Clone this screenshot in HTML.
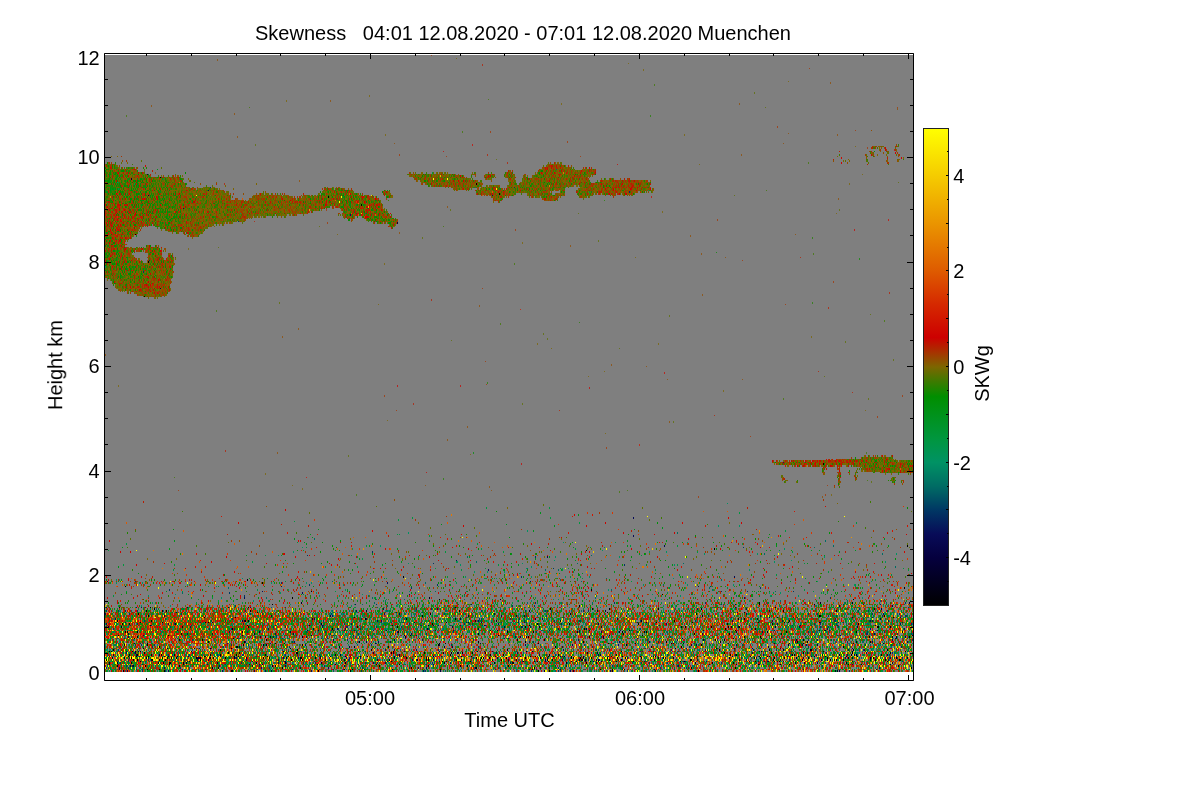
<!DOCTYPE html>
<html><head><meta charset="utf-8"><title>Skewness</title>
<style>html,body{margin:0;padding:0;background:#fff;overflow:hidden}svg{display:block}</style>
</head><body>
<svg width="1200" height="800" viewBox="0 0 1200 800">
<rect width="1200" height="800" fill="#fff"/>
<rect x="105" y="55" width="808" height="617" fill="#7f7f7f"/>
<g transform="translate(105.5,55)" fill="none" stroke-width="1" shape-rendering="crispEdges">
<path stroke="#000000" d="M1 604v2m3-10v1m2-1v1m1 5v2m1-10v2m4-31v2m0 40v2m0 1v2m1-32v1m3-10v2m1-5v2m1 45v2m1-28v2m0 11v2m1-73v1m0 44v2m2-2v2m1 23v1m1-3v2m2 1v2m0 3v2m1-13v1m2-14v1m1-405v1m0 416v1m1 4v1m1-26v2m0 3v2m0 16v2m0 3v2m1-48v2m2 7v1m0 28v1m0 9v1m4-366v1m0 355v2m1 11v2m1-57v2m0 45v2m1-16v3m0 23v1m1-409v2m0 352v2m0 39v1m2-50v1m0 17v1m1-6v2m0 32v2m1 3v2m2-53v2m5 36v2m0 11v2m0 8v1m1-493v1m1 476v2m1-34v1m0 34v2m1 3v2m1 6v2m1-13v2m1-51v2m2 23v1m0 20v1m1 5v3m1-3v2m4-10v2m2 1v2m1-3v1m2 8v2m2-34v2m2 27v3m3-3v2m8-16v1m2 8v2m4-2v4m2-22v2m2-24v1m0 38v1m1-35v1m3-1v1m0 18v2m2 5v1m0 5v2m0 1v2m2 8v2m1-12v2m5 8v2m2-20v2m0 3v2m5 1v2m3-7v2m3-6v1m0 21v2m1-44v2m0 40v2m1-34v1m1 17v1m1-40v1m1 28v2m0 6v2m1-10v2m1 8v1m1-5v2m3-23v2m1 11v2m1-5v2m1-23v2m2-43v2m0 44v1m1-19v1m0 12v2m0 4v2m2-18v2m6 50v2m1-52v1m5-31v2m0 80v1m1-21v2m0 11v2m2-23v2m0 16v2m1-17v2m0 3v2m1 10v1m2 0v2m3-55v1m0 60v2m3-24v1m0 21v2m7 0v2m1-18v1m2 10v2m1-7v2m2-3v1m2-9v1m1 10v2m1-64v2m4 53v2m1-5v2m0 1v2m3 3v2m1-2v2m1-23v2m0 6v2m0 13v2m7-36v1m2-35v1m0 43v1m4 21v2m2 5v1m1 5v2m3-49v2m7-429v2m2 458v1m2-29v2m12 29v2m0 8v1m1-14v1m0 5v2m5 6v2m2-3v1m2-53v1m0 28v2m3-22v2m2 13v2m1 13v1m1-453v2m4 412v2m2 36v1m4-8v2m8 14v2m9-21v2m1 11v2m2-9v2m1-29v1m0 43v1m1-19v1m1 5v2m3-33v2m1 3v2m1 31v1m4-89v2m0 78v1m3-39v2m0 37v2m4-24v1m1 31v2m3-47v1m1 33v1m6-1v1m1-42v2m2 35v2m2 5v2m2-36v1m0 33v2m0 4v2m2-54v2m2 8v2m1 31v1m5-13v2m1-47v1m0 43v1m1 25v1m2-9v1m2 0v2m1-21v1m5 10v2m1-4v2m4-36v2m1 39v2m3-51v2m1 53v2m1-11v1m0 2v2m1-9v2m5 11v2m3-6v1m1-6v1m1-5v2m4-471v2m0 472v2m0 8v2m1-18v1m1-19v2m0 6v2m2 16v2m1-4v2m4-7v2m4 3v2m1-5v2m2 3v2m2 1v2m4-29v1m1-443v2m1 404v1m1 59v2m2-7v2m3 1v2m1-28v2m0 16v2m1 14v2m5-5v2m4-25v2m6 20v1m2-36v2m0 13v2m0 14v2m1-8v1m2-16v2m1-13v1m1 30v1m2-6v1m1-21v2m1 34v2m1-13v1m2-34v2m0 36v1m1-19v1m0 26v2m2-15v2m4-20v2m4 15v1m0 4v1m1-8v2m0 14v2m1-64v2m2 49v2m1-5v1m2-11v2m3 6v2m6 0v1m2 5v2m3-41v2m2 31v3m2-2v2m3 2v1m3-57v2m0 52v2m1-4v2m3-18v2m1-15v2m1 29v2m1-111v1m0 111v2m3-28v2m1 23v1m1-73v2m0 66v2m5 0v2m2 0v1m2 7v1m7-58v1m0 44v2m1-16v1m1-36v2m0 25v1m0 23v2m3 8v1m4-9v1m1-5v2m4-8v1m0 7v2m1-30v2m0 23v1m2 12v1m1-13v2m1-15v2m3-16v1m4 30v1m2-19v1m3-21v2m2 31v1m1-37v2m0 35v2m1-24v1m4-5v2m7 23v1m1 2v2m1-5v1m1-35v1m2-15v2m0 47v2m4-65v1m1 62v2m3-18v2m5 0v1m2 13v2m1-39v2m6 39v1m1-36v2m0 18v2m1-10v1m2 22v1m1-36v2m5 31v2m1-2v2m0 6v2m1-47v1m2 10v2m1 27v2m1-51v2m2 55v2m3-64v2m0 34v2m1-31v2m9 9v2m1 34v2m2-116v2m1 89v2m1 7v1m3 0v2m1-10v2m4-4v2m0 11v2m1-26v2m2-7v2m1 1v2m1 5v2m0 22v2m1-5v2m3-18v1m0 23v2m2-34v1m0 36v2m1-15v2m2-38v2m1 6v2m0 31v2m5-49v1m0 5v2m0 16v2m6 18v1m4 0v2m1 2v1m3-40v1m0 41v1m1-63v3m0 51v1m1-21v2m0 19v2m1-21v1m0 12v1m6-21v2m0 23v1m2-8v2m0 5v1m2-5v2m1-31v2m1 34v2m1-4v2m0 2v1m1-55v1m2 9v1m2 43v1m1 2v1m3-55v2m0 37v2m1-29v1m0 34v2m2-28v2m2 11v2m1-3v1m0 20v1m3-11v2m2-2v2m1 6v2m1-7v2m1-18v2m1 13v1m4 2v2m1-22v2m0 2v1m0 8v2m4-13v2m1 14v2m2-10v2m4-47v1m0 51v1m5-42v2m0 5v1m1-8v2m3-154v2m2 165v1m0 25v1m2 0v2m3 0v2m6-51v2m0 47v2m7-15v2m0 11v2m3-5v1m0 5v2m2-7v2m0 5v1m3-11v2m1-54v2m0 48v2m1-55v1m0 49v2m3-20v2m0 21v2m1 0v1m1-34v2m3 39v1m8-29v2m1 3v2m0 14v2m3-2v2m2 0v2m3-35v2m3 26v2m2-13v1m1-29v2m1 42v2m2-12v2m0 10v1m3-36v2m0 24v2m0 10v1m2-29v2m1-21v1m3 18v2m0 19v2m2 6v2m1-8v2m1-2v2m2-30v2m2-46v2m1 62v1m2-107v2m2 89v2m2 29v2"/>
<path stroke="#02001f" d="M4 607v2m10-57v1m10 15v2m4 34v2m0 4v2m1-24v1m9 4v1m15 13v2m1-10v2m3-46v2m5 36v1m0 8v2m4-2v2m4-36v2m7 1v2m7 33v1m2-11v1m21-30v1m16-16v1m6 49v2m8-24v1m4 21v2m8-26v2m16 1v2m14 5v1m17-42v2m20 58v2m4-5v2m10-7v2m0 8v1m4-19v2m1 6v2m26-46v2m9 31v1m1 20v1m15-4v1m8-8v2m5-21v1m1 0v2m12 21v2m9-4v2m3-62v2m14 53v2m1-8v2m2-26v1m9-16v1m2 44v2m11-39v2m0 5v1m15 34v2m1-34v1m12-6v2m16 40v2m4-5v2m13-51v2m5 49v1m5-36v2m8 31v2m13-41v2m10-9v2m1 46v1m6-31v2m5 26v2m1-5v1m3-29v2m1 22v2m5-46v2m5 42v2m3 0v2m1-30v2m0 33v1m2-26v2m8 18v1m1 13v2m7-41v2m4 0v2m21-4v2m7 13v2m24 0v1m8-6v1m14 12v1m6-18v2m1 15v1m27-31v2m3 20v1m1-45v1m1 59v1m19-37v2m16 6v2m4-12v2m6 5v2m7-13v1m1-3v2m15 40v2m7-15v2m8-21v1m1-29v2m1 55v2m2-10v1m12 18v2m2-2v2m2-18v2m13-5v1m0 5v2m1-16v1m3-3v2m21-17v2m26 15v1m4 13v2m5-24v1"/>
<path stroke="#05003e" d="M2 526v1m1 44v2m1 36v1m4-11v2m15-23v2m0 1v2m2 27v2m1-489v2m4 472v2m1 0v2m2-5v1m9-478v1m1 20v1m3 463v2m9-373v1m4 326v2m0 39v1m12-45v1m1 17v1m2 8v2m8-34v1m1 48v1m9 0v4m1-4v2m1-2v2m6-3v1m3 2v2m1-4v2m3-26v2m5 27v2m22-18v2m3-28v2m2-2v2m5 42v1m3-4v1m0 3v2m7-36v2m1 3v2m11-23v2m0 53v2m14-11v1m0 3v2m5-36v2m3 0v2m7 32v2m7-39v1m5-13v2m1 8v2m5 0v1m2 25v3m10-44v2m3 22v2m11 24v2m5-21v2m17-7v2m7 9v2m4 5v2m9-31v1m7 21v2m1-15v2m0 15v1m3-435v2m2 389v2m0 41v1m27 10v2m1-41v2m1 27v2m5-34v1m0 33v2m6-17v2m0 5v1m1 18v2m6-11v1m6-36v2m0 18v2m6 4v2m0 2v1m2-39v2m1 15v1m14-16v2m0 45v2m3-41v2m2 13v1m1-22v1m9 7v1m4-18v2m1 41v1m2-27v1m0 26v2m4-44v2m3 9v2m4 31v2m8-46v2m0 39v1m4-21v2m0 18v1m4-42v2m2 19v2m6 31v1m3-52v2m9 50v2m1-13v2m15-5v1m12-13v2m1 24v2m8-13v2m2-4v2m6-29v1m4 30v1m3 0v2m1-54v2m1 11v2m0 29v2m0 3v2m5-23v1m2-29v2m11 42v2m1-38v2m29 2v1m8 46v1m1 0v2m18-29v1m0 20v1m18-21v2m5-2v2m1-29v1m5 15v2m1-5v1m6 33v1m19-22v1m4 12v1m3-50v1m1 23v2m2-7v2m8 31v2m3 0v1m3-14v1m5-31v2m2 44v1m9-19v2m0 13v1m1-45v1m5 25v1m3 17v1m19-23v2m4-16v1m2 18v2m9 10v1m6-13v2m0 16v2m3-42v1m2 31v2m2-26v1m3 28v2m7-2v2m5-56v2m0 63v2m1-37v1m12-19v1m0 43v1m2-8v2m3-30v2m13 31v2m4-53v2m0 23v2m1-10v1m1 43v1m1-40v1m3-13v2m1-12v2m6 44v2m5-51v2m0 55v2m13-28v2m4-36v2"/>
<path stroke="#080c58" d="M0 558v2m1-8v1m0 15v2m3 31v1m6-39v2m4 47v3m6-48v1m1 28v3m1 16v2m5-7v2m4-60v1m3 48v1m2-50v1m1 56v1m1-30v1m5 21v2m16 8v2m4-46v2m0 45v2m15-464v1m4 424v2m0 26v1m3-36v2m3 28v1m6-9v1m8 15v1m1-475v1m11 474v2m1-11v1m2 13v2m7-41v2m7 24v2m1-21v1m7-42v2m1 42v2m1 16v2m4-54v1m4 62v2m5-8v1m2 2v2m1-78v1m3 78v2m3-44v2m2 13v1m3-8v2m2-13v1m0 7v2m3 24v2m0 1v2m3-78v1m2 70v2m1 2v1m1-36v2m7 41v1m2-29v2m4 14v2m2 0v2m2-69v2m3 50v2m1-10v2m5 32v2m3-54v2m5 2v1m3 2v3m6 39v2m4-54v2m1 13v1m4-3v2m7 0v1m1-3v2m1 27v2m4-445v2m0 440v1m1-34v2m2 10v1m1-6v1m1-27v1m1 5v2m1 45v2m1-8v1m0 12v1m2-8v2m4 10v1m2-52v2m2 15v1m5-6v1m0 31v2m4-44v2m1 19v2m3-23v2m2-14v2m1 3v2m1 34v2m0 11v2m2-82v2m0 77v1m3-21v2m3-13v1m1 18v2m2-39v1m1 18v2m7 18v1m1-14v1m4-45v1m2 38v2m1 24v2m4-26v1m0 13v2m0 8v2m2 6v2m1-31v1m3 0v2m1 29v2m10-8v1m2-35v1m2-23v2m1 15v1m1 35v1m2-6v1m9 5v2m3-34v1m3-71v1m4 64v1m6-4v1m5-19v1m7 15v2m6 29v1m1-27v1m3-57v2m2 93v1m2-470v1m0 455v1m4 0v2m2-31v2m6 13v1m3-9v1m1 7v1m0 22v1m2 0v2m5-28v2m2 14v2m1-32v1m3 3v2m3-6v1m1 21v2m4 23v1m1-89v1m0 44v2m9 26v2m1 11v2m2-51v2m3 41v1m2-106v2m0 99v2m2-29v1m0 36v2m9-41v2m2 39v1m1-47v2m1 21v2m0 8v1m0 2v2m1-12v2m3 14v2m4 3v2m8-33v2m1-11v3m6 28v1m14-3v2m2-30v2m7 23v1m2 13v2m8-28v2m0 13v2m1-20v2m1-13v1m2 38v1m4-55v2m1 40v2m6-142v2m0 16v2m4 85v1m0 15v1m7 22v1m5-21v2m2 13v1m2-6v1m6-27v1m5-81v2m1 110v2m1-36v2m11 14v2m1 24v2m5-6v1m2-1v1m1-14v1m11-41v2m0 49v2m1-75v1m7 62v2m1 10v1m26-42v2m2-46v2m1 76v2m1-12v2m1-34v1m7-16v2m2 9v2m0 3v2m3 10v1m3 26v2m1-5v2m3 6v2m2 2v1m1-11v1m1-37v2m2 14v2m1 21v2m1 5v1m3-1v1m2-52v2m3 8v2m2 8v1m3-8v2m3 23v1m0 10v2m2-41v2m1 39v1m3-10v2m1 2v1m6-40v1m0 43v1m2-21v2m2-26v1m2 8v2m0 16v2m4 11v2m0 10v1m2-48v1m1 21v2m1 6v2m10-15v2m10-13v2m2 0v1m8-6v1m1-4v1m7 34v2m2-5v2m1-7v2m4-3v1m0 15v1m11-61v1m1 44v2m1-7v2m1 6v2m4-34v2m0 6v2m2-13v1m0 2v2m0 19v2m4 13v1m3 10v2m1-65v1m0 38v1m3-31v2m5 5v2m0 37v2m2-4v2m2-20v2m3-3v1m1-1v1m0 17v1m4-40v1m0 5v2m1 21v2m1-26v1m2 5v2m3 11v2"/>
<path stroke="#003764" d="M1 555v2m0 14v2m0 39v2m1-5v1m6-37v2m2-8v1m1 20v1m2-34v2m0 37v2m0 10v1m0 2v1m2-3v2m4-26v1m1-29v2m1 53v2m2-8v3m0 5v2m1-56v2m0 42v2m1-34v1m2 22v1m2 3v2m1-73v1m0 62v2m1 23v1m1-60v2m0 11v2m1 23v1m2-6v1m1 0v2m1 23v3m1-401v2m1 347v2m1-15v1m1 7v2m2 42v2m1-401v1m2 364v1m1 20v2m2-4v2m9 15v1m2-44v2m0 50v2m3-18v2m1-67v2m1 35v2m2 26v2m2-33v2m6 42v2m1-56v2m0 44v2m1 8v1m2-11v2m1-26v1m4 18v2m2-31v1m1 13v2m0 11v2m6 7v1m2-40v1m5-13v2m0 3v2m0 52v1m4-42v2m1-443v1m1 432v2m0 26v1m3 7v1m3-3v2m6-21v1m0 10v2m2-28v2m0 42v1m2-22v1m2-52v2m0 63v2m1 2v1m1-34v2m0 14v2m1-28v2m0 32v2m2-26v2m1-25v2m0 50v2m3-438v1m1 435v2m2 3v2m1-10v2m1-33v2m0 29v2m1-61v2m1 13v2m1 52v1m1-34v2m1 11v2m2-33v2m5 21v2m1 18v1m1 12v1m2-5v2m3-54v2m7 52v2m4-43v2m3 7v3m5-56v2m1 54v1m3-32v1m0 46v2m1 6v2m2-13v1m1-6v2m3-35v2m0 26v2m4-8v1m1 18v2m6 6v2m3-33v2m1-78v1m0 96v2m2-70v2m5 75v1m1 0v2m4-10v2m0 13v1m2-32v1m2-19v2m0 3v1m1 39v2m1-36v2m2 5v1m3-6v2m0 27v2m1-51v2m0 15v1m2 4v1m0 33v1m3-13v2m2-31v2m3 29v2m2 8v1m1-47v2m2 1v2m1-2v2m0 11v2m1 18v2m1-4v4m7-30v2m2 0v2m1 1v2m1-10v2m1-12v2m0 50v2m1-5v2m3-18v1m0 10v2m6-20v2m0 10v1m1-106v2m0 95v1m4-45v1m0 21v2m0 15v1m1 18v2m4-42v1m4 12v1m4 20v1m2-35v1m1 5v2m3 3v2m2 19v2m4-30v2m2-6v1m2-6v1m0 38v1m4-34v2m0 42v2m2-82v2m1 18v1m4 0v2m4 15v1m1-4v1m0 2v1m1-14v1m3 57v2m1-39v2m0 29v1m2-37v2m3-22v2m1 52v2m1-101v1m0 101v2m2-11v1m2-73v2m1 63v2m1-16v1m4 2v1m1-26v2m5 33v1m1-24v1m1 18v2m2-15v2m1-26v1m0 51v2m3-23v1m7-16v2m0 3v2m2-13v1m2 43v1m0 7v1m1-47v2m3-2v2m1 14v2m0 16v2m2-44v2m3 29v2m1-30v2m2-10v2m0 6v4m1 3v1m1 35v1m8-40v1m4 46v1m3-3v2m3-47v1m2 12v1m2 31v2m5-51v2m1-3v1m0 38v1m1-52v2m2-420v1m2 463v1m2-32v2m1-4v2m2-44v2m1 48v2m0 33v1m2-42v2m1-12v2m0 49v1m1-47v2m0 5v1m3 18v2m1-31v1m1 57v2m2-31v2m1-38v2m0 52v2m1-105v2m0 44v2m1 27v2m0 36v1m1-14v1m1-34v2m2 13v1m1-9v1m4-21v2m1 3v2m0 19v2m0 16v2m1-46v2m4-2v2m1 13v1m1-58v1m1 51v2m1 32v2m0 9v2m2-55v1m1 48v1m0 5v2m0 1v2m2-34v1m3-22v1m0 39v2m4-55v1m12 15v2m1-2v2m1 34v1m2-47v2m1 32v2m0 13v2m4-51v2m0 47v2m4-15v2m4-30v2m0 29v2m5-15v2m8 11v2m1 11v2m2 1v2m1-24v1m1-42v2m3 61v2m5-8v2m2-97v2m1 65v2m2 37v2m2-481v2m2 437v1m1 31v2m5-33v2m3-13v2m0 6v2m0 21v1m1 10v2m1-13v1m3-4v1m1 12v1m1-23v2m1-18v2m1 37v2m1-34v1m3 33v1m5-24v2m2 24v2m3-5v1m1-53v1m3 41v2m0 6v2m3-28v2m1 11v2m3 18v1m3-5v2m1-16v1m8 15v2m2-2v2m1-23v2m5-5v1m1-24v2m2 42v1m7-26v2m1-39v2m2 45v2m1-36v2m2-31v1m6 48v1m1 3v2m0 7v1m4-58v1m0 12v1m0 57v2m5-34v1m5-14v1m3 31v2m0 8v2m7-43v2m0 37v2m1-15v2m1-99v1m1 91v2m3-50v1m4 36v2m5 32v2m2-8v1m1-37v2m1-35v2m0 72v1m3 2v1m2-14v1m1-24v2m5-8v1m5 26v2m0 5v1m3 12v1m3-53v1m1-156v1m6 196v2m2-10v1m0 2v2m1-31v1m1-35v1m0 54v2m8-5v1m4-8v2m3-25v2m0 16v2m0 6v2m0 5v2m3-23v1m3-3v2m0 34v2m1-12v2m1 3v2m1-43v2m3 8v2m0 1v2m2 37v2m4-15v2m2-39v2m0 9v2m2-31v2m1 40v2m1-16v1m2-6v2m1-4v4m1-7v2m0 6v2m1 10v1m1-10v2m5-24v1m0 17v1m3 5v2m1 11v2m2 27v2m1-34v1m8-29v2m1-4v2m3 51v1m1-44v2m0 29v2m1-36v2m1 19v2m1-5v2m1-4v4m0 16v1m1-42v2m0 53v2m1-47v2m2 35v2m1-46v2m3 46v1m3-55v1m1 4v1m3 2v2m1 47v1m1-34v2m1 24v2m2-49v2m2 42v2m0 1v2m2-15v2m1 6v2m2 3v2m3-34v1m0 7v2m0 22v2m2-46v2m0 28v1m3 13v2m0 2v1m3-60v2m0 11v2m1-2v2m2-10v1m0 40v1m3-26v2m0 8v2m1 4v2"/>
<path stroke="#006c64" d="M0 591v2m2 0v1m0 5v2m4 3v2m0 8v1m2-39v2m1 11v2m1 10v1m0 12v1m1-47v2m1 13v1m0 22v1m1-24v1m1 5v2m0 16v2m1-23v2m0 8v1m1 17v1m1-18v2m2 5v2m1 9v2m1-5v2m2-44v3m1 34v2m0 1v2m2-57v2m0 49v1m1 5v2m1-52v1m0 21v2m0 23v1m3 2v2m4-13v1m1-27v1m0 7v1m0 30v1m2-29v2m0 18v1m3-1v1m2-40v1m2 36v2m1-48v2m0 26v2m1-10v2m3 32v2m1-61v2m2 44v3m0 4v1m1-50v1m0 12v1m0 26v2m1-24v1m1 0v2m1-10v2m1-15v2m4 42v2m1-26v1m1 25v1m4 2v2m4-9v2m1 2v1m1-5v2m2 2v1m1-65v2m0 14v2m2 54v1m1-42v2m0 5v1m0 25v3m1-16v1m0 10v2m2-2v2m1-20v2m0 29v3m1-5v2m1-55v1m1 5v2m0 29v2m2-26v1m3-14v1m3 57v2m2-18v2m2-17v2m0 20v1m4-37v1m3-1v1m0 35v1m1-32v1m0 21v2m3 2v1m2-1v3m1-10v2m0 3v2m1-2v2m2-48v2m0 51v1m1 3v2m1-11v3m0 8v2m1-88v1m0 82v1m2-40v1m2-39v2m2 36v1m1 30v1m0 8v2m1-42v1m4-4v1m0 12v1m2-29v1m0 30v1m2-26v2m1-3v1m0 35v1m3 16v2m0 2v1m4-40v1m4 23v2m2-4v2m1-24v1m0 26v2m2-44v2m0 35v2m1-37v1m2 13v2m2-7v2m1 2v1m0 15v3m1-26v2m0 19v2m0 16v2m1-21v1m1-47v2m1 27v2m1-21v1m1 57v2m1-29v1m0 30v1m1-63v1m1 30v1m0 18v2m1-31v2m1 32v2m2-44v2m0 27v2m1-28v2m1-2v2m2-3v1m0 15v1m0 2v2m0 1v2m1 10v1m1-37v2m0 27v2m1-18v2m0 17v2m1 0v2m0 1v2m0 5v1m1-35v1m1 28v2m1-23v1m4 12v1m1 10v2m4-46v2m2 2v1m1 21v2m1-34v1m1 38v1m2-30v1m1-5v2m1 42v2m1-8v1m1 0v2m1-34v1m0 4v1m1 25v1m0 5v2m1-39v1m0 36v2m1-42v3m1 31v1m2-119v2m1 72v1m1 33v2m1-33v2m1 14v2m2-11v3m0 24v2m1 3v2m1-20v2m0 5v1m0 21v2m2-45v1m1 7v1m2 5v2m0 23v1m2-49v2m1-3v1m0 13v2m0 23v1m1 2v2m1-75v1m0 28v2m0 8v2m0 34v1m1 2v2m0 9v2m1-44v2m2 8v1m1-16v2m4-12v2m2-2v2m1 41v1m2-9v1m1-36v2m0 46v1m2-52v2m0 26v1m1 23v3m1-35v1m1-13v2m0 10v1m1-21v2m2 44v1m1-21v2m1-26v1m0 31v2m1-16v1m0 4v1m0 5v2m0 13v1m1-37v2m0 37v2m0 8v1m1-53v1m0 7v3m1 37v2m1-63v1m0 7v1m0 2v2m1 9v2m2-415v1m2 453v2m1-74v2m2 38v1m2-39v2m0 37v2m1-21v1m1-16v2m0 24v2m0 3v2m0 27v2m0 1v2m1-49v2m1-21v1m1 7v1m1 14v1m3-10v2m0 23v1m1-6v2m1-12v2m1-3v1m0 36v2m1-61v2m0 20v1m0 5v2m1-20v2m0 44v1m1-52v2m0 3v2m0 11v2m0 16v2m1-23v2m0 8v1m1-19v1m0 18v2m0 31v1m4-9v1m2 10v2m3-39v1m1-11v2m1-7v2m0 11v2m0 19v2m0 11v2m1-42v1m0 12v1m2-8v2m1-31v1m0 18v2m0 44v1m1-52v2m1-3v1m1 4v1m0 10v2m0 1v4m1-22v2m0 10v1m1-4v1m0 5v2m1 35v2m1-54v4m0 18v1m2 18v2m1-48v2m0 5v2m1-7v2m0 1v2m0 13v2m1-20v2m0 18v1m1-3v2m0 39v1m1-44v2m1-11v1m0 5v2m1 8v2m2-31v1m0 12v1m1-1v1m0 23v2m1-15v2m0 40v2m1-90v2m0 80v1m1 4v1m2 0v2m1-37v1m1-6v1m0 31v2m1-42v1m0 3v2m0 36v1m1-57v2m0 7v1m1 12v1m2-40v1m0 28v2m1 37v2m1-46v2m2 5v1m1 42v2m1-37v1m1 31v2m1-36v2m1 8v1m1-29v2m0 58v2m1-62v2m1 18v1m0 17v1m2-37v1m0 26v2m3-24v1m1 52v2m2-55v1m0 2v2m1-4v2m1 36v1m1-37v2m0 6v2m2-8v1m0 7v1m1 36v2m1-13v1m1-44v2m1-20v2m0 2v1m0 38v1m1-32v1m1-17v1m0 28v2m1-66v2m2 73v2m3-20v2m0 10v1m2-439v1m0 479v3m2-109v2m1 57v2m0 42v1m2-45v2m3 9v2m2-16v1m1 25v1m1-19v1m1-32v1m2 35v1m3 15v2m1 4v2m5-39v2m0 44v1m2-54v2m1 41v1m1-40v1m0 13v2m0 2v1m1-21v2m0 39v1m1-44v2m0 18v2m1-5v1m3 44v2m1-46v5m1-9v1m1-1v1m2-5v2m0 13v2m1 30v2m2 2v3m2-57v2m0 42v2m1-44v1m1 44v2m2-5v2m1-9v2m1-26v2m2-12v2m0 8v2m0 35v2m1-99v1m0 33v2m0 47v1m0 10v2m1-46v2m0 49v1m7-26v2m2-31v2m1-4v2m0 42v2m3-13v2m0 13v1m1-45v1m1 12v1m1-21v2m1-43v2m0 78v2m1-56v2m0 15v1m2 18v2m2-16v1m0 20v1m1-26v2m0 16v2m2 10v1m1 8v2m1-41v2m0 47v2m0 6v2m1-503v1m0 450v2m1 39v1m1-93v2m1 52v2m1-46v2m0 86v2m0 1v2m1-70v2m2 14v2m0 15v1m2 21v4m1-25v2m1 24v2m1-36v2m0 27v2m0 2v1m0 3v2m1 0v2m0 1v2m1-54v2m1-10v2m2 24v2m0 1v2m0 8v2m2 14v2m1-32v1m0 33v1m1-107v1m0 51v2m0 5v1m0 39v2m3-21v1m1-63v1m0 12v1m0 15v2m1 13v1m1-13v2m0 7v1m0 26v2m1 18v1m1-47v2m0 3v2m0 5v4m0 12v1m1-35v1m1-11v1m0 48v1m2 10v2m1 0v3m1-117v1m0 77v2m1-33v2m0 57v1m1-24v1m1 31v2m1-75v2m1-4v2m0 57v2m3-41v2m1 27v2m5-42v1m0 20v1m1-48v1m1 56v1m2 28v1m1-47v2m0 32v2m1-65v2m1 37v2m4 6v2m1 3v2m1-12v2m2 5v1m1-3v2m0 11v2m0 16v2m1-59v2m0 11v2m0 42v2m1-47v1m1 47v2m3-28v2m0 6v2m4-2v2m0 16v2m2-54v2m0 29v2m4-33v2m0 32v2m3 0v2m2-39v1m0 5v2m0 42v2m1-47v1m1-19v1m0 10v2m0 53v2m1-13v2m3-23v1m1 10v2m5-28v2m1 14v2m1-29v1m0 17v1m0 2v2m0 19v2m1-10v2m2-28v2m1 16v1m0 2v2m0 13v1m1 8v2m1-34v2m0 8v1m0 13v2m1-75v2m2 44v1m1 0v2m0 29v2m0 5v1m1-39v4m3 22v2m2-18v2m2-2v2m1-35v2m0 46v1m1-16v2m0 16v2m1-129v2m0 83v1m0 41v2m4-41v2m0 37v2m0 1v2m2-101v1m0 44v2m1 31v2m1 13v1m3-49v2m1 39v2m0 13v1m2-11v2m1-62v1m0 17v1m0 52v2m1-32v1m0 16v2m0 11v2m2-65v2m1 26v1m0 39v2m1-23v2m1-7v2m1 3v2m1-25v2m6-20v2m1 42v2m2-67v2m3 0v2m0 16v1m0 36v2m3-21v1m0 23v2m0 1v2m1-47v1m1 53v1m0 7v1m1-71v1m0 43v1m3-65v2m0 27v2m1 26v2m1-34v1m0 31v2m1 26v1m6-47v2m2 11v2m3 2v1m1-41v2m1 26v2m1 11v2m1-34v1m5 52v2m1 5v1m3-45v2m1 45v2m1-51v2m0 39v2m1-43v2m0 31v1m0 5v2m1-60v1m0 23v2m0 13v1m2-29v2m2 36v1m0 10v2m1-31v3m1-5v2m0 29v2m6-108v2m0 94v2m3-49v2m0 55v2m2 6v2m3-39v1m0 10v2m2 19v2m1-73v1m0 16v2m0 44v2m0 11v2m1-10v2m1-30v2m2-28v2m1-7v2m0 5v1m1 30v1m1 20v2m1-25v2m2-12v2m1-2v2m1-3v1m0 2v2m1-12v2m0 41v1m0 3v2m1-31v2m2-23v2m0 9v2m4 11v2m3-23v2m1 23v1m1-21v2m0 29v2m1-34v1m0 42v2m2-34v2m1 13v1m1-19v1m2 4v1m0 15v1m0 4v1m3-34v2m0 36v1m1-45v1m0 34v4m2-25v2m1-86v1m0 83v2m1-25v2m0 15v3m1-23v2m0 24v2m1-5v2m0 1v2m0 10v1m1 13v2m0 2v1m0 7v1m1-34v2m2-12v2m1-8v2m0 24v2m0 4v2m0 5v2m3-121v2m0 94v2m0 24v2m1-46v2m0 11v2m0 5v1m3-8v2m1-3v1m1-11v2m1 34v1m1-112v2m0 68v2m1 29v2m1-7v2m0 9v2m1-15v2m2 15v1m2-19v1m1 12v1m0 4v1m2 5v2m1-62v2m0 35v2m1-28v2m0 20v1m0 28v1m1-50v2m0 6v2m1-25v2m2 41v3m3-28v2m1-5v2m1-9v2m0 10v2m1 17v2m1-19v3m1-13v1m0 12v1m0 23v2m0 1v4m1-26v1m1 26v2m2-21v1m0 18v2m1-18v2m0 11v2m1-15v2m1-4v2m2-2v2m0 21v2m1-47v1m0 5v2m1-2v2m0 24v2m2-28v2m0 19v2m1-11v1m0 13v2m1-41v2m0 27v2m1-26v2m2 16v2m0 32v2m2-59v2m1 11v2m0 5v1m0 13v2m2-46v2m2-49v2m0 83v1m2 2v2m1-31v1m1-11v2m0 26v1m2-16v2m0 22v2m2 15v1m1-34v2m0 21v2m1-36v1m0 44v2m1-44v2m1 37v2m1-90v2m0 84v2m1-34v2m0 22v2m1-33v2m2 54v1m2-58v1m0 2v2m1 13v1m0 7v1m1 22v1m1-14v1m4-16v2m0 1v2m0 13v1m2-45v1m1 48v1m0 8v2m1-44v2m0 8v2"/>
<path stroke="#009264" d="M0 211v2m0 370v1m1-6v2m0 14v2m1-2v2m0 5v1m1-35v1m1 16v2m0 8v2m0 1v2m0 11v2m1-41v2m0 21v2m0 3v2m1 8v1m0 2v2m1-59v2m0 6v2m0 36v1m1-1v1m0 5v2m2-36v2m1-51v2m0 1v2m0 72v1m0 12v1m1-488v1m0 466v2m1-33v2m0 3v2m0 37v2m1-85v2m0 29v2m0 29v2m1-33v2m2 1v2m1 23v1m0 15v2m1-34v1m1 7v1m0 5v2m0 24v2m1-10v2m0 5v1m1-36v2m0 2v1m1-1v1m0 13v2m0 6v2m1 15v1m2-55v2m1 13v1m1 39v2m1-5v2m2 1v2m1-29v1m2 17v1m0 7v1m2-65v2m0 3v2m1-30v2m0 68v2m1-34v2m1-38v2m1 47v2m0 1v2m0 10v1m1-21v2m0 29v2m0 1v2m2-69v2m0 68v2m1-54v2m0 42v2m1-11v1m2-47v2m1 6v2m0 42v2m0 13v1m3-42v2m0 34v1m1-24v2m0 1v2m2-24v1m0 38v1m0 3v2m1 0v2m1-54v2m0 16v2m1-23v1m0 17v1m0 4v1m0 3v2m0 28v1m1-57v2m1 31v2m1-41v1m0 4v1m0 31v2m0 15v1m1-80v2m0 86v2m1-59v2m0 3v2m0 41v1m0 5v3m3-65v2m0 15v1m1-1v1m1 5v2m0 39v3m1-46v4m0 24v2m1 1v4m0 4v4m1-75v1m0 54v2m2-20v2m0 24v2m0 2v1m1-36v2m0 33v1m1-39v2m0 26v1m0 12v1m1-3v2m2-28v2m0 1v2m1 8v2m1 18v1m1-60v2m0 13v1m0 36v2m1-51v2m1-31v2m0 34v2m0 35v2m1-28v2m1 18v1m0 4v1m1-13v2m2-21v1m0 9v1m0 25v1m1 8v2m1-44v2m1-13v1m2 4v1m0 31v2m0 5v1m1-14v1m1-44v2m0 63v2m2-34v1m1-32v1m0 15v2m0 26v1m1 0v2m1-32v1m0 36v2m3-38v2m0 14v2m1-5v2m1-12v2m0 20v1m1-32v1m0 38v1m1-14v1m1-36v2m0 55v2m1-13v2m1-46v2m1 27v2m0 11v2m0 15v1m1-84v1m0 70v2m1-49v2m2 10v1m0 39v2m1-38v2m1-31v2m0 13v1m1 39v2m1-29v1m0 5v2m0 37v2m1-65v1m0 20v3m2 15v2m0 11v2m0 3v1m1-6v2m1 0v1m1-21v2m1-15v2m0 35v2m1-42v1m1-11v2m0 6v2m0 37v2m1-44v2m0 27v2m1-28v2m0 13v1m2 23v2m1-5v2m0 4v2m2 2v1m1-457v1m0 432v2m1 3v1m1-74v1m1 69v1m0 3v2m2-18v2m0 21v2m1-39v1m0 23v2m1-5v1m1 2v2m0 14v2m1-44v2m0 35v2m0 3v2m1-10v2m1-15v2m1-30v2m0 15v1m0 25v1m1-57v2m1 37v2m0 2v3m1-8v1m1-9v1m1 10v2m0 6v2m1-28v2m0 3v2m1-18v1m0 5v2m2 19v2m1 13v2m1-21v1m0 15v1m0 9v1m1-54v2m0 41v1m0 18v2m3-42v1m0 38v3m1-72v2m0 23v1m0 23v2m0 14v2m1-32v1m1 31v2m1-87v2m0 51v1m0 20v1m1 7v1m2-55v2m0 13v1m0 10v2m0 19v2m2-8v1m1-17v1m0 13v2m1-96v1m0 69v1m0 30v1m1-39v2m0 10v1m0 26v2m1-67v2m0 36v1m1 10v2m1-8v1m0 25v1m1-24v1m1-8v2m1 37v2m1-11v1m0 2v1m1-8v2m1-70v2m0 63v2m2-52v1m0 18v2m0 40v2m2-41v2m1-77v2m0 109v2m1-42v1m2-1v1m0 36v2m1-39v1m0 33v1m1-73v2m0 44v1m0 28v2m1-23v1m2-22v1m0 10v2m1-83v1m0 87v1m1-5v2m1-8v1m0 4v1m0 10v2m0 3v2m0 4v2m0 5v2m0 3v1m0 4v1m1-55v2m0 1v2m0 10v1m1-49v2m0 81v2m0 3v2m1-44v2m1-93v1m0 100v1m1 2v2m0 22v2m1-55v1m0 9v1m0 28v1m1-70v2m1 44v2m2 26v1m1-19v1m1-47v2m0 71v4m1-56v2m0 18v2m2-40v2m0 49v2m1-28v2m0 6v2m1-20v2m0 13v1m1 12v1m1-1v1m0 10v2m2-26v1m1-1v1m0 44v2m1-24v1m0 5v2m0 13v1m1-42v2m0 22v2m2-41v2m0 24v2m0 3v2m1-36v2m0 44v1m1-44v2m1 0v2m0 29v2m0 6v2m0 6v2m1-46v2m0 18v1m1-24v2m0 8v1m1 38v1m0 4v1m1-58v1m2-18v2m0 46v1m0 8v2m1-37v1m0 7v1m0 7v2m0 29v1m1-17v1m0 5v2m0 14v2m1-59v4m0 9v2m0 10v1m0 15v2m0 6v2m1-80v2m1 27v2m0 16v2m0 2v1m1-47v2m1 32v2m1-20v2m0 5v1m0 20v3m0 26v2m1-47v1m0 13v2m0 11v2m1-24v1m1 3v2m1-23v2m0 19v2m0 5v2m0 1v2m1-90v2m0 120v2m1-52v3m0 36v2m1-38v3m1 0v4m1-18v1m0 15v2m0 26v1m0 8v2m1-3v1m1 0v2m1-34v2m0 3v1m0 22v1m1-52v2m0 10v1m1-3v2m0 9v2m1-39v1m1 20v2m0 29v2m0 11v2m1-10v1m0 15v2m1-54v3m0 10v2m1-2v2m2 32v2m2-49v2m0 1v2m0 2v3m0 1v2m1 2v1m0 26v2m0 11v2m1-49v2m0 3v2m1-2v2m0 11v2m1 14v4m1-39v1m1-11v3m0 5v2m0 1v2m1 6v2m0 5v1m1 0v2m1-28v2m0 33v1m0 7v3m1-114v2m0 66v2m0 37v2m0 5v2m1-44v1m0 7v1m2-4v1m0 28v1m0 5v2m1-52v1m0 17v1m0 2v2m0 40v2m1-62v2m0 21v2m1-422v1m0 414v2m1 34v1m1-55v2m0 21v2m0 27v2m0 1v2m1-52v2m0 45v2m2-44v2m0 43v2m1-76v1m0 73v2m1-44v3m0 28v2m2-30v2m0 28v1m1-44v2m0 13v2m0 9v2m0 23v1m1-60v2m0 15v1m1-19v1m0 8v2m0 3v2m0 15v1m2-11v1m1-11v2m0 1v2m0 8v2m1-12v2m0 5v1m1-6v2m1 40v2m1-42v1m0 5v2m1-10v3m0 44v2m2-137v2m0 29v1m0 67v2m1-42v1m0 15v1m1 20v2m0 14v2m0 18v1m1-13v2m0 5v2m1-62v1m0 61v1m1-42v2m0 29v1m0 5v2m1-62v2m0 40v2m1-19v1m3-11v1m0 7v3m0 12v1m2-21v2m0 18v1m1-6v1m1-24v1m1 17v1m1-6v2m1 24v2m2-28v2m0 32v2m1-51v2m0 8v2m0 1v2m0 6v2m0 5v2m1 1v2m0 23v1m1-6v1m1 10v2m1-30v2m0 23v1m1-8v2m1-31v2m0 29v2m1-38v2m1-21v1m1 62v2m1-46v2m0 5v1m1-23v2m0 49v2m1-79v2m2 34v2m0 8v2m0 3v2m0 29v1m1-39v2m0 21v2m0 8v2m0 3v1m1-53v1m0 15v2m1-23v3m0 44v2m1-31v1m1-26v2m0 8v2m0 47v2m1-35v2m1-37v1m0 31v2m1 11v2m1 23v3m1-39v1m1-6v2m0 1v2m1 40v2m1-26v2m1 3v2m1-87v2m0 50v2m2-3v1m0 7v2m1-58v2m0 41v1m1 14v1m0 2v3m0 42v2m1-47v1m2 36v2m1-88v2m0 45v2m1 27v2m1-24v1m0 33v1m1-45v2m0 3v1m1-4v1m0 16v2m1-16v1m0 30v1m1-35v1m0 12v1m1-39v2m1-15v2m0 60v2m1-77v2m0 34v1m0 18v2m0 29v2m1-47v1m1 4v1m0 7v1m2-14v1m0 4v1m0 20v1m0 9v1m0 16v2m1-34v2m1-28v1m0 7v2m0 53v2m1-57v2m0 16v2m1-9v2m1-2v2m2-8v2m1-10v1m1-42v2m0 47v2m0 14v2m0 10v1m1-29v2m0 8v1m1-3v2m1-17v2m0 10v1m1-14v1m1-5v2m0 10v2m0 4v2m1-26v2m0 11v2m0 19v2m0 26v1m1-60v2m1 16v2m1-47v1m1 39v2m1 34v2m1 9v2m1-50v1m0 5v2m1 31v1m1-76v1m0 36v2m0 18v1m1-39v2m0 24v2m1-57v2m0 37v2m0 13v1m0 33v2m0 1v2m0 1v2m1-60v1m0 15v2m0 40v2m1-50v1m1 34v2m1-47v1m0 10v2m0 47v2m1-47v1m0 33v1m1-27v1m1 23v2m2-48v2m1 23v3m0 16v2m1-31v2m1 42v2m1-69v2m0 67v1m1-57v2m0 13v2m0 1v2m1-60v1m0 39v2m0 8v2m0 39v1m3-102v1m0 59v2m0 5v1m0 5v2m1-25v2m0 5v2m0 32v2m1-48v2m1 55v2m0 3v2m1-104v1m0 2v2m0 44v1m1-88v2m0 85v3m0 6v2m0 7v1m0 8v2m1-2v2m1-24v1m1 2v1m0 33v2m1-95v2m0 8v2m0 22v2m1 6v2m0 10v2m0 43v2m1-31v2m0 32v2m2-65v1m0 5v2m0 26v2m1-5v3m1-21v2m0 11v2m2-10v1m2 36v2m1-67v2m1-20v2m0 29v2m0 19v2m1-60v1m0 78v2m0 3v2m0 6v2m1-52v2m0 3v2m0 17v2m1-15v2m0 33v1m1-36v2m1-10v2m1-2v2m1 45v2m1-11v1m0 4v1m0 5v2m2-62v1m0 62v2m1-112v1m0 74v1m0 34v2m1-116v2m1 60v2m0 13v2m0 19v2m1-51v2m1 6v2m0 15v1m1 0v2m0 6v2m1 16v2m2-91v1m0 53v3m1-83v1m0 80v2m0 36v1m0 7v1m2-94v2m1 40v2m0 5v1m2-14v1m0 26v2m0 18v2m0 1v2m1-57v1m0 12v2m0 9v2m1 32v2m1-52v2m0 19v2m0 3v2m2 5v1m0 18v2m5-47v1m1 33v1m0 8v2m1-41v2m1 0v2m0 35v4m1 1v2m1-49v2m0 39v1m1-45v2m1-28v1m0 30v1m3-6v2m1-46v2m1 47v1m2-14v3m0 47v2m1-12v2m1-44v2m0 24v2m0 5v1m1-29v3m1-1v1m0 28v3m1-23v2m0 26v2m0 1v2m1-34v1m0 5v2m0 37v2m2-70v2m0 32v2m1-13v1m0 15v2m1-93v1m0 119v2m1-7v2m1-44v2m0 19v2m0 6v2m0 5v2m1-33v2m0 31v1m1-16v2m1-7v2m1-54v2m0 35v2m1 2v1m2 21v2m2-36v2m0 8v2m0 35v2m1-42v1m0 15v2m0 24v2m2-52v1m1 13v2m0 28v1m0 8v2m2-116v2m0 54v1m0 25v1m0 25v1m2-30v1m0 16v2m1-26v2m0 27v2m4-10v2m0 10v1m1-49v2m0 15v1m3 5v2m2-25v2m0 13v2m0 1v2m0 21v2m1-10v2m1-23v1m0 41v2m1-30v2m0 16v2m1-18v2m0 22v2m1-19v1m1-5v2m1-31v2m0 29v2m1-13v1m1 7v1m1-3v2m0 26v1m1-86v2m0 26v1m1 33v2m1-40v2m0 21v2m0 8v2m0 26v1m1-63v1m0 22v1m1 15v2m0 21v1m1-480v1m0 474v2m1-116v2m0 101v2m1-15v2m2-49v1m0 38v2m0 17v2m0 8v2m2-34v1m0 23v2m1-72v2m0 11v2m0 1v2m0 33v1m0 2v1m1 22v1m1-24v1m3-21v2m0 13v2m1-36v1m0 59v2m0 8v1m1-35v1m1-31v2m0 1v2m0 2v1m0 9v1m0 31v2m0 11v2m2-36v2m1-84v2m0 103v1m2-70v2m1 23v1m0 44v2m0 6v2m1-57v2m0 3v2m1 14v2m0 28v1m1-58v1m0 7v1m0 17v1m0 5v2m0 6v2m1-68v1m0 65v2m1-82v2m0 80v2m1-43v3m0 23v2m0 19v2m1-23v2m1-23v2m0 1v2m0 49v1m1-65v2m0 11v2m0 23v1m0 5v2m1-46v2m0 6v2m0 7v1m0 18v2m0 11v2m0 11v2m1-69v2m0 51v1m0 16v2m1-36v2m0 28v1m1-52v2m0 42v2m2 6v2m1-82v2m0 3v2m0 76v2m1-18v2m0 11v2m1-122v1m0 41v2m0 75v1m2-47v2m1 34v3m1-44v2m1 55v2m1 1v2m1-33v2m1-34v1m0 15v2m0 21v2m0 6v2m0 14v2m1-52v2m0 11v2m0 3v3m0 2v1m0 7v1m1-11v2m1-21v3m0 24v2m1-8v1m2-27v1m1 30v1m1-18v2m1-80v2m0 88v1m0 23v2m1-33v2m1 21v2m1-25v2m1-21v1m1 13v2m0 5v1m1-39v2m1-16v1m0 28v2m1 11v2m0 21v1m0 7v2m4-28v2m0 29v1m1-52v2m0 36v1m1-127v2m0 85v3m1 18v2m1 14v2m1-31v2m2-2v2m0 21v1m0 7v1m2-47v2m2-104v1m0 144v1m1-5v2m0 2v1m1-47v2m0 63v2m2-70v1m0 62v2m1-62v2m0 4v2m0 7v1m1-34v2m0 75v1m1-54v2m3 36v2m0 4v2m1 3v2m1-134v2m0 112v2m1-16v1m0 36v2m0 5v1m1-9v1m1 0v2m3-25v2m0 10v1m0 2v2m1-2v2m0 1v2m1-55v1m0 8v2m0 47v2m2-95v2m0 93v1m1-40v1m0 13v2m1-24v1m0 25v1m1 0v2m1 21v2m1-47v4m1 0v2m0 10v1m2-86v2m0 101v1m0 2v2m0 6v2m1-54v2m0 29v2m1-25v2m1-15v2m0 29v2m2 1v2m0 11v2m1-2v2m2-31v2m0 14v2m1-20v2m0 28v1m1-16v2m2-51v2m1 1v2m0 46v1m0 5v2m0 3v2m1-26v1m1 28v2m1-39v1m1-62v2m0 50v2m0 11v2m0 39v2m1-44v1m1-9v1m0 5v2m1 32v2m2-24v1m0 21v2m1-67v2m0 11v2m0 21v2m0 31v1m1-34v2m1-4v2m1 26v2m1-108v2m0 78v2m0 19v2m0 19v2m1-26v3m1-36v4m0 11v2m0 6v2m0 3v2m1-26v3m0 34v2m1-21v1m0 10v2m2-33v2m0 27v2m0 15v1m1-102v1m1 82v1m0 21v2m1-42v1m0 2v2m1-8v1m1-1v1m0 2v1m0 17v1m0 2v3m1-47v2m0 24v2m0 37v2m1-62v3m0 47v2m1-64v2m0 29v2m0 7v1m0 2v1m1-26v2m0 46v1m1-32v3m2 6v2m0 11v2m1-8v2m1 8v1m1-31v2m2-15v2m0 29v2m0 3v2m1-25v4m0 37v2m2-47v1m0 8v2m1 13v3m0 15v1m1-43v1m0 20v1m0 2v2m1 8v1m1-44v2m0 26v2m1-10v2m1-5v1m1-50v1m0 54v2m1 21v2m1-33v2m0 1v2m0 37v2m2-50v1m0 44v2m1-36v2m0 13v1m0 7v1m1-44v2m0 34v2m1-95v2m0 54v1m0 9v1m2 26v2m1-34v1m0 7v1m1 30v1m0 7v1m1-39v2m0 20v3m1 1v2m1-47v1m0 38v2m2-7v2m0 26v1m1-27v1m1 2v2m0 8v1m2-47v2m0 11v2m0 13v1m0 20v2m0 6v2m1-61v2m0 26v2m0 14v2m1-47v1m0 10v2m0 6v2m2 15v1m2 7v1m0 4v3m0 2v1m1-37v1m1-19v1m1 36v2m1-28v2m1 0v2m0 21v1m1-31v2m0 42v2m1-42v1m0 10v2m0 11v2m1-41v2m1 4v2m1 21v2m1-49v2m0 66v2m1-44v2m0 5v1m0 23v2m1-35v2m0 16v2m0 24v2m0 13v2m2-26v1m0 5v2m0 1v2m0 5v2m1-54v1m0 4v1m0 39v2m1-41v2m1 31v3m1-52v2m0 21v2m0 29v1m1 5v2m1-33v2m1-21v1m0 35v1m1-6v1m0 25v1m0 5v2m1-50v1m0 3v2m1-20v2m0 51v1m1-50v1m0 13v2m0 2v1m0 20v1m1-39v2m0 3v2m0 13v2m0 19v2m0 11v2m1-88v1m0 66v1m0 21v2m1-67v2m0 42v2m1-29v1m0 15v1m0 5v2m0 3v2m1-5v2m1-36v1m0 43v1m1-49v2m0 39v2m1 16v2m2-52v1m0 28v2m0 4v2m0 15v1m2-50v2m0 30v2m1-13v2m0 1v2m0 2v1m1-44v2m0 19v2m0 18v2m0 8v1m0 10v2m1-56v2m0 5v2m1-61v2m0 57v2m0 1v2m1-10v2m0 45v2m1-59v2m0 5v1m0 35v1m1-14v1m0 16v4m1-30v2m0 8v2m1-8v1m0 4v1m0 10v2m0 3v1m1-45v1m0 22v1m1 7v1m0 20v2m1-26v1m0 2v1m1-29v2m0 8v3m0 28v1m1-26v2m1-75v2m1 89v2m1-38v2m0 10v2m0 29v1m0 17v1m1-3v2m2-34v1m0 25v1m1-36v2m1 37v2m1-32v4m0 5v2m1 13v2m0 4v2m1-8v2m1-48v2m0 10v1m0 23v2m1 18v1m1-63v1m0 33v2"/>
<path stroke="#00963e" d="M0 568v2m0 1v2m0 16v2m0 5v1m0 5v2m2-456v1m0 429v2m0 6v2m0 8v1m0 18v2m1-412v1m0 289v1m0 88v2m0 28v1m1-88v2m0 86v2m1-34v1m0 13v2m0 7v1m1-24v1m0 22v1m1-31v2m0 18v1m0 12v3m0 2v1m1-75v2m0 47v2m0 2v1m0 10v2m0 8v1m1-53v3m0 11v2m0 29v2m1-12v2m1-10v2m0 13v2m1-15v2m0 9v2m1-477v1m0 5v2m0 415v2m1 6v4m0 14v2m0 6v2m1-29v1m0 13v2m0 8v2m0 10v1m0 10v2m1-30v2m2-69v2m0 65v2m0 24v2m1-29v1m0 25v1m0 4v1m1-24v1m0 26v2m1-124v2m0 39v2m0 5v1m0 20v1m0 4v1m0 2v2m1 27v2m1-31v2m1 3v1m0 10v2m0 10v1m1-6v1m0 2v2m0 16v1m1-48v1m0 2v2m1 32v2m2-473v2m0 454v2m0 5v2m0 16v1m0 4v1m1-63v1m0 7v2m0 37v2m1-33v2m1-7v2m0 8v2m0 26v1m0 4v1m1-54v2m0 20v1m0 5v2m0 18v1m1-75v2m0 28v1m0 15v2m0 13v1m0 15v2m0 4v2m1-13v2m0 14v2m1-59v2m0 44v2m0 3v1m1-26v2m0 20v3m1-57v1m0 5v2m0 29v2m0 11v2m1-46v2m0 7v1m0 13v2m1-28v2m0 27v2m0 11v2m0 16v2m1-54v2m0 49v1m1-50v2m0 30v2m1-42v1m0 35v3m1-13v1m1-31v2m0 18v2m0 19v2m0 3v2m1-17v2m0 26v2m1-47v1m0 13v2m1-5v2m0 26v1m0 2v3m1-44v2m0 14v2m0 20v1m1-60v2m1 3v1m0 2v2m0 8v2m0 9v2m0 19v2m1 15v3m1-7v2m1-57v2m0 1v2m1 50v2m2-31v2m0 18v1m1-479v2m0 453v2m0 21v1m0 8v4m1-43v2m0 10v1m0 26v2m1-3v1m1-42v3m0 7v2m0 17v2m0 11v2m0 2v1m1-58v1m0 4v1m1-5v2m0 13v2m0 14v2m1 15v1m0 5v2m1-57v1m1 28v2m0 22v2m1-19v1m1-80v2m0 73v2m0 6v2m0 15v1m1-106v2m0 85v1m0 12v1m2-21v2m1-34v1m0 2v2m0 37v2m1-33v2m0 11v3m2 13v4m2-65v1m0 49v2m0 5v1m0 21v2m1-34v1m1-31v2m0 18v2m0 21v1m1-16v2m0 31v1m1-40v1m1-23v2m0 2v1m0 25v1m0 23v2m0 6v2m1-36v2m0 5v3m0 3v2m1-44v1m0 20v2m0 14v2m2 8v2m1-48v2m0 21v2m0 23v1m1 0v2m1-33v2m0 29v2m0 2v1m1-32v3m0 31v1m1-63v2m0 8v1m0 4v1m0 34v2m1-24v1m1-23v2m1 15v1m0 25v5m1-10v2m0 14v2m2-36v2m0 26v1m0 8v2m1-39v2m1-7v2m0 39v1m1-57v2m1 18v2m0 1v2m0 21v2m1-25v2m0 18v1m1-66v1m1 18v2m0 44v1m0 10v2m2-41v2m0 5v1m0 33v1m1-68v2m1 8v1m0 27v1m2-8v2m0 3v2m1-9v4m0 13v1m0 10v2m1-43v2m0 3v2m0 49v1m1-70v2m0 2v1m0 31v2m0 3v2m1-20v2m1-3v1m0 2v1m0 17v1m1-3v2m1-61v2m0 24v2m0 29v2m0 16v2m2-75v2m0 40v2m0 3v4m0 30v2m0 2v1m1-60v2m0 11v2m0 3v2m0 35v2m1-67v2m0 6v2m0 46v1m1 5v2m1-44v2m0 34v1m1-31v2m0 11v2m0 15v1m1-45v1m0 30v1m0 25v1m1-71v1m1 26v2m1-24v1m0 46v1m0 12v1m0 5v2m1-67v2m0 23v1m0 8v2m0 23v1m1 5v2m1-64v2m0 51v1m1-37v1m0 30v1m1 7v1m1-42v2m0 19v2m0 18v1m1-32v2m0 16v1m1 17v1m1-68v2m0 6v2m0 6v2m0 8v2m0 27v4m1-20v2m1-35v2m0 16v2m0 28v1m0 7v1m1-32v2m1-12v2m0 19v2m1 15v1m1-23v2m1-18v2m0 40v4m1-47v1m0 23v3m1-27v1m0 38v1m1-101v2m0 60v2m0 3v2m1-2v2m0 39v1m1-62v2m0 18v2m1 1v2m0 15v1m0 16v2m1-26v2m0 5v1m1-60v2m0 19v2m0 6v2m0 3v2m0 39v1m1-34v2m0 2v1m1-13v3m0 9v1m0 5v2m0 6v2m0 3v2m1-7v2m0 1v4m1-49v1m0 2v2m0 23v1m0 5v2m0 8v1m0 17v1m1-35v1m2-29v1m0 25v2m1-80v1m0 57v2m0 47v2m1-44v2m1-5v1m0 10v2m1 6v2m0 13v1m1-52v2m0 11v2m0 34v2m0 8v3m1-27v1m0 20v1m0 8v2m0 3v2m1-46v2m0 5v2m0 26v3m0 3v2m1-46v2m0 45v2m1-50v3m0 21v2m0 9v2m1-46v2m1 3v2m0 16v2m0 1v2m0 7v1m0 13v2m1-38v2m1 24v4m1-10v2m1-33v2m0 18v1m0 5v2m0 16v2m2-106v1m0 79v1m0 2v1m1-27v1m0 17v1m0 31v2m0 6v2m1-49v2m0 5v1m0 38v1m1-52v2m1-39v1m0 56v1m0 25v1m1-55v2m0 36v1m0 16v2m1-52v2m0 44v1m1-47v2m0 9v2m0 10v1m0 22v1m0 3v2m2-54v2m0 2v1m0 12v1m0 2v2m0 21v1m1-31v2m0 2v1m0 18v2m2-10v2m0 26v1m1-149v1m0 145v2m1-34v3m0 11v2m0 14v2m0 2v1m1-5v2m1-125v1m0 126v1m1-58v1m0 4v1m0 7v1m0 26v2m0 13v2m1-18v1m0 2v2m0 1v4m2-7v2m2-106v1m0 43v1m0 54v2m2-65v1m0 69v3m0 5v1m0 4v1m1-123v1m0 87v1m0 28v1m1-42v2m0 24v3m2-24v2m0 31v1m1-36v2m1 24v4m0 3v2m1 4v2m1-32v1m1-16v2m0 11v2m0 22v2m1-13v2m1-35v2m0 28v1m0 25v1m1-47v2m0 11v2m1-12v2m0 28v1m0 2v2m1-31v1m1-1v1m0 12v1m0 20v1m1-35v1m0 25v1m0 8v2m1-85v2m0 49v2m0 9v2m0 10v1m0 13v2m1-26v2m1-22v2m1-62v2m0 97v2m0 2v1m1-31v2m1-26v2m0 3v2m0 19v2m1-25v2m0 13v2m0 21v1m0 2v2m1-44v1m0 5v2m0 3v2m0 16v2m0 11v2m1-39v1m0 2v1m0 5v2m0 31v1m0 5v2m1-41v2m1-21v1m1 10v2m1-23v2m0 16v2m0 11v2m0 1v2m0 19v2m0 6v2m1-76v1m1 26v2m0 3v3m0 9v1m0 10v2m0 4v2m1-57v2m0 65v1m1-48v1m0 2v2m0 48v2m1-60v1m0 5v2m0 11v2m0 11v2m0 13v2m0 1v2m1-52v1m0 2v2m0 3v2m0 13v1m1-34v2m0 19v2m0 37v2m0 3v2m1-51v4m0 9v4m1-10v1m0 5v2m0 5v1m0 17v1m0 2v2m1-46v2m1-20v2m0 18v1m0 4v1m1-11v1m0 20v2m0 34v1m1-53v3m1 8v2m0 11v2m0 5v1m1 18v2m1-52v1m0 5v2m1-70v1m0 61v1m0 2v2m0 3v1m0 9v1m0 34v2m1-88v2m0 26v1m0 38v1m0 15v2m1-41v2m1-26v1m0 2v1m0 4v1m0 2v2m0 3v2m1-15v1m0 5v2m0 26v2m0 24v2m1-54v2m0 13v1m0 7v1m1-83v2m0 8v2m0 67v1m0 16v2m0 5v2m0 1v2m1-7v2m1-42v1m0 34v2m1-34v2m0 9v2m0 21v2m1-20v2m0 23v1m1-104v2m0 53v2m1-2v2m0 5v2m0 1v2m0 16v2m0 14v2m0 3v3m1-45v2m0 3v1m0 7v2m0 3v1m0 4v1m1-24v2m0 42v1m1-120v2m0 83v1m2-18v2m0 7v1m0 3v2m0 2v1m1-9v1m0 5v2m0 35v2m1-55v1m0 18v2m0 26v2m1-33v2m0 5v4m1-13v2m0 5v2m0 8v1m0 17v1m2-65v2m0 24v2m1-8v1m0 23v2m0 18v1m1-37v1m0 30v1m0 2v2m0 4v2m1-54v2m0 3v2m0 2v1m0 2v1m0 31v2m1-44v2m0 6v3m1-18v2m0 16v2m0 5v2m0 32v2m1-75v1m0 22v1m1 0v2m0 3v2m1-13v1m0 10v2m0 6v2m1-33v2m0 16v2m1-28v2m0 3v2m0 31v1m1-5v2m0 20v1m1-71v1m0 7v1m0 12v1m0 22v1m0 13v2m0 26v1m1-63v2m0 18v1m0 5v2m0 26v1m1-18v2m0 7v1m0 10v2m1-69v2m0 24v2m0 6v4m1-412v1m0 389v2m0 8v2m0 11v2m0 32v2m0 3v2m2-60v1m0 2v2m0 24v2m0 5v1m1-42v1m0 23v2m0 6v2m0 23v1m1-29v2m0 3v2m1-21v1m0 46v1m1-65v2m0 11v2m0 37v4m1-127v1m0 69v1m0 10v2m0 40v2m0 3v2m1-145v2m0 149v2m1-138v1m0 57v2m0 13v1m0 10v2m0 49v1m1-62v2m0 20v1m0 34v2m1-63v1m0 2v1m0 62v2m2-47v3m0 5v2m0 1v2m0 3v2m0 21v1m1-61v1m0 7v1m0 56v1m1-52v2m0 34v2m1-52v1m0 12v1m0 8v2m0 41v1m1-27v1m0 20v1m0 5v2m1-55v3m0 15v1m1-6v1m1-21v2m0 10v1m0 8v2m1-10v2m0 13v1m0 10v2m1-134v2m0 99v4m0 40v2m1-51v2m0 7v1m0 2v3m0 8v2m0 27v2m0 3v2m1-62v2m0 1v2m0 46v1m0 7v1m1-52v2m0 11v2m0 31v1m1-34v2m1 5v1m0 25v1m1-109v2m1 52v2m0 18v1m1-18v2m0 15v3m0 36v1m1-70v2m0 6v2m0 13v2m0 37v2m1-44v2m0 8v1m0 39v2m1-68v3m0 1v2m0 3v4m0 21v1m0 20v2m1-31v1m0 28v2m0 4v2m1-34v2m0 24v2m1-48v2m0 7v1m0 2v1m0 9v3m0 24v2m1-52v3m1 49v1m1-130v2m0 86v2m2-21v1m0 10v2m1-445v2m0 438v3m0 7v1m0 12v1m0 2v1m0 12v1m0 15v2m1-65v3m0 3v2m0 8v3m0 3v2m0 10v1m1-24v2m0 14v2m1-65v1m0 62v2m0 11v2m0 8v2m1-34v1m0 10v2m1-12v2m0 1v2m0 2v1m1-29v2m1-4v2m1 34v2m1-31v1m0 25v2m0 14v2m1-29v1m0 7v1m1-24v1m0 5v2m0 29v2m0 15v1m0 8v2m1-93v2m0 39v3m0 3v2m0 7v1m1-85v2m0 72v1m0 2v2m1-23v1m0 5v2m0 3v2m0 6v2m0 2v1m0 2v2m1-59v2m0 42v2m0 32v2m1-33v2m0 29v2m1 14v2m1-59v2m0 5v2m0 16v1m1-24v2m0 32v2m1-64v2m0 11v2m0 18v2m0 9v2m0 36v1m1-65v2m0 8v2m0 8v1m0 31v2m1-44v2m0 1v2m0 3v2m0 5v1m0 30v1m1-81v1m0 18v2m0 62v1m1-104v2m0 19v2m0 26v3m0 13v2m0 37v2m1-37v3m0 8v2m0 26v1m1-47v2m0 1v2m1-2v4m0 5v1m1 33v1m1-101v2m0 44v2m0 1v2m0 10v1m1-3v2m1-12v2m0 5v1m1-13v2m0 7v1m0 20v1m1-22v1m0 2v1m1 7v2m0 30v2m1-5v2m1-54v2m0 19v2m1-28v2m0 23v1m2 30v1m0 7v1m1-40v1m0 20v1m0 5v2m0 6v2m1-42v1m0 12v1m0 10v2m1-46v2m0 15v1m1-6v1m0 12v1m0 33v1m0 5v2m1-62v2m0 39v1m1-109v2m0 59v1m0 3v2m0 13v2m0 8v2m1-53v2m0 8v2m0 29v2m0 18v1m0 17v1m1-31v2m0 15v1m0 5v2m1-43v2m0 23v1m0 28v2m1-121v2m0 32v2m0 83v2m0 1v2m1-60v1m0 25v1m0 20v2m1-49v1m0 9v1m1-45v1m0 33v1m0 23v2m0 26v1m1-97v1m0 9v1m0 29v2m1-103v2m0 69v1m0 38v1m1-18v2m1 15v1m0 7v1m2 39v2m1-49v4m0 6v2m0 8v1m1-61v1m0 36v2m0 13v1m0 13v2m0 16v2m1-73v1m0 30v1m0 7v1m0 12v1m0 25v1m1-86v2m0 18v1m0 20v1m1 4v3m0 3v2m0 27v2m1-55v1m0 4v1m0 13v2m1-31v3m0 7v1m0 36v2m0 1v2m1-90v2m0 52v2m0 2v1m0 2v1m0 25v1m0 5v2m1-52v1m0 4v1m0 17v1m0 28v2m1-23v1m0 25v1m1-61v1m0 21v2m1 20v1m1-98v2m0 16v2m0 65v2m0 21v2m1-39v3m0 5v1m0 25v1m0 7v1m1-43v1m1-8v2m0 1v2m0 13v2m0 19v2m1-33v2m0 14v2m1 0v2m1-36v1m0 27v1m1-13v2m0 42v2m1-65v1m0 23v3m0 31v2m1-62v2m1 8v1m0 9v3m0 3v2m0 5v3m0 14v2m0 13v2m1-61v2m0 8v2m0 3v2m0 11v2m0 10v1m1-52v2m0 18v1m0 8v2m0 10v1m0 28v2m1-47v1m0 26v2m2-28v2m0 10v1m0 18v2m1-8v1m1-5v2m0 23v1m1-84v1m0 48v1m0 34v2m1-57v2m1-33v2m0 65v1m1-26v2m2-49v2m0 29v2m0 14v2m0 3v2m0 13v2m2-35v2m1 2v3m0 15v1m0 18v2m1 6v2m1-54v2m0 8v2m0 4v2m0 3v2m0 10v1m1-8v2m1-36v2m2-7v2m0 23v1m0 39v2m1-36v2m1-28v2m0 6v2m0 27v2m1-36v2m0 1v2m0 23v3m0 16v2m1-73v1m0 23v2m0 10v1m0 2v2m0 13v1m0 15v1m0 4v1m1-68v2m0 31v1m0 3v2m1-16v1m0 36v2m1 5v1m1-34v2m1-12v2m0 3v4m0 6v2m0 18v1m0 18v2m1-56v2m0 16v2m0 10v1m2-24v2m0 8v3m0 16v2m1-34v1m0 7v1m0 2v2m0 18v3m1-144v2m0 119v2m0 19v2m1-134v2m0 106v1m1-8v2m0 5v1m0 36v2m1-34v1m0 4v1m0 20v1m0 4v1m1-63v1m0 62v2m0 3v2m1-52v1m0 13v2m0 10v1m1-6v3m0 8v2m0 5v1m0 4v1m1-84v1m0 36v2m0 11v3m0 12v1m0 4v1m1-31v2m0 5v1m1-27v1m0 22v1m0 8v2m1-29v1m0 13v2m0 39v2m1-59v2m0 6v2m0 5v3m0 10v1m0 33v1m1-61v1m0 21v2m0 21v2m1-82v2m0 16v2m0 39v2m0 37v2m1-49v2m0 43v2m1-42v1m1 18v2m0 2v1m0 5v2m0 8v1m2-32v2m0 13v1m1-81v1m0 30v1m0 48v1m1-31v2m0 21v2m1-67v2m0 44v1m0 2v1m0 4v1m0 2v2m0 32v3m2-8v2m1-93v2m0 50v2m1-17v2m0 7v1m1-70v2m0 111v1m1-39v2m0 1v2m0 11v2m0 18v2m1-82v2m0 10v1m0 38v1m0 33v1m1-11v2m0 3v2m1-139v2m0 62v1m1-11v2m0 37v2m0 1v2m0 11v2m0 2v1m0 33v1m1-50v2m0 3v1m0 38v1m0 5v2m1-94v1m0 43v1m0 3v2m0 13v2m0 3v2m1-53v2m0 11v2m1-8v2m0 22v2m0 5v2m0 13v1m1-32v1m0 26v2m1-16v1m0 36v2m1-52v1m1 0v2m1-429v2m0 476v3m1-37v1m0 18v2m0 11v2m1-46v3m0 33v2m1-77v2m0 34v2m0 34v1m0 12v1m1-58v1m0 4v1m0 7v1m0 10v2m0 29v2m1-46v2m0 8v2m0 26v1m1-31v2m0 29v2m2-51v2m0 36v1m1-30v1m0 33v1m1-9v1m1-42v1m1-11v2m0 52v1m1-34v4m0 26v1m1 7v1m0 12v1m1-123v1m0 78v2m0 20v1m1-34v2m1-2v2m0 19v2m0 16v2m1-18v3m0 15v1m1-35v1m0 23v2m1-33v2m0 19v2m0 10v1m1-27v3m0 14v2m0 3v2m0 8v2m1-23v2m0 1v2m0 1v2m0 20v1m1-32v1m0 5v2m0 29v2m2-56v4m0 13v1m1-89v1m0 98v2m0 1v2m1 21v2m1-52v1m0 4v3m0 11v2m1-16v1m0 12v1m0 15v1m0 15v2m1-2v2m1-43v2m1-16v1m0 26v2m0 2v1m1-3v2m0 5v1m1-8v2m1-26v1m0 44v2m1-28v2m1-10v3m0 8v2m0 10v1m1-35v1m0 17v1m1-39v2m0 11v2m0 14v2m0 7v1m0 15v1m1-53v1m0 25v1m0 15v2m0 1v2m1-101v2m0 68v2m0 21v1m1-58v1m0 54v2m0 1v2m0 8v2m2-43v2m0 3v2m0 26v2m0 19v2m1-21v1m0 10v2m0 5v3m1-44v2m0 14v2m0 13v1m1-39v2m0 24v2m1-46v2m0 8v2m0 6v4m0 26v1m0 5v2m0 8v2m1-44v1m0 23v2m0 9v2m0 13v2m1-70v1m1 62v2m1-109v1m0 56v1m0 51v1m1-53v1m0 31v2m0 8v2m0 14v2m1-33v2m0 11v2m0 2v1m1-57v2m0 8v2m1 11v3m0 12v1m0 17v3m1 10v1m1-27v1m1-37v1m0 23v2m1-16v3m0 16v2m1-39v1m0 13v2m0 54v1m1-45v1m0 10v2m0 23v1m1-44v2m0 41v1m0 8v2m1-10v2m1-23v2m0 6v2m0 19v2m1-103v2m0 51v1m0 36v2m0 1v2m1-33v2m0 2v1m1-36v2m0 42v2m0 3v2m0 13v1m0 5v2m1-3v1m1-40v1m1-18v2m0 2v1m0 8v2m0 21v2m0 11v2m1-69v2m0 5v2m0 8v1m0 2v2m0 1v2m0 10v1m0 20v1m1-40v5m0 42v2m1-51v2m0 13v1m0 18v2m0 16v2m1-39v1m0 22v1m1 3v4m1 14v2m1-80v2m0 50v2m0 13v2m0 4v2m0 2v1m1-45v1m0 20v2m1-35v2m0 5v2m0 21v1m0 7v1m1-21v2m0 8v2m0 13v1m1-21v2m0 8v2m1-23v1m0 39v2m1-65v2m0 8v1m0 10v2m1-21v1m0 21v2m1-6v1m0 12v1m0 3v4m1-7v2m0 14v2m1-109v2m0 17v2m0 80v2m1-62v1m0 17v1m0 3v2m0 36v2m1-74v2m0 72v1m1-37v1m0 13v2m0 26v2m1-54v2m0 32v2m1-26v1m0 18v2m0 8v2m0 8v1m1-30v1m0 21v2m0 11v2m1-41v2m0 5v1m1 7v3m1-31v2m0 6v2m0 24v2m0 10v1m0 13v2m1-59v2m0 28v1m0 26v2m1-29v1m1-3v2m0 29v2m1-91v1m0 33v1m0 36v2m0 5v1m1-27v1m1-23v2m0 16v2m0 5v2m1 8v1m0 10v2m0 3v2m1-39v1m1 44v3m1-63v1m0 9v1m1-67v2m0 85v1m1-31v2m2 20v1m1-3v2m0 8v1m1-47v2m0 13v1m0 53v1m1-8v2m0 8v1m1-24v2m1-5v1m1-26v2m0 26v2m0 1v2m0 16v2m1-16v1m1-37v1m0 38v1m1-4v1m0 21v2m1-20v2m1-44v3m0 33v2m1-53v2m0 15v1m0 33v2m0 16v1m1-76v2m0 13v1m0 2v1m0 2v2m0 1v2m0 24v2m0 3v2m0 21v2m1-34v1m0 26v2m1-8v1m1-53v1m0 15v2m0 40v2m1-72v2m1-21v1m0 41v2m0 5v1m0 25v1m1 13v2m1-60v1m0 13v2m1 11v2m0 31v1m1-58v1m0 40v1m1-36v2m0 50v2m0 3v2m2-23v2m0 14v2m1-44v2m0 37v2m1-77v2m0 15v1m0 13v2m0 42v2m1-33v2m1-10v2m1 19v2m1-28v2m0 23v1m1-19v1m1-22v1m0 20v1m0 33v2m1-75v1m0 49v2m0 6v2m0 15v1m1-21v2m0 14v2m1-34v1m1-4v1m0 33v1m1-49v2m0 5v2m0 11v2m0 5v1m1-124v2m0 132v2m1-48v2m0 62v1m1-73v2m0 49v1m1-101v2m0 109v2m1 14v2m1-7v4m0 1v2m1-15v2m2-2v2m1-37v1m0 8v2m0 15v1m0 5v3m0 7v1m0 5v2m1-72v2m0 11v2m0 2v1m0 28v2m1-36v1m0 17v1m0 39v2m1-11v1m0 5v2m2-13v3m1-10v2m0 18v1m1-16v2m1-64v2m0 11v2m0 11v4m0 14v2m1-31v1m0 7v2m0 24v2m0 8v1m0 9v1m1-45v1m0 5v3m0 12v1m0 13v2m0 13v2m1-59v2m0 45v2m1-31v2m0 3v2m0 4v2m1-31v2m1 0v1m0 38v1m0 9v3m2-72v2m0 10v1m0 12v1m0 7v1m0 25v1m0 2v2m0 1v2m0 8v2m1-39v1m0 2v2m0 19v2m0 11v2m1-28v2m1-26v1m0 44v2m2-56v2m0 12v1m1-10v2m0 5v2m0 1v2m0 37v2m1-69v2m0 70v2m1-54v2m0 19v2m1-46v2m0 36v1m0 8v4m0 21v1m1-47v2m0 21v2m0 5v1m1-27v1m0 15v1m0 2v2m1-69v2m0 67v1m1-8v2m1-10v2m0 13v1m0 5v2m1-101v1m0 69v2m0 3v1m0 12v1m2-17v1m0 34v2m0 2v1m1-40v1m0 39v2m1-31v2m1-12v2m1-95v2m1 85v3m0 47v2m1-39v1m0 31v2m1-36v2m0 3v2m1-28v1m0 40v1m1-42v1m1 17v1m0 12v1m1-88v2m0 73v2m0 20v1m0 2v1m1-34v2m1 11v2m0 11v4m0 3v1m1-44v2m0 42v2m1-42v1m1 12v1m0 2v2m0 6v3m0 7v2m1-33v2m0 6v2m0 27v2m2-42v3m0 7v1m0 5v2m0 19v2m1-49v2m0 19v2m0 26v1m1-37v3m0 13v2m0 10v1m1-18v2m1-65v1m0 25v2m0 39v3m1-55v1m0 39v2m0 3v2m0 13v1m0 7v2m1 0v1m1-34v2m0 1v2m0 6v2m1-46v2m0 28v1m0 43v1m0 7v1m1-50v2m0 13v3m0 32v2m1-47v2m0 26v1m1-41v2m0 55v2m1-50v1m0 5v2m0 13v3m0 15v1m0 4v1m1-71v1m0 38v1m1-11v2m0 22v2m0 6v2m0 3v2m1-54v2m0 28v1m0 8v2m1-26v2m0 3v1m0 38v1m1-63v2m0 21v3m0 7v1m0 15v1m1-48v1m0 8v2m0 3v2m0 13v2m0 8v1m1-6v1m1-11v3m1-39v2m0 36v1m0 31v2m1-29v1m0 21v2m1-67v2m0 26v2m0 4v2m0 33v1m0 8v2m1-62v2m0 21v2m0 8v1m0 13v2m1-36v2m0 6v2m0 5v1m0 4v1m1-14v1m0 26v2m0 6v2m1-75v2m0 37v2m1-62v2m0 47v2m2-14v2m0 3v2m0 39v2m1-34v1m0 3v2m0 20v1m0 8v2m1-46v2m0 34v2m1-49v2m0 1v2m0 49v1m1-42v2m0 14v2m0 3v2m1-23v2m0 6v2m0 8v3m1-16v2m0 43v2m0 3v2m1-73v1m0 39v2m0 28v1m1-11v2m1-46v2m0 11v2m0 18v3m1-28v2m0 5v1m0 10v2m0 1v2m1-13v2m0 24v2m1-51v2m0 10v1m1-6v1m1-14v1m0 7v3m0 3v2m0 39v2m1-39v1m0 8v4m0 9v2m1-47v1m0 18v5m0 3v2m0 31v2m0 6v2m1-62v1m0 4v1m0 20v2m0 11v2m0 14v2m1-34v1m0 7v1m0 15v2m0 6v2m1-36v2m0 1v2m0 21v2m1-61v2m0 21v2m0 10v1m0 28v2m1-53v2m0 41v1m1-24v2m0 26v1m1 0v2m0 2v1m1-37v1m0 7v2m1-51v3m0 36v2m0 8v2m0 9v2m1-124v2m0 111v1m0 13v2m0 13v1m2 2v2m1-52v1m0 12v1m0 8v2m0 23v1m1-45v2m0 1v3m2-34v2m0 36v1m0 4v1m1-5v4m0 26v1m1-49v2m0 3v2m1 0v2m0 1v2m0 32v2m0 11v2m1-49v2m0 6v2m0 15v3m1-47v1m0 5v2m1 1v2m0 16v2m0 21v2m1-46v2m0 11v2m0 34v2m1-51v2m0 3v2m0 31v1m1-31v2m0 5v1m1 22v1m0 15v1m1-39v2m1-23v2m0 8v2m0 22v2m1-62v2m1 36v1m0 12v1m0 17v1m1-45v1m0 41v2m0 17v2m1-36v2m0 16v2m0 1v2m1-36v2m0 6v4m0 14v2m0 3v2m1-26v1m0 2v2m0 14v2m0 3v3m0 2v2m1-43v2m0 2v1m0 4v1m0 47v2m1-15v2m0 11v2m2-104v1m0 43v1m0 10v2m0 5v1m0 15v2m0 13v1m1 8v2m1-20v2m0 2v1m0 7v1m1-47v2m1-16v1m0 38v3m0 16v2m1-49v2m0 3v2m0 37v2m1-49v1m0 2v2m0 6v2m1-51v2m0 37v2m0 5v2m1-4v2m0 5v1m1-13v2m0 5v2m1 24v2m1-44v1m0 46v1m1 0v2m1-37v1m0 5v2m0 11v2m0 1v2m1-26v2m0 35v4m0 3v2m1-43v4m0 8v1m1-9v1m0 2v1m0 10v2m0 18v1m1-32v1m0 18v2m1-10v2m0 16v2m0 14v2m1-104v1m0 41v2m0 1v2m1-7v2m0 7v1m0 7v1m0 36v2m0 5v1m1-58v1m0 39v2m1-31v2m0 21v2m0 6v2m1-39v1m1-49v2m0 15v1m0 5v2m0 23v1m0 28v2m1-33v2m0 1v2m1-20v2m0 18v3m2 3v2m0 15v1"/>
<path stroke="#00911b" d="M0 132v1m0 2v1m0 416v1m0 2v2m0 5v1m0 34v2m1-463v2m0 438v2m0 24v2m0 11v2m1-481v2m0 7v1m0 44v2m0 405v2m1-39v2m0 14v2m0 8v2m0 8v1m0 10v2m1-479v2m0 60v1m0 369v1m1-433v2m0 395v2m0 33v1m0 15v2m1-447v3m0 390v1m0 31v2m1-397v1m0 417v2m0 11v2m0 19v2m1-489v2m0 5v1m0 424v2m0 24v2m0 22v2m0 3v2m1-484v2m0 418v2m0 13v2m0 23v1m1-5v2m0 21v2m0 1v2m1-433v1m0 12v1m0 386v4m1-466v1m0 53v1m0 25v1m0 350v2m0 13v2m0 5v1m0 20v1m1-86v2m0 13v1m0 30v1m1-425v2m0 435v1m0 4v1m1-456v2m0 477v2m1-77v2m0 13v1m0 40v1m0 18v3m0 8v2m1-453v2m0 331v1m0 113v1m1-409v2m0 368v3m0 9v1m0 7v1m0 17v1m1-392v1m0 342v2m0 50v2m1-485v1m0 12v1m0 417v2m0 8v2m0 3v2m0 5v1m0 13v2m0 1v2m0 10v1m1-495v2m0 443v2m0 52v1m1-477v2m0 16v2m0 45v2m0 8v3m0 331v2m0 58v2m1-486v2m0 59v1m0 399v2m1-456v2m0 446v2m1-452v2m0 85v1m0 336v1m0 44v2m0 13v2m1-484v2m0 431v2m0 26v2m0 21v1m1-52v2m0 50v2m1-28v2m1-380v2m0 394v2m0 1v2m1-471v2m0 464v2m1-429v2m1-59v2m0 10v1m0 421v1m0 2v2m1-434v2m0 427v1m0 39v2m1-32v1m1-440v2m0 427v1m0 2v2m0 6v2m0 3v3m1-441v1m0 5v2m0 6v4m1-8v1m0 450v1m1-382v1m0 337v2m0 8v2m0 19v2m0 13v2m1-469v1m0 447v1m0 13v2m1-464v1m0 78v2m0 358v2m0 28v1m0 5v2m1-442v2m0 44v2m0 330v2m0 42v2m0 5v1m1-29v2m1-450v2m0 433v2m0 5v1m0 52v2m1-86v1m0 23v2m0 3v2m0 14v2m0 13v2m0 6v2m0 9v2m0 3v2m1-33v2m0 28v1m2-449v1m0 391v2m0 20v1m0 7v3m0 24v2m1-60v1m0 35v1m1-29v2m1 1v2m0 6v2m1-20v2m1-446v1m0 7v1m0 23v2m0 430v2m1-27v2m0 18v2m1-7v2m0 10v1m0 3v2m0 29v2m1-481v2m0 419v1m0 46v2m0 9v2m1-55v1m0 23v2m0 18v1m1-31v2m0 8v2m0 6v2m1-433v1m0 401v2m0 6v2m0 1v2m0 11v2m2-424v2m0 419v1m0 23v3m1-474v2m0 393v1m0 23v2m0 9v2m0 26v2m1-5v1m2-104v2m0 75v1m0 39v2m0 3v2m1-24v3m0 1v2m1-28v2m0 34v2m1-47v1m0 2v2m0 8v1m0 20v1m1 4v1m1-462v1m0 344v2m0 91v2m1-18v1m0 20v1m2-11v2m0 13v1m1 25v1m1-55v2m0 18v1m1-23v2m1-7v2m0 10v2m0 35v2m1-31v2m1-5v1m0 26v2m1-31v2m0 32v2m0 2v1m1-45v1m0 36v2m1-23v2m0 4v2m0 24v2m0 3v2m1-36v2m0 11v2m1-57v1m0 12v1m0 7v2m0 16v2m1-10v1m0 36v2m1-52v1m0 46v2m0 3v1m1-68v2m0 23v1m0 34v2m1-458v2m0 10v1m0 406v2m0 32v2m0 3v2m0 8v3m1-7v2m1-52v2m0 3v2m0 13v1m0 2v1m1-11v2m0 26v1m0 2v3m1-1v1m1-45v1m0 13v2m0 2v1m0 28v1m1-66v1m0 15v2m0 8v1m1-16v2m0 3v2m0 9v2m1 3v2m0 6v2m0 2v1m0 17v1m0 3v2m1-60v1m0 4v1m0 2v2m0 8v1m0 4v1m1 39v2m1-68v1m0 7v1m0 10v2m0 1v2m0 5v2m1-25v2m0 1v2m0 34v2m0 3v2m1-30v2m1 33v1m1-50v1m0 41v2m1-28v2m0 16v2m0 16v1m1-27v1m1-32v1m0 5v2m0 16v2m0 5v1m1-8v2m0 29v2m1-29v1m1-26v2m0 18v1m0 15v2m0 14v2m1-25v2m1-29v1m0 7v2m0 3v1m0 15v2m0 1v2m1-10v2m0 14v2m0 13v2m1-46v2m0 3v2m0 22v2m1-68v1m1 77v1m2-16v2m0 13v1m0 2v2m1-5v1m0 2v2m1 0v1m1-57v2m0 10v1m2 36v2m1-51v2m0 7v1m0 15v1m0 22v1m1-34v3m0 8v2m0 21v2m1-57v1m0 14v1m0 12v1m0 8v2m0 2v1m1 8v2m0 3v2m1-51v2m0 8v2m1 6v2m0 28v1m3-26v2m0 8v2m0 19v2m1-88v1m0 17v1m0 25v1m1-16v2m0 50v2m1-41v2m0 34v2m1 0v1m1-34v2m0 6v2m0 10v1m0 8v2m0 5v3m1-60v3m0 13v2m0 31v1m0 8v2m0 3v2m1-36v2m0 13v1m0 13v2m1-8v2m0 1v2m0 1v2m1-62v2m1 8v2m0 1v2m0 3v2m0 5v1m0 30v1m1-107v1m0 74v1m0 12v1m1 4v1m0 7v1m2-79v1m0 34v2m0 2v1m0 23v2m0 11v2m1-30v2m0 8v2m1-10v2m1-20v2m0 57v1m1-35v1m0 28v1m2-57v2m0 15v1m0 36v2m1-41v2m0 21v2m0 11v2m1-57v1m0 46v1m2-42v2m0 14v2m0 2v1m0 26v2m1-29v1m1-9v1m0 33v1m1-34v2m0 3v2m0 32v2m1-12v2m1-44v2m0 10v1m0 12v1m1-24v1m0 31v2m0 15v1m0 3v2m0 2v1m1-19v1m1-74v1m1 51v1m1-6v1m0 18v2m0 5v1m0 12v1m0 5v2m2-15v4m1-72v2m0 26v1m0 8v2m0 41v1m1-89v1m0 85v2m1-87v2m0 49v2m0 9v2m1 11v2m1-47v1m0 15v2m0 8v1m1-8v2m0 34v2m1-468v2m0 388v1m0 21v2m0 55v2m1-90v2m0 28v1m0 20v2m0 26v1m0 5v2m1-36v2m0 13v1m1-27v1m0 41v1m1-94v2m0 45v2m0 45v2m1-101v2m0 91v2m0 4v2m1-21v2m1-88v1m0 57v2m0 2v1m0 2v1m0 15v2m0 1v2m0 2v1m0 7v1m1-45v1m0 57v2m1-36v2m0 18v1m1-27v3m0 16v2m0 18v1m1-48v1m0 15v1m0 22v1m0 5v2m1-34v1m0 33v1m1-48v1m0 5v2m0 11v2m0 14v2m0 10v1m1-53v1m0 4v3m0 8v2m0 29v1m1-57v2m1-72v2m0 95v1m0 23v2m0 3v1m1-19v2m0 8v1m1-44v2m0 34v2m1 10v1m0 2v3m0 3v2m1-52v2m0 1v2m1 36v1m1-44v2m0 31v1m1 4v1m1-79v1m0 7v1m0 13v2m0 15v1m0 10v2m0 24v2m0 8v1m2-123v1m0 79v1m0 8v2m0 28v1m1-45v1m0 8v2m1-85v2m0 117v2m1-60v1m0 7v1m0 5v2m0 11v2m3-99v1m1 85v2m0 3v1m1-89v1m0 70v2m0 3v4m0 8v1m1 23v2m0 11v2m0 1v2m1-70v2m0 47v2m1-35v2m0 16v2m1-13v2m0 1v2m0 39v1m1-48v3m0 41v1m1-133v1m0 82v1m0 23v2m0 1v2m1-28v2m0 5v2m1-18v1m0 12v1m0 26v2m0 6v2m1-41v2m0 5v2m0 29v1m1-74v1m0 52v2m0 6v2m0 7v1m0 3v2m1-32v3m0 1v2m1 2v1m0 25v1m1-81v2m0 35v2m0 2v1m0 44v2m1-51v2m0 11v2m0 21v2m0 3v2m0 9v2m1-3v1m1-39v2m0 34v2m1-31v3m0 16v2m0 8v2m0 1v2m1-49v2m0 41v1m1-42v2m0 4v4m1-442v2m1 422v1m0 12v1m0 5v2m1-10v2m0 16v2m0 9v2m1-464v1m1 445v2m0 18v1m1-26v2m0 8v2m0 8v1m1-3v2m1-69v2m0 46v1m0 17v1m1-27v1m0 3v2m0 3v2m0 23v1m1-16v2m1-13v1m0 15v2m1-455v2m0 1v2m0 406v1m0 5v2m0 6v2m0 32v2m1-34v2m0 14v2m1-448v1m0 442v2m0 16v1m1-32v2m0 8v1m0 4v1m0 28v1m1-76v2m0 39v1m0 23v2m1-456v1m0 8v2m0 358v2m0 49v2m0 30v2m0 7v1m1-459v1m0 10v2m0 375v1m0 25v1m0 44v2m1-460v2m0 430v2m0 3v2m0 22v2m1-52v2m1-403v2m0 399v2m0 47v1m1-35v1m0 26v2m0 10v1m1-459v2m0 350v1m0 93v2m1-49v2m0 37v2m1-447v2m0 437v1m0 8v2m0 5v2m1-61v2m0 15v3m0 10v1m0 18v2m0 16v2m2-111v2m1 55v2m0 1v2m1-34v1m0 21v2m1-26v2m0 63v2m1-43v2m0 7v1m1-1v1m1 4v3m0 10v1m0 16v2m0 11v2m1-65v2m0 32v2m0 1v2m1-33v2m0 3v2m0 13v2m0 39v1m1-55v2m0 29v2m1-103v2m0 53v2m0 16v2m0 39v3m1-89v1m0 34v2m0 18v2m0 13v1m1-430v2m0 397v2m0 11v2m0 41v1m2-65v2m0 50v2m1-75v2m0 36v1m1-42v1m0 15v2m0 21v2m0 14v2m0 21v2m1-28v2m1-9v2m0 5v2m0 4v2m0 7v1m1-23v2m1-31v2m0 23v1m0 5v2m0 32v2m1-42v1m0 10v2m1 1v2m0 5v1m1-80v2m0 47v2m0 11v2m0 31v2m0 8v1m1-16v2m0 11v2m1-91v1m0 33v1m0 5v2m1-16v1m0 25v1m1-27v1m0 13v2m0 3v2m0 27v2m0 16v2m1-482v1m0 455v2m0 21v1m1-42v2m0 1v2m1-23v2m0 23v1m0 5v2m1-33v2m0 8v2m0 3v1m0 38v1m1-60v2m0 5v1m0 18v2m1-23v2m0 21v2m0 26v1m1-54v2m1 20v1m0 30v1m0 7v1m1-73v2m0 18v1m0 7v1m0 4v1m1 18v2m0 1v2m1-106v2m0 44v1m1-22v1m0 26v2m0 18v2m0 1v2m0 3v2m0 11v2m1-38v2m0 15v1m0 5v2m1-30v4m0 18v3m0 16v2m1-82v2m0 50v2m0 5v2m0 43v2m1-36v2m1-16v1m0 36v2m0 11v2m1-38v2m1 18v1m2-32v2m1-14v2m0 10v2m0 24v2m1-38v2m0 29v2m1-41v2m1 58v2m1-59v2m0 5v1m0 22v1m1-13v2m0 10v1m0 31v2m1-103v2m0 37v2m0 11v2m0 6v2m0 3v2m1-41v2m0 23v1m0 7v1m0 7v2m0 27v2m1-39v1m0 2v2m1-33v2m0 6v2m0 23v1m1-21v2m0 3v2m1-5v1m1 41v2m1-44v1m1-3v2m0 21v2m0 27v2m1-41v2m0 1v2m0 39v2m1-72v2m0 27v2m0 8v2m0 19v2m1-44v2m0 14v2m1-7v4m0 8v1m0 17v1m0 4v1m1 8v2m1-72v2m0 65v2m1-129v2m0 60v2m0 18v1m1-5v2m0 6v2m0 10v1m1-14v1m0 9v1m0 12v1m0 10v2m1-43v2m0 21v2m1 27v2m1-72v2m0 6v2m0 25v1m0 25v1m1-47v2m1-2v2m0 35v2m1-29v1m0 17v1m1-58v1m0 26v2m1 3v2m0 34v2m0 6v2m1-46v2m1-96v1m0 97v1m0 16v2m0 11v2m1-47v1m1 57v2m1-49v2m0 45v2m1-81v1m0 12v1m0 13v4m1 47v1m1-47v2m0 49v1m1-9v1m0 2v1m1-47v4m1-41v1m0 2v2m0 45v2m2 11v2m0 8v5m1-52v1m0 10v2m1 29v2m1-39v1m0 13v2m0 39v2m1-62v1m0 41v2m0 11v2m1-62v2m0 21v1m0 41v2m1-12v2m1 11v2m1-72v2m2-7v2m0 11v2m0 7v1m1-42v2m0 44v1m0 39v2m1-80v2m1 40v2m1 21v2m0 11v2m1-47v1m0 4v1m0 8v2m1-5v2m0 19v2m0 11v2m0 3v2m1-113v2m1 62v2m1-10v1m0 49v2m1-10v2m1-33v2m1-15v2m0 6v2m0 11v4m1-33v2m0 3v1m0 15v2m0 1v2m0 26v2m1 3v2m0 4v2m3-37v1m1-6v1m0 31v2m1-34v1m0 22v1m0 15v1m1-55v2m0 6v2m0 19v2m1 3v2m1-36v2m0 18v3m0 2v1m0 10v2m1-38v2m0 1v4m1 3v2m0 43v2m0 2v1m2-55v2m0 5v1m0 3v2m0 10v1m1-24v2m0 14v2m0 21v2m1-44v1m1-6v1m1-9v1m0 12v1m0 25v1m1-26v2m0 2v1m0 49v2m1-59v2m0 3v2m0 3v2m0 1v2m0 3v2m0 22v2m1-52v2m0 4v2m0 16v2m0 7v1m0 16v2m0 8v2m1-56v4m0 11v2m0 10v1m1-14v1m0 36v3m1-3v2m2-473v2m0 459v2m0 6v2m1-80v2m0 42v2m0 5v1m0 33v1m1-52v2m1-51v2m0 51v1m0 5v3m0 12v1m0 9v1m1-42v1m1-8v4m0 22v2m0 41v1m1-146v1m0 95v2m0 1v2m0 13v1m1-1v1m0 31v2m1-57v2m0 22v2m0 7v1m0 13v2m1-23v2m0 5v1m1-14v1m0 29v2m0 2v1m1-117v2m0 50v2m1-15v2m0 16v2m0 8v2m0 32v2m0 1v2m1-33v2m0 13v2m1 8v1m1-37v2m0 5v1m0 29v2m1-49v2m0 21v2m0 6v2m1-450v2m0 418v2m0 33v1m0 10v2m1-92v2m0 23v2m0 19v2m0 13v1m0 15v2m1-15v2m0 11v2m0 24v2m1-82v2m0 26v2m0 9v4m0 11v2m0 24v2m1-61v2m0 10v2m0 8v3m0 31v1m1 5v2m1-54v2m0 10v3m0 5v1m0 28v2m0 1v2m1-65v1m1 4v1m0 9v1m0 39v2m1-72v2m0 26v2m0 3v1m0 36v2m1-31v2m2-7v2m0 29v2m1-74v2m0 46v1m1-21v2m0 6v2m1-21v1m0 28v2m0 6v2m1-113v2m0 88v2m0 8v1m0 4v1m0 15v1m1-37v2m0 29v2m1-90v2m0 27v2m0 39v2m0 1v2m0 28v1m1-39v2m0 45v2m2-108v2m0 54v2m1 17v2m0 20v1m1-150v2m0 103v3m0 3v2m0 3v2m0 6v2m1 26v1m1-58v1m0 53v1m1-78v2m0 29v2m0 37v2m1-25v2m2-16v3m0 36v1m2-44v2m0 5v2m0 1v2m0 14v2m0 16v2m0 8v2m1-54v2m0 9v2m0 28v1m0 8v2m0 2v1m2-63v1m0 9v1m0 2v2m0 8v1m0 28v2m0 4v2m0 3v2m1-7v2m1-49v2m0 18v3m1-116v2m0 95v1m0 39v2m1-60v1m1-32v1m0 36v2m0 32v4m1-41v1m0 14v1m0 21v4m0 8v1m1-45v1m2-45v1m0 59v2m0 5v1m1-67v2m0 39v2m0 55v2m1-39v1m0 5v2m1 16v3m1-50v1m0 20v2m0 11v3m0 8v2m0 3v4m2-33v2m1-12v2m0 8v2m0 6v2m1-43v2m0 34v2m0 3v2m0 14v2m1-50v1m0 21v2m1-5v2m0 16v2m1-20v2m0 26v1m0 17v1m1-128v1m0 51v1m0 22v1m0 7v1m0 5v2m0 18v1m0 2v2m0 11v2m1-122v1m0 87v1m1-58v1m0 25v1m0 62v2m1-109v1m0 54v2m0 5v1m2-36v2m0 28v1m1-104v2m0 104v2m0 1v2m0 42v2m1-95v2m0 39v2m0 31v1m0 13v2m1-13v1m1-60v2m0 49v1m0 17v1m1-89v1m0 30v3m0 28v1m1-21v2m1-13v1m0 17v1m1 41v1m1-66v1m1 36v2m0 8v2m0 16v1m1-107v2m0 70v1m0 26v2m2-112v1m0 60v2m1-419v2m0 394v2m0 24v4m1-2v3m0 17v1m0 2v1m1 12v1m0 12v1m1-26v2m1-41v2m0 28v1m1-18v2m0 13v2m0 22v2m0 2v1m0 4v1m0 3v2m0 3v2m1-65v1m0 57v2m1 2v1m1-71v1m0 28v2m0 24v2m0 11v2m1-34v1m0 5v2m0 5v1m1-32v1m0 41v2m0 8v1m1-40v1m0 36v2m1-52v1m1-6v1m0 9v1m1 16v2m0 15v1m0 2v2m1 4v2m1-50v1m0 30v1m1-19v1m1 31v2m0 1v2m2-32v1m0 8v2m1-7v2m0 11v4m1-51v2m0 5v1m0 4v1m0 49v2m1-98v2m0 55v2m0 16v2m1 13v1m1-39v2m0 3v2m0 8v1m1-37v2m0 22v2m0 5v3m2-16v2m0 6v2m1-8v1m0 13v2m0 14v2m0 8v2m0 5v1m1-57v2m2 46v1m0 2v1m1-55v2m0 8v2m0 22v2m2-5v2m1-103v2m0 3v2m0 65v1m0 15v2m0 34v1m1-16v2m1-36v2m0 5v1m1-63v1m0 43v1m0 26v4m1-35v2m0 44v2m1-41v1m0 22v1m0 10v2m0 14v2m0 2v1m1-32v1m1-102v1m0 134v1m2-34v2m1-82v2m0 51v1m0 12v1m0 10v2m0 26v1m0 7v1m1-22v1m1-91v2m0 96v1m1-3v2m1-15v2m0 27v2m1-62v2m0 26v2m0 30v2m1-49v2m0 24v2m1-34v1m0 15v2m1-77v2m0 60v2m1-53v2m0 47v2m0 13v2m0 3v2m0 22v2m1-24v1m0 23v2m1-35v2m0 5v2m0 4v2m1-59v2m0 23v1m0 56v1m2-55v2m0 40v2m0 13v2m1-33v2m1-7v2m0 5v1m0 22v1m1-37v1m1 2v2m1-20v2m0 8v2m0 17v2m0 2v1m0 8v2m1-112v1m0 92v1m0 20v1m0 8v2m1-42v1m0 22v1m0 3v2m3-44v2m1-85v2m0 78v1m0 44v2m1-36v2m0 3v2m0 1v2m0 15v1m1 17v1m0 8v2m1-55v3m1-80v2m0 75v1m1 38v1m1-21v2m0 27v2m0 2v1m1-96v2m0 11v2m0 28v1m0 21v4m0 26v1m1-47v2m0 21v2m0 3v1m0 9v1m1-55v1m0 10v2m1-56v2m0 96v2m1-34v1m1-13v2m0 41v1m2-1v1m1-11v1m0 2v2m0 14v2m1-37v1m0 7v1m0 20v1m3-55v2m0 3v2m0 6v2m0 3v2m0 13v1m0 12v1m2-68v2m0 14v2m0 34v2m0 6v2m0 3v2m2-46v2m0 39v1m1-48v1m1 17v1m0 29v2m1-23v2m1-10v2m0 32v2m1-24v1m0 10v2m1-54v1m0 7v2m0 4v2m0 3v4m0 3v2m1-17v2m0 44v1m1-55v2m0 5v1m0 8v2m1 33v1m1-10v2m0 3v2m1-41v2m0 47v2m1-46v2m0 40v2m0 3v2m1-21v1m1-57v2m1-5v2m0 67v1m1-44v3m0 5v2m0 8v2m1 1v2m0 11v2m0 2v1m1 7v1m1-42v2m0 13v1m0 10v2m0 23v1m1-80v2m0 78v2m0 5v1m1-60v2m0 14v2m0 15v1m1-50v1m0 51v2m0 6v2m2-23v2m0 14v2m1-41v2m0 10v1m0 8v2m0 5v1m0 5v2m0 5v1m1-3v2m1-28v3m0 26v2m1-23v2m0 31v1m1-50v2m0 5v1m0 26v2m1-64v2m1 55v2m0 3v2m1-51v2m0 33v1m0 18v2m0 14v2m1-81v1m0 49v2m1 11v2m0 3v2m1-54v1m0 23v2m1-47v1m0 41v2m0 6v3m1-89v1m0 77v2m0 14v4m1-36v1m0 39v2m2-119v2m0 49v1m0 4v1m0 16v2m0 20v1m1 36v2m1-5v1m1-42v2m1 6v2m0 5v1m0 5v2m1-38v2m1-8v2m0 60v1m0 4v1m1-60v2m0 14v2m0 33v1m0 3v2m1-57v2m0 6v2m0 10v1m0 10v2m1-28v2m0 14v2m1-41v2m0 24v2m0 3v3m0 12v1m0 4v1m1-40v1m0 2v1m1 17v3m0 16v2m1-41v2m0 15v1m0 42v2m1-83v2m0 16v2m0 13v1m0 44v2m1-72v2m1 54v1m0 2v1m0 15v2m1-38v2m0 16v2m0 6v2m0 6v2m1-13v2m0 9v2m1-67v2m0 11v2m0 54v1m1-44v2m0 8v2m0 11v2m2-10v2m0 13v1m1-76v1m1 59v2m0 5v1m1-23v2m1-34v3m1-6v1m0 3v2m0 68v2m2-5v3m1-53v1m0 22v1m0 26v2m1-60v1m0 23v2m0 39v1m1-42v2m1-39v1m0 15v1m0 28v2m0 10v1m0 2v1m0 18v2m1-77v2m0 31v2m0 22v2m0 13v2m1-51v2m1-5v2m0 16v2m0 9v2m0 10v1m0 8v2m1-44v2m0 5v1m2-19v1m0 2v2m0 22v2m1-10v2m0 32v2m1-117v1m0 59v2m0 11v2m0 14v2m1-2v2m1-18v2m0 37v2m1-49v2m0 19v2m1-13v1m0 22v1m0 10v2m1-28v3m0 15v1m1 0v2m1-31v2m1-70v1m0 56v1m0 10v2m0 13v1m1-26v2m1-70v2m0 73v2m1-14v2m1 29v2m0 18v2m1-57v1m0 17v1m0 18v2m1-10v2m1-17v2m0 10v1m1-13v2m0 10v1m1-63v1m1 38v1m0 9v1m0 49v2m1-49v2m0 11v2m0 26v1m1-24v1m0 23v2m0 6v2m1-50v3m0 32v2m0 5v1m1-11v2m0 6v2m1-54v2m0 3v2m0 8v1m1-45v1m0 36v2m0 6v2m1-10v2m0 13v2m0 1v2m1-36v2m0 40v2m1-41v2m0 36v1m0 5v2m1-33v2m0 3v2m1-18v1m0 4v1m0 20v2m1-20v2m0 45v2m1-51v2m1 16v2m0 8v3m1-3v2m1-8v1m1-21v2m1-4v2m1-15v2m0 5v1m0 10v2m0 29v2m1-39v1m0 26v2m1-37v1m0 10v2m1 11v2m0 6v2m0 11v2m1-88v1m0 44v2m0 18v2m0 29v2m1-39v1m0 25v1m0 3v2m0 8v2m2-28v2m0 3v2m1-93v1m0 69v2m0 40v2m1-38v2m0 20v1m0 3v4m1-7v2m1-21v1m1-8v2m0 11v2m1-5v2m0 4v4m0 5v1m1 21v2m1-57v2m0 13v1m0 36v2m1-119v1m0 46v2m0 26v1m1 28v2m0 8v1m1-61v1m0 31v2m1-15v3m0 25v1m2-97v1m0 57v2m0 5v2m0 37v2m1-4v2m0 10v1m1-86v2m0 60v2m0 8v1m1-31v2m0 11v2m0 5v2m0 6v2m1-7v2m1-43v2m0 10v2m0 6v2m0 16v2m1-41v1m1-14v1m0 23v2m0 15v1m0 7v1m1-21v2m0 5v1m0 28v2m1-72v2m0 31v1m0 5v2m0 9v2m0 2v1m0 26v2m1-49v2m0 45v2m1-41v2m1-8v1m0 4v1m0 20v1m0 2v2m1-49v1m0 7v2m0 5v1m0 3v2m2-77v2m0 104v2m1-37v1m0 46v1m1-112v2m0 31v1m1 36v2m0 13v1m1-60v2m0 24v2m1 3v2m0 14v2m0 18v1m0 2v2m0 11v2m0 1v2m1-46v2m0 20v1m1-41v2m0 15v1m0 13v2m1-39v2m0 24v2m0 5v1m0 23v2m1-48v2m0 8v2m0 40v2m1-34v2m0 13v1m0 2v1m1-48v1m0 5v3m0 33v2m1-41v1m0 15v2m0 13v1m0 4v1m0 13v2m1-54v2m0 32v2m0 28v1m1-60v2m0 8v2m2-72v1m0 54v3m0 10v2m0 8v2m0 16v2m0 1v3m1-65v2m0 67v1m1-70v2m0 21v2m0 26v1m0 2v2m1-36v1m0 40v1m1-36v2m0 18v2m0 13v1m1-62v2m0 47v2m0 1v2m0 23v1m1-63v2m0 26v1m1-44v2m0 33v1m1-11v1m0 4v1m0 4v3m0 11v2m0 1v2m1-10v2m0 2v1m0 18v2m0 14v2m1-42v1m1-13v2m0 6v2m0 13v2m1-13v1m0 38v1m1-96v2m0 31v1m0 9v1m0 8v2m0 16v2m0 21v2m1-61v2m0 23v2m0 6v3m0 21v2m1-42v1m2-19v3m0 46v1m1-40v1m0 15v2m0 13v1m0 21v2m1-521v1m0 391v2m0 68v2m0 37v2m1-2v2m1-42v1m0 46v2m1-23v1m0 12v1m1-30v1m1-36v2m0 13v2m0 19v2m1 5v3m0 24v2m1-33v2m0 2v1m1-14v1m0 13v2m1 3v2m0 1v2m0 8v2m0 10v1m1-124v2m0 59v1m0 22v1m0 3v2m0 20v3m0 3v2m1-56v2m0 11v2m1-2v2m0 18v3m0 10v2m0 11v2m1-83v1m0 38v1m1-73v2m0 63v2m0 11v2m0 23v1m1-42v1m0 48v1m1-24v2m0 1v2m1-16v1m2-11v1m1 13v2m0 5v2m1 4v2m1-37v1m0 12v1m1 8v2m0 18v2m1-7v2m1-18v1m0 18v2m0 19v2m1-26v2m2 16v2m1-44v1m0 21v2m1-37v1m0 51v1m1-40v1m0 5v2m1 44v1m1-26v2m0 8v2m1-38v2m0 3v3m0 5v2m0 2v1m1-62v2m0 46v3m0 5v1m0 2v2m0 34v1m1-37v3m0 13v2m0 6v2m0 5v1m1-47v2m0 5v1m0 23v2m1 3v2m0 6v2m0 6v2"/>
<path stroke="#008f09" d="M0 115v2m0 8v2m0 63v2m0 10v1m0 12v1m0 344v2m0 32v2m1-476v2m0 55v2m0 3v2m0 1v2m0 2v1m0 8v2m0 324v2m1-360v1m0 10v2m0 21v3m0 367v1m0 39v2m1-498v1m0 12v1m0 48v1m0 370v2m1-430v3m0 5v1m0 70v2m0 352v1m0 53v1m1-488v1m0 7v1m0 4v3m0 1v2m0 44v2m0 27v4m0 338v2m0 26v2m1-458v2m0 18v1m1-36v2m0 18v2m1 1v2m0 73v2m0 16v2m0 356v2m0 2v1m1-479v4m0 11v3m0 10v2m0 50v2m0 3v2m0 412v1m1-487v2m0 3v2m0 15v1m0 28v2m0 1v2m0 401v1m1-451v2m0 27v2m0 42v2m0 350v3m0 9v1m0 2v1m0 9v1m0 15v1m1-472v2m0 1v2m0 3v2m0 23v1m0 36v2m0 26v1m0 339v2m1-389v1m0 370v2m0 52v1m1-474v2m1 0v2m0 17v2m1-36v2m0 10v1m0 4v1m0 5v2m0 45v2m1 15v1m0 8v2m0 3v2m0 355v2m1-357v2m0 377v2m1-458v2m0 428v2m0 34v2m1-484v2m0 3v2m0 6v2m0 8v1m0 59v2m0 352v3m1-336v2m0 306v2m0 29v2m0 24v2m1-455v2m0 36v1m0 22v1m0 3v2m0 388v1m0 13v2m1-500v2m0 18v1m0 73v2m0 10v2m0 387v2m1-433v1m0 388v2m0 34v1m1-467v1m0 4v1m0 4v3m0 58v2m0 8v2m0 347v2m0 47v1m1-472v2m1-10v1m0 43v1m0 17v1m0 359v1m0 48v3m1-484v2m0 24v2m0 435v1m0 8v2m0 13v2m1-489v2m0 3v2m0 4v2m0 3v2m0 417v2m1-429v2m0 76v2m0 396v3m1-480v1m0 10v2m0 6v2m0 423v2m1-463v2m0 11v2m0 8v3m0 468v1m1-485v2m0 3v2m0 13v1m0 5v2m0 1v2m0 362v1m1-381v2m0 14v2m0 406v1m1 49v2m1-491v2m0 81v2m1-59v2m0 7v1m0 411v1m0 15v2m0 24v2m1-469v1m0 7v3m0 57v2m0 329v1m1 17v1m1-441v1m0 15v2m0 430v1m0 5v2m0 28v1m1-482v2m0 5v1m0 31v2m1-36v2m0 3v1m0 13v2m0 18v2m0 405v2m0 37v2m1-458v2m0 2v1m0 51v1m1-80v2m0 13v2m0 448v1m0 12v1m1-474v2m0 6v2m0 46v1m0 359v1m0 20v2m1-442v2m0 8v1m0 9v1m0 10v2m0 353v2m0 62v1m0 18v2m1-469v1m0 15v2m0 40v2m0 401v1m0 12v1m1-466v2m0 376v2m0 39v2m1-349v2m0 374v2m0 16v2m1-453v2m0 47v2m0 395v2m1-480v3m0 75v1m0 364v1m0 20v1m1-448v2m0 2v1m0 38v1m0 365v2m1-425v1m0 62v2m0 388v1m0 7v1m1-464v2m0 8v2m0 1v2m0 13v2m0 446v1m1-475v1m0 12v1m0 18v2m0 394v2m0 13v2m1-458v1m0 17v1m0 12v1m0 411v2m0 37v2m0 3v1m1-467v2m0 16v2m0 434v2m0 7v1m1-27v1m1-409v2m0 350v2m0 58v2m1-463v2m0 3v2m0 19v2m0 5v2m0 52v1m0 365v2m0 3v2m0 24v2m2-455v4m0 1v2m0 2v1m0 8v2m0 41v1m1-53v1m0 5v2m0 384v2m1-422v1m0 9v1m0 10v2m0 3v2m1 1v2m0 6v2m0 39v2m0 343v2m0 44v2m1-447v2m0 39v2m0 366v2m1-407v1m0 393v1m0 30v1m1-441v1m0 325v1m0 78v2m1-409v2m0 414v1m0 34v2m1-463v4m0 466v1m1-446v2m0 3v1m0 401v2m0 6v2m1-8v1m1-417v2m0 407v2m0 11v2m0 13v2m0 14v2m1-64v2m0 47v2m0 16v2m1-442v2m0 399v2m0 9v2m0 8v2m2-16v1m0 16v2m1-450v2m0 20v1m0 395v1m1-11v1m1-27v1m0 26v2m0 18v2m1 17v2m1-28v2m0 37v2m1-59v2m0 10v2m0 13v1m0 29v2m1-28v2m1-21v2m0 11v2m0 13v1m0 8v2m1-31v2m0 18v1m0 21v2m1-65v1m1 7v2m0 22v2m0 21v2m2-10v2m1-34v1m0 36v2m0 3v1m0 4v1m1-37v2m0 4v2m1-419v2m0 402v2m0 36v1m1-58v1m0 5v2m0 7v1m0 38v1m1-13v2m1-25v2m0 15v1m0 10v2m1-67v2m0 61v2m0 15v1m1-57v2m0 7v1m0 36v2m1 4v2m2-86v1m1 80v2m2-23v2m0 24v2m1-49v3m0 38v1m1-10v2m1-59v2m1-381v2m0 397v2m1-414v1m0 463v2m2-23v2m0 16v3m2-37v1m0 33v3m2-29v1m0 20v2m0 9v2m1-47v1m0 4v1m1-26v2m0 24v2m0 23v1m1-44v2m0 5v2m1-48v2m0 73v2m1-38v2m1 52v2m1-49v2m0 1v2m0 1v2m0 5v2m0 1v2m0 14v2m1-31v2m0 1v2m1-13v2m0 16v2m1-15v2m0 42v1m1-55v3m0 5v2m1 13v2m1-35v2m1 63v2m2-57v2m0 31v1m2-11v2m0 26v1m1-80v2m0 44v2m0 8v1m0 26v2m1-47v2m0 8v1m0 25v1m3-49v2m0 5v2m0 1v2m0 6v2m1 10v1m1-52v2m0 28v1m0 47v2m1-39v2m0 1v2m1-25v2m0 12v1m0 39v2m1 5v1m1-44v2m0 2v1m1 31v2m0 1v2m1-32v1m0 33v1m1-24v2m1-33v2m0 3v2m0 1v2m0 42v2m1-44v1m0 15v2m1-62v1m0 30v1m0 20v2m0 21v1m2-26v2m1-36v2m0 16v2m0 42v2m2-59v2m0 57v1m1-18v2m1-21v1m0 13v2m0 8v2m1-44v1m0 17v1m0 43v1m1-53v1m0 36v2m1 1v2m1-5v2m0 6v2m2-2v2m1-18v2m1 11v2m1-15v2m0 16v1m4-101v2m0 69v1m0 20v1m1-11v2m0 19v2m1-49v2m2 30v2m1-34v2m1 35v2m1-5v2m1-17v2m0 3v2m1 10v1m1 10v2m1-34v1m1 10v2m0 19v2m1-46v2m1 6v2m0 10v1m3-32v1m0 5v2m0 31v1m1-1v1m0 9v1m0 2v1m2-86v2m0 27v2m0 47v2m2-34v1m1-13v2m0 3v2m2 2v1m0 42v2m1-73v1m0 74v1m2-55v2m0 29v2m1-38v2m0 37v2m0 6v2m1-16v1m0 26v2m1-39v2m0 8v1m1 10v2m2-43v2m0 2v1m0 12v1m0 38v1m1-31v2m2-2v2m1-55v1m0 25v1m0 17v1m1 34v4m2-52v1m0 4v1m0 38v1m4-80v2m0 70v2m1-93v1m0 44v2m0 54v1m1-464v2m0 461v1m1-86v2m0 47v2m1-7v2m2-3v1m0 10v2m0 26v1m1 3v2m1-45v1m1 31v2m0 14v2m2-65v1m0 53v1m0 8v2m1-46v2m0 29v2m0 5v1m2-61v1m0 62v2m1-119v1m0 90v2m1 19v2m1-59v2m0 63v2m1-50v1m0 21v2m2-106v2m1-336v2m0 427v1m1-441v1m0 465v1m0 8v2m1-468v2m1-10v2m0 441v2m0 20v1m1 3v2m2-76v1m1 59v1m1-91v2m0 44v1m0 53v1m0 3v2m1-464v1m0 2v2m0 5v1m0 417v4m1-36v1m0 38v1m0 4v1m1-444v1m0 15v2m0 351v2m0 46v1m0 15v2m1-53v2m0 33v1m0 18v3m0 13v2m1-41v2m0 7v1m2-410v1m0 440v2m1-41v2m0 16v2m0 26v1m2-464v2m0 9v2m0 399v2m0 44v1m1-19v1m0 12v1m0 15v2m1-36v2m0 8v1m1-16v2m0 8v1m0 26v2m1-463v2m0 427v2m0 32v2m1-56v2m0 8v2m0 6v2m0 21v2m2-455v2m0 10v1m0 417v2m0 29v2m0 5v1m1-452v1m0 406v1m2-3v2m0 13v1m0 31v2m2-463v2m0 409v2m1-69v2m0 52v1m1 14v1m0 10v2m1-419v2m0 407v3m1-29v1m0 10v2m0 45v2m0 3v2m1-443v1m1-4v1m0 2v1m0 388v2m1-2v2m0 5v1m0 2v2m0 21v1m1-443v2m0 407v2m1 14v2m0 42v2m1-456v2m0 446v1m1-474v2m0 424v1m0 12v1m0 25v1m0 10v2m3-67v2m1 3v1m0 33v2m1 16v2m1-439v2m0 399v2m0 16v2m1-424v2m1 1v2m0 398v1m0 10v2m1-28v1m0 17v1m0 2v2m1 9v2m1-52v2m0 66v2m0 10v1m1-83v2m0 19v2m0 7v1m1 41v2m1 8v1m2-37v2m1-79v2m0 103v1m1-58v1m0 65v2m1-16v1m0 10v2m1-52v1m0 52v2m1-62v2m1 1v2m1 49v1m1-34v2m1-38v2m1 73v2m1-52v2m0 3v1m0 7v2m0 27v3m1-8v2m1-73v1m0 5v2m1 47v2m1 13v1m0 5v2m1-57v1m1 27v1m0 31v2m1-47v1m0 21v2m2-28v2m0 11v2m0 23v1m1-42v2m0 37v2m1-33v2m0 34v2m0 4v2m1-41v2m2 0v2m1-22v2m0 2v1m0 49v2m1-47v1m0 8v2m1-16v1m1 25v1m1 22v1m1-75v2m0 39v2m1-39v1m0 33v1m0 9v1m1-57v2m1 34v2m0 37v2m1-80v2m0 29v1m1 18v2m1-20v2m0 16v4m0 3v2m1-12v2m0 42v2m1-62v1m1-26v2m0 36v2m1 47v1m2-68v2m0 61v2m1-11v1m1-70v2m1 16v2m1-7v2m0 18v2m0 1v2m1 3v2m1-25v2m0 26v2m0 17v2m1-52v2m0 4v2m0 12v1m0 18v2m1-30v4m1-5v1m0 5v2m2 47v2m2-70v1m1-22v1m1 52v2m1-21v1m0 7v2m1-18v1m1 31v2m0 23v1m1-68v1m0 57v2m2-28v2m0 5v2m1 24v2m1-15v2m0 9v2m0 2v1m1-44v2m1-12v4m1-21v1m0 77v1m1-66v1m0 8v2m1 0v2m0 1v2m0 36v1m1-93v2m0 38v1m1 12v1m1-63v1m0 82v1m1 26v2m2-34v2m0 1v2m1-49v2m0 13v3m4 13v2m0 1v2m1-20v2m0 54v1m0 7v1m1-27v1m1-31v2m1-55v1m0 13v2m1-399v1m0 429v1m0 53v1m1-1v1m1-65v2m2-411v2m1 443v2m1-56v2m0 27v2m1 26v2m2-7v2m1-8v1m1 22v1m2-32v1m1 43v1m2-60v2m1-26v1m0 18v2m0 57v1m1-53v1m0 8v2m0 3v2m0 41v1m1-93v2m0 3v2m0 44v2m1-10v1m1 49v2m1-77v2m0 44v2m0 30v2m2-130v1m0 114v2m0 13v2m1-54v2m1-54v1m0 51v2m0 44v1m3-24v1m1-26v2m1 3v2m1 18v1m0 17v1m1-39v2m0 47v2m2-20v2m0 10v1m0 2v1m2-63v2m1-28v2m0 34v1m0 2v2m0 8v1m1-31v2m0 21v2m1-64v2m1 55v2m0 46v1m0 2v1m1-107v2m0 104v1m1-91v2m1 47v2m1 29v2m0 11v2m1-74v2m0 21v2m2-8v1m0 12v1m1-27v1m0 25v1m2-73v2m0 109v1m1-65v2m0 10v1m1-436v1m1 487v2m1 2v1m1-11v2m1-36v1m0 4v1m0 28v2m1-36v1m0 38v1m1-48v1m0 7v1m0 20v2m0 6v3m2-35v1m0 10v2m1-88v1m1 28v2m0 58v2m1-82v2m0 21v2m0 41v1m2-11v1m1-425v2m0 418v2m0 21v2m0 8v2m1-30v2m1 41v1m0 10v3m1-3v2m4-96v1m0 12v1m0 67v2m0 6v2m0 1v2m1-44v2m1 23v1m0 3v2m1-37v1m0 13v2m2-11v1m1 42v2m1-72v2m0 54v1m1-94v2m0 53v2m0 8v2m0 5v1m0 4v1m1 8v2m1-21v1m1 9v1m1-453v2m2 414v1m0 54v2m1 8v1m1-52v2m0 18v2m1-79v2m0 94v2m1 13v2m1-62v1m0 18v2m2 5v2m0 26v1m1-58v1m1-5v2m0 60v2m1-46v2m1 36v1m1-68v2m1 22v2m0 44v2m1-79v2m0 28v1m0 57v2m1-41v2m0 13v3m2-42v1m0 20v2m1-13v1m0 52v2m1-68v1m0 62v2m1-47v1m1 8v2m0 2v1m1-462v1m0 458v2m1-30v2m0 57v1m2-16v2m1-18v2m0 17v2m1-41v2m0 18v2m0 3v1m2 2v2m0 3v2m1 16v1m1-52v2m1-47v1m1 31v2m0 37v2m0 29v2m2-11v1m1-83v2m0 32v2m1-428v1m1 416v1m1 20v1m2-6v2m0 16v1m1-6v2m1-25v3m0 26v2m0 24v2m1-39v2m0 34v1m2-30v1m1 28v1m0 2v2m1-31v1m0 15v2m3-8v1m1-26v2m0 26v1m1-34v2m0 44v1m1-86v2m0 75v1m1-123v1m0 67v2m0 16v2m1 6v2m1 5v1m0 20v1m1-101v2m0 90v1m0 16v2m1-62v2m2-13v1m1 74v1m2-45v1m1-21v2m0 24v2m2-28v2m1 47v2m0 14v2m1-59v2m0 24v2m1-18v2m0 39v1m2-52v2m0 2v1m0 21v2m1 29v2m1-47v1m0 15v2m1-21v1m0 2v1m2 0v2m0 3v2m3-5v2m0 18v1m0 8v2m0 10v1m1-55v3m0 43v1m1-89v1m1 62v2m1-116v2m0 119v1m1-52v2m1-16v1m0 39v2m0 18v3m0 10v1m0 12v1m3-89v2m1 37v2m0 13v1m1-1v1m3-32v1m1-34v2m0 76v2m1-49v2m0 31v3m2-28v2m0 32v2m0 11v2m0 10v1m1-9v1m1-29v2m1-20v2m0 26v1m0 12v1m0 15v2m1-10v2m1-31v1m0 2v2m1-20v2m2 1v2m0 47v2m1-26v1m0 26v2m1-54v2m0 19v2m0 11v2m1-112v1m0 33v2m0 48v2m0 29v2m0 2v1m2-60v2m0 47v1m2-29v2m0 36v1m1-58v1m0 10v2m0 45v2m3-49v2m1-70v1m2 57v2m0 60v2m1-4v2m1-55v1m1 5v2m0 15v1m0 10v2m1-70v1m1 73v2m1-34v2m0 39v1m1-52v2m4 1v2m0 5v2m1 0v1m0 23v2m0 16v1m1-45v2m0 6v2m1-17v2m1 13v2m0 5v1m0 18v2m0 9v2m1-76v1m0 7v1m0 28v2m0 16v2m1-40v2m0 59v1m1-66v1m0 33v1m1-3v2m0 32v2m1-46v2m0 8v2m1 14v2m0 2v1m1-53v1m1-57v2m0 60v2m0 34v2m0 4v2m1 10v1m1-63v2m0 3v1m1-32v2m0 52v1m1 5v2m1-93v2m0 55v2m0 18v1m1 2v1m0 13v2m1-16v1m0 5v2m0 2v1m0 5v2m0 5v1m1-47v2m1 8v1m0 33v2m0 13v1m0 8v2m2-41v2m1 5v1m1 7v2m0 1v2m1 14v2m1-70v2m2-62v1m0 67v2m0 26v2m1-41v1m0 17v1m1-5v2m0 49v2m1-2v2m0 6v2m1-2v2m1-67v2m0 48v4m1 9v2m1-52v2m2 50v2m1-25v2m1-5v2m1-36v1m0 30v1m0 31v2m1-57v2m0 35v2m1-34v2m0 16v1m1-26v2m1 36v1m0 2v2m0 13v1m1-8v2m1-116v2m1 83v2m1 3v1m2-21v2m0 21v2m3-23v2m1-36v1m0 44v2m0 15v1m1-88v2m0 28v1m0 46v1m0 4v1m1-22v1m0 36v2m1-83v1m1 21v2m0 63v2m1-41v2m1-3v1m0 26v2m2-3v1m1-115v1m0 64v2m0 18v1m0 42v2m1-133v1m0 113v1m0 15v1m2-39v2m1 33v1m1-5v2m0 3v2m1-64v2m1 41v1m1-101v2m0 101v2m0 4v2m2-42v1m1-150v2m0 205v2m1-137v2m1 88v1m0 30v1m1-42v2m0 26v1m1-24v2m1 11v2m0 4v2m1-28v2m0 2v1m2 13v2m0 6v2m1-50v1m0 34v2m2-20v2m0 23v2m0 19v2m1-7v2m0 11v2m0 6v2m1-68v1m0 28v2m0 4v4m1-181v1m0 160v2m0 1v2m0 8v2m1 21v2m1-59v2m1 57v1m1-36v2m0 15v1m0 8v2m1 0v2m1-194v1m0 193v5m1-20v2m1-25v2m0 36v1m2-44v2m1 8v2m0 10v1m0 29v2m1-34v2m0 17v2m1-36v2m1-10v2m0 52v1m1-120v2m0 73v2m2 3v1m1 13v4m2-25v2m0 34v2m3-75v1m0 18v2m2 3v2m2-3v1m0 30v1m0 12v1m1-44v2m0 8v2m0 14v2m1-20v2m0 2v1m1 34v2m1-37v1m1 2v2m2-31v1m0 21v2m0 18v2m1 4v2m1-109v2m0 133v2m1-54v2m1 35v2m1-47v1m0 7v2m0 5v1m0 3v2m0 20v1m0 21v2m1-65v1m0 10v2m0 44v1m1-32v2m1-43v2m1 23v1m0 13v2m1-41v2m1 13v1m1 23v2m0 2v1m0 28v1m1-58v3m1 31v2m2-38v2m1-16v1m0 54v3m1-47v2m3-41v1m1-94v2m0 146v2m0 29v2m1-28v3m2-4v1m1 39v2m1-49v2m0 52v1m1-18v2m2-182v1m1 144v1m1 28v2m1-7v2m1-181v1m0 160v2m2 29v2m1-191v2m0 135v2m0 6v2m0 8v2m0 24v2m2-186v1m0 111v2m0 34v2m0 24v2m1 11v2m2-186v2m0 106v1m0 80v2m0 6v2m2-52v3m0 11v2m0 39v2m2-61v2m0 15v1m1 25v1m1 10v2m1-205v3m0 1v2m0 140v2m0 13v2m0 35v2m0 3v2m1-42v1m0 20v1m1-185v1m0 165v1m0 2v2m0 34v1m1-50v2m1-7v2m1 39v1m2 7v2m0 1v2m1-197v1m1 150v2m0 32v2m1-3v1m1-180v1m0 142v2m0 13v1m1 5v2m1 13v1m1-39v2m1-7v2m0 7v1m0 13v2m1-3v1m0 13v2m1 24v2m1-191v2m0 169v2m1-174v1m0 77v2m3-88v1m0 124v2m3 11v2m0 40v2m1-63v1m1 15v1m1 46v2m0 8v1m1-32v2m0 9v2m1-46v2m2 47v2m1-26v1m0 12v1m1-14v1m0 15v2m0 13v1m0 5v2m1-34v1m0 28v2m1-48v2m0 3v2"/>
<path stroke="#048d00" d="M0 112v2m0 70v1m0 25v1m1-97v1m0 34v2m0 54v5m0 387v2m1-492v2m0 16v2m0 27v2m0 13v2m0 35v2m0 376v2m1-476v2m0 13v2m0 11v2m0 83v1m0 380v2m1-483v4m0 36v1m0 12v1m0 8v2m0 23v1m0 362v2m1-460v4m0 3v1m0 12v1m0 476v2m1-486v2m0 49v1m0 9v1m0 15v3m0 370v2m1-447v2m0 3v2m0 6v2m0 41v1m0 12v1m0 5v2m0 396v1m1-466v2m0 28v3m0 13v2m0 6v2m0 8v1m1-87v1m0 33v1m0 33v2m0 19v2m0 18v1m1-112v3m0 13v2m0 1v2m0 10v1m0 2v2m0 37v2m0 36v1m0 342v2m0 36v1m1-488v3m0 73v2m0 2v1m0 8v2m1-94v3m0 18v1m0 52v2m0 2v1m0 10v2m0 350v2m0 37v2m1-466v1m0 23v2m0 37v2m0 10v1m0 10v2m0 352v1m0 12v1m1-467v1m0 15v2m0 6v2m0 52v2m0 4v2m0 5v2m1-80v3m0 36v3m0 7v1m0 28v2m0 3v6m0 336v2m0 29v2m1-373v1m0 373v2m0 16v2m1-499v2m0 19v2m0 5v2m0 412v1m1-443v2m0 16v2m0 34v2m0 39v1m0 341v1m0 43v1m1-467v2m0 60v1m0 23v2m1-67v2m0 60v2m0 19v2m1-95v2m0 59v1m0 8v4m1-90v2m0 47v2m0 410v2m1-430v1m0 64v1m1-78v2m0 63v2m0 5v2m1-95v2m0 16v2m0 14v2m0 8v2m0 42v2m0 3v2m0 6v2m0 366v2m1-463v3m0 40v1m0 18v2m0 378v1m1-449v1m0 21v2m0 60v2m0 3v2m0 342v2m1-429v2m0 10v3m1-5v2m0 4v2m0 18v2m0 1v2m0 52v2m1-103v2m0 42v2m0 45v2m1-91v1m0 2v2m0 6v2m0 9v2m0 5v2m0 1v2m0 45v2m0 7v1m1-91v3m0 15v2m1-26v1m0 12v1m0 5v2m0 9v2m0 59v1m0 10v2m0 347v1m0 9v1m1 34v2m1-494v2m0 11v2m0 7v1m0 67v2m0 347v3m0 6v2m0 3v2m1-461v2m0 8v1m0 10v2m0 5v3m0 44v1m0 23v4m1-95v2m0 21v1m0 71v1m0 378v2m1-474v1m0 33v2m0 428v2m0 16v1m1-462v1m0 9v1m0 398v1m0 5v2m1-432v2m0 1v2m0 2v1m0 69v1m0 315v1m1-404v2m0 11v2m0 5v3m0 44v2m0 26v2m0 381v1m1-475v1m0 13v2m0 437v1m0 18v2m1 11v2m1-484v2m0 16v1m0 9v1m0 52v2m0 3v2m0 378v1m0 9v1m1-485v1m0 17v1m0 15v2m0 32v2m0 355v2m0 53v2m1-44v2m0 48v2m1-487v2m0 3v2m0 9v2m0 8v3m0 4v1m0 4v1m0 31v2m1 1v2m0 8v2m1-75v1m0 12v1m0 66v1m0 17v1m0 290v2m0 26v1m1-402v2m0 10v1m0 3v2m0 21v2m0 8v2m0 18v1m0 339v2m0 44v1m1-37v1m1-363v2m0 387v2m1-458v2m0 10v1m0 393v2m0 21v1m1-418v1m0 39v2m1-36v2m0 368v2m0 62v1m0 13v2m0 5v1m1-470v1m0 2v1m0 57v2m1-59v2m0 5v2m0 9v2m0 389v2m1-428v1m0 8v2m0 2v1m0 12v1m0 47v2m0 385v1m1-451v2m0 428v2m0 31v1m1-459v1m0 4v3m0 55v2m0 365v2m1-448v1m0 28v3m0 52v2m1-85v2m0 13v1m0 426v1m1-449v1m0 25v1m0 13v2m1-18v2m0 14v2m0 422v2m0 3v1m1-1v1m0 18v2m1-472v1m0 17v1m0 10v2m0 45v2m0 386v1m1-459v3m0 56v3m0 316v2m1-393v2m0 21v2m0 11v2m0 436v2m1-453v2m0 363v1m0 40v1m0 3v2m1-433v1m0 8v2m0 406v1m0 51v1m1-469v2m0 16v2m0 10v1m0 422v2m1-13v1m0 28v2m1-486v2m0 33v1m1-19v1m0 15v2m1-40v2m0 15v1m0 15v2m0 3v2m0 392v2m0 19v2m0 24v2m1-432v2m0 2v1m0 349v1m0 80v2m1-446v1m0 399v2m1-12v2m0 33v1m2-472v2m0 9v2m0 427v1m0 15v2m4-422v1m1-11v2m1 408v2m1-381v2m0 381v1m1 51v1m1-81v2m0 78v1m1-47v2m0 2v1m0 29v2m1-445v2m0 420v2m0 3v2m0 11v2m1-23v2m1-424v2m0 412v2m0 47v1m3-47v2m1-403v2m0 391v2m0 27v2m1-10v2m1-12v2m1-3v1m0 35v1m1-462v1m0 469v2m2-91v1m3 35v1m0 18v2m1-422v2m0 400v2m2 5v1m0 28v2m1-461v1m0 474v2m2-13v2m1 1v2m1-12v2m1-36v2m1-10v2m1 11v2m1-43v2m0 59v1m1-27v1m2-37v1m0 51v2m0 30v2m1-10v2m0 5v1m1-8v2m1-31v2m1-33v2m0 11v2m0 3v2m1 22v2m2 15v1m0 8v2m1-458v2m0 396v1m3-9v1m0 28v2m0 34v1m1-81v2m0 26v1m0 33v2m1-35v2m0 33v1m1-11v1m1-11v2m0 31v1m1-19v1m1-60v2m0 42v2m2-28v2m2 50v2m1-25v2m0 3v2m0 14v2m1-16v1m1 4v1m1-27v1m0 41v2m2-82v2m0 50v2m0 24v2m0 3v2m1-7v2m2-41v2m0 29v2m1-31v2m0 14v2m3-23v2m0 6v2m1-13v1m0 49v2m3-78v1m0 80v2m2-51v2m1-406v2m0 402v2m1 3v2m0 10v1m0 7v1m2-31v2m0 2v1m1-1v1m0 7v1m1 10v2m0 6v2m1-26v2m2 27v3m1 7v2m0 8v1m1-53v1m1-8v2m0 45v2m1-59v2m0 29v2m1-15v2m0 16v2m1-10v2m0 9v2m1-26v2m2-417v1m0 424v1m0 9v1m0 3v2m0 10v1m2-1v1m1-22v1m2-18v2m0 2v1m1 43v1m1-42v2m0 1v2m2-62v1m0 49v2m0 13v2m4-80v1m1-351v1m0 463v1m1-461v2m0 402v2m3 10v2m1-421v2m0 415v2m0 3v2m1 8v2m0 21v1m1-29v2m0 1v4m0 17v2m1-37v1m0 28v2m1-7v2m0 21v1m1-30v1m0 29v2m2-469v2m0 3v1m1 422v2m0 13v2m1 16v2m1-57v1m1 12v1m0 25v1m0 8v4m1-450v2m0 435v1m0 12v1m0 10v2m1-51v2m0 6v2m1 26v2m0 13v1m1-474v2m0 430v2m0 14v2m1-437v2m1-20v2m0 358v2m1-358v1m0 432v2m1-88v1m0 67v2m1-408v2m1 2v1m0 452v1m1-27v1m1-5v2m1-72v2m1-372v2m0 2v1m0 468v1m1-465v1m2 370v2m0 71v2m0 18v1m1-469v2m0 347v2m0 107v2m1-15v2m0 8v1m1 2v2m1-25v2m0 2v1m0 2v1m0 7v2m0 11v2m1-114v1m1 106v2m1 1v2m0 6v2m1-50v1m1-423v1m0 474v2m1-15v2m1-458v2m0 3v2m0 404v1m0 44v2m1-464v1m0 12v1m1 443v2m1-454v1m0 458v2m1-461v3m0 407v2m0 1v2m1-425v1m0 23v2m0 404v2m0 1v2m1-406v2m1-17v2m0 12v3m0 404v1m1-425v2m0 404v1m1-410v2m0 8v1m0 440v2m0 16v2m2-473v2m0 410v2m0 54v1m1-16v2m1-21v1m1-438v2m0 425v2m1-418v2m0 419v1m1 43v1m2-9v1m1-52v2m1 14v2m1-47v1m0 67v2m1-440v2m1 456v3m1-476v2m1 10v1m1-9v1m0 7v1m0 9v1m0 420v2m1-36v2m1-389v1m0 398v1m1-3v2m1-409v3m0 8v2m0 414v1m1-24v1m0 33v2m0 22v2m1-451v1m1-22v1m0 15v2m0 1v2m0 357v1m0 67v2m1-439v2m0 5v2m0 436v2m1-26v1m1-431v1m0 5v2m0 6v2m0 396v1m1 31v2m1-424v2m1 381v2m0 24v2m1-420v1m0 4v1m0 389v2m1-391v2m0 414v1m1-446v1m0 20v2m0 410v2m1-62v1m0 59v3m1 36v2m0 3v2m1-473v2m0 16v2m0 436v2m1-435v2m0 394v2m1-395v2m0 367v1m0 21v2m0 8v2m1-8v1m0 10v2m0 6v2m1-3v1m0 2v1m0 18v2m4-47v1m2 12v1m0 38v1m2-53v1m0 2v2m1 14v2m0 6v2m2-49v2m0 28v1m4 21v2m1-20v2m0 41v1m1-65v2m3 54v1m1-45v1m0 33v1m0 4v1m1-40v1m1-60v2m0 105v2m3-11v1m1-480v1m4-3v2m0 396v1m0 31v2m0 62v1m1-496v1m0 471v2m0 6v2m1-476v2m0 440v1m0 28v1m1-478v1m0 5v2m0 470v2m2 15v1m1-50v2m1-5v1m0 7v1m0 38v1m1-34v2m0 16v2m3-106v2m0 120v2m1-7v2m1-28v2m1-458v2m0 438v2m0 19v2m1 19v2m0 1v2m1-39v2m2-22v2m1 25v1m0 28v1m2-3v2m1-484v2m0 457v2m1-6v1m1-36v2m1 11v2m0 52v2m1-38v2m2-16v1m0 47v2m1-111v2m1-384v1m0 433v2m0 3v2m0 36v1m1 0v2m1-476v2m0 428v2m1 3v2m0 44v2m1-10v1m1-45v1m1 38v2m0 21v1m1-125v2m0 42v2m1 26v1m0 13v2m0 29v2m2-489v2m1 370v1m0 59v1m0 4v1m0 7v2m1-28v1m1 18v2m1 36v1m2-45v1m0 28v2m0 26v1m1-3v2m2-44v2m1-36v1m0 30v1m0 23v2m1-12v2m4-33v2m0 5v1m0 20v2m1-82v2m0 54v1m0 21v2m2 2v1m2-8v2m0 31v1m1-39v2m0 8v3m3-443v2m0 459v2m1-44v1m1-47v2m0 93v1m1-34v2m0 1v2m0 13v2m0 8v1m2-47v2m0 34v2m0 13v1m1-469v2m2 464v2m2-145v1m0 92v1m1-24v1m0 49v2m0 21v2m1-13v1m1-31v2m0 7v1m0 2v1m1 7v2m0 34v1m1-9v1m2-472v1m0 479v2m1-23v2m0 10v1m1-467v1m0 383v2m1 1v2m0 83v2m2-47v1m0 8v2m1-459v1m0 2v1m0 13v2m0 394v2m0 24v2m0 16v2m1-451v1m0 370v2m1-368v1m0 378v2m1-373v1m0 416v1m0 5v2m2 34v2m2-30v2m1-438v1m0 419v2m0 10v1m0 39v2m1-64v2m1 36v1m0 10v2m3-464v1m0 429v1m0 36v2m3-2v2m1-33v2m1-447v2m1 484v1m0 2v2m1-481v2m1-5v2m4 482v1m1-44v2m1-2v2m3-456v3m0 443v2m0 8v2m1-440v1m0 453v2m0 18v1m1-495v2m0 5v1m1-8v2m0 443v2m0 19v2m1-463v2m0 431v2m0 10v2m1-444v2m0 2v1m1 390v1m0 64v1m0 28v2m1-484v2m0 9v2m0 437v1m1-453v2m2 438v2m1-43v2m0 44v2m0 32v2m1-49v2m1 53v2m1-477v1m0 455v1m0 13v2m1-472v1m0 4v1m1 458v2m1-4v2m0 8v2m1-83v1m0 56v1m1-26v2m0 19v2m3-450v2m0 415v2m1 31v2m1-28v2m1-452v2m0 463v1m0 7v1m0 28v2m1-18v1m1 12v1m2-43v1m1-443v2m1 462v2m0 11v2m1-60v1m1-32v1m0 39v2m1 28v1m1-70v2m0 65v2m1-464v1m2 403v1m0 49v2m1-57v3m0 36v1m0 2v2m1-427v1m0 396v2m0 21v3m0 30v1m1 10v2m1-69v2m0 55v2m1-15v2m1 5v1m1-467v2m1 21v1m0 388v2m1 55v2m1 11v2m0 9v2m1-2v2m1-41v2m1-23v2m0 55v2m1-3v1m0 2v1m2-52v2m0 11v2m2 21v2m0 1v2m1-472v1m0 447v1m0 5v2m1-16v1m2 39v2m1-12v2m1-21v2m1 24v2m1-476v3m1 469v2m1-41v2m1-435v2m0 430v1m0 8v2m0 36v1m1-45v2m0 37v2m2-476v2m0 456v1m1 23v2m2-23v2m1-18v1m0 26v2m3-57v2m1 26v1m1-37v1m0 61v1m1 8v2m1-52v2m0 48v2m1-59v2m0 23v2m1-71v2m0 99v2m1-50v1m0 12v1m1-80v2m0 78v2m1-59v2m0 2v1m1 77v1m2-44v2m0 13v2m0 31v1m1-1v1m2-52v2m0 49v1m1-62v2m0 46v1m0 21v2m1-479v2m0 409v1m0 10v2m2 45v2m2-57v1m0 49v2m0 8v2m0 1v2m1-489v2m0 437v1m0 46v1m1-40v1m2-13v2m0 29v2m1-460v2m0 432v1m0 35v1m2-109v2m0 102v2m0 5v1m1-4v1m1-6v1m1-474v2m0 443v2m0 6v2m0 6v2m3-57v2m0 26v1m1-3v2m3 14v2m2-7v2m1 29v4m1-31v1m1 34v2m1-107v1m0 108v1m1-16v2m2-20v2m0 27v2m1-36v2m0 19v2m1-94v1m0 34v2m0 52v2m3-41v2m0 42v2m1-21v1m1-52v2m0 31v1m0 49v2m2-64v2m0 13v3m0 10v2m2-67v1m0 64v2m2-30v2m0 21v2m0 13v1m2-26v2m0 34v2m1-46v2m0 45v2m1-83v2m2 66v2m0 10v1m0 8v2m1-54v4m0 29v2m1 19v2m1-49v2m1 19v2m1 1v2m0 18v1m0 4v1m1-55v2m0 8v1m0 31v2m0 11v2m1-62v2m0 14v2m1 5v2m1-23v1m0 9v1m1 26v2m1-41v2m0 44v1m1-8v2m1-116v2m1 75v1m2-3v2m2-5v1m0 17v1m0 30v1m2-63v1m2 40v1m1 16v2m1-42v1m1 25v1m1-63v2m1 73v1m1 15v2m1-17v2m2-112v1m0 122v2m1-70v2m0 8v1m0 57v2m1-60v1m0 9v1m1-13v2m1 18v1m0 4v1m4 21v2m1-2v2m2 11v2m1-13v2m2-26v1m0 25v1m0 10v2m1-34v1m1 28v1m1-65v2m0 57v2m1-53v2m0 36v2m2-41v1m3 33v2m1-10v2m0 8v1m0 10v2m2-61v2m1 23v2m1 6v3m0 25v1m0 5v2m3-41v2m0 31v1m2 8v2m1-57v2m0 11v2m0 42v2m1-52v1m1 20v1m1-17v1m1-49v2m0 60v2m1-10v2m0 9v2m2 13v2m1-118v2m1 112v2m1-32v1m1-21v2m0 22v2m0 37v2m2-19v1m0 5v2m0 3v2m0 1v2m1-111v2m2 84v2m1-18v2m0 40v2m1-68v1m0 12v1m2 51v1m1-1v1m1-74v1m1 65v2m0 6v2m1-57v2m0 3v2m0 32v2m2 3v2m1-21v1m1-174v1m0 131v1m0 44v2m1 13v2m1-31v1m0 28v2m2 8v1m1-9v1m1 8v2m2-59v2m1 20v1m2-27v1m2 15v2m0 17v2m0 28v1m2-45v1m0 30v1m1-107v1m1 106v2m1-51v2m1 10v2m1-12v2m0 18v1m0 7v1m0 22v1m1-45v1m0 25v1m2-16v2m0 16v2m0 11v2m1-196v2m0 161v2m0 16v2m1-15v2m0 4v2m1-55v1m0 57v2m2-15v2m1-90v2m0 119v1m1-203v1m1 175v1m1-1v1m0 9v1m0 16v2m4-39v2m1 1v2m0 3v2m0 26v1m1-89v2m0 50v2m3-12v2m1 37v2m1-47v1m0 4v1m2-13v2m1-34v1m1 41v2m0 13v1m0 5v2m0 6v2m0 16v2m0 3v2m1-7v2m1-201v2m0 189v2m1-62v1m0 64v2m0 6v2m2-69v2m1 39v2m1-30v2m1 11v2m1 0v2m1-2v2m1 0v1m0 20v3m1-46v2m0 7v1m0 7v1m0 26v4m1 11v2m2-49v2m0 40v2m1-181v2m1-22v2m0 197v2m1-189v2m1 138v2m1 35v2m0 15v1m1-27v1m1-18v2m1-20v2m0 8v4m2 42v1m1 2v2m3-64v2m2 19v2m1-16v1m0 35v1m0 21v2m1-215v3m0 142v2m0 27v2m1-3v1m0 17v1m5-55v1m0 25v2m0 39v1m1-205v2m0 143v2m0 8v1m2 31v2m0 13v2m1-13v1m0 2v1m1-32v2m1 39v1m1 7v1m1-66v1m0 8v2m0 7v1m1-16v1m0 44v2m1-37v1m0 41v3m1-19v1m1-181v2m0 155v2m1-163v1m0 140v2m0 52v2m1-196v2m0 160v1m1-156v1m0 77v2m0 37v2m2-119v1m0 186v2m1-25v2m0 3v3m1-16v2m0 42v2m1-10v2m2-196v2m0 168v1m1-166v2m0 171v1m2-40v1m0 60v2m1-204v2m1-3v1m1 185v1m1-184v2m0 135v2m0 40v2m2-181v2m1 11v2m0 143v2m0 18v1m1-16v3m0 17v1m2-187v1m0 186v2m1-47v1m0 10v2m0 5v1m1 5v2m2-25v2m1 11v2m2 8v2m3-20v2m0 8v3m1-160v2m0 42v2m0 106v2m0 21v1m0 12v1m1-187v2m0 161v2m1-167v2m0 3v2m0 165v1m1-31v2m0 32v2m0 20v1m1-31v2m0 11v2"/>
<path stroke="#218300" d="M0 136v2m0 33v3m0 24v2m0 20v1m1-112v1m0 7v3m0 5v2m0 3v3m0 8v2m0 2v1m0 56v1m0 7v1m0 5v2m0 389v2m1-495v1m0 12v1m0 2v2m0 9v2m0 20v1m0 18v2m0 13v1m0 22v1m0 339v2m1-439v2m0 5v2m0 1v2m0 10v1m0 36v2m0 6v2m0 5v1m0 2v2m0 14v2m0 384v2m0 8v2m1-497v2m0 3v1m0 22v1m0 20v1m0 4v1m0 393v2m1-442v2m0 11v2m0 3v5m0 55v2m0 10v1m0 398v1m1-485v3m0 3v2m0 8v2m0 19v2m0 16v2m0 10v1m0 20v2m0 4v2m1-114v2m0 1v2m0 15v1m0 33v1m0 7v2m0 9v2m0 33v1m0 337v2m1-443v2m0 6v3m0 4v1m0 5v2m0 24v2m0 47v2m0 9v2m0 3v2m0 350v2m1-451v1m0 3v2m0 31v2m0 35v2m1-101v2m0 23v1m0 7v1m0 25v1m0 4v1m0 10v3m0 20v1m1-92v1m0 2v2m0 1v2m0 5v1m0 13v2m0 46v3m0 13v1m0 7v2m0 395v2m1-476v2m0 28v1m0 2v2m0 29v2m0 8v1m1-96v2m0 6v2m0 5v2m0 9v2m0 20v1m0 31v2m0 11v2m0 6v2m0 340v2m0 44v2m1-479v1m0 2v2m0 24v2m0 52v1m0 339v2m0 11v2m1-442v2m0 7v1m0 28v2m0 363v1m0 43v1m0 5v2m1-459v1m0 5v2m0 9v2m0 42v2m0 2v1m0 2v2m0 1v2m0 23v1m0 5v2m0 347v1m1-451v2m0 18v1m0 7v1m0 2v2m0 5v1m0 10v2m0 6v2m0 10v1m0 13v2m0 10v1m0 5v2m0 8v2m0 374v2m1-477v1m0 3v4m0 8v1m0 429v2m0 6v2m0 3v2m1-468v2m0 1v2m0 5v1m0 44v2m0 24v2m0 3v2m0 7v1m0 3v2m0 331v1m1-438v2m0 6v2m0 26v2m0 13v1m0 57v2m0 316v2m1-427v1m0 7v2m0 16v1m0 2v2m0 55v2m0 14v2m0 5v3m0 368v2m1-484v2m0 1v2m0 5v3m0 33v1m0 10v2m0 298v2m0 84v4m0 35v2m1-489v4m0 34v1m0 12v1m0 9v3m0 366v2m0 52v2m0 8v1m1-495v2m0 6v2m0 16v2m0 11v2m0 49v1m0 369v1m0 13v2m0 6v2m0 13v2m1-495v1m0 34v2m0 15v1m0 38v1m0 10v2m0 1v2m0 8v2m0 339v1m0 10v2m1-471v2m0 13v1m0 16v2m0 10v2m0 50v2m1-103v2m0 3v2m0 74v2m0 29v2m0 288v2m1-386v2m0 26v1m0 17v1m0 18v2m0 14v4m0 5v1m0 375v1m1-478v1m0 12v1m0 75v2m0 396v1m1-479v2m0 16v3m0 14v1m0 29v2m0 20v1m0 18v2m0 311v2m1-414v1m0 4v1m0 51v1m0 20v2m0 8v1m0 349v2m0 27v2m0 3v2m1-479v5m0 6v2m0 5v1m0 59v2m0 19v2m0 371v2m1-461v2m0 19v2m0 1v2m0 42v2m0 2v1m0 346v1m1-438v2m0 423v2m0 41v1m1-469v2m0 3v2m0 21v3m0 3v2m0 34v2m0 14v2m0 7v4m1-70v2m0 39v2m0 13v1m0 10v2m0 1v2m0 342v2m0 1v2m1-446v1m0 4v1m0 31v2m0 425v2m1-481v2m0 6v2m0 1v2m0 5v3m0 23v2m0 5v1m0 44v2m0 13v1m0 364v1m1-466v2m0 5v2m0 92v2m1-106v2m0 6v4m0 14v2m0 65v2m0 21v1m0 2v2m0 324v2m0 47v1m1-503v2m0 26v1m0 5v2m0 80v1m0 329v2m0 8v2m1-448v1m0 23v3m0 7v2m0 52v3m0 10v1m0 303v2m0 24v2m0 3v2m0 3v2m0 21v2m1-469v1m0 15v1m0 7v2m0 3v1m0 15v2m0 54v1m0 310v1m0 48v1m1-459v1m0 10v2m0 3v2m0 13v1m0 2v2m0 40v2m0 15v1m0 351v1m0 16v2m1-459v1m0 5v3m0 57v2m0 13v2m0 365v1m1-448v2m0 2v1m0 10v2m0 61v2m0 2v1m0 365v2m0 37v2m1-471v2m0 1v2m1-28v2m0 3v2m0 8v3m0 13v2m0 2v1m0 2v2m0 30v2m0 8v2m0 370v1m0 25v1m1-477v2m0 14v2m0 2v1m0 23v2m0 35v2m1-83v2m0 1v2m0 13v2m0 8v1m0 17v1m0 21v2m0 21v2m0 339v1m0 13v2m0 8v2m0 11v2m1-450v2m0 5v1m0 2v3m0 12v1m0 409v2m0 19v2m1-459v1m0 2v1m0 5v4m0 13v1m0 383v2m0 3v2m1-440v1m0 5v2m0 6v2m0 21v2m0 10v1m0 34v2m0 3v2m0 13v2m1-103v2m0 9v4m0 1v2m0 15v1m0 36v2m0 6v2m0 34v2m0 337v2m1-435v1m0 8v4m0 8v1m0 5v2m0 28v1m0 21v2m0 341v1m1-440v5m0 23v2m0 6v2m0 3v2m0 1v2m0 31v1m0 409v2m1-494v2m0 8v2m0 19v2m0 406v1m0 41v2m1-468v3m0 13v2m0 15v1m0 33v1m0 5v2m0 18v2m0 361v2m1-464v1m0 3v2m0 2v1m0 8v2m0 5v2m1-33v2m0 3v2m0 3v1m0 2v3m0 5v2m0 13v2m0 6v2m0 37v2m0 13v1m0 349v2m0 5v1m1-456v3m0 21v2m0 2v1m0 15v2m0 42v2m0 381v1m0 7v2m1-478v2m0 28v1m0 2v2m0 1v2m0 5v1m0 65v2m0 362v1m1-464v3m0 8v4m0 3v2m0 6v2m0 40v2m0 12v1m0 319v2m0 20v1m0 30v1m0 2v1m1-379v2m0 11v2m0 340v2m0 5v1m0 12v1m0 8v2m0 10v1m1-483v1m0 8v2m0 31v2m0 26v1m0 3v2m0 352v2m1-429v2m0 3v2m0 26v1m0 339v2m0 49v1m1-436v1m0 92v1m0 388v2m1-466v1m0 10v2m0 10v1m0 12v1m0 378v2m0 58v2m1-487v2m0 19v2m0 1v2m0 2v3m0 2v1m0 389v2m0 25v1m1-448v2m0 23v1m0 2v2m0 1v3m0 2v2m0 353v2m0 47v2m0 1v2m1-445v2m0 8v2m0 11v2m0 14v4m0 1v2m1-38v2m0 2v4m0 4v1m0 2v3m0 432v2m1-453v1m0 23v3m0 429v1m0 15v2m1-492v1m0 23v2m0 3v2m0 14v2m0 419v1m0 2v2m0 22v2m1-497v2m0 6v2m0 11v2m0 2v1m0 8v2m0 3v2m0 337v2m0 68v2m1-447v2m0 5v2m0 4v2m1-13v2m0 34v2m0 399v1m0 33v1m0 13v2m1-467v1m0 17v1m0 432v1m1-438v4m0 415v2m1-429v2m1-25v2m0 41v1m0 5v2m0 414v1m1-430v2m0 404v1m2-436v1m0 7v2m0 3v1m0 30v1m0 383v2m1-399v1m0 10v2m0 388v1m0 33v1m1-451v2m0 6v2m0 397v2m0 49v1m1-470v3m0 2v1m0 422v2m0 5v1m1-435v2m0 419v1m1-409v2m0 459v2m1-474v2m0 13v1m1-18v2m0 34v2m0 370v1m0 28v2m1-445v1m0 15v2m0 415v2m1-414v2m0 22v2m0 380v1m1 21v2m1-448v2m0 34v2m1 439v2m1-466v2m0 430v1m1-428v2m0 452v2m1-472v1m0 10v2m0 21v2m0 400v2m0 2v1m0 21v2m1-456v1m0 12v2m1-22v2m0 3v2m0 16v2m1-31v1m0 17v1m0 432v2m1-448v1m0 17v1m0 12v1m1-39v2m0 475v2m1-464v1m0 10v2m1-12v2m0 2v1m1 2v2m0 400v2m0 29v2m0 15v1m1-459v1m0 419v2m0 3v2m0 39v1m1-482v2m0 16v2m0 11v2m0 417v1m0 7v2m1-450v2m0 6v2m0 10v1m0 427v2m1-457v2m0 11v2m0 16v2m1-33v2m0 11v2m0 3v2m0 401v1m1-412v3m0 398v2m0 35v2m1-432v2m0 2v1m1 417v4m1-437v2m0 6v2m0 412v2m1-9v2m0 3v4m0 4v2m0 18v2m1-437v2m0 8v1m0 432v2m0 9v2m1-464v1m0 9v3m0 402v2m0 2v1m1-5v2m0 16v2m2-443v1m0 10v2m0 1v2m0 5v2m0 417v1m3-441v1m0 15v2m0 6v2m2-10v2m0 6v2m0 409v1m1-36v2m0 13v2m0 5v1m0 26v2m0 21v2m1-43v2m1-37v1m1-379v1m0 377v1m0 21v2m0 11v2m0 24v2m1-435v2m0 412v2m1 19v2m0 14v2m1-62v2m0 58v2m2-466v2m0 435v1m1 5v2m1-39v1m2 18v2m0 18v1m0 10v2m1-73v1m0 20v1m1 7v2m1 21v1m2-26v2m1 0v2m0 26v1m1-18v2m1-422v2m0 394v1m0 44v2m1-18v2m0 29v2m1-458v2m0 439v2m1-453v2m0 391v1m0 59v2m0 1v2m1-29v1m0 2v2m1-5v1m1 20v1m1-443v2m0 407v2m0 45v2m2-8v2m1-48v2m0 50v2m1-52v2m0 3v2m1-418v2m0 411v1m1-420v2m0 9v2m0 459v2m1-464v1m0 452v1m1-50v3m1 41v1m2-449v1m0 404v2m0 21v2m1-422v2m1-4v2m0 454v2m1-34v1m0 7v2m0 1v2m0 19v2m1-468v2m1 8v2m0 409v1m1-422v2m0 445v1m1-446v2m0 431v2m0 20v1m1-459v1m1 424v2m1-18v1m0 46v2m1-17v2m1-33v2m0 3v2m0 26v2m1-435v1m0 385v1m1 35v1m2 16v2m1-13v2m1-442v2m0 1v2m0 7v1m1 443v2m1-78v1m1 38v2m1-7v2m0 6v2m0 11v2m1-21v1m0 2v2m0 43v2m1-50v1m0 8v2m0 5v2m0 19v2m0 5v1m1-454v1m1 406v2m1-419v2m0 402v2m0 47v1m0 10v2m1-36v2m0 18v1m2-27v1m1-412v2m0 456v1m1-466v2m0 419v1m0 7v2m1-9v2m1-427v2m0 3v3m0 386v2m1 3v2m0 46v1m0 3v2m2-458v2m0 415v2m0 3v2m0 2v1m0 10v2m1-439v2m0 466v1m1-464v2m0 392v2m0 36v3m0 5v2m1-12v2m1-438v1m2 453v2m0 18v1m1-18v2m1 3v2m1-8v1m1-454v2m0 374v2m1-381v1m0 5v2m0 3v2m0 456v1m1-39v2m0 3v2m1-440v2m0 3v2m1-7v2m0 440v1m1-443v2m0 472v2m1-476v3m0 2v3m0 453v2m1-46v2m0 6v2m0 13v2m1-437v2m0 430v1m1-443v2m0 16v2m0 422v1m0 20v1m1-40v1m0 25v1m1-433v2m0 407v2m0 1v2m1-429v2m0 8v2m0 1v2m1-11v1m0 439v1m1-18v2m0 15v1m1-88v2m0 68v2m1 2v1m0 7v1m2-440v4m0 3v2m1-7v2m0 431v2m1-440v2m0 10v1m0 399v2m0 65v2m1-479v1m0 359v1m0 64v2m0 22v2m1-23v2m0 3v2m1-437v3m0 2v2m0 422v1m0 7v1m1-436v1m1 9v1m0 5v2m1-18v1m0 7v2m0 9v4m1 405v2m0 19v2m1-438v1m0 12v2m1-27v2m0 2v1m0 406v2m0 39v1m1-454v1m0 7v2m0 8v1m0 409v2m0 5v1m1-425v2m0 6v2m0 419v1m0 38v1m1-475v3m0 375v1m1 54v2m1-7v2m0 6v2m1-438v1m0 12v1m2-13v2m0 414v1m0 9v1m1-427v2m0 10v1m1 0v2m0 5v2m1-10v1m0 417v2m1-424v4m0 5v3m0 402v2m1-427v2m0 8v1m0 10v2m1 423v2m1-446v1m0 7v1m0 442v2m1-432v2m0 418v2m1-434v4m0 6v2m1-18v2m2 452v2m1-440v2m1-15v3m0 15v2m0 410v2m1 0v2m1-434v2m0 3v2m0 11v2m0 391v1m0 4v1m1-75v2m1 73v2m1-417v1m0 413v1m1-412v3m1-13v2m0 2v1m0 10v2m1 9v2m0 393v1m1-405v1m0 4v1m0 412v2m0 31v1m1-459v2m1 10v1m0 411v1m0 12v1m0 2v2m0 21v1m1-55v2m1-396v1m1 404v2m0 20v1m1-430v3m1-4v1m0 401v2m1-426v2m0 21v2m1 410v2m0 32v2m1-471v2m0 15v1m0 412v2m1-438v1m0 434v1m0 25v1m1-457v1m0 28v2m0 376v2m1-383v1m0 4v1m1-9v1m0 8v2m0 388v1m0 12v1m1-413v1m0 2v1m0 398v2m0 16v1m1-17v1m1-404v2m0 420v2m1-46v2m0 16v2m0 5v1m0 44v2m1-98v2m1 37v2m0 14v2m3 11v2m1 11v2m1 15v1m2-63v1m2-8v2m0 6v2m0 8v2m0 37v2m2-33v2m0 37v2m1-83v2m0 32v2m2 44v3m2-63v1m0 25v1m0 4v1m1-461v2m0 365v1m1 64v1m2-434v1m0 461v2m1-36v2m1-426v2m0 428v2m0 42v2m0 8v2m1-487v1m0 429v1m0 7v2m2-5v1m1 2v2m0 37v2m0 13v1m1-60v2m0 1v2m0 5v2m0 27v2m1-31v2m1-442v2m0 1v2m0 467v2m1-480v3m0 8v2m1 451v1m0 20v2m1-478v2m0 467v2m1-479v2m0 428v3m1-428v2m0 423v2m0 50v2m1-104v1m0 80v2m0 14v2m2-104v1m1 56v1m0 20v2m0 6v2m0 6v2m0 24v2m1-492v2m0 369v2m0 51v1m0 49v2m1-478v2m1 3v2m0 451v2m1 29v2m1-87v2m0 36v2m0 47v1m2-496v1m0 5v2m0 448v1m1-454v1m0 447v1m1-83v2m1 106v1m1 18v2m1-490v1m1 442v1m1-4v1m1-448v2m0 361v2m0 85v1m2-451v2m0 479v1m1-483v3m0 443v2m0 29v1m2-475v1m0 417v2m1-419v2m1 5v2m0 404v1m1-404v2m0 423v2m0 10v1m0 7v2m1-458v1m1 458v2m0 13v1m3 7v2m1-481v2m0 469v1m1-118v1m0 90v1m0 2v2m2-49v1m0 41v2m0 31v1m0 13v2m2-49v2m0 34v2m1-486v2m0 402v2m0 47v2m0 22v2m0 10v1m1-50v2m1-437v2m0 426v2m0 5v2m0 42v2m0 1v2m1-41v2m1-12v2m0 23v1m1-449v1m0 417v2m0 3v2m0 8v2m0 36v1m0 2v1m1-480v2m0 439v2m1-443v2m0 3v1m0 431v1m1-440v2m0 396v1m0 40v1m0 3v2m1-438v1m0 421v1m1 13v4m1-10v2m0 11v2m1-448v1m2 443v2m1-34v1m1-8v2m1-420v1m0 429v1m1-431v1m0 422v2m0 36v1m2-32v1m0 5v2m1 53v2m1-482v2m0 3v1m0 465v1m3-462v1m1-9v1m0 437v1m1-430v2m1-11v3m1 3v2m0 5v1m0 409v2m0 6v2m1-422v2m0 412v3m3-440v2m0 469v2m0 4v2m1-482v2m0 434v2m0 3v2m1-3v1m1 4v1m0 2v3m0 3v2m1-2v2m1 36v1m1-490v2m0 436v2m0 16v2m0 28v1m1-485v1m0 408v1m0 48v1m0 21v2m1-487v2m0 399v1m0 72v2m1-457v2m0 422v2m1-5v1m0 54v2m1-486v2m0 3v3m0 419v2m0 18v1m2 10v2m1 1v2m1-41v2m1-420v1m0 417v2m1-8v1m0 12v1m1-423v1m1 352v2m0 83v2m1-442v2m1 430v2m0 9v2m0 23v1m1-480v1m0 9v3m1-13v1m0 391v2m0 7v1m0 67v2m1-458v1m1-13v2m0 2v3m0 397v2m0 46v1m1-451v2m0 456v1m1-456v4m1-4v2m0 3v2m0 477v2m1-479v1m0 432v2m1-17v2m0 55v2m1-476v2m0 445v1m1-464v2m0 448v1m1-436v1m0 474v2m0 3v2m1-500v2m0 9v2m0 3v2m0 427v1m1 5v2m1-440v2m1 387v2m0 59v1m1-443v2m1-21v1m0 21v2m0 404v2m0 53v2m1-464v3m1-26v2m0 16v1m0 457v1m0 15v1m1-495v2m0 438v2m0 11v2m1-432v2m1-13v1m0 481v1m1-482v2m0 423v2m1-428v1m1 0v2m0 8v2m0 440v1m1-446v1m0 427v2m1-437v2m0 2v1m0 476v1m1-487v2m0 2v1m0 429v1m0 46v2m1-44v1m1 5v2m0 16v2m0 18v1m1-34v2m0 9v2m1-464v1m0 9v1m1-5v2m0 437v1m0 7v1m0 13v2m1-481v2m1 28v1m0 429v1m0 31v2m1-484v2m1 10v1m0 391v2m0 47v2m1-456v1m0 12v1m0 3v2m0 420v2m1 7v1m0 7v1m0 18v2m1-38v2m0 15v1m2-16v2m1-5v1m0 17v1m0 5v2m0 16v2m0 6v2m1-495v1m0 373v2m0 36v1m1 2v2m0 6v2m1 18v3m2-34v1m0 10v2m0 37v2m0 8v2m1-463v2m2-8v1m1 18v2m1-17v2m0 11v2m0 424v1m0 49v2m1-495v1m0 18v2m0 369v2m0 56v1m0 7v1m0 15v2m1-466v1m0 10v2m0 356v2m0 95v1m2-475v1m0 494v1m1-495v2m0 428v3m1-434v1m0 10v2m0 6v2m0 457v2m0 3v2m1-477v1m0 4v1m0 437v1m0 5v2m3-450v2m0 479v1m1-483v1m0 10v2m0 415v2m2 47v2m1-492v1m0 438v2m2 46v1m1-470v1m0 432v2m0 1v2m1-443v1m0 8v2m1 443v2m0 1v2m2-459v1m0 365v2m1 62v1m1 2v2m1-7v2m0 29v2m0 1v2m1-468v2m0 13v2m1 449v2m1-453v2m0 467v2m1-39v1m0 41v2m1-10v2m0 1v2m3-47v1m1-440v2m0 463v1m1 7v1m2 2v2m2-18v1m3-26v2m0 10v1m0 15v2m1-92v2m0 65v2m1-430v1m0 442v2m0 19v2m1-466v1m0 427v2m0 5v1m1-433v2m3 415v2m1-4v2m1 28v1m1-9v1m1-19v1m2 4v1m0 15v2m2 0v1m0 20v1m1-474v2m1 450v1m2-8v2m0 5v1m0 20v1m0 10v2m1-479v1m0 445v2m1 10v1m0 3v2m0 5v2m1-25v2m0 11v2m0 13v1m1-29v2m1-458v2m0 9v2m0 443v2m0 10v1m4-462v1m0 424v1m0 22v1m1-453v2m1-3v1m0 425v2m0 47v2m2-75v2m1 37v2m0 29v2m1-74v2m0 16v2m2-54v2m0 88v1m2-32v1m0 51v2m2-77v2m1 21v1m3-26v2m0 34v2m0 39v2m0 6v2m1-126v2m0 94v2m3-18v2m2 1v2m3-6v1m3 41v1m1-61v1m1 20v1m2-11v2m0 3v2m1-33v2m0 42v3m1-13v2m1-23v2m3-48v2m0 57v2m1 24v2m1-43v2m1 15v1m0 38v1m3-65v2m0 45v2m1-60v1m0 20v2m0 27v2m1-28v2m0 16v2m0 19v2m0 24v2m1-75v2m0 42v2m1-33v2m1 18v1m2-19v1m0 4v1m2-54v2m1 78v2m3-7v2m2-41v2m2 42v2m0 23v1m1-63v1m1 9v1m1-1v1m2 33v1m1 17v1m1-101v2m1 34v2m1 11v2m0 32v2m1-8v2m1-40v2m0 16v2m1-13v2m0 34v1m1-34v2m2-26v1m0 35v1m0 18v2m2-34v1m0 15v2m0 21v1m1-110v1m0 95v1m1-5v2m0 21v2m0 5v1m1-53v1m2-6v1m2-13v2m1-10v2m0 57v1m0 2v2m0 6v2m1-16v1m2-34v2m0 40v2m1-64v2m1 38v1m2-16v2m1-85v1m0 59v2m0 40v2m0 11v2m1-5v2m2-29v1m0 25v1m1-24v1m0 25v1m0 9v3m1-42v1m0 13v2m4-54v2m0 66v2m0 8v2m1-70v1m0 72v2m1-51v2m0 6v2m0 7v1m1-45v1m0 44v2m0 1v2m2-11v1m0 30v1m1-26v2m0 14v2m3-37v1m1-10v2m1-26v2m1 57v1m1-75v2m1 64v1m0 2v1m0 2v2m1-38v2m1 1v4m1 18v1m1 7v1m0 23v2m1-114v1m0 61v1m2-1v1m0 41v2m0 8v1m1-30v1m0 33v1m3-22v1m2-32v1m0 33v1m1-34v2m0 8v2m1-20v2m0 10v1m1-44v2m1-118v2m0 158v2m0 3v2m0 6v2m0 32v2m1-2v2m1-37v1m1 18v2m2-80v2m0 32v2m0 23v1m2 16v2m0 7v1m0 3v2m1-16v1m1-189v2m0 109v2m0 34v2m0 40v2m1-36v2m1-7v2m1-152v2m1 161v2m0 39v2m1-207v1m1 17v1m0 178v2m0 6v2m2-51v2m0 29v2m0 14v2m1-5v2m0 3v2m2-18v1m1-29v2m0 5v1m1-21v2m2 42v2m1-39v1m1 18v3m1-17v1m0 3v2m0 29v2m0 5v1m1-202v2m0 168v2m2-27v2m2 26v2m1-28v2m0 34v2m2-33v2m1-10v1m0 27v1m1-26v2m0 5v1m1-42v2m0 78v1m1-37v2m0 17v2m0 24v2m1-199v4m0 177v2m1-28v2m1-160v2m0 189v1m2-44v2m0 21v2m3-31v1m0 15v2m0 18v1m1-26v2m0 19v2m0 7v1m0 16v2m1-63v3m1-144v2m0 189v2m2-61v2m0 25v1m2-39v2m0 8v1m0 53v1m1-172v1m0 139v1m0 13v2m0 19v2m1-133v1m3 132v2m1-41v2m0 47v1m1-39v2m0 26v2m0 13v1m1-62v2m1 28v1m1-35v1m0 56v1m1-14v3m1-188v2m0 194v2m2-48v2m0 5v2m1-157v2m0 151v5m0 39v2m1-39v1m1-167v1m0 153v2m0 2v1m0 18v2m0 18v1m1-197v2m0 1v2m0 139v1m0 41v2m0 13v1m1-47v2m0 13v1m0 4v1m1-171v2m0 10v1m0 150v2m0 3v2m1-28v1m0 35v1m1-60v2m0 18v1m0 7v1m1 25v1m1-180v1m0 3v2m0 135v2m0 13v2m1-149v2m0 145v2m0 27v2m1-7v2m1-181v2m0 202v1m1-203v1m0 4v1m1 144v1m0 4v1m2 21v2m0 26v2m1-214v2m0 163v3m1-23v2m1-145v2m0 202v1m1-202v2m0 3v2m0 148v2m0 3v2m1-163v1m0 8v2m0 81v2m0 77v1m0 31v2m0 1v2m1-511v1m0 300v2m0 13v1m0 137v2m0 34v2m1-186v1m0 7v2m0 132v1m0 17v1m1-158v3m0 136v1m2-150v2m0 5v1m0 87v1m0 84v1m3-168v2m0 2v1m0 142v2m0 45v2m0 6v2m1-215v2m0 159v2m1-161v1m0 101v2m0 73v2m1-34v1m0 25v1m0 23v2m0 9v2m2-210v2m1 3v1m0 168v2m1-173v2m0 3v2m0 122v2m0 40v2m0 2v1m1-156v1m0 145v2m0 13v2m0 6v2m1-194v2m0 122v1m1-122v2m0 8v2m0 195v2m2-188v2m0 125v2m0 33v1m2-184v2m0 3v3m1-8v2m0 3v2m1 155v1m0 8v2m3-11v1m0 47v2m1-23v2m1 0v1m0 2v2m0 3v2m1-196v2m0 156v2m0 21v2m1-30v2m1 13v2m1 32v2m2-49v2m0 24v2m0 14v2m1-204v3m1-3v2m0 186v1m1-13v2m1-175v2m0 2v1m0 180v1m1-179v2m0 180v2"/>
<path stroke="#3e7a00" d="M0 117v2m0 14v2m0 8v2m0 1v2m0 26v5m0 18v1m0 2v2m0 391v1m1-471v2m0 3v2m0 13v2m0 48v2m0 2v1m0 2v2m0 9v2m0 2v1m0 4v1m0 306v2m0 44v2m1-466v3m0 5v2m0 4v2m0 8v2m0 3v3m0 18v2m0 3v2m0 14v2m0 10v1m0 2v2m0 8v1m0 5v5m0 7v1m1-112v2m0 5v1m0 8v2m0 26v2m0 1v2m0 2v1m0 23v2m0 9v2m0 6v2m0 7v1m0 4v3m0 327v2m0 21v2m1-440v1m0 17v1m0 13v2m0 13v2m0 21v1m0 2v2m0 6v2m1-78v1m0 8v4m0 1v4m0 3v2m0 17v2m0 36v6m0 360v2m1-467v1m0 3v2m0 2v1m0 44v2m0 8v2m0 31v3m0 353v2m0 3v2m1-469v1m0 13v2m0 2v1m0 7v3m0 2v1m0 8v2m0 55v2m0 20v1m0 359v1m1-470v3m0 14v2m0 5v2m0 9v2m0 20v1m0 26v2m0 5v1m0 7v2m0 1v2m0 334v1m0 33v2m0 16v1m1-493v2m0 11v2m0 3v1m0 5v2m0 57v2m0 1v3m0 5v4m0 352v1m0 18v2m0 8v1m0 13v2m0 2v1m1-506v1m0 2v2m0 6v3m0 15v2m0 9v2m0 41v1m0 2v2m0 6v2m0 3v2m0 10v1m0 349v1m0 5v2m1-466v2m0 5v1m0 28v1m0 2v2m0 42v2m0 13v1m0 4v1m0 2v2m1-108v2m0 16v2m0 3v1m0 7v2m0 45v3m0 10v5m0 10v2m0 1v2m0 8v2m0 322v2m1-437v2m0 6v2m0 13v3m0 20v1m0 17v1m0 4v1m0 13v2m0 13v3m1-104v2m0 13v1m0 30v1m0 26v2m0 3v2m0 8v1m0 2v2m0 1v2m0 2v1m1-101v2m0 29v2m0 39v2m0 16v1m0 23v2m0 378v1m1-498v3m0 5v2m0 11v2m0 37v2m0 23v1m0 10v2m0 14v2m0 327v2m0 12v1m1-454v1m0 4v1m0 8v2m0 5v1m0 2v2m0 21v2m0 11v2m0 21v1m0 2v2m0 4v2m0 15v1m0 9v3m0 350v2m0 1v2m1-477v1m0 13v2m0 10v3m0 21v3m0 17v1m0 4v1m0 3v2m0 13v2m0 3v2m0 6v2m0 3v2m0 5v1m0 326v2m0 5v1m0 3v2m1-461v2m0 1v2m0 2v1m0 23v2m0 24v2m0 3v3m0 7v1m0 20v1m0 15v2m0 365v1m1-443v2m0 11v2m0 15v1m0 15v1m0 25v2m0 4v2m0 345v2m0 39v2m1-502v2m0 6v2m0 3v3m0 4v1m0 28v2m0 4v2m0 2v1m0 23v2m0 23v1m0 7v1m0 342v2m0 11v2m0 5v2m1-479v1m0 4v1m0 15v3m0 5v2m0 1v2m0 21v2m0 24v3m0 7v1m0 14v1m0 2v1m0 9v1m0 258v1m0 113v1m1-480v1m0 7v1m0 4v1m0 2v2m0 1v2m0 3v2m0 26v3m0 39v2m0 5v1m0 8v2m0 329v2m0 10v1m1-469v2m0 8v1m0 9v1m0 16v2m0 28v1m0 22v1m0 17v1m0 13v2m0 321v1m0 5v2m0 26v2m1-466v1m0 10v2m0 26v3m0 10v1m0 31v2m0 7v1m0 8v2m1-119v2m0 13v1m0 28v2m0 5v1m0 13v2m0 32v2m0 8v2m0 3v2m0 311v1m0 41v2m0 1v2m0 3v2m0 3v2m0 3v2m1-492v1m0 10v2m0 14v2m0 7v1m0 5v2m0 42v2m0 9v4m0 11v2m0 5v1m0 2v2m0 329v1m0 51v1m1-496v1m0 8v2m0 6v2m0 10v1m0 18v2m0 389v2m0 7v1m1-446v1m0 4v1m0 10v3m0 4v1m0 8v4m0 5v1m0 33v1m0 15v2m0 3v2m0 4v2m0 344v1m0 5v2m1-442v2m0 13v2m0 1v2m0 8v2m0 309v2m0 81v2m0 5v2m0 9v2m0 13v2m0 9v2m1-459v3m0 15v1m0 3v2m0 8v2m0 29v3m0 18v2m0 355v3m0 7v1m1-451v2m0 11v2m0 5v1m0 10v2m0 44v1m0 10v2m0 322v2m0 34v2m1-460v2m0 10v1m0 64v2m0 1v2m0 5v3m1-85v2m0 5v1m0 22v1m0 39v2m0 10v1m0 2v2m0 8v1m1-97v1m0 8v2m0 7v1m0 12v1m0 46v2m0 6v2m0 1v4m0 325v2m1-417v2m0 78v1m1-105v1m0 3v2m0 28v1m0 2v2m0 1v2m0 52v2m0 3v2m0 13v3m0 329v2m0 1v2m1-448v1m0 13v2m0 3v2m0 23v1m0 61v1m0 333v1m0 8v2m0 41v1m1-469v2m0 45v2m0 18v2m0 3v2m0 13v1m0 5v2m0 327v2m0 3v5m0 36v1m1-496v1m0 28v3m0 7v1m0 5v3m0 26v2m0 23v2m0 6v2m0 5v1m1-107v1m0 7v1m0 27v1m0 46v1m0 4v3m0 5v3m0 345v2m1-415v1m0 7v1m0 57v2m0 15v1m0 292v2m0 13v1m0 5v2m0 53v2m1-467v1m0 8v2m0 10v1m0 28v2m0 32v2m0 6v2m0 360v2m1-481v2m0 6v2m0 2v1m0 69v3m0 23v1m0 5v2m0 344v1m1-458v2m0 5v2m0 16v1m0 2v2m0 14v2m0 42v2m0 2v1m0 4v1m0 12v1m1-112v1m0 12v3m0 2v1m0 13v2m0 5v2m0 34v1m0 7v1m0 7v2m0 5v1m0 7v1m0 368v2m1-467v1m0 10v2m0 55v3m0 5v2m0 11v2m0 14v2m0 313v1m0 4v1m0 10v2m1-445v2m0 3v2m0 1v2m0 57v1m0 9v1m0 10v2m0 343v2m0 29v2m0 5v1m0 10v2m1-477v1m0 16v2m0 10v2m0 3v1m0 26v2m0 10v1m0 4v1m0 2v2m0 3v2m0 347v1m0 2v1m1-449v1m0 4v1m0 10v2m0 6v2m0 1v2m0 8v2m0 47v2m0 24v2m0 5v1m0 351v1m1-472v1m0 4v1m0 2v2m0 27v2m0 8v2m0 22v2m0 7v1m0 8v2m0 7v4m0 356v1m0 2v1m1-459v2m0 8v1m0 2v2m0 18v1m0 2v2m0 39v1m0 2v1m0 385v2m1-473v2m0 8v2m0 8v1m0 2v2m0 16v2m0 34v1m0 364v1m0 34v2m1-467v1m0 12v1m0 3v4m0 3v2m0 11v2m0 37v2m0 6v2m0 394v2m1-487v1m0 15v2m0 1v2m0 3v3m0 4v1m0 2v2m0 6v3m0 33v1m0 2v2m0 1v2m0 2v1m0 4v1m0 20v1m0 316v2m0 21v2m0 8v2m0 13v1m1-482v2m0 40v2m0 2v1m0 49v2m0 3v2m0 335v2m0 24v2m1-438v1m0 18v2m0 36v1m0 12v1m0 13v2m0 373v2m1-471v2m0 1v2m0 8v2m0 9v2m0 46v1m0 5v2m0 3v3m0 342v2m0 8v2m0 32v2m1-495v1m0 4v1m0 31v4m0 1v2m0 52v2m0 1v2m0 335v2m1-427v2m0 29v2m0 62v1m0 2v2m1-90v2m0 3v1m0 2v2m0 6v2m0 13v2m0 42v2m0 13v1m0 329v2m0 24v2m1-469v1m0 4v1m0 4v1m0 2v1m0 2v2m0 1v2m0 3v2m0 1v2m0 15v1m0 2v2m0 35v2m0 8v2m0 16v2m1-116v2m0 14v2m0 3v4m0 1v3m0 453v2m1-477v1m0 4v1m0 15v1m0 15v2m0 54v3m0 10v1m1-101v2m0 8v3m0 3v4m0 3v2m0 63v2m0 340v2m0 8v5m1-437v4m0 6v2m0 3v2m0 6v2m0 3v2m0 31v3m0 8v2m0 347v1m1-436v1m0 15v2m0 1v2m0 16v2m0 36v3m0 1v2m0 13v2m0 348v2m0 33v1m1-484v2m0 8v2m0 10v1m0 3v2m0 7v1m0 443v2m1-479v2m0 16v2m0 8v1m0 15v2m0 1v2m0 345v2m0 80v1m1-474v4m0 11v2m0 6v3m0 22v1m0 25v1m1-58v1m0 17v1m0 399v2m0 26v2m0 13v1m1-458v4m0 6v5m0 8v4m0 382v2m0 44v2m1-476v2m0 4v2m0 29v2m0 2v1m1-49v2m0 34v2m0 5v1m0 400v1m1-422v2m0 15v1m0 2v3m1-34v1m0 9v1m0 12v1m0 398v1m0 10v2m1-447v2m0 2v1m0 4v1m0 2v1m0 2v2m0 9v2m0 23v2m0 280v1m0 118v1m1-422v2m0 20v1m0 381v2m0 50v2m1-480v1m0 20v1m0 12v1m0 422v2m1-461v2m0 435v1m0 23v2m1-424v2m0 400v2m0 31v2m1-461v1m0 2v1m0 4v1m0 4v1m0 2v2m1-15v1m0 4v3m0 8v2m1-34v1m0 5v2m0 6v2m0 6v2m0 21v2m0 399v2m1-447v2m0 3v2m0 18v3m1-23v2m0 5v1m0 10v2m0 3v5m0 5v1m0 399v2m1-435v2m0 21v2m0 399v1m0 18v2m0 26v1m1-478v1m0 2v1m0 15v3m0 5v2m1-26v1m0 15v3m0 5v4m0 6v2m0 433v2m1-453v1m0 5v2m0 2v1m0 432v1m1-461v2m0 10v1m0 18v4m0 319v2m0 118v2m1-464v1m0 4v1m0 4v1m0 5v2m0 11v2m1-39v1m0 2v2m0 24v2m0 405v2m0 5v1m0 31v2m1-477v1m0 23v2m1-33v2m0 5v1m0 4v1m0 424v1m0 26v2m1-454v1m0 2v1m0 9v1m0 15v2m0 1v2m0 384v2m0 16v2m1-450v2m0 5v1m0 2v2m0 3v1m0 401v2m0 19v2m0 3v2m1-435v3m0 3v4m0 1v2m0 2v1m0 7v1m0 388v2m0 27v2m1-438v3m0 402v2m0 8v2m0 32v2m1-453v2m0 350v2m0 36v1m0 39v2m1-448v3m0 2v1m0 4v1m0 7v1m0 9v1m0 455v1m1-474v2m0 427v1m0 18v2m1-446v1m0 23v2m1-18v1m0 2v2m0 369v2m0 52v2m0 18v1m1-469v3m0 7v2m0 433v2m1-426v2m0 8v2m0 412v2m0 6v2m0 16v2m1-463v2m0 6v2m0 13v1m0 360v2m1 33v1m0 30v1m0 15v1m1-470v1m0 12v1m0 4v1m0 2v2m0 395v2m0 46v1m1-461v2m0 1v2m0 10v2m0 1v2m0 1v2m0 414v1m0 9v1m1-459v1m0 10v2m0 3v2m0 16v2m0 384v2m0 11v2m0 36v1m1-459v1m0 2v3m0 413v1m0 44v2m1-469v1m0 7v1m0 398v3m1-414v2m0 13v2m1-12v2m0 10v1m0 416v1m0 20v3m0 15v1m1-474v2m0 3v2m1 0v1m0 14v1m0 3v4m0 423v2m1-23v2m1-426v2m1 8v2m0 391v1m1-395v1m0 443v2m0 2v1m0 8v2m1-461v2m0 6v3m1-22v1m0 5v2m0 8v2m0 1v2m0 396v1m0 41v2m1-461v1m0 5v2m0 11v2m0 425v2m1-452v2m1 8v2m0 6v2m0 5v1m1 442v1m1-459v2m0 5v3m0 2v1m0 2v1m1-8v2m0 3v3m0 411v2m0 19v2m0 5v1m1-49v4m0 11v2m0 11v2m0 11v2m1-28v3m0 2v2m0 30v2m1-464v1m0 448v2m0 3v2m3-443v2m0 405v2m1-411v2m0 430v2m1-444v2m0 419v1m0 12v1m0 2v2m0 21v1m1-461v2m0 15v1m0 413v1m1-435v2m0 404v1m1-405v1m0 448v2m1-94v1m0 74v1m0 26v2m0 3v2m1-455v2m0 449v2m1-464v1m0 4v1m0 2v2m0 409v1m1-414v2m0 420v2m1-432v2m0 461v1m1-462v1m0 419v2m0 24v2m0 3v2m1-456v1m0 3v2m0 2v1m0 406v2m0 16v2m1-431v2m0 416v1m0 16v2m1-445v2m0 5v1m0 10v2m1-13v1m1 429v2m1-421v2m0 422v1m1-439v1m0 419v2m0 43v2m1-463v2m0 430v2m1-425v1m0 421v1m0 5v2m1-439v4m1-4v4m0 1v2m0 367v1m0 43v1m0 28v1m1-451v2m0 5v1m0 2v2m0 441v2m1-452v2m0 10v2m0 348v2m0 11v2m0 88v1m1-470v1m0 12v1m1-6v1m0 4v1m0 438v2m0 2v1m1-462v1m0 17v1m1-11v3m0 3v2m0 422v2m0 4v2m1-445v2m0 5v1m0 9v1m0 412v2m1-419v2m0 3v2m0 438v2m1-463v2m1 8v1m0 411v2m0 8v1m0 13v2m0 11v2m0 2v1m1-459v2m0 425v1m1-413v1m0 429v1m2-29v2m0 31v1m1-456v3m0 17v1m0 396v2m0 18v1m1 18v2m0 14v2m1-459v1m0 4v1m0 448v2m1-471v2m0 5v3m0 5v1m0 2v2m1-7v2m1-8v1m0 3v4m0 345v2m1 109v1m1-449v2m0 404v1m1-415v1m0 411v2m1-426v2m1 15v1m0 388v2m0 29v2m2 35v2m1-469v1m1 432v2m1 18v1m1-454v1m0 452v1m0 10v2m1-455v2m0 409v1m0 28v2m1-46v2m0 18v1m1-99v2m0 86v2m1-419v1m0 414v2m0 24v2m1-440v2m0 389v2m0 32v2m0 37v2m1-26v2m1-22v2m1-420v1m0 404v2m0 52v2m1-461v1m0 409v2m0 28v1m1-32v1m0 43v1m1-453v2m0 412v2m1-421v2m0 3v4m0 412v1m1-428v2m0 371v2m1-378v1m1-1v1m0 7v1m0 4v1m0 411v2m1-419v1m0 422v2m0 7v1m1-39v2m1-395v2m0 411v1m0 26v2m0 11v2m1-463v4m0 9v4m0 410v2m0 26v1m0 12v1m1-469v4m0 4v2m0 3v2m0 406v1m0 23v2m1-30v2m1 33v1m1-451v2m0 1v2m0 3v2m0 407v2m1-416v2m0 5v1m0 440v2m1-456v1m1 12v1m0 409v2m2-424v2m0 448v2m0 21v1m2-475v1m0 416v1m0 5v2m1-430v1m0 12v3m0 451v2m1-472v1m0 10v2m0 422v1m1-428v1m0 10v2m0 415v2m1-435v3m1 7v3m0 3v2m0 438v2m1-458v1m0 5v2m0 428v2m1-8v2m1-429v2m1 8v3m0 417v2m0 37v2m1-471v2m0 8v1m0 457v1m1-80v2m1-389v3m0 415v2m0 37v2m1-466v2m1 10v1m0 3v2m0 409v2m0 1v2m1-430v1m0 5v2m0 3v2m0 373v3m0 51v1m0 31v2m1-476v2m0 3v2m0 475v2m1-482v1m0 2v2m0 5v1m0 2v1m0 2v2m0 402v2m1-409v1m1-8v4m0 3v1m0 424v2m1-419v2m0 407v3m1-1v1m1-432v2m0 11v2m0 5v3m0 416v1m1-438v5m0 11v4m0 1v2m1-13v1m0 2v3m0 427v2m0 10v1m1-453v2m0 3v2m2 8v2m0 402v2m1-417v1m0 417v2m1-427v2m0 11v2m0 417v1m1-408v1m0 437v1m0 10v2m1-476v2m0 3v2m0 9v2m0 417v2m1-437v2m0 428v2m1-427v2m1-2v2m1-4v2m0 11v2m0 411v1m1-423v1m0 10v2m1 389v2m0 26v1m0 39v2m1-474v2m0 11v2m0 415v2m0 34v1m1-464v2m0 1v2m0 10v2m0 407v1m0 9v1m1-436v1m0 8v4m0 425v1m0 26v2m1-472v1m0 2v2m0 13v1m0 445v2m1-465v2m0 2v1m0 3v2m0 430v2m1-427v2m0 399v1m0 10v2m0 8v2m1-421v2m0 3v2m0 394v2m0 45v2m1-463v2m0 16v3m0 422v2m0 13v2m1-41v2m0 29v1m0 17v1m1-454v2m0 407v1m1-426v1m0 12v1m0 7v1m0 445v2m1-474v1m0 5v2m0 15v1m0 403v1m0 36v2m0 4v2m1-471v2m0 3v2m0 3v2m0 1v2m0 360v2m1-369v2m0 5v2m0 5v3m1-20v3m0 7v2m0 394v1m0 4v1m0 10v2m1-424v2m0 378v1m1-379v1m0 12v2m1-2v2m0 3v1m1-11v2m0 407v2m2-404v3m0 430v1m0 15v3m1-466v2m0 13v2m0 373v1m1-402v2m0 376v2m2-380v2m0 462v2m1-450v4m0 412v1m0 12v1m1-426v1m0 404v2m1-420v1m0 17v1m0 406v1m2-405v1m0 391v2m1-401v2m0 397v2m0 55v2m1-448v2m0 400v2m0 18v2m0 22v2m1-55v1m1-394v2m1-8v1m1 407v2m0 26v2m1-20v2m0 11v2m1 11v2m1-38v2m0 39v2m2-7v2m1-59v2m0 19v2m0 33v1m2-32v1m1-73v2m0 70v1m1 21v2m2-480v1m0 476v1m1-40v1m0 5v2m0 16v2m1-33v2m0 19v2m0 31v2m1-49v1m0 23v2m0 32v2m1-109v1m0 44v2m2 52v2m2-490v1m0 451v2m1-24v1m1-427v2m0 443v2m0 27v2m1-480v1m0 458v2m0 8v1m0 7v1m1 4v1m2-26v2m1-31v2m0 6v2m0 49v1m0 2v1m1-490v2m0 446v2m0 31v1m1-49v2m0 29v2m1-469v5m0 430v1m1-433v2m1 6v2m1-7v2m0 5v2m0 465v2m2-480v1m0 448v2m2-2v2m1-445v2m1 0v1m0 372v1m0 105v1m1-484v2m0 5v2m1-10v1m0 5v2m1-10v3m0 7v2m0 420v1m2-423v2m0 404v1m0 18v2m0 37v2m1-474v1m0 7v2m0 470v2m1-479v2m1-4v2m1 411v1m0 39v2m1-456v1m0 398v2m0 83v1m2-485v1m0 453v2m1-456v1m0 9v1m0 430v4m1-448v3m0 3v2m0 1v2m0 396v1m0 25v1m0 48v1m1-480v1m0 414v2m0 41v1m0 12v1m0 2v1m1-469v2m0 474v2m0 4v2m0 3v2m1-494v2m1-2v2m1 0v2m0 461v1m1-466v2m0 3v2m0 445v1m0 21v2m1 7v1m1-480v1m0 425v2m0 16v2m0 18v2m1 17v2m1-492v2m0 466v1m0 20v1m1-21v2m1-466v2m0 5v1m1-8v2m1-4v2m0 3v4m0 428v2m0 39v1m0 10v2m2-484v2m0 1v2m0 412v2m0 16v2m1-444v2m0 2v1m1-3v2m0 5v1m0 416v1m0 3v2m0 15v1m1-436v1m0 426v1m0 12v1m1-443v2m0 399v2m1-409v1m0 2v2m0 379v2m1-391v1m0 460v1m1-461v2m0 455v1m1-449v1m0 407v2m0 15v1m1-441v2m0 456v1m1-444v1m1-1v1m0 3v2m0 342v2m1-355v1m0 8v2m0 432v1m1-444v1m0 10v2m2-15v2m0 3v2m0 4v4m0 387v2m1-404v2m0 6v2m0 475v2m3-47v2m0 6v2m0 31v1m0 8v2m1-485v1m0 448v2m1-464v1m0 10v2m0 3v1m1 413v1m0 64v1m1-482v2m0 423v2m1-438v1m1 481v2m1-489v2m0 1v3m0 15v2m0 418v2m0 54v1m1-495v2m0 10v1m0 430v2m1-443v1m0 460v1m1-464v2m0 13v1m0 387v1m0 88v2m1-478v2m0 407v2m0 11v2m1-417v2m0 451v1m0 13v2m1-62v2m0 32v2m0 21v2m1-476v2m1 11v2m0 415v2m0 47v2m1-471v2m0 420v3m1-432v2m0 2v1m0 424v2m0 40v2m1-466v2m0 405v2m1 5v1m0 7v3m0 18v2m1-469v1m0 401v2m0 57v1m1 18v2m2-466v1m1-16v2m0 11v2m1-8v1m1 0v2m0 6v2m0 432v1m1-452v1m0 20v1m1-21v2m0 370v1m0 77v1m1-444v1m0 471v2m1-476v2m0 1v2m0 8v2m0 418v2m0 44v2m1-479v1m0 8v4m0 456v1m1-469v2m0 423v2m0 10v2m1-435v1m1 445v2m1-452v2m0 6v2m0 415v2m1-427v2m0 445v1m1-446v2m0 3v1m0 2v2m0 392v2m1-411v2m1 5v2m1-12v2m0 3v2m0 5v1m0 429v1m0 41v2m1-471v1m0 424v2m1-427v1m0 442v2m0 32v2m1-489v3m0 4v1m0 3v2m1-11v1m0 4v1m0 419v1m0 48v1m1-470v1m0 3v5m0 411v1m0 59v2m1-61v2m0 12v1m1-432v2m1 435v3m1-449v1m0 2v2m0 6v3m0 401v2m0 57v1m1-482v2m1-2v2m0 10v1m0 2v1m0 5v2m0 355v2m0 81v2m0 27v2m1-482v2m0 8v1m1-21v2m0 471v1m0 2v1m1-472v2m1 431v2m0 18v2m1-465v2m0 2v1m0 2v1m0 2v5m0 464v2m1-476v2m0 10v3m0 1v2m0 2v1m1-6v1m0 5v2m1-16v3m0 419v1m1-415v1m0 2v2m0 409v1m1-431v1m0 2v1m0 7v2m0 6v2m1-2v2m1 366v2m1-386v1m0 7v2m0 387v2m0 34v2m1-437v2m0 19v2m1-28v2m0 6v2m0 5v2m0 1v3m0 400v1m1-418v1m0 7v1m0 443v4m1-466v1m0 7v2m0 4v2m0 448v2m0 22v2m1-484v2m0 2v1m0 10v2m0 1v2m0 430v2m0 11v2m0 26v1m0 7v1m1-490v2m0 5v1m0 360v2m0 76v2m0 13v2m0 1v2m1-476v2m0 3v2m0 445v1m1-436v1m0 476v1m1-485v5m0 10v1m0 4v1m0 377v1m0 5v2m0 45v2m1-451v1m0 408v1m0 23v2m0 3v2m0 27v2m1-471v2m0 5v1m0 406v1m0 74v1m1-500v2m0 6v2m0 3v2m0 2v1m0 363v2m0 95v1m1-480v1m0 7v1m1 4v1m0 7v1m0 401v2m1-416v2m0 3v2m0 6v4m1-20v3m0 10v2m0 433v2m1-43v2m0 86v2m1-497v2m0 6v4m0 350v1m0 54v2m1-419v2m0 475v2m1-467v1m0 438v2m0 36v1m1-487v2m0 471v1m1-478v1m0 2v1m0 7v2m0 464v1m1-485v2m0 395v2m0 51v1m0 31v2m1-482v1m0 8v2m0 376v2m0 111v1m1-503v2m0 5v1m0 7v1m0 432v2m0 35v2m1-485v1m0 8v2m0 482v2m2-490v1m0 3v2m0 3v2m0 5v1m1-21v2m0 21v2m1 0v1m0 460v1m1-24v2m1-460v2m0 8v2m0 3v1m0 457v1m1-464v2m0 428v2m0 37v2m1-465v2m0 446v2m1-21v2m1-448v1m0 12v1m0 3v2m0 420v2m0 16v2m0 2v1m0 29v2m1-495v2m0 9v2m0 2v1m1-21v2m0 5v1m0 2v1m1 5v2m0 2v1m0 3v2m1-23v2m0 18v1m0 5v2m0 419v1m1-449v1m0 10v3m0 12v1m0 416v1m0 22v1m0 26v2m1-481v2m0 471v1m1-485v2m0 14v2m0 459v2m1-479v2m1 441v2m0 22v2m1-28v2m0 10v1m0 30v1m1-472v2m1 404v1m1-412v2m0 435v1m0 20v1m1-457v3m0 432v1m1 13v2m1-448v2m0 430v1m0 5v2m1-443v1m0 465v1m0 18v2m2-46v2m0 18v1m1-457v1m0 414v2m0 27v2m1 13v2m1-458v1m0 364v1m0 49v2m0 34v2m1-460v2m0 8v2m2-4v2m0 419v1m1-433v2m0 13v1m1-8v2m1-7v2m0 435v2m3-434v2m0 420v2m0 52v1m1-58v1m2 12v2m0 30v4m1-471v2m0 438v1m1-443v2m0 443v2m1-448v1m0 486v1m1-101v2m1-386v2m0 404v1m1-404v2m0 5v1m0 434v1m2-9v1m1-73v1m0 69v2m0 14v2m0 11v2m2 13v1m1-485v2m0 9v2m0 451v2m1-33v2m1-49v2m0 49v1m1-24v1m0 59v2m2-468v2m0 397v2m0 33v1m0 31v2m2 6v2m1-67v2m0 16v2m1 52v1m1-485v2m0 444v2m1-54v2m1-394v1m0 412v2m1-414v2m0 472v2m1-476v2m0 453v1m0 18v2m1-34v1m0 4v1m0 8v2m1-463v2m0 438v2m1-438v1m0 373v2m1 80v1m0 15v2m1-471v1m0 422v2m1-425v1m0 424v2m1-426v2m1 432v1m0 18v2m1-21v1m0 15v2m1-65v1m0 34v2m1 46v1m1-16v2m0 17v2m1-52v2m1-22v2m0 20v1m0 44v3m1-6v2m1-57v1m1-88v2m0 70v2m0 45v2m1-13v1m4-13v2m0 21v2m1-34v3m2-5v2m0 63v2m0 1v2m1-86v1m0 78v2m1 3v2m2-130v1m2 41v2m1 26v1m1-18v2m0 28v3m1 2v1m0 36v3m2-48v1m1 31v2m1-69v2m2-2v2m1 26v2m0 21v1m0 23v2m1-10v2m1-36v2m0 14v2m2-38v2m1 59v1m1-10v2m1 0v2m2-48v2m0 16v2m1-3v1m0 9v1m0 7v1m1 21v2m1-83v2m0 27v4m0 22v2m1-37v1m1 39v2m3-109v1m0 64v2m0 8v1m0 10v2m0 11v2m1-33v2m0 29v2m3-70v1m0 48v1m0 17v1m0 16v2m1-130v1m0 100v1m1 10v2m1-25v2m0 42v2m2-51v2m1-36v2m0 10v1m0 82v1m1-32v1m0 4v1m1-27v1m1 17v1m0 10v2m1-7v2m0 18v1m1-44v2m3-60v1m0 103v1m2-50v2m0 52v1m2-127v2m0 77v1m0 23v2m0 9v2m1-44v2m0 27v2m1-34v1m0 2v2m0 1v2m1-10v2m2-64v2m0 63v2m0 39v2m1-52v1m0 15v2m0 1v2m0 18v1m0 7v1m0 17v1m1-65v2m1 55v2m1-83v1m0 31v2m1 8v2m0 1v2m1-16v1m1 2v2m0 22v2m0 28v1m2-119v2m1 52v2m0 3v2m0 1v2m1-5v2m1 40v2m1-24v1m0 15v2m1-31v1m1-13v2m1 1v2m1-3v1m0 48v1m2-18v2m1-77v2m0 57v2m2-21v1m0 65v2m1-47v1m0 44v2m1-68v1m0 2v3m2 7v1m0 13v2m2-31v2m1 14v2m1 21v2m2-12v2m0 19v2m1-26v2m0 13v1m1 12v1m1-27v1m1 31v2m1-10v2m2-44v1m1 22v1m1-31v2m1 10v1m1 17v1m0 29v2m1-49v2m4-34v1m0 72v2m3-199v1m0 176v2m1 10v1m1-45v1m1 31v2m1-178v2m0 16v2m0 148v2m1-2v2m1-170v2m0 122v2m0 33v1m0 2v1m0 22v1m1 18v2m1-38v2m2-5v2m1 35v2m2-80v2m0 63v2m1-29v1m1 28v2m2-175v2m0 148v2m1-171v1m1 157v2m0 47v1m1-207v2m0 178v1m0 15v2m2-28v2m2-28v1m1 33v2m1-13v1m0 20v1m1 10v2m1-201v2m2 0v2m1 138v2m0 15v3m0 5v1m0 30v1m1-199v2m1 170v1m0 33v1m1-31v2m1-26v2m0 21v1m0 2v2m0 21v1m1-55v2m0 37v2m2-186v2m2 76v2m0 101v2m0 1v2m1-18v2m2-165v2m0 132v1m0 12v1m1-150v2m1-8v1m1 157v2m2-157v2m0 146v2m0 8v2m1-20v2m0 28v1m1-24v1m0 9v1m2-6v1m1 5v2m1 26v1m2-17v1m0 20v1m1-27v1m1-169v1m0 12v2m0 1v2m0 130v2m0 16v2m1-476v2m0 330v2m0 142v1m0 13v2m0 23v1m1-31v2m0 11v2m1-44v2m0 1v2m1-7v2m1-3v1m1 27v1m1 10v2m0 22v2m2-213v1m0 144v1m1-146v1m0 148v2m0 7v1m0 21v2m2 11v2m1-195v1m0 205v2m1-207v2m0 148v2m1 13v1m1-161v2m0 164v2m1-160v2m0 150v1m1 13v2m1 21v2m1-205v3m0 102v2m1-98v2m0 158v2m0 1v2m1-166v1m0 140v2m0 25v1m0 33v1m2-211v1m0 5v2m0 150v1m1 2v2m0 24v2m0 21v1m1-210v2m0 163v1m1-159v3m0 57v2m1-370v1m0 440v2m0 59v1m1-506v1m0 2v3m0 297v1m0 3v2m1-8v3m0 3v2m0 147v1m1-146v1m1-317v3m0 309v5m0 33v2m0 119v1m0 3v2m1-169v1m0 8v2m0 117v2m1-132v2m0 11v2m0 107v2m0 45v2m1-481v2m0 310v1m0 5v2m0 76v2m0 62v1m1-461v2m0 311v2m0 10v1m0 152v1m0 15v2m1-180v2m0 3v2m0 187v2m1-37v1m1-476v2m1 316v2m0 145v1m0 4v1m0 30v1m1-192v2m0 1v2m0 6v2m1-11v1m0 2v1m0 154v1m1-158v2m1-2v2m0 163v1m0 7v2m1-167v2m1 2v1m1-13v3m0 2v2m0 99v2m0 37v2m0 28v1m0 8v4m1-497v1m0 439v1m1-10v2m0 49v2m1-471v1m0 298v2m0 5v2m0 145v1m1-159v1m0 2v1m0 4v1m1-11v2m0 13v1m0 7v1m0 111v2m0 14v2m0 29v2m1-176v2m0 1v2m0 2v1m0 7v1m1-24v2m0 9v2m0 121v1m0 77v1m1-205v2m0 10v1m0 122v2m0 24v2m0 2v1m0 33v1m1-197v4m2 153v1m1-159v1m0 184v2m0 15v1m1-526v2m0 322v2m0 3v2m1-3v1m2-13v2m0 5v1m0 13v2m0 139v1m0 42v2m1-200v1m0 176v2m1-487v1m0 300v2m0 1v2m0 3v4m1 135v1m1-32v2m0 68v2m1-188v2m0 135v2m0 26v1m0 22v1m0 8v2m2-196v2m0 2v1m0 5v2m0 93v1m0 13v4m0 55v2m0 18v1m0 2v1m1-55v2m1-150v1m0 165v2m0 35v2m1-199v2m0 116v1m0 49v2"/>
<path stroke="#5d7000" d="M0 120v5m0 3v4m0 9v2m0 8v3m0 10v2m0 3v2m0 11v2m0 3v2m0 14v2m0 8v2m0 6v2m0 361v2m0 2v1m0 25v1m1-500v2m0 16v3m0 2v2m0 23v1m0 31v2m0 16v2m1-95v3m0 20v2m0 4v2m0 23v2m0 9v2m0 2v1m0 13v2m0 345v2m0 54v1m1-492v2m0 5v1m0 9v1m0 7v3m0 46v1m0 21v2m1-104v6m0 18v2m0 1v5m0 28v2m0 6v2m0 1v2m0 13v3m0 2v3m0 8v2m0 5v2m1-106v1m0 5v2m0 62v1m0 5v2m0 3v2m0 5v1m0 370v2m0 21v1m0 13v2m1-497v4m0 1v2m0 16v2m0 1v4m0 19v2m0 21v2m0 3v1m0 9v3m0 3v2m0 13v1m1-76v1m0 5v2m0 2v1m0 2v2m0 21v1m0 10v2m0 3v2m0 21v5m0 325v2m1-425v2m0 37v2m0 6v2m0 1v2m0 10v1m0 5v2m0 6v2m1-99v1m0 12v3m0 18v2m0 6v2m0 5v1m0 8v2m0 55v2m1-116v2m0 13v3m0 2v2m0 14v2m0 73v5m0 5v2m0 360v1m0 5v2m1-473v2m0 2v3m0 5v1m0 2v5m0 15v1m0 5v2m0 16v2m0 31v1m0 3v2m0 2v1m0 331v3m0 28v2m1-478v2m0 6v2m0 7v1m0 20v1m0 25v1m0 9v1m0 8v2m0 28v3m1-59v2m0 3v2m0 13v1m0 4v1m0 2v2m0 9v2m0 2v1m0 8v2m0 3v4m0 1v2m0 353v2m1-472v1m0 3v4m0 13v1m0 4v1m0 2v1m0 10v2m0 37v2m0 3v2m0 11v4m0 3v1m0 2v2m0 3v2m0 334v1m1-449v1m0 2v1m0 4v1m0 12v1m0 13v2m0 2v1m0 13v2m0 5v1m0 15v2m0 14v2m0 3v2m0 13v2m0 317v2m0 11v2m0 2v1m0 12v1m1-474v2m0 14v2m0 3v2m0 33v1m0 3v2m0 26v2m0 6v2m0 1v2m0 21v2m0 321v1m0 54v2m1-487v6m0 17v1m0 3v2m0 2v1m0 10v2m0 6v2m0 11v2m0 18v1m0 7v2m0 9v2m0 3v2m0 5v1m1-107v2m0 14v2m0 31v1m0 15v2m0 14v2m0 2v1m0 7v1m0 4v3m0 327v2m1-438v1m0 13v2m0 7v1m0 43v1m0 18v2m0 342v3m0 38v1m1-430v3m0 12v1m0 22v1m0 7v3m0 7v3m0 3v2m0 337v2m1-432v3m0 2v1m0 5v2m0 11v2m0 3v2m0 8v3m0 3v2m0 15v3m0 16v2m0 8v2m0 324v1m0 30v1m1-472v2m0 1v2m0 36v1m0 10v2m0 19v2m0 5v3m0 5v2m0 6v2m0 6v2m0 6v2m0 2v1m0 355v2m1-461v2m0 14v2m0 5v3m0 8v2m0 8v2m0 22v2m0 7v1m0 2v1m0 7v2m0 11v2m0 8v1m1-110v1m0 5v2m0 26v2m0 1v5m0 5v2m0 6v2m0 22v2m0 7v3m0 5v3m0 357v1m1-472v5m0 15v3m0 1v2m0 60v4m0 1v2m0 31v1m0 246v2m0 77v1m0 10v2m0 3v2m0 3v1m1-456v2m0 8v2m0 1v2m0 10v1m0 5v2m0 3v3m0 2v3m0 8v4m0 8v1m0 9v1m0 13v4m0 8v1m0 7v1m0 331v2m0 3v2m0 11v2m0 5v1m0 16v2m1-493v1m0 2v1m0 9v3m0 8v2m0 8v1m0 4v3m0 10v1m0 5v2m0 1v2m0 18v3m0 2v1m0 4v1m0 2v2m0 5v1m0 2v1m0 5v2m0 321v1m1-441v2m0 21v1m0 2v2m0 13v1m0 67v2m0 3v2m0 6v3m0 370v2m0 5v1m1-495v2m0 11v2m0 18v1m0 13v2m0 8v2m0 24v2m0 10v1m0 15v2m0 1v2m0 363v2m1-482v1m0 7v1m0 4v1m0 5v2m0 5v1m0 15v2m0 3v1m0 9v3m0 29v2m0 10v1m0 2v1m0 5v2m0 296v2m1-417v2m0 5v1m0 13v2m0 18v1m0 15v2m0 1v2m0 46v3m0 1v5m0 8v2m0 328v1m0 15v1m1-467v3m0 31v2m0 16v3m0 2v2m0 16v3m0 11v2m0 5v3m0 5v2m0 1v4m0 368v3m1-443v2m0 1v4m0 40v2m0 23v3m1-111v2m0 1v2m0 8v3m0 4v1m0 12v1m0 4v1m0 2v2m0 3v1m0 9v1m0 33v1m0 4v1m0 2v3m0 18v2m1-124v2m0 14v2m0 3v2m0 8v1m0 2v2m0 3v2m0 6v2m0 1v2m0 39v3m0 26v2m0 347v2m1-483v2m0 12v1m0 2v1m0 7v2m0 37v2m0 37v2m0 16v2m0 3v2m0 4v2m1-119v2m0 13v3m0 29v2m0 37v2m0 2v1m0 4v1m0 5v2m0 3v2m0 11v2m0 321v1m0 20v1m0 18v2m1-455v2m0 7v1m0 12v1m0 20v3m0 15v3m0 8v2m0 13v1m0 4v1m0 305v2m0 27v2m0 29v2m1-495v1m0 2v2m0 8v1m0 8v2m0 13v2m0 11v2m0 44v1m0 5v2m0 8v2m0 8v1m1-112v2m0 14v2m0 2v1m0 7v1m0 5v2m0 2v1m0 3v2m0 39v2m0 10v1m0 2v1m0 4v1m1-110v1m0 31v3m0 79v1m0 5v2m0 343v2m0 26v2m1-469v1m0 8v2m0 37v2m0 20v1m0 341v1m0 12v1m0 30v1m1-449v1m0 13v2m0 28v3m0 13v2m0 1v2m0 6v2m0 10v1m0 5v2m1-117v1m0 13v2m0 2v3m0 13v3m0 42v2m0 12v4m0 5v2m0 8v2m0 368v1m1-485v2m0 5v1m0 3v2m0 7v3m0 6v2m0 13v2m0 21v1m0 12v3m0 8v2m0 3v3m0 17v1m0 323v2m0 42v1m1-480v2m0 1v2m0 6v2m0 8v2m0 13v3m0 31v2m0 13v3m0 8v2m1-106v1m0 4v3m0 8v2m0 8v1m0 5v2m0 3v2m0 3v2m0 44v1m0 7v2m0 14v2m0 373v1m1-483v1m0 25v1m0 13v2m0 42v2m0 7v1m0 352v2m1-452v2m0 3v4m0 11v2m0 8v1m0 49v2m0 19v2m0 3v2m0 381v2m1-484v2m0 3v3m0 2v1m0 7v1m0 20v2m0 24v2m0 8v1m0 12v2m0 9v2m0 6v2m0 328v1m1-445v2m0 3v2m0 8v2m0 11v2m0 10v1m0 2v3m0 26v3m0 17v1m0 8v2m0 7v3m0 3v2m0 322v2m0 28v1m1-471v2m0 2v3m0 2v1m0 26v2m0 2v1m0 8v2m0 23v1m0 12v1m0 2v2m0 8v1m0 10v2m0 3v2m0 1v2m0 306v2m0 29v2m0 24v2m1-484v2m0 5v1m0 12v6m0 7v1m0 5v2m0 29v2m0 24v2m0 6v2m0 2v1m0 7v1m0 323v2m0 11v2m0 22v2m1-477v1m0 20v1m0 17v3m0 2v1m0 26v4m0 32v2m0 347v1m1-456v4m0 8v1m0 22v1m0 36v2m0 19v3m0 360v2m1-474v2m0 9v2m0 11v2m0 5v2m0 9v2m0 7v1m0 33v1m0 4v1m0 26v2m0 363v2m1-471v2m0 5v1m0 3v2m0 2v1m0 4v1m0 5v2m0 6v2m0 2v3m0 3v3m0 31v2m0 15v3m0 1v2m1-101v2m0 3v2m0 1v2m0 14v2m0 8v2m0 3v2m0 3v2m0 24v2m0 16v2m0 8v1m0 9v1m0 362v1m1-467v2m0 6v2m0 11v2m0 13v1m0 59v2m0 9v2m0 2v1m0 287v2m0 47v2m1-458v1m0 18v5m0 13v2m0 5v1m0 7v2m0 30v2m0 12v3m0 16v2m0 286v2m0 39v2m1-447v2m0 5v2m0 4v2m0 2v1m0 30v1m0 43v1m0 4v1m0 7v1m0 329v2m0 34v2m0 11v2m1-486v4m0 9v2m0 2v1m0 2v2m0 8v1m0 64v2m0 6v2m0 8v1m0 370v2m1-484v2m0 1v2m0 2v1m0 25v5m0 9v2m0 2v1m0 21v2m0 3v2m0 6v4m1-85v2m0 8v1m0 13v2m0 7v1m0 5v2m0 1v2m0 2v1m0 28v1m0 20v2m1-101v1m0 10v2m0 8v1m0 12v2m0 3v3m0 2v1m0 28v2m0 14v2m0 2v1m1-99v1m0 2v2m0 1v2m0 6v2m0 8v3m0 9v1m0 51v3m0 3v4m1-100v2m0 11v2m0 5v1m0 7v1m0 7v2m0 11v2m0 1v2m0 24v2m1-73v1m0 2v3m0 3v2m0 3v2m0 3v2m0 8v2m0 14v2m0 31v1m0 339v2m0 23v1m1-444v1m0 5v2m0 1v2m0 7v1m0 2v3m0 16v2m0 7v1m1-58v1m0 12v1m0 21v2m0 3v2m0 11v2m0 422v1m1-448v2m0 2v1m0 10v2m0 10v1m1-54v2m0 3v4m0 32v5m0 8v2m1-54v2m0 8v1m0 7v2m0 1v3m0 10v2m0 412v2m0 9v2m0 16v2m1-479v2m0 1v2m0 3v3m0 40v1m0 409v2m0 13v1m1-480v1m0 4v1m0 10v2m0 3v2m0 13v1m0 5v2m0 399v2m0 29v1m0 13v2m1-480v3m0 3v2m0 8v1m0 10v2m0 3v5m1-41v2m0 3v2m0 5v1m0 2v2m0 3v1m0 15v2m0 1v2m1-46v2m0 3v2m0 5v1m0 4v1m0 7v1m0 17v1m0 10v2m0 392v2m0 31v2m1-471v1m0 7v3m0 17v3m0 6v4m0 382v2m1-428v1m0 2v5m0 3v2m0 1v2m0 5v3m0 5v2m0 3v3m0 10v1m0 370v2m0 58v2m1-476v2m0 8v2m0 6v4m1-9v4m0 10v1m0 10v2m0 4v2m0 398v1m1-448v2m0 3v2m0 1v2m0 3v2m0 8v2m0 1v4m0 6v3m0 4v1m0 429v3m0 5v1m1-479v2m0 18v2m0 5v3m0 5v1m0 4v1m0 352v2m0 36v1m1-443v2m0 27v2m0 13v2m0 412v1m1-448v2m0 5v2m0 1v2m0 10v1m0 15v2m0 1v2m0 1v2m0 373v2m0 31v1m0 21v2m1-480v1m0 20v1m0 15v2m0 5v1m1-32v1m0 2v1m0 7v3m0 4v1m0 10v2m0 1v2m1-52v1m0 13v2m0 15v1m0 8v2m0 419v1m1-422v2m0 5v5m0 386v2m0 17v2m1-451v1m0 17v1m0 12v1m0 388v2m0 18v1m1-443v2m0 3v3m0 2v3m0 8v2m0 5v2m0 4v2m0 3v5m1-39v2m0 5v1m0 8v2m0 5v2m0 415v2m1-447v2m0 1v2m0 11v2m0 2v1m0 4v1m0 7v1m0 9v1m0 2v1m0 398v2m1-431v4m0 6v2m0 404v2m0 22v2m0 5v1m0 2v2m1-466v1m0 4v3m0 3v2m0 1v2m0 2v1m0 5v2m0 6v2m0 2v1m0 4v1m0 437v1m1-477v2m0 5v3m0 1v2m0 2v1m0 2v8m0 10v2m1-41v1m0 4v1m0 5v2m0 24v2m0 396v1m0 20v2m0 3v1m1-464v5m0 5v3m0 7v1m0 15v2m1-39v1m0 3v2m0 13v2m0 11v3m0 5v2m0 394v2m1-437v2m0 8v2m0 14v4m0 3v1m0 4v3m1-42v1m0 5v3m0 2v2m0 4v2m0 10v5m0 6v2m0 388v1m0 12v1m0 2v2m1-448v3m0 3v2m0 3v2m0 1v5m0 3v2m0 5v2m0 4v2m0 383v1m0 9v1m0 2v2m0 11v2m0 9v2m0 21v2m1-473v4m0 19v2m0 397v2m0 3v2m1-434v4m0 1v2m0 8v2m0 5v1m0 10v2m0 404v1m0 13v2m0 21v2m1-478v2m0 2v3m0 8v2m0 3v2m0 1v2m0 5v1m0 448v2m1-487v2m0 3v1m0 9v1m0 21v2m0 404v2m0 21v1m0 12v1m1-477v2m0 6v2m0 3v2m0 5v1m0 9v1m0 5v2m1-30v4m0 21v1m0 396v2m0 15v1m1-445v2m0 10v1m0 422v2m1-440v2m0 19v2m0 7v1m0 451v2m1-484v2m0 28v1m1-26v2m0 19v2m0 2v3m0 440v1m1-472v3m0 2v1m0 8v2m0 2v1m0 10v2m0 448v1m1-470v1m0 2v1m0 10v2m0 5v1m1-31v2m0 2v1m0 4v1m0 2v3m0 10v2m0 3v1m0 404v2m1-438v5m0 1v2m0 10v1m0 2v2m0 3v2m0 3v1m1-31v4m0 3v2m0 6v5m0 8v2m0 409v1m0 8v2m1-448v2m0 3v2m0 1v2m0 3v2m0 13v1m0 429v1m0 5v4m1-468v2m0 8v3m0 3v2m0 8v2m1-18v1m0 5v4m0 1v2m0 5v1m0 357v2m0 45v2m1-437v2m0 10v1m0 396v2m0 28v1m1-440v2m0 2v1m0 2v2m0 3v1m0 7v2m0 329v1m0 108v1m1-449v1m0 5v4m0 1v2m0 5v1m0 416v1m0 13v2m1-451v1m0 4v1m0 9v1m0 419v1m1-436v1m0 14v1m0 3v2m0 396v2m1-413v2m0 5v3m0 416v1m1-433v1m0 4v1m0 434v1m0 8v2m1-451v1m0 2v2m0 3v2m0 438v1m1-451v2m0 3v2m0 5v1m0 2v3m0 420v2m0 20v1m1-451v2m0 3v2m0 1v3m1-13v2m0 3v2m1-8v3m0 2v1m0 2v2m0 1v2m0 383v1m0 64v1m1-461v2m0 3v5m0 2v1m0 429v1m1-451v2m0 16v2m0 387v2m0 16v2m0 24v2m1-435v2m1-18v1m0 2v2m0 14v2m0 438v2m1-451v1m0 432v2m0 9v2m1-456v1m0 4v3m0 10v1m0 403v1m0 2v2m0 31v1m1-456v2m1-7v3m0 448v2m1-450v2m0 10v2m0 410v2m0 21v1m0 12v1m1-451v2m0 422v1m1-439v1m0 3v2m1 2v1m0 2v2m0 1v2m0 386v2m0 48v2m0 3v2m0 8v2m1-460v2m0 7v1m0 394v2m0 11v2m0 37v2m1-471v2m0 5v1m0 7v2m0 431v2m0 11v2m1-458v2m0 438v2m0 8v1m1-443v5m0 2v2m0 417v1m1-428v3m0 5v2m0 368v1m0 54v2m0 21v1m0 2v2m1-474v1m0 2v2m0 4v2m0 3v2m0 3v2m0 399v2m0 11v2m0 39v1m1-469v2m0 1v2m0 3v4m1-5v1m0 439v1m0 8v2m1-459v3m0 8v2m0 368v1m1-384v3m0 10v2m0 407v2m0 24v2m1-453v1m0 5v3m0 4v1m0 5v2m1-23v2m0 1v2m0 2v1m0 2v1m0 9v3m1-25v4m0 8v1m0 10v4m0 400v2m1-425v1m0 4v1m0 8v2m1-16v1m0 2v2m0 9v2m0 3v2m0 451v2m1-476v2m0 11v2m0 423v2m0 26v2m1-460v3m0 2v2m1-15v2m0 6v2m0 3v2m0 6v2m0 451v2m1-469v1m0 5v3m0 5v2m0 420v2m0 1v2m0 2v1m1-448v2m0 8v2m0 5v1m0 438v2m0 10v1m1-467v3m0 5v2m0 6v2m0 406v1m1-428v1m0 4v3m0 3v2m0 414v1m1-419v2m0 5v3m0 419v2m1-435v1m0 3v2m0 5v2m0 1v2m0 440v1m1-446v2m1-13v1m0 10v2m0 369v2m0 26v2m0 31v1m1-446v3m0 15v2m0 438v1m1-444v3m0 363v2m1-383v2m0 9v2m0 3v2m1-18v2m0 4v2m0 429v1m0 3v2m0 28v1m1-475v1m0 15v5m0 381v2m0 21v2m0 39v1m0 5v2m1-456v1m0 394v2m0 42v2m1-459v3m0 5v1m0 439v1m1-449v1m0 10v2m0 441v2m1-455v2m0 16v4m0 390v2m1-409v2m0 1v7m0 409v3m1-425v2m0 6v2m0 381v2m1-388v1m0 9v1m1-18v2m0 10v1m0 396v2m0 16v2m0 14v4m1-439v2m0 5v2m0 1v2m0 427v1m1-448v2m0 6v2m0 386v2m0 70v1m1-462v1m0 9v1m0 411v1m0 10v2m0 23v1m1-32v1m1-431v1m0 5v2m1-10v2m0 3v3m0 3v2m0 459v2m1-472v1m0 5v2m0 3v2m0 404v1m1-412v2m0 1v2m0 428v2m1-433v3m0 394v2m0 32v2m0 24v2m1-467v1m0 2v1m0 4v1m0 4v1m0 370v2m0 32v2m1-420v1m0 3v2m0 5v2m0 431v2m1-446v1m0 8v4m0 407v2m0 13v1m1-440v2m0 2v1m0 12v1m1-19v1m0 18v2m0 389v2m1-411v2m0 8v2m0 446v2m1-456v1m0 450v1m1-457v1m0 7v1m0 2v2m0 3v2m1-17v2m0 2v3m0 1v7m1-10v2m0 1v4m0 433v2m1-435v1m0 303v2m0 96v2m1-416v2m0 419v1m0 2v2m0 9v2m1-435v2m0 9v2m0 331v1m0 75v2m0 8v2m0 8v1m0 26v2m1-467v1m0 3v4m0 438v2m0 14v2m1-8v1m1-29v2m0 34v1m1-470v1m0 5v2m1 0v1m0 5v2m0 430v2m0 6v2m1-54v2m0 6v2m0 19v2m1-435v2m0 428v2m1 6v2m0 23v1m1-449v1m0 426v1m1-436v1m0 3v2m2-16v3m0 7v1m0 5v3m0 430v2m1-454v1m0 13v2m0 414v3m0 16v2m0 10v1m1-458v2m0 13v2m0 420v2m1-442v2m0 6v2m1-3v3m0 6v2m0 419v1m1-436v1m0 2v2m0 8v1m0 416v2m1-427v1m0 2v2m0 4v2m1-16v1m0 4v1m0 2v2m0 449v2m1-455v2m0 420v2m1-433v1m0 5v2m0 6v2m0 422v1m0 5v2m0 19v2m1-466v3m0 437v2m1-432v2m0 1v2m0 376v2m0 24v2m0 5v1m0 30v1m1-456v2m0 13v3m0 420v2m0 28v3m1-469v1m0 4v1m0 4v1m0 2v1m0 416v2m0 22v2m1-445v3m1-9v1m0 2v2m0 3v1m0 10v2m0 440v1m1-451v2m1-12v2m0 3v2m0 1v2m0 2v1m0 5v2m0 451v2m1-471v3m0 417v2m0 45v2m1-474v2m0 5v1m0 13v2m0 384v2m0 23v1m1-438v2m0 8v2m0 1v3m0 5v2m0 5v2m1-25v2m0 6v3m0 9v1m0 4v1m0 350v2m0 67v1m1-444v3m0 412v2m0 23v1m0 31v2m1-465v2m1-8v2m1 4v2m0 8v4m0 379v2m0 70v1m1-464v2m0 347v1m0 108v1m1-474v2m0 16v2m0 432v1m1-453v2m0 2v1m0 15v2m0 3v2m1-28v3m0 2v1m0 2v2m0 1v2m0 1v2m0 2v1m0 404v2m0 39v2m1-456v4m0 9v1m0 386v2m0 68v2m1-469v1m0 434v1m1-439v1m0 3v4m0 6v2m0 404v2m0 37v3m1-467v1m0 15v2m1-20v5m0 384v2m0 39v2m0 6v2m2-438v1m0 5v2m0 446v2m1-456v3m0 6v2m0 407v2m1-415v1m0 2v1m0 5v2m0 370v1m0 80v2m1-88v2m0 45v2m0 45v2m1-474v2m0 6v2m0 414v1m0 38v1m0 8v2m1-463v2m0 7v1m0 409v2m1-435v1m0 471v2m1-469v1m0 447v1m0 5v3m1-462v1m0 421v3m0 13v2m1-432v1m0 7v3m0 417v2m1-38v2m0 36v2m0 22v2m1-461v2m0 3v1m0 9v1m1-18v4m0 8v1m0 7v2m0 441v2m1-461v1m0 3v2m0 425v2m0 13v2m1-448v1m0 18v2m0 1v2m1-24v1m0 13v2m1 2v1m0 416v1m0 29v2m1-454v1m0 292v1m0 144v1m1-451v2m0 6v2m0 8v2m0 371v2m0 75v1m1-461v2m0 11v2m0 406v1m2-431v3m0 1v2m0 5v2m0 1v4m0 1v2m1-10v3m0 8v2m1 394v2m0 5v1m0 28v2m1-445v2m0 391v1m1-396v2m0 3v2m0 2v1m0 412v2m0 3v2m0 14v2m1-463v2m0 29v2m0 445v1m1-477v3m0 463v2m1-466v1m0 23v2m0 446v2m1-474v1m0 403v1m0 13v2m1-424v4m0 21v2m0 447v2m1-471v2m0 440v1m1-423v5m0 3v2m0 415v2m0 8v1m1-431v1m0 4v1m1 432v2m1-440v1m0 401v2m0 3v2m0 5v1m1-415v3m1-5v2m0 368v2m1 32v2m1-13v1m0 38v1m2 9v1m1-52v2m0 32v2m1-86v1m0 72v2m1-20v2m0 40v2m1-31v2m1 11v2m2-469v1m0 476v1m1-101v2m1-379v1m0 424v1m0 35v1m1-464v2m1 1v2m0 487v1m1-491v1m0 399v2m0 50v2m0 5v2m2-457v2m1-8v2m0 465v2m1-464v1m0 445v2m1-450v3m0 404v2m0 23v1m0 14v1m0 39v2m1-106v2m0 86v2m1-470v2m0 438v2m0 36v1m1-31v4m1-450v2m1-5v3m0 2v1m0 417v2m0 33v1m0 2v1m1-464v2m0 1v2m0 459v2m1-464v1m2-1v6m0 372v1m1-382v1m0 2v1m0 4v1m1-1v1m0 427v2m0 40v2m1-471v2m1-5v2m0 345v2m0 132v1m1-485v1m0 7v2m0 348v2m0 83v2m0 34v1m1-479v2m0 5v2m0 439v2m0 20v1m1-477v3m1 2v1m0 4v1m0 440v2m0 42v2m1-495v1m0 2v1m0 7v2m0 482v1m1-496v3m0 449v2m0 7v1m1-464v2m0 428v2m0 1v2m0 63v2m2-494v2m0 433v2m0 49v1m1-491v1m0 8v2m1-10v2m0 3v2m0 405v2m1-417v2m0 3v1m0 434v1m0 33v2m1-471v1m0 5v2m1-11v1m0 3v2m0 2v1m0 486v1m1-498v2m0 1v2m0 3v2m0 352v1m0 91v2m0 3v2m1-459v1m0 433v2m1-430v2m0 446v2m0 35v2m1-489v2m0 427v1m0 40v1m1-467v1m1-1v1m1 439v1m0 7v1m1-444v1m0 424v1m2-425v3m0 375v2m1-386v1m0 2v3m0 417v2m0 21v2m0 9v2m0 7v1m1-467v1m0 453v2m0 19v2m0 11v2m1-487v2m0 1v2m0 428v2m0 50v2m1-484v2m0 417v1m1-421v1m0 460v1m0 5v2m1-478v2m0 2v1m0 2v2m1 425v1m0 26v2m2-13v2m0 3v2m1-453v1m0 2v3m0 432v2m1-69v2m1-367v2m0 397v2m0 29v2m0 37v2m1-481v2m0 427v1m1-430v2m1 7v1m1-10v2m0 3v2m0 401v1m1-407v2m0 6v2m0 441v2m0 10v1m0 7v1m1-478v1m0 7v1m0 2v3m1 386v2m0 65v2m0 11v2m1-476v2m0 345v2m0 88v1m1-446v2m0 8v1m0 2v2m0 456v1m2-31v2m0 21v2m0 24v2m1-481v2m0 412v2m0 26v1m0 23v2m1-460v2m0 419v1m0 22v1m1 8v2m0 18v1m1-483v1m1 7v1m1-3v3m0 364v1m0 106v2m1-473v2m0 422v2m1-426v2m0 409v2m1-429v2m0 16v2m0 469v1m1-491v1m0 18v2m0 451v2m0 6v2m1-478v2m0 7v1m0 2v1m0 427v2m0 3v2m0 29v2m0 8v3m1-482v2m0 4v2m0 420v2m1-425v1m1-13v2m0 5v2m0 1v2m0 381v2m0 66v2m0 5v2m1-471v1m0 18v2m0 443v2m1 3v2m1-457v4m0 5v1m0 421v1m1-28v2m1-412v2m0 9v2m1-13v2m0 6v2m0 415v2m0 52v1m1-472v3m0 416v1m0 7v2m1-422v1m0 377v1m0 36v2m1 50v2m1-44v1m1-436v1m0 5v2m1-2v2m0 401v1m0 8v2m0 55v2m2-493v1m0 15v1m0 387v1m1-402v1m1-1v1m0 10v2m0 469v2m1-489v3m0 3v2m0 5v2m0 6v2m1-23v2m0 1v2m0 6v4m1 0v3m0 422v1m0 26v2m1-451v1m0 435v2m0 3v2m1-456v1m0 7v2m0 1v7m0 402v2m0 52v1m0 13v2m1-489v2m0 8v2m1-16v4m0 10v2m0 1v2m0 451v2m1-466v2m0 436v2m0 23v1m0 12v1m0 7v1m1-480v2m0 426v2m0 31v2m1-463v2m0 439v2m0 23v1m1-47v2m0 19v2m0 33v1m1-8v2m1-471v2m0 438v1m0 7v2m1-448v1m0 3v2m1-13v3m0 5v2m0 430v2m0 13v1m0 31v2m1-492v1m0 9v1m0 2v3m0 417v2m1-434v2m0 2v5m0 3v1m0 411v2m1-421v4m0 4v2m1-13v2m0 9v2m0 419v1m0 44v2m1-476v2m0 10v1m0 365v2m1-372v2m0 438v2m0 37v2m1-476v2m0 407v2m1-25v2m1-396v2m0 427v1m1-441v1m0 13v2m0 417v2m0 32v4m1-473v3m0 5v2m0 6v2m1-15v4m0 3v3m0 7v1m1-14v1m0 2v2m0 8v1m0 380v2m0 55v2m1-458v1m0 2v2m0 9v2m0 3v2m0 448v2m1-474v1m0 8v2m0 3v2m1 1v2m0 2v1m0 429v1m0 13v2m1-471v2m0 5v1m0 4v1m0 4v3m0 1v7m0 376v2m0 86v2m1-495v1m0 5v2m0 1v2m0 13v2m0 365v1m1-379v1m0 7v1m0 5v2m0 353v2m1-378v3m0 4v1m0 5v2m0 436v2m0 26v2m1-491v2m0 2v1m0 7v1m0 2v2m0 8v1m0 313v2m1-334v2m0 6v2m0 1v4m1-12v2m0 3v5m0 2v3m0 6v2m0 456v2m1-491v2m0 15v3m0 3v2m0 8v2m0 400v2m0 11v2m0 15v1m2-469v3m0 9v1m0 8v2m1-16v1m0 2v3m0 2v1m0 4v1m0 12v1m0 2v2m1-20v2m0 11v3m0 435v2m1-458v2m0 3v2m0 451v2m1-458v1m0 9v1m0 7v1m0 414v2m1-447v2m0 5v2m0 3v3m0 432v1m1-443v2m0 2v1m0 404v2m0 84v2m1-503v1m0 2v3m0 23v2m0 383v1m1-409v2m0 5v3m0 446v2m1-441v1m0 5v2m0 3v2m1-36v1m0 4v1m0 20v1m0 5v2m1-29v1m0 2v2m0 3v1m0 4v1m0 2v2m1-25v2m0 5v1m0 2v2m0 3v1m0 13v2m1-31v2m0 8v2m0 6v3m0 2v2m0 1v3m0 450v2m0 21v1m1-482v2m0 2v3m0 1v2m1-24v3m0 5v1m0 10v2m1-18v2m0 11v2m1-20v2m0 1v2m0 3v2m0 8v2m0 420v1m1-441v2m0 1v2m0 5v1m0 2v2m0 449v2m1-456v1m0 2v2m0 382v2m0 36v2m1-432v3m0 3v2m0 433v2m1-440v2m0 5v1m0 2v2m0 358v2m1-377v4m0 8v1m0 453v2m0 5v1m1-469v2m0 445v1m1-451v3m0 5v2m0 1v2m0 425v2m0 8v2m1-452v2m0 8v2m1-10v2m0 3v1m0 461v2m1-471v2m0 10v3m0 451v2m1-463v2m0 418v2m0 5v2m1-426v2m0 469v2m1-479v2m0 1v2m0 3v2m0 1v2m0 6v2m0 376v2m0 67v1m0 13v2m1-484v2m0 13v2m0 9v2m1-15v2m0 3v2m0 454v2m1-468v2m0 3v2m0 3v2m0 1v2m1-21v3m0 8v2m1-2v2m0 2v1m0 3v2m0 2v5m0 382v2m0 44v2m1-461v1m0 416v1m0 43v1m0 30v1m1-492v2m0 3v2m0 1v4m0 9v2m0 419v1m0 18v2m1-463v2m0 11v2m0 8v5m0 425v2m0 32v2m1-484v2m0 5v1m0 2v2m0 8v1m0 352v2m0 93v1m1-464v2m0 3v2m0 1v2m0 423v2m0 11v2m1-456v2m0 19v2m1-21v3m0 10v1m0 2v3m0 2v1m1-1v1m1-27v1m0 17v4m0 4v1m0 458v2m1-484v2m0 13v1m0 3v4m0 425v2m0 11v2m1-466v1m0 17v1m1-6v1m0 10v2m0 415v2m1-427v2m0 439v2m1-440v2m0 445v1m1-449v3m0 420v2m2 34v2m2-465v2m0 5v1m1 0v4m1-7v2m0 428v2m0 31v1m1-474v2m0 3v2m0 432v1m0 12v1m0 2v2m0 14v2m1-49v2m1-419v2m0 408v2m0 31v2m1-448v1m0 2v2m0 465v2m1-476v2m0 2v1m0 439v1m1-438v2m0 3v1m0 421v1m0 30v1m0 15v2m0 4v2m1-489v4m0 1v2m0 428v2m0 23v1m1-457v1m0 8v2m1 433v2m0 3v2m1-451v1m0 10v2m0 402v2m0 32v2m1-448v2m0 436v2m0 42v2m1-49v2m1-437v2m0 3v1m0 448v2m0 10v1m1-464v2m0 407v2m0 37v2m0 24v2m1-481v2m1 8v2m0 412v1m0 15v2m0 24v2m1-471v2m0 8v1m0 391v2m1-402v1m0 2v2m0 369v2m0 59v1m0 20v1m1-459v2m0 6v2m0 1v2m1-10v2m1 450v1m0 10v2m1-465v2m0 451v2m1-458v2m0 1v2m0 5v1m0 4v1m0 426v3m1-46v2m0 88v1m1-485v2m0 456v1m2-454v1m0 4v1m0 445v2m1-448v1m0 442v1m0 4v1m1-8v2m1-450v2m0 3v2m0 438v2m0 1v2m1-455v2m0 445v1m0 28v2m0 3v1m1-480v2m0 467v2m2-469v1m0 450v1m0 22v1m1-472v1m0 347v2m1-352v2m0 355v2m0 75v1m1-440v2m1 3v2m0 317v2m1-329v2m0 3v2m0 3v1m0 429v2m0 19v2m1-461v5m0 435v1m0 10v2m1-452v2m0 3v3m0 437v2m1-448v1m0 8v2m0 443v2m0 29v2m1-56v2m0 15v1m1-446v2m0 482v1m1-485v2m0 332v2m0 87v2m1 10v2m0 43v2m2-479v2m1 415v2m0 42v2m1-39v1m0 13v2m0 8v2m1-25v4m4 53v2m1-65v1m0 17v1m0 10v2m1 1v4m2-12v2m0 37v2m1-21v1m1-39v2m1-21v1m1 75v2m1-55v3m0 28v1m1-31v2m0 42v2m2-47v1m0 5v2m0 32v2m1-36v2m1-8v1m0 2v2m0 9v2m1 37v2m1-55v1m0 26v2m1-33v2m2 0v2m0 14v2m2-31v2m2 24v2m3-13v1m0 10v2m1 22v2m1-47v1m2 20v2m0 32v2m2-64v2m0 16v2m0 36v1m1-39v2m2-26v1m0 61v1m1 7v1m1-109v2m1 90v1m0 2v1m1-22v1m0 28v2m0 8v1m1-60v2m0 21v2m0 21v1m1-40v1m0 44v2m1-69v2m0 34v2m0 28v1m1-34v3m0 18v2m1-39v1m1 13v2m1-13v2m0 27v2m1-31v2m0 50v2m1-47v1m1-18v2m3-47v1m0 69v1m3-31v2m0 42v2m1 15v1m1-39v2m1-10v2m0 27v2m1-13v2m1-93v1m0 122v2m1-37v1m3-37v1m0 38v2m0 11v2m0 13v1m1-67v2m1-31v2m0 70v1m0 2v2m1-46v2m0 42v2m0 26v1m1-58v1m2 15v2m0 35v2m4-55v1m0 18v2m2-2v2m1-47v1m0 75v2m3-23v2m1-46v2m0 5v1m1 21v2m0 26v2m1-43v4m1 1v2m1 10v1m0 21v2m2-106v2m1 57v1m1 54v2m4-29v1m0 28v1m1-45v2m1-14v2m0 41v3m0 7v1m1-26v2m4-13v1m1 44v2m3-60v1m0 25v1m1-1v1m1-45v1m0 5v2m0 59v1m1-55v1m0 43v1m0 17v1m1-55v2m3 35v2m1-13v2m1-43v2m0 23v1m1-164v1m0 207v2m1-210v1m0 202v2m0 3v2m1-36v2m1-23v2m1 31v1m1-31v2m0 13v2m1-175v2m0 155v1m0 31v2m2-176v3m0 127v2m0 24v2m0 10v1m1-169v2m0 174v3m2-42v1m0 12v1m0 38v1m1-185v3m0 132v2m0 47v1m1-185v1m2-19v1m0 167v1m0 18v2m1-18v2m1-173v1m1 206v1m1-210v3m0 2v2m0 146v2m1-152v2m0 145v2m0 8v2m0 42v1m2-205v2m1-2v2m2 99v2m0 45v2m2-37v1m1-114v2m0 179v2m1-181v1m0 145v2m0 59v1m1-48v1m0 31v2m0 11v2m1-207v1m1 82v2m1 76v2m0 27v2m1-192v3m0 140v2m0 15v1m2-163v2m0 138v2m1 11v2m0 20v1m2-34v2m0 55v2m0 8v3m1-210v3m0 148v2m0 23v1m1-17v1m2-158v2m1-4v2m0 187v2m0 11v2m1-204v2m0 155v2m1 13v1m0 26v2m1-13v1m1-192v2m0 156v2m0 15v1m0 28v1m1-107v2m1-95v2m0 124v1m1-132v2m0 184v2m0 3v1m1-192v2m0 146v2m0 25v1m2-173v2m1 124v2m0 66v2m1 11v2m2-209v2m0 104v2m0 91v2m1-3v1m1-50v1m0 23v2m1-175v2m1-2v2m0 114v2m0 55v2m2-178v2m1 1v2m0 192v2m1-186v2m0 6v2m2 121v1m0 39v2m1-183v2m0 148v2m0 36v1m1-19v2m1-5v1m1-471v2m0 497v2m2-196v2m0 185v2m1-28v2m0 24v2m1-181v2m0 181v1m0 2v2m0 6v2m1-210v1m0 2v1m0 204v2m1-108v2m0 50v2m0 55v2m1-36v2m2-8v1m1-168v2m0 7v1m0 2v2m0 3v1m0 141v1m0 25v1m1-179v2m0 198v2m1-213v1m0 3v2m0 3v2m0 152v1m0 7v1m1-169v1m0 207v2m1-70v2m0 22v2m0 41v1m1-210v2m0 182v2m2-183v2m1-3v1m0 4v3m1-13v2m0 4v2m0 147v1m0 30v1m0 17v1m1-205v2m0 3v1m0 7v2m0 122v1m0 10v2m0 3v2m1-458v2m0 4v2m0 303v2m0 150v1m1-156v1m0 162v1m0 10v2m0 8v2m1-486v2m0 296v2m0 194v1m1-18v2m0 20v1m1-58v1m0 46v1m1-115v1m0 66v1m0 17v1m1-469v2m0 306v5m1-315v2m0 313v1m1 0v2m1-324v1m0 312v1m1 8v4m0 179v1m1-185v5m0 151v2m0 37v2m1-202v3m0 3v2m0 145v2m0 19v2m0 5v1m0 15v2m1-202v1m1-3v2m0 4v2m0 2v1m1-322v1m0 316v2m1-3v3m1-319v1m0 315v1m0 9v1m0 119v2m1-126v2m1-11v1m0 165v1m1-161v2m0 5v1m0 168v2m1-491v2m0 308v1m0 84v1m0 74v1m1-472v3m0 305v1m0 7v1m0 4v1m0 105v1m0 29v2m2-142v2m0 195v2m0 3v2m1-217v7m0 8v2m0 6v2m0 155v3m1-178v2m0 10v1m0 4v1m0 139v1m1-151v3m0 10v3m1-5v2m0 127v1m0 15v2m0 45v2m1-525v2m0 314v2m0 5v2m0 5v1m0 147v1m0 15v2m1-489v2m0 307v2m0 3v2m0 2v1m0 108v1m1-436v1m0 12v1m0 300v2m0 156v2m0 18v1m0 4v1m1-498v1m0 318v3m1 0v2m0 125v2m1-135v1m1 17v1m1-21v3m0 149v1m0 7v2m0 13v1m1-14v1m0 13v2m0 26v1m1-203v1m0 4v3m0 143v2m1-153v3m0 3v4m0 135v1m0 17v1m1-159v1m0 4v1m1-13v2m0 10v1m0 70v2m0 88v3m1-166v2m1-5v1m0 79v1m1-85v2m0 3v2m0 143v2m0 3v2m1-109v1m0 105v1m1-158v3m0 145v4m0 10v1"/>
<path stroke="#7c6600" d="M0 110v2m0 2v1m0 25v1m0 7v1m0 12v2m0 16v1m0 13v2m0 362v1m0 7v2m0 9v2m0 37v2m1-505v2m0 8v1m0 33v2m0 1v2m0 5v1m0 12v1m0 12v1m0 25v2m0 333v2m0 12v1m0 16v2m0 5v2m1-481v2m0 1v2m0 18v1m0 22v1m0 8v2m0 29v2m0 10v1m0 10v2m0 1v2m0 354v1m1-472v1m0 7v2m0 32v2m0 19v4m0 4v2m0 3v2m0 5v1m0 15v2m0 3v2m1-87v2m0 11v2m0 6v2m0 23v2m0 8v1m0 21v2m0 5v2m0 5v1m0 372v1m1-485v1m0 38v1m0 9v1m0 34v2m0 11v2m0 2v1m0 5v2m0 6v2m0 378v2m1-505v1m0 20v1m0 26v4m0 1v2m0 2v1m0 62v2m0 301v2m0 63v2m1-477v1m0 10v2m0 32v2m0 3v2m0 10v1m1-67v5m0 7v1m0 26v2m0 5v2m0 27v2m0 2v1m0 10v2m0 404v1m1-462v3m0 8v2m0 16v3m0 15v1m0 9v1m0 375v2m0 32v2m1-500v3m0 26v2m0 8v1m0 13v4m0 1v2m0 19v2m0 2v1m0 8v2m0 8v2m0 11v2m0 352v1m0 26v2m1-502v2m0 23v3m0 11v2m0 26v2m0 21v2m0 14v2m0 8v2m0 1v2m0 2v1m0 360v2m1-495v1m0 8v2m0 33v1m0 36v2m0 1v2m0 24v2m0 3v2m0 6v4m0 5v1m0 346v1m1-469v2m0 8v1m0 15v2m0 27v2m0 11v4m0 21v1m0 17v1m0 9v1m1-122v3m0 49v2m0 3v2m0 22v2m0 7v1m0 17v1m0 12v1m0 337v2m1-456v2m0 6v2m0 6v2m0 6v2m0 13v2m0 1v2m0 2v1m0 13v2m0 10v1m0 2v1m0 22v1m0 10v2m0 5v1m0 339v2m1-458v2m0 16v1m0 9v1m0 8v2m0 20v1m0 25v1m0 7v1m0 7v2m0 6v2m0 3v2m1-101v1m0 13v2m0 6v2m0 24v2m0 11v4m0 1v2m0 20v1m0 393v1m1-496v1m0 3v5m0 7v1m0 13v4m0 3v2m0 3v2m0 8v5m0 4v4m0 1v4m0 1v2m0 5v1m0 2v2m0 18v1m0 13v2m1-122v1m0 2v2m0 1v2m0 5v1m0 12v1m0 7v1m0 2v2m0 3v2m0 6v2m0 1v2m0 28v1m0 4v1m0 7v1m0 7v2m0 3v1m0 2v3m0 2v6m0 292v2m0 81v2m1-497v2m0 3v1m0 10v2m0 6v2m0 2v1m0 26v2m0 11v2m0 2v1m0 8v2m0 15v1m1-93v2m0 3v2m0 8v2m0 3v2m0 9v2m0 16v2m0 3v2m0 21v2m0 1v2m0 16v3m0 356v1m1-474v2m0 13v1m0 22v1m0 2v1m0 9v1m0 2v2m0 55v2m0 1v2m0 329v1m0 25v2m0 32v2m1-500v1m0 4v1m0 25v1m0 25v1m0 20v1m0 10v2m0 6v2m0 16v4m0 358v2m1-479v1m0 4v3m0 18v1m0 4v1m0 13v2m0 10v1m0 8v2m0 13v2m0 6v2m0 16v2m0 10v1m0 319v2m1-435v2m0 8v2m0 17v2m0 2v1m0 4v1m0 2v2m0 30v2m0 13v2m0 18v1m1-114v2m0 2v3m0 18v1m0 31v2m0 23v5m0 1v2m0 3v3m0 12v1m0 7v2m0 1v2m0 334v3m0 42v2m1-502v2m0 6v2m0 3v2m0 8v2m0 1v2m0 21v2m0 1v4m0 1v2m0 41v1m0 10v2m0 6v2m0 355v2m0 4v2m1-484v2m0 3v2m0 1v2m0 7v1m0 8v2m0 16v2m0 16v2m0 1v2m0 18v3m0 5v2m0 6v2m0 6v2m0 3v2m0 2v1m0 372v1m1-397v1m0 5v2m0 15v1m0 2v1m0 338v1m1-459v2m0 4v2m0 28v1m0 18v2m0 44v2m0 17v2m0 349v1m1-475v1m0 2v2m0 4v2m0 36v2m0 13v1m0 16v2m0 10v1m0 25v2m0 1v2m0 361v2m1-443v3m0 2v2m0 48v2m0 3v2m0 15v1m0 2v3m0 287v1m0 51v2m0 34v1m1-488v1m0 7v1m0 4v1m0 17v1m0 12v5m0 30v4m0 8v2m0 17v2m0 375v1m1-498v3m0 7v1m0 4v1m0 3v2m0 11v2m0 5v2m0 34v1m0 10v3m0 2v2m0 23v1m0 3v2m0 370v1m1-490v2m0 13v1m0 10v2m0 15v1m0 51v3m0 6v2m0 355v2m1-443v1m0 12v1m0 5v2m0 10v3m0 37v2m0 7v1m0 7v1m0 341v1m1-449v1m0 10v2m0 31v1m0 57v2m0 334v2m1-443v1m0 26v2m0 70v2m0 11v2m0 1v2m0 1v2m1-119v2m0 3v2m0 8v1m0 5v2m0 2v1m0 3v2m0 5v2m0 3v2m0 3v1m0 2v2m0 37v2m0 10v1m0 7v1m0 5v2m0 319v2m0 27v2m0 29v2m1-482v1m0 18v4m0 3v2m0 8v1m0 23v2m0 19v2m0 23v1m0 303v2m0 41v1m0 13v2m1-482v1m0 10v2m0 13v1m0 12v2m0 34v1m0 10v2m0 16v2m0 291v2m0 5v1m0 35v1m0 4v1m1-445v4m0 5v1m0 3v2m0 2v1m0 10v3m0 7v2m0 29v1m0 9v1m0 3v4m0 3v2m0 5v1m0 16v2m0 264v2m0 107v2m1-492v10m0 4v2m0 11v2m0 18v2m0 19v2m0 16v3m0 17v1m0 10v2m0 337v2m1-385v2m0 13v1m0 7v2m0 4v4m0 13v1m1-104v2m0 13v1m0 4v1m0 5v3m0 33v3m0 21v2m0 11v4m0 356v2m1-450v2m0 13v2m0 27v2m0 3v2m0 2v3m0 3v2m0 8v2m0 1v3m0 5v2m0 2v1m0 3v2m0 370v1m1-487v2m0 8v2m0 1v2m0 7v1m0 15v2m0 30v2m0 10v1m0 10v2m0 6v4m0 11v2m0 312v2m1-419v2m0 3v2m0 3v2m0 11v2m0 3v2m0 34v2m0 8v1m0 4v1m0 10v2m0 3v3m0 2v1m0 2v2m1-114v1m0 8v2m0 2v1m0 10v2m0 6v2m0 2v1m0 3v2m0 23v1m0 5v2m0 2v1m0 8v2m0 7v1m0 7v1m0 10v2m0 1v2m0 347v2m1-452v2m0 2v1m0 12v1m0 7v1m0 54v2m0 3v3m0 13v2m0 311v2m1-432v2m0 8v3m0 2v1m0 4v1m0 52v2m0 6v2m0 5v2m0 3v2m0 6v3m0 381v2m1-482v2m0 1v2m0 16v2m0 11v2m0 29v2m0 1v2m0 16v2m0 10v1m0 7v1m0 4v1m1-119v2m0 2v1m0 5v2m0 32v2m0 24v2m0 5v2m0 11v2m0 1v5m0 2v1m0 10v2m0 331v1m1-440v2m0 10v1m0 22v3m0 47v2m0 3v2m0 6v2m0 13v1m0 333v1m0 10v2m1-463v2m0 14v2m0 54v1m0 5v2m0 11v2m0 8v3m0 2v2m0 1v2m0 337v2m1-455v2m0 5v1m0 5v3m0 2v2m0 6v2m0 1v2m0 8v4m0 3v1m0 7v2m0 17v2m0 5v2m0 16v3m0 2v1m0 9v1m0 2v1m0 310v2m0 8v1m0 56v1m1-485v2m0 3v1m0 2v2m0 6v3m0 67v2m0 10v1m0 4v1m0 337v2m0 42v2m1-481v2m0 13v3m0 7v2m0 3v1m0 5v2m0 29v2m0 13v2m0 4v2m0 10v1m0 313v2m0 47v2m0 13v1m1-490v2m0 8v1m0 5v2m0 5v1m0 4v3m0 7v1m0 7v1m0 38v1m0 2v2m0 9v2m0 10v1m1-105v1m0 18v2m0 10v1m0 31v2m0 8v1m0 23v2m0 334v2m1-445v1m0 5v2m0 3v2m0 19v2m0 8v3m0 5v2m0 47v2m0 3v2m0 8v1m0 2v2m1-39v3m0 23v5m0 343v2m0 13v2m1-471v3m0 5v2m0 13v1m0 8v2m0 10v1m0 35v1m0 7v1m0 4v3m0 11v2m0 363v2m0 14v2m1-489v2m0 16v2m0 6v2m0 7v1m0 54v2m0 9v2m0 2v1m0 7v1m0 334v2m1-451v1m0 5v2m0 5v1m0 18v2m0 3v2m0 8v2m0 27v2m0 5v1m0 12v2m0 3v1m0 9v3m1-109v1m0 7v1m0 17v3m0 15v1m0 4v1m0 31v2m0 5v1m0 4v1m0 2v1m0 2v2m0 332v2m0 3v2m0 13v1m1-456v2m0 8v5m0 1v2m0 2v1m0 3v2m0 3v2m0 3v4m0 4v2m0 8v2m0 29v2m0 8v3m1-96v2m0 8v1m0 7v2m0 8v3m0 10v3m0 34v2m0 1v2m0 2v1m0 352v2m1-433v1m0 2v1m0 5v2m0 21v2m0 410v2m0 10v1m1-467v1m0 12v1m0 5v2m0 2v3m0 19v2m0 34v2m0 410v2m1-495v5m0 1v2m0 6v2m0 8v2m0 19v4m0 332v2m0 62v1m0 12v1m1-456v2m0 5v6m0 16v2m0 13v2m0 363v2m1-416v2m0 11v2m0 10v1m0 3v4m0 5v1m0 15v2m0 433v1m1-470v1m0 7v1m0 4v3m0 2v1m1-27v6m0 10v1m0 27v1m0 411v3m1-463v2m0 21v2m0 420v2m0 5v1m0 3v2m0 7v1m0 3v2m1-479v2m0 8v2m0 14v2m0 3v7m0 407v2m0 42v1m1-480v3m0 5v2m0 6v2m0 8v2m0 1v2m0 8v2m0 407v2m0 26v1m1-477v2m0 6v2m0 16v3m0 8v2m0 7v1m1-44v2m0 13v1m0 7v3m0 5v2m0 6v2m1-34v1m0 7v1m0 15v2m0 397v2m0 47v2m1-482v3m0 3v2m0 1v2m0 13v2m0 1v2m0 8v3m0 4v1m0 390v1m1-445v2m0 18v3m0 12v1m0 7v1m0 12v1m0 382v1m0 10v2m0 34v1m1-485v2m0 13v1m0 10v2m0 5v1m0 2v2m0 3v5m0 400v2m1-437v2m0 3v2m0 5v3m0 2v1m0 2v2m0 5v3m0 6v2m0 5v1m0 411v2m1-458v1m0 4v1m0 8v2m0 3v2m0 11v2m1-20v2m0 5v2m0 1v2m0 5v1m0 5v2m0 8v2m0 394v2m1-447v2m0 1v5m0 13v2m0 11v5m0 7v1m0 385v3m0 20v1m1-453v4m0 16v2m0 13v1m0 4v3m0 1v2m0 385v1m1-430v2m0 1v2m0 18v2m0 1v3m0 4v1m0 8v2m0 425v2m1-464v3m0 3v2m0 3v2m0 1v2m0 2v1m0 8v2m0 2v1m0 3v2m1-46v2m0 3v2m0 6v2m0 5v2m0 1v2m0 2v1m0 7v1m0 409v2m1-450v2m0 11v2m0 1v2m0 2v1m0 4v1m0 5v2m0 11v2m1-41v2m0 3v2m0 1v2m0 6v2m0 3v4m0 11v2m0 1v2m0 374v2m0 25v1m0 2v1m1-448v2m0 5v2m0 9v4m0 6v2m0 1v4m0 6v2m1-46v2m0 3v2m0 3v2m0 6v2m0 1v2m0 8v2m0 3v2m0 379v2m1-417v3m0 26v3m0 4v1m0 4v3m0 368v2m0 9v2m0 47v2m1-477v3m0 1v2m0 10v1m0 4v1m0 5v2m0 2v1m0 3v4m0 382v2m0 33v3m1-459v1m0 8v2m0 3v2m0 6v2m0 2v1m0 2v5m0 1v2m0 3v2m0 399v2m0 13v1m1-456v2m0 10v1m0 7v1m0 2v5m0 2v1m0 3v2m0 2v1m0 357v2m0 68v2m0 1v2m0 6v2m1-459v5m0 5v1m0 3v2m0 411v1m1-448v2m0 1v2m0 13v2m0 5v1m0 7v5m0 353v2m0 32v2m1-424v2m0 3v2m0 8v3m0 9v1m0 412v2m1-446v1m0 2v5m0 5v1m0 2v1m0 2v2m0 1v2m0 2v1m0 7v1m0 2v2m0 405v2m0 31v1m0 5v2m1-471v2m0 1v2m0 3v2m0 5v2m0 3v1m0 360v2m0 16v2m0 26v2m1-442v2m0 3v2m0 3v5m0 13v3m0 5v3m0 388v2m0 18v1m0 18v2m1-469v3m0 1v2m0 3v2m0 10v3m0 2v1m0 10v2m0 381v1m0 18v2m0 18v2m0 9v2m1-472v1m0 7v1m0 2v2m0 4v4m0 1v4m0 1v2m0 3v2m0 422v1m0 5v2m0 8v2m1-474v1m0 3v4m0 5v1m0 10v2m0 1v2m0 2v1m0 7v1m0 355v2m0 33v1m0 34v2m1-464v1m0 5v2m0 11v2m0 2v3m0 5v1m1-40v1m0 12v1m0 2v2m0 3v1m0 15v2m1-28v2m0 1v7m0 8v2m0 1v2m0 5v3m0 437v1m1-466v2m0 8v2m0 1v4m0 8v1m0 401v2m1-437v2m0 13v1m0 10v4m0 3v5m0 389v2m0 32v2m1-460v2m0 2v3m0 6v2m0 2v5m0 3v3m0 391v2m1-422v1m0 2v2m0 14v2m0 2v1m0 8v2m0 398v1m0 8v2m1-438v1m0 2v2m0 6v2m0 1v2m0 2v3m1-15v2m0 1v2m0 7v5m0 4v2m0 388v1m0 5v2m1-425v1m0 13v4m0 3v2m0 1v2m0 1v2m0 391v2m1-432v2m0 8v8m0 8v2m0 5v1m0 2v1m1-31v4m0 1v2m0 2v1m0 7v1m0 7v5m1-23v2m0 13v1m0 8v2m0 388v1m0 52v2m1-459v1m0 4v1m0 4v1m0 2v1m1-14v1m0 7v3m0 398v1m0 5v2m1-427v3m0 3v4m0 436v2m1-445v2m0 5v1m0 4v1m0 5v2m0 383v1m0 46v1m0 5v2m1-456v1m0 2v2m0 5v1m0 7v3m0 384v2m1-422v2m0 10v3m0 1v2m0 5v2m0 413v2m0 5v2m1-419v3m0 389v2m0 10v2m0 3v1m0 23v2m0 11v2m1-464v1m0 2v1m0 5v2m0 8v2m0 431v2m1-448v2m0 6v2m0 2v1m0 420v2m1-440v2m0 5v1m0 4v1m0 398v1m0 7v2m0 13v1m1-433v3m0 5v2m0 1v2m1-15v2m0 3v3m0 409v2m0 47v2m1-469v1m0 2v1m0 4v1m0 5v2m0 370v1m0 25v1m0 48v1m1-462v1m0 12v1m0 7v1m0 414v2m1-430v1m0 9v4m0 411v2m1-432v1m0 4v1m0 2v2m0 6v2m0 384v2m0 10v1m0 25v1m1-433v2m0 1v2m0 420v2m1-430v6m1-8v3m0 2v2m0 5v1m0 388v1m0 31v2m1-435v2m0 378v1m1-387v1m0 3v2m0 3v2m0 2v1m0 2v2m0 438v1m0 2v2m1-460v2m0 8v2m0 3v3m0 375v1m0 75v2m1-472v1m0 3v2m0 435v2m0 8v1m1-454v3m0 3v2m0 10v2m0 452v2m1-471v2m0 6v2m0 3v2m0 365v1m1-387v1m0 2v3m0 7v3m0 2v3m0 402v2m0 28v1m1-454v1m0 2v5m0 1v2m0 2v1m0 373v2m0 65v2m0 10v1m1-466v2m0 3v2m0 1v4m0 409v1m1-435v2m0 18v1m0 2v3m0 7v2m1-15v1m0 2v3m0 413v1m0 12v1m0 21v2m1-453v2m0 6v4m0 420v3m1-448v3m0 10v2m0 5v5m0 390v2m1-414v2m0 5v1m0 2v3m0 5v2m0 389v2m0 10v1m0 15v2m0 24v2m1-468v2m0 1v2m0 11v2m0 5v2m0 410v3m0 23v2m0 3v2m1-460v2m0 8v2m0 397v2m0 5v1m0 20v1m1-444v3m0 11v2m0 371v2m0 57v2m1-447v2m0 5v1m0 2v2m0 5v3m0 365v3m0 21v2m0 24v2m0 8v2m0 3v2m1-455v2m0 1v2m0 8v3m0 442v3m0 10v1m1-470v1m0 4v1m0 2v1m0 7v2m0 1v2m0 441v2m0 8v2m1-476v2m0 3v3m0 448v2m1-456v3m0 2v1m0 10v3m0 404v2m1-422v2m0 9v2m0 399v2m1-404v1m0 2v2m0 399v1m0 15v2m1-426v2m0 3v2m0 417v2m1-421v4m0 1v2m0 394v2m0 1v2m0 13v3m1-431v4m0 4v1m0 426v1m0 8v2m0 8v2m1-460v4m0 430v1m0 21v2m0 13v2m1-474v1m0 7v1m0 2v2m0 423v2m1-435v2m0 3v3m0 7v1m0 416v1m1-435v2m0 5v1m0 2v2m0 1v4m0 428v2m0 19v2m1-466v2m0 3v3m0 445v1m1-457v3m0 2v1m0 3v2m0 5v2m0 360v1m0 18v2m0 32v2m0 20v1m1-453v2m0 5v1m0 2v2m0 6v2m0 409v1m0 35v1m1-462v1m0 8v2m0 414v1m0 22v1m1-453v2m0 3v2m0 6v4m0 1v2m1-18v2m0 8v1m0 2v5m0 399v2m1-421v2m0 5v3m0 2v1m0 5v2m0 407v2m0 1v2m1-433v1m0 2v2m0 9v4m1-15v3m0 2v1m0 7v5m0 350v2m0 88v1m1-454v1m0 5v2m1-16v1m0 4v1m0 7v1m0 2v2m0 420v3m1-438v2m0 6v2m0 6v2m0 412v2m1-429v2m0 6v2m0 2v1m0 398v1m1-412v2m0 3v3m0 2v3m0 424v1m1-443v2m0 6v2m0 2v1m0 5v2m0 428v2m1-448v2m0 1v2m0 1v2m0 3v2m1-7v2m0 3v2m0 440v1m1-444v1m0 5v2m0 451v2m1-456v1m0 430v2m1-448v3m0 12v1m0 417v2m0 24v2m1-458v2m0 1v2m0 7v1m1-8v2m0 3v2m0 439v2m0 11v2m1-461v3m0 421v1m1-433v2m0 4v4m0 5v1m1-16v2m0 3v1m0 426v1m0 31v2m1-468v2m0 10v3m0 415v2m1-428v1m0 3v2m0 5v3m0 406v2m1-409v1m1-18v2m0 10v3m0 2v1m0 406v2m1-424v2m0 3v1m0 431v1m2-436v3m0 1v2m0 5v2m0 379v2m1-385v2m0 453v1m0 2v2m1-473v2m0 2v3m0 433v2m1-8v1m1-431v3m0 419v1m0 34v4m1-466v3m0 5v1m0 2v2m0 1v2m0 391v2m1 18v1m1-427v2m1-3v1m0 2v2m0 3v5m0 1v2m0 401v1m0 18v2m1-430v1m0 431v1m1-443v2m1 9v4m0 433v2m1-434v2m0 411v1m0 13v2m0 3v2m0 27v2m1-481v2m0 7v1m0 3v2m1-10v2m0 5v1m0 458v2m1-473v2m0 442v1m1-443v3m0 4v1m0 394v2m0 18v2m0 21v1m1-448v2m1 5v2m0 1v3m2-13v2m1 0v2m0 1v2m1-7v2m0 11v2m0 411v1m0 21v2m1-446v1m0 4v1m0 7v1m1-22v1m0 3v2m0 3v2m0 2v1m0 3v2m0 420v2m1-435v2m0 1v2m0 2v1m0 450v1m1-459v2m0 422v1m0 51v1m1-469v2m0 1v2m0 420v2m1-438v1m0 442v2m1-444v2m0 459v2m1-463v2m0 2v1m0 370v2m1-380v2m0 368v2m0 27v2m0 62v1m0 5v2m1-455v2m0 3v2m1-20v2m0 11v2m1 8v2m1-2v2m1-18v2m0 1v2m0 5v1m0 414v2m0 39v1m1-467v2m0 13v1m1-21v2m0 1v2m0 13v3m1-3v3m0 393v1m0 25v2m1-439v2m0 10v1m0 2v2m0 402v2m0 6v2m1-435v1m0 9v1m0 7v1m0 7v3m0 319v2m1-337v5m0 402v2m1-416v2m0 11v2m0 8v2m0 444v2m1-476v2m0 11v4m0 6v2m0 417v2m0 6v2m1-448v3m0 2v1m0 5v3m0 4v1m0 2v2m0 379v2m1-401v2m0 384v2m0 31v1m1-409v2m0 422v2m1-435v1m0 5v3m0 411v2m1-424v2m0 11v2m0 415v2m2-432v2m0 1v2m0 6v5m0 425v2m1-446v1m0 5v2m0 427v1m0 7v1m0 30v1m1-461v2m0 420v2m0 18v1m1-449v1m0 10v2m0 436v2m1-446v1m1-3v3m0 5v2m1-18v2m0 4v2m0 2v1m0 10v2m0 399v2m1-424v2m0 438v1m1-435v2m0 463v1m1-470v1m0 10v2m0 1v2m0 2v1m0 398v1m0 44v2m1-463v2m0 5v1m0 357v2m0 45v2m0 42v2m1-448v2m0 418v2m0 13v2m1-450v2m0 11v2m0 412v1m0 12v1m1-428v2m0 5v1m0 401v2m0 32v2m0 9v2m1-28v2m1-28v2m1-401v2m0 373v2m0 45v2m0 32v2m1-474v2m0 11v3m0 409v2m0 11v2m1-437v2m0 16v2m0 392v2m1 2v1m1-409v2m0 407v2m0 29v2m0 14v2m1-464v1m1 2v3m1 0v2m0 7v1m0 393v1m1-405v1m0 4v1m0 406v2m1-432v1m0 23v2m0 402v2m1-399v1m1-11v2m0 3v3m0 3v2m0 363v2m0 62v1m1-461v4m0 26v1m0 395v1m0 25v1m1-430v2m0 8v2m0 396v1m0 13v2m1-445v2m0 24v2m1-25v2m0 355v2m0 107v2m1-469v3m0 21v2m0 1v2m0 383v1m1-382v1m0 399v2m1-402v1m0 385v1m1-389v2m0 342v1m2 43v1m1-62v2m1 49v2m0 32v2m2-8v1m0 20v1m1-94v2m2 65v1m0 22v1m1-39v2m1 39v1m1-22v1m0 8v2m2-466v2m0 431v2m0 7v1m0 13v2m0 11v2m1-23v2m0 11v2m0 24v2m1-54v2m0 8v2m1-447v2m1-3v1m1 0v2m0 475v2m2-479v2m0 493v2m1-498v1m0 3v4m0 396v1m0 44v2m1-103v2m1-347v1m0 442v2m1-448v3m0 391v1m0 10v2m1-409v3m0 7v1m1-11v2m0 6v2m1-5v1m0 2v3m1 430v2m0 49v1m1-482v2m0 419v1m0 33v1m1 0v2m1-463v2m0 407v2m0 42v2m1-456v1m0 411v2m0 16v1m0 23v2m1-458v3m0 2v2m0 444v2m0 5v2m1-458v3m0 2v1m1 448v2m1-458v2m0 6v2m1-10v2m0 6v2m0 358v2m2-370v2m0 6v2m0 482v2m1-497v2m1 4v2m0 2v1m0 404v2m0 11v2m0 62v1m1-491v1m0 7v3m0 433v2m1-448v2m0 1v2m0 374v2m1-381v2m0 8v1m1-1v1m1 0v4m0 470v2m1-47v1m1-441v2m0 1v2m0 8v2m0 412v1m0 17v1m0 12v1m1-457v1m0 3v2m0 3v2m0 2v1m1-10v2m0 3v2m1-13v5m1-3v3m0 3v2m0 1v4m0 426v2m0 13v2m0 32v2m0 5v1m1-493v3m0 477v2m1-484v2m0 1v2m0 5v2m0 420v1m0 41v2m1-477v1m0 3v4m0 446v2m1-455v3m0 5v2m0 474v2m1-479v1m0 2v3m0 425v2m1-10v2m1-433v1m0 5v2m1-4v2m0 443v2m0 42v2m1-489v2m0 1v2m0 2v1m0 2v1m0 406v2m1-422v3m0 2v1m0 4v1m1-11v3m0 442v1m1-443v2m0 5v3m0 420v2m0 16v2m1-455v2m0 1v2m0 3v2m0 3v2m1-12v2m0 2v1m0 432v2m2-439v2m0 8v2m1 453v1m0 26v2m1-487v2m1-4v4m1-5v1m1-5v2m0 3v4m0 417v1m1-425v2m0 469v1m1-478v1m0 7v1m0 4v1m0 435v2m0 1v2m1-456v2m0 428v2m0 24v2m0 40v2m1-487v2m1-4v4m1-4v2m1-5v3m1 7v1m0 424v2m0 48v2m0 2v1m1-65v2m0 28v1m0 21v2m0 8v2m1-484v2m0 6v2m0 384v2m0 32v2m1-433v1m1 4v1m0 2v1m0 385v2m1-391v3m0 3v2m2-8v4m0 406v2m1-425v3m0 1v2m0 469v3m1-465v1m0 3v2m0 370v1m1-379v5m0 1v2m0 433v2m1-435v2m0 384v2m1-403v2m0 10v1m0 4v1m0 443v2m1-464v3m0 7v3m0 1v2m0 2v1m1-22v1m0 16v2m0 388v1m1-397v2m0 3v1m0 431v1m1-428v3m0 3v2m1-18v2m0 8v1m0 2v2m1-15v2m0 9v2m1-11v1m0 3v4m0 5v1m0 386v2m0 26v2m0 52v1m1-472v2m1-10v1m0 7v2m0 400v2m1-404v2m1 371v2m0 68v2m1-8v1m1-443v3m0 424v2m1 30v2m1-458v2m0 357v1m1-381v3m0 15v2m1-23v2m0 16v3m0 3v2m0 463v1m1-477v3m0 7v1m0 311v2m0 116v1m0 35v1m1-482v2m0 9v2m0 476v1m1-500v2m0 8v2m0 8v1m1-19v2m0 16v1m0 2v3m1-18v4m0 9v4m0 472v2m1-495v1m0 3v2m0 3v2m0 479v1m1-490v3m0 2v2m0 3v3m0 2v1m0 2v2m0 392v2m0 28v1m0 21v2m0 15v1m1-472v2m1 0v1m1-1v1m0 2v3m0 419v1m0 20v2m1-20v2m0 53v2m1-485v3m0 1v2m0 463v1m1-27v1m1-14v1m1-436v3m1-2v2m1-7v4m0 487v1m1-479v2m0 476v1m1-495v3m0 2v3m0 4v1m0 451v2m0 18v2m1-476v2m0 371v2m1-385v2m0 8v2m0 6v2m0 350v2m0 68v2m0 6v2m0 36v1m1-482v2m0 1v4m0 8v1m1-16v2m0 488v2m1-494v2m0 3v2m0 2v4m0 2v2m0 407v2m0 27v2m0 8v2m1-461v1m0 10v3m1-18v2m0 2v1m0 4v1m0 2v1m0 432v2m1-447v2m0 8v2m0 6v2m0 471v1m1-487v2m0 6v4m0 428v2m0 18v1m0 7v1m1-480v2m0 3v1m0 10v2m0 3v2m0 415v2m1-438v1m0 7v3m0 2v1m0 5v2m0 435v1m1-459v2m0 19v2m0 1v2m0 378v2m1-404v3m0 13v1m0 5v2m0 430v2m0 35v2m1-492v2m0 1v2m0 5v2m0 3v1m0 360v2m0 59v1m1-422v2m1-24v1m0 15v2m0 426v2m0 11v2m1-459v1m0 8v4m0 1v2m0 10v1m1-26v4m0 13v1m0 5v2m0 3v2m0 459v2m0 4v2m1-493v1m0 381v2m1-363v1m0 434v1m1-456v3m1-14v3m0 3v2m0 2v6m0 2v1m0 4v3m0 1v2m0 2v1m0 2v3m0 365v2m0 45v2m0 39v2m1-489v3m0 2v2m0 4v2m0 7v1m0 2v3m0 3v2m0 437v1m0 34v2m1-502v2m0 28v1m0 430v2m0 3v2m1-474v1m0 2v3m0 5v3m0 417v2m0 73v2m1-508v1m0 4v1m0 15v2m0 1v3m0 4v1m0 372v1m1-389v3m0 13v4m0 464v1m1-501v1m0 17v1m0 15v3m0 429v1m0 10v2m1-460v2m0 3v2m1-28v2m0 14v4m0 6v3m0 5v2m0 397v2m1-433v1m0 7v5m0 414v1m0 47v2m1-479v2m0 1v2m0 7v3m0 8v2m0 428v2m0 13v1m0 31v2m1-502v2m0 6v4m0 1v2m0 6v2m0 3v2m0 443v2m0 17v2m1-490v1m0 13v2m0 13v2m0 418v2m0 36v1m1-488v1m0 10v2m0 13v1m0 5v2m0 414v1m0 36v2m0 3v2m1-489v2m0 24v2m0 343v2m0 129v1m1-505v2m0 7v1m0 20v1m0 406v2m0 65v1m1-503v2m0 5v3m0 3v3m0 12v1m0 401v2m0 13v1m0 18v2m0 13v2m1-481v2m0 11v3m0 456v2m1-472v1m0 2v3m0 2v3m0 2v1m0 4v1m0 354v1m0 88v2m0 28v1m1-480v1m1-16v2m0 5v1m0 7v3m0 474v2m0 8v1m1-500v2m0 8v2m0 1v4m1-18v1m0 7v1m2-9v1m0 8v2m0 2v1m0 2v2m1-5v1m0 391v2m0 85v1m1-493v1m0 2v2m0 1v2m0 8v2m0 482v1m1-500v2m0 8v2m0 428v2m1-435v3m1-8v2m0 6v2m0 3v2m0 366v2m1-375v7m0 421v2m1-440v2m0 2v1m0 7v1m0 5v3m0 440v2m1-459v1m0 5v2m0 13v1m0 443v2m1-463v2m0 7v1m0 3v2m0 2v1m1-19v1m0 2v2m0 5v1m1-19v1m0 10v2m0 3v3m0 8v2m0 459v2m1-490v1m0 2v2m0 1v5m0 2v1m0 5v2m0 3v2m0 440v1m1-441v3m1-29v1m0 18v2m0 6v2m0 456v2m1-487v1m0 5v2m0 3v2m0 8v1m0 354v2m0 88v1m1-467v1m0 4v1m0 3v2m0 375v1m0 111v2m1-497v2m0 1v2m0 5v1m0 8v2m0 2v1m0 456v2m0 2v1m1-483v1m0 2v1m0 447v1m1-454v2m0 389v1m0 75v2m0 3v2m1-472v1m0 12v1m0 5v2m0 353v2m0 112v2m1-494v2m0 3v2m0 445v1m0 34v2m1-474v2m0 413v2m1-417v2m0 3v3m1-5v2m0 1v2m0 450v1m1-456v3m0 448v2m1-458v4m0 3v1m0 450v2m2-461v1m0 2v2m1 1v3m0 2v2m0 404v1m0 18v2m0 6v2m1-450v2m0 7v1m0 435v2m1-443v1m0 2v2m0 4v4m0 422v1m1-438v3m0 5v3m0 408v1m0 20v2m1-440v3m0 6v2m0 442v1m1-456v2m0 5v1m1 445v2m1-455v3m0 443v2m1-448v2m0 6v2m1-3v3m1 3v2m0 451v2m1-466v1m0 2v3m0 3v2m1-8v2m0 8v1m0 427v2m1-443v1m1-3v2m0 6v3m0 458v2m0 5v1m1-474v2m0 480v2m1-54v2m0 44v2m1-478v2m0 3v2m0 469v2m1-470v2m0 402v2m0 8v2m0 8v2m1-435v1m0 7v1m0 383v2m0 41v1m1-430v2m0 458v1m1-458v2m0 427v2m0 39v1m1-471v4m0 430v1m0 10v2m1-455v2m0 427v1m0 31v2m1-464v1m0 7v1m0 470v1m1-479v4m0 452v2m1-453v2m1-8v1m0 4v3m0 1v4m1 430v1m0 5v2m1-440v2m0 407v2m0 29v2m0 19v2m1-38v2m0 29v2m0 8v2m1-41v3m1-441v1m0 432v2m1-426v2m0 463v1m1-474v4m0 4v2m0 414v1m1-423v2m0 4v2m1-6v1m0 456v2m1-464v1m1 5v2m0 446v2m1-458v3m0 380v1m0 90v2m1-476v2m0 5v1m1-3v2m0 3v3m0 415v2m1-430v3m0 7v1m0 437v2m0 22v2m1-472v3m0 417v2m0 6v2m2-432v2m0 3v2m0 425v1m1-428v2m0 1v2m0 445v1m1-448v2m0 422v1m0 10v2m0 13v1m1-457v1m0 411v1m0 25v2m0 24v2m1-466v1m0 370v2m0 50v2m0 18v1m0 39v2m1-487v2m1 8v1m0 422v2m1-424v2m0 407v2m0 20v1m0 28v1m1-462v1m1 447v1m0 9v1m1-63v1m0 61v1m2-41v2m1-6v1m1 18v2m0 1v2m1-16v1m0 7v2m0 37v3m1-13v2m0 1v2m2-26v2m0 16v2m1-26v1m1 36v2m2-4v2m1-26v2m0 4v2m1 13v2m2-18v1m0 17v1m1-26v2m0 13v2m1 14v2m2-49v2m0 6v2m0 24v2m1 11v2m1-46v2m0 11v2m2 5v1m0 2v2m3-39v1m0 28v2m0 34v1m2-37v2m3-92v2m0 106v1m1-9v1m1 7v1m1-34v2m0 34v2m1-33v2m1-12v4m0 52v1m1-112v2m0 52v1m2 5v2m1-77v2m0 107v2m1-104v1m1 90v2m0 13v1m3-35v1m1 23v2m1-28v2m0 6v2m1 32v2m0 5v1m1-16v2m1-18v1m1-63v2m0 6v2m0 19v2m0 11v2m0 41v1m2-81v1m0 33v2m0 44v1m1-44v2m0 8v2m2 1v2m1 36v1m1-81v2m0 34v1m1 7v2m0 16v1m1-44v2m0 33v1m1-13v2m2-21v1m1-27v1m0 52v2m3-13v2m0 29v2m1-54v1m0 54v2m0 6v2m2-62v2m1 42v2m2-134v2m1 112v2m1-18v2m0 19v2m0 14v2m2-68v1m0 75v2m1-2v2m1-52v1m2 0v2m3-2v2m2 28v1m2 0v2m2-23v2m1-52v1m2-32v1m1 52v2m1 11v2m0 11v2m0 10v1m0 10v2m2-117v1m0 98v2m0 1v2m4-13v3m0 18v2m1-7v2m1-35v2m2 26v2m2-13v1m2-9v1m0 5v2m1-33v2m0 31v1m0 38v1m3-102v1m2 84v1m1-36v2m0 7v1m1 23v2m1-185v2m1 204v1m1-208v1m1-1v3m0 205v2m1-108v2m0 47v2m0 8v2m1-163v1m0 160v2m0 1v2m1 10v1m0 23v2m1-201v2m0 88v2m0 65v2m0 13v1m1-159v1m0 147v1m0 5v2m1-173v2m0 81v2m0 81v2m0 20v1m0 3v2m1-194v2m0 156v2m0 36v1m1-195v3m0 176v3m1-182v1m0 77v2m0 70v1m1-153v2m0 3v2m0 159v2m0 24v2m1-191v4m0 176v1m2-89v1m0 57v2m1-153v1m0 154v1m1-155v2m0 194v2m2-199v1m0 93v2m1 78v2m1-175v2m0 16v2m0 181v1m1-61v1m1-145v2m0 1v2m0 103v1m0 44v2m0 55v2m1-212v2m1 0v1m2-3v2m0 1v2m0 163v2m0 11v2m1 22v2m2-202v2m1 194v1m2-202v2m1 156v2m3-158v1m1 160v2m0 26v1m1-190v1m2 0v2m0 179v2m0 21v2m1-62v1m0 12v2m1-162v2m0 192v2m1-49v1m0 31v2m1-179v1m0 110v1m0 34v2m0 3v2m0 24v2m1-176v2m1-7v3m0 2v2m1 5v1m0 142v2m0 5v1m1-150v2m0 127v2m0 22v2m0 13v2m1-180v2m0 152v1m1 5v2m1-165v2m1 1v2m0 153v2m1-157v2m0 186v1m0 2v2m0 1v2m1-197v1m2 155v2m0 49v1m1-205v2m0 168v1m1-171v2m0 163v1m3-475v1m0 306v2m0 10v2m0 26v1m1-39v2m0 137v1m0 8v2m0 3v2m1-143v1m0 5v2m1-20v2m0 133v2m0 8v2m0 42v2m1-197v1m1 0v2m1-302v2m0 301v2m1-5v2m0 1v2m0 168v2m1-173v3m0 184v2m1-188v4m0 150v1m0 30v1m0 15v1m2-506v1m1 0v2m0 310v1m1-10v2m2 194v2m1-26v1m0 5v2m1-184v1m0 2v1m0 159v1m1-161v1m0 2v2m1 190v2m1-197v1m0 12v2m1-14v4m0 198v2m1-16v1m1-190v1m0 119v2m0 23v1m0 59v2m1-204v2m0 3v2m1-2v2m0 146v2m1-163v2m0 6v2m0 102v2m0 39v2m0 23v1m1-181v2m0 13v2m0 156v2m1-22v2m0 15v1m1-163v2m0 2v1m0 98v2m0 36v1m0 8v2m1-148v1m0 145v2m1-150v5m0 176v2m1-191v5m0 163v1m0 5v2m0 24v2m0 10v1m1-202v2m1-318v2m0 308v3m1-5v2m1-2v3m0 7v2m0 189v1m0 5v2m1-523v1m0 426v1m0 33v1m2-143v2m0 151v2m1-466v2m0 303v3m1-5v2m0 11v2m0 174v2m1-502v5m0 311v5m0 203v2m1-521v1m0 308v2m0 3v2m0 3v2m0 109v1m0 30v1m0 23v2m0 31v1m1-523v2m0 313v1m0 2v3m0 2v2m1-15v2m0 6v2m0 155v1m0 31v2m0 9v2m0 2v1m1-213v2m0 1v2m0 1v2m0 150v2m1-162v2m0 2v1m0 5v2m1-12v2m0 6v2m0 8v2m0 163v1m0 26v2m1-513v2m0 451v1m0 17v1m0 2v2m1-474v1m0 3v2m0 305v1m0 145v2m0 8v2m0 44v1m1-213v2m0 1v2m0 176v1m0 22v1m1-202v2m0 3v2m1-4v2m0 2v1m0 163v2m1-170v2m0 2v1m0 5v2m0 137v1m0 48v1m1-203v1m0 10v2m0 6v2m0 96v2m1-119v4m0 7v2m0 138v2m1 0v1m0 49v2m1-205v1m0 2v1m0 4v1m0 4v1m1-324v2m0 319v2m1-10v1m0 5v2m0 2v1m1-313v2m0 300v1m0 7v2m1-313v1m0 300v3m0 2v2m0 3v2m0 136v2m1 20v1m1-161v2m0 190v2m0 5v1m1-200v2m0 88v1m0 54v2m1-460v2m0 303v1m0 4v1m0 157v1m1-166v2m0 160v1m1-163v2m0 3v2m0 164v2m0 29v2m1-199v2m0 172v2m0 8v2m1-189v1m0 4v5m0 184v1m1-185v1m0 116v2m1-129v1m0 9v1m0 131v1m0 21v2m1-168v2m0 5v1m0 5v2m1-13v1m0 7v2m1-9v2m0 132v2m0 8v1m0 30v1"/>
<path stroke="#914d00" d="M0 109v1m0 17v1m0 10v2m0 5v1m0 8v2m0 7v1m0 2v3m0 23v1m0 15v2m0 6v4m0 307v2m0 38v1m1-441v1m0 12v1m0 12v3m0 16v2m0 10v1m0 5v2m0 370v1m0 2v2m1-448v1m0 8v2m0 16v2m0 8v2m0 3v2m0 9v2m0 2v1m0 10v2m0 4v2m0 23v2m1-113v2m0 34v2m0 3v1m0 12v2m0 21v1m0 18v2m0 5v1m0 7v2m0 377v2m1-484v2m0 15v1m0 10v2m0 3v1m0 7v7m0 16v1m0 9v1m0 25v1m0 5v3m0 378v2m1-476v2m0 23v1m0 10v2m0 5v1m0 7v1m0 7v3m0 7v3m0 5v1m0 2v2m1-70v1m0 22v1m0 10v2m0 22v2m0 10v3m0 368v2m1-464v1m0 25v1m0 26v2m0 6v2m0 11v2m0 18v2m0 1v2m0 3v2m0 337v2m1-447v2m0 6v2m0 15v1m0 5v2m0 3v3m0 7v2m0 3v3m0 33v1m0 12v1m0 12v1m1-115v1m0 5v2m0 26v1m0 12v2m0 8v3m0 6v4m0 26v1m0 4v3m0 2v4m0 382v1m1-444v3m0 19v2m0 2v1m0 10v3m0 7v1m0 2v2m0 3v2m0 6v2m0 309v2m1-424v2m0 36v1m0 12v1m0 56v1m0 7v2m0 325v2m0 13v2m0 40v2m1-476v2m0 3v2m0 8v2m0 9v2m0 2v1m0 5v2m0 8v2m0 26v1m0 346v1m0 15v2m1-455v2m0 9v2m0 15v6m0 31v2m0 1v2m0 18v2m0 13v1m0 333v1m0 51v1m1-500v2m0 44v2m0 3v1m0 13v4m0 3v3m0 2v1m0 31v2m0 336v1m0 25v1m1-475v1m0 33v1m0 2v3m0 13v2m0 11v2m0 15v5m0 4v5m0 23v3m0 328v2m0 16v3m0 15v1m0 8v4m0 1v2m1-477v5m0 4v5m0 4v1m0 18v2m0 14v2m0 10v1m0 10v2m0 5v1m0 9v3m0 339v1m0 2v2m1-475v2m0 10v2m0 14v2m0 6v2m0 23v1m0 4v1m0 4v1m0 7v1m0 33v2m0 8v1m0 349v2m0 1v2m1-378v1m0 10v2m0 344v1m0 21v2m0 26v3m1-492v2m0 7v3m0 11v2m0 5v1m0 4v1m0 4v1m0 8v2m0 3v2m0 3v2m0 14v2m0 3v2m0 24v2m0 342v2m0 39v1m1-483v1m0 20v1m0 4v1m0 8v2m0 5v2m0 1v2m0 1v2m0 2v1m0 10v2m0 3v2m0 14v2m0 5v1m1-105v1m0 13v2m0 10v1m0 7v1m0 4v1m0 20v1m0 25v1m0 4v1m0 23v2m0 373v1m1-477v2m0 16v2m0 1v2m0 3v2m0 11v2m0 2v1m0 3v5m0 25v3m0 13v2m0 6v3m1-115v1m0 5v2m0 37v2m0 3v2m0 26v2m0 6v3m0 9v1m0 3v2m0 8v2m0 321v1m0 44v2m1-468v2m0 25v1m0 29v2m0 2v1m0 28v3m0 2v2m1-116v2m0 3v3m0 23v1m0 25v3m0 20v1m0 7v1m0 352v2m1-446v1m0 7v1m0 2v2m0 19v2m0 3v2m0 1v2m0 37v2m0 11v2m0 16v2m0 3v2m0 373v2m1-481v2m0 3v2m0 8v1m0 15v2m0 18v1m0 41v2m0 13v1m0 355v2m1-451v1m0 8v2m0 13v2m0 8v2m0 17v2m0 8v5m0 10v2m0 3v1m0 4v1m0 349v2m1-468v2m0 1v4m0 4v2m0 21v2m0 10v1m0 17v1m0 2v1m0 26v2m0 21v2m0 6v2m0 285v2m0 45v2m0 20v1m0 10v2m1-491v2m0 13v2m0 3v1m0 4v1m0 62v2m0 1v2m0 2v1m0 2v2m0 6v2m0 1v4m0 3v2m0 337v1m1-456v2m0 3v3m0 25v1m0 5v2m0 8v3m0 7v2m0 40v2m0 309v2m0 42v2m0 37v2m1-490v1m0 13v2m0 7v1m0 3v2m0 44v2m0 8v1m0 14v1m1-68v1m0 41v2m0 23v1m0 12v3m0 3v2m1-113v2m0 13v2m0 1v2m0 3v2m0 11v2m0 1v2m0 24v2m0 18v2m0 1v2m0 11v2m0 345v2m0 24v2m1-485v1m0 2v1m0 4v1m0 4v1m0 60v2m0 11v2m0 20v1m0 10v2m0 350v2m0 16v1m1-485v2m0 1v2m0 3v2m0 1v2m0 18v2m0 6v2m0 39v1m0 7v2m0 14v2m0 2v1m0 5v2m0 288v2m0 55v2m1-460v4m0 8v3m0 8v2m0 1v2m0 55v2m0 3v2m0 5v1m0 347v2m1-456v2m0 6v2m0 1v2m0 5v1m0 2v2m0 8v1m0 15v2m0 29v2m0 32v2m1-103v2m0 3v2m0 18v3m0 3v2m0 2v1m0 3v2m0 52v3m0 13v2m1-112v1m0 96v2m0 5v2m0 294v2m0 33v1m0 10v2m1-455v2m0 19v2m0 23v1m0 25v3m0 16v2m0 7v3m0 13v3m0 2v1m0 333v1m0 33v1m1-490v2m0 6v2m0 3v2m0 3v2m0 3v2m0 18v3m0 24v2m0 3v3m0 7v1m0 10v2m0 8v3m0 4v3m0 3v2m0 290v1m1-400v3m0 6v2m0 15v1m0 33v1m0 7v2m0 1v2m0 6v2m0 5v2m0 348v2m0 3v2m0 16v2m0 4v2m0 7v1m1-472v1m0 7v2m0 9v2m0 3v2m0 5v3m0 28v1m0 15v2m0 16v3m0 3v2m0 285v2m0 44v1m1-451v2m0 6v2m0 13v2m0 65v1m0 17v1m0 329v2m0 2v1m0 33v1m1-470v1m0 17v3m0 5v1m0 5v2m0 73v3m0 2v3m0 315v1m0 20v2m0 14v2m1-399v1m0 5v2m0 1v2m0 5v3m0 4v1m0 10v2m0 3v1m0 4v1m0 323v2m0 45v2m1-479v1m0 12v1m0 46v2m0 19v2m0 5v1m0 346v1m0 9v1m0 16v2m1-461v2m0 6v2m0 8v2m0 39v1m0 2v2m0 29v2m0 3v1m0 4v1m1-119v2m0 7v3m0 67v1m0 3v2m0 3v2m0 20v1m0 339v2m0 40v2m1-469v3m0 13v2m0 37v2m0 3v2m0 19v2m0 5v3m0 2v1m1-42v2m0 13v1m0 2v2m0 1v2m0 1v2m0 384v2m1-461v2m0 10v1m0 5v2m0 19v3m0 15v2m0 5v1m0 23v2m0 343v2m1-456v2m0 3v1m0 23v2m0 44v1m0 4v1m0 10v2m0 5v3m0 6v2m0 326v2m1-444v2m0 7v1m0 31v2m0 40v2m0 2v1m0 7v2m0 16v5m1-100v2m0 8v2m0 5v1m0 52v4m0 19v2m0 1v4m1-114v3m0 11v2m0 15v1m0 46v1m0 7v3m0 10v2m0 3v2m0 1v2m0 3v2m0 355v1m1-477v2m0 5v1m0 7v1m0 12v1m0 59v2m0 24v2m0 290v1m0 56v1m1-461v2m0 3v2m0 3v2m0 11v2m0 10v1m0 10v2m0 22v2m0 11v4m0 1v2m0 2v3m0 2v1m0 13v2m0 3v2m0 329v1m1-444v1m0 8v2m0 20v1m0 34v2m0 18v2m0 1v2m0 8v2m0 5v3m0 1v2m0 316v2m1-412v3m0 10v1m0 8v2m0 36v8m0 10v1m0 5v4m0 1v2m0 331v1m1-423v1m0 28v2m0 32v7m0 5v1m0 3v2m0 7v1m0 363v2m1-466v3m0 72v2m0 11v3m0 2v3m0 5v2m0 321v1m0 28v2m1-463v2m0 1v2m0 6v2m0 33v1m0 26v2m0 2v3m0 3v2m0 5v1m0 13v2m0 296v2m0 29v2m0 18v2m1-455v2m0 3v2m0 4v2m0 2v1m0 5v2m0 10v1m0 17v1m0 31v3m0 13v2m0 344v1m1-448v2m0 24v2m0 10v2m0 392v2m0 6v2m0 5v1m0 25v1m1-474v2m0 3v2m0 83v2m0 1v2m0 342v2m0 21v1m1-456v2m0 29v2m0 3v2m0 42v2m0 357v1m1-446v1m0 43v1m0 41v2m0 371v2m1-463v2m0 1v2m0 2v1m0 486v1m1-488v1m0 2v2m0 3v1m0 2v3m0 7v1m0 2v2m0 405v4m0 39v1m1-482v2m0 16v3m0 35v1m0 341v1m0 31v2m0 3v2m0 5v1m1-436v1m0 4v1m0 8v2m0 29v2m0 2v3m0 352v1m0 54v2m1-458v3m0 3v2m0 5v2m0 19v2m0 3v2m0 1v4m0 348v2m0 44v1m1-422v2m0 20v1m0 406v2m1-453v1m0 13v4m0 1v2m0 6v4m0 13v1m0 414v2m0 1v2m1-455v2m0 3v2m0 15v1m0 10v3m1-45v1m0 5v2m0 1v2m0 3v4m0 16v2m0 4v2m0 5v2m1-48v2m0 3v2m0 5v1m0 7v1m0 5v2m0 13v3m0 7v1m0 403v1m1-444v1m0 4v1m0 3v2m0 18v3m0 399v2m0 20v1m1-461v2m0 10v1m0 3v2m0 2v1m0 9v1m0 10v3m0 399v2m1-442v2m0 2v1m0 2v2m0 9v2m0 10v3m0 3v2m0 399v2m1-443v1m0 2v3m0 2v1m0 10v2m0 430v1m1-443v2m0 2v1m0 3v2m0 8v2m0 11v2m1-29v1m0 5v2m0 18v1m0 2v3m0 373v2m1-411v2m0 29v2m0 2v1m0 350v2m1-394v3m0 5v2m0 19v2m0 14v2m0 389v2m1-424v2m0 10v2m0 1v2m0 6v2m0 383v1m0 22v3m1-440v3m0 2v3m0 12v4m0 7v2m0 3v1m1-47v5m0 2v1m0 5v3m0 2v2m0 26v1m0 391v2m0 7v1m0 21v2m1-466v2m0 9v2m0 7v1m0 2v2m0 16v1m0 390v1m1-405v1m0 12v3m1-47v3m0 3v2m0 16v2m0 5v1m0 4v3m0 2v1m0 2v1m0 369v1m0 23v2m0 5v1m0 31v2m1-479v1m0 5v2m0 2v1m0 2v1m0 2v2m0 10v1m0 3v5m1-44v2m0 16v2m0 5v1m0 4v1m0 403v1m0 10v2m0 8v1m1-448v2m0 23v2m0 3v1m1 2v2m0 1v2m0 396v1m0 38v1m0 2v2m1-440v3m1-18v2m0 10v1m0 385v1m1-420v7m0 4v2m0 3v2m0 456v2m1-465v4m0 399v1m0 10v2m0 44v1m1-465v4m0 5v2m0 15v1m1-13v2m0 3v3m0 386v2m0 8v2m0 18v1m0 26v2m1-472v1m0 5v2m0 1v2m0 8v2m0 10v1m0 403v1m1-431v1m0 7v1m0 2v2m0 5v3m0 1v2m0 2v1m0 398v1m1-423v1m0 9v1m0 8v2m0 443v2m1-476v3m0 7v3m0 8v2m0 3v2m0 449v2m1-472v1m0 12v1m0 7v3m1-34v1m0 10v2m0 19v2m0 367v1m1-404v2m0 3v2m0 5v1m0 10v2m0 368v1m0 48v1m1-438v2m0 5v1m0 7v1m0 4v1m0 7v1m1-32v1m0 22v1m0 5v2m0 396v1m1-423v1m0 8v2m0 7v1m0 2v2m0 4v2m0 386v2m0 19v2m0 2v1m1-443v2m0 3v5m0 3v2m1-18v1m0 2v2m0 3v2m0 19v2m0 1v2m0 399v2m1-417v1m0 2v2m0 1v2m0 2v3m0 360v1m0 57v2m0 16v4m1-46v2m1-422v3m0 26v2m1 418v2m1-34v1m0 9v1m0 10v2m1-440v1m0 10v2m0 14v2m0 417v2m0 26v1m1-477v2m0 1v2m0 2v1m0 7v1m0 9v1m1-26v2m0 1v2m0 3v2m0 1v2m1-11v1m0 5v2m0 1v2m0 7v1m0 8v2m0 412v2m1-445v2m0 14v2m0 5v2m0 4v2m0 399v2m0 21v2m1-448v1m0 3v2m0 5v2m0 3v2m0 390v2m0 59v1m1-474v2m0 3v2m0 1v2m0 2v1m0 5v2m0 423v2m0 13v2m0 1v2m1-450v2m0 5v2m0 412v1m1-423v1m0 4v1m0 370v2m0 73v2m1-457v2m0 15v1m0 409v2m1-435v3m0 455v1m0 7v1m1-467v3m0 3v4m0 8v3m0 404v2m0 1v2m1-428v3m0 370v1m0 51v1m0 9v1m0 3v2m0 11v2m1-454v1m0 2v1m0 7v3m0 5v2m0 319v2m0 84v2m0 7v1m0 13v2m0 5v1m1-453v2m0 3v4m0 436v2m0 16v2m1-460v2m0 5v2m0 364v2m0 33v1m1-409v4m1-20v2m0 5v1m0 17v1m0 406v1m0 38v1m1-459v2m0 10v1m0 393v1m0 5v2m0 11v2m1-433v3m0 11v2m0 3v2m1-8v5m0 443v1m1-461v2m0 5v3m0 2v1m1-8v2m0 394v2m0 47v1m0 12v1m1-467v2m0 3v1m0 2v2m0 6v2m0 412v2m1-432v2m0 3v1m0 5v2m0 2v1m0 2v2m0 438v1m1-451v3m0 4v3m0 417v2m1-437v2m0 6v2m0 8v2m0 394v1m1-407v2m0 446v2m1 0v1m0 5v2m1-466v3m0 13v2m0 407v2m0 3v2m1-437v2m0 5v1m0 12v1m0 412v2m0 10v1m0 31v2m1-477v3m0 2v1m0 427v2m0 24v2m1-460v2m0 11v2m0 401v1m0 48v3m0 3v2m1-473v4m0 3v1m0 5v2m0 334v2m0 114v1m1-461v2m0 1v2m1-6v1m0 10v3m0 368v2m0 34v2m0 32v2m0 7v1m1-467v1m0 2v2m0 8v1m1 4v1m0 318v2m1-333v2m0 8v2m0 426v2m0 18v2m1-470v2m0 18v2m0 3v2m0 438v1m1-461v2m0 3v2m0 1v2m0 300v1m1-296v2m0 399v1m0 2v2m0 48v2m1-469v2m0 8v1m1-8v2m0 8v2m0 405v2m0 8v3m0 38v1m1-470v1m0 3v2m1-11v3m0 3v3m0 7v3m0 417v2m1-440v2m0 3v2m0 8v1m0 4v1m0 404v2m1-414v2m0 1v2m0 401v1m1-418v1m0 5v2m0 5v1m1-13v2m0 3v2m0 5v3m0 411v1m0 44v2m1-474v1m0 5v2m0 3v5m0 393v1m0 36v2m0 19v2m1-463v2m0 5v1m0 5v2m0 399v2m1-417v1m0 8v2m2-16v1m0 13v2m0 2v1m0 370v2m0 81v2m0 1v2m1-456v2m0 413v2m1-430v1m0 4v1m1-9v3m0 1v4m0 1v2m1-13v2m0 1v2m0 410v2m1-415v1m0 2v3m1-11v1m0 448v2m0 6v2m1-459v3m0 2v1m0 10v2m0 409v1m0 47v2m1-474v2m0 1v2m0 1v4m1-5v1m1-8v4m0 381v1m0 80v2m1-466v2m0 443v1m0 23v2m1-469v1m0 5v2m0 1v2m0 419v1m0 12v1m0 4v3m1-445v2m0 3v3m1-6v1m0 2v3m0 398v1m0 17v1m1-431v1m0 442v1m1-440v2m0 464v2m1-468v2m0 2v1m0 2v2m0 404v1m0 33v1m1-449v1m0 7v2m0 435v1m1-440v2m0 420v2m1-435v2m0 9v2m0 422v2m0 21v1m0 4v1m1-467v1m0 5v3m0 457v1m1-461v2m0 3v2m0 423v2m0 13v2m1-450v3m0 5v2m0 3v2m0 368v1m1-384v2m0 3v1m1-9v1m0 2v2m1 0v3m0 422v1m0 2v2m0 39v1m1-133v1m0 98v2m0 32v2m1-474v3m0 455v1m1-37v2m0 14v2m0 6v2m0 5v1m1-448v2m0 2v1m0 461v2m1-466v2m1-7v3m0 4v1m0 413v1m0 26v2m1-448v1m0 2v3m0 406v2m0 14v4m1-434v2m0 1v2m0 2v1m0 416v1m0 4v1m0 4v1m0 3v2m1-445v5m1-1v1m0 3v2m0 2v1m0 380v2m2-391v1m0 3v4m0 1v2m0 411v1m0 10v2m1-439v4m0 4v2m1-10v4m0 1v3m1 455v2m1-466v3m0 5v1m0 463v2m1-471v2m0 1v2m0 414v1m1-422v2m1-8v1m0 10v2m2-16v1m0 5v2m0 5v1m1-3v2m0 4v2m0 407v2m0 46v1m0 3v2m0 3v2m1-484v2m0 3v2m0 8v1m0 437v2m1-455v2m0 13v1m1-16v3m0 9v3m0 464v2m1-478v2m0 5v2m0 405v2m0 23v1m1-430v2m0 3v2m2-17v2m0 13v2m1-21v1m0 429v1m0 33v1m0 2v2m1-460v2m0 427v1m0 13v2m1-454v1m0 16v4m0 435v1m1-457v1m0 12v1m0 2v1m0 9v1m1-23v2m0 5v2m0 376v2m0 65v1m1-50v1m1-387v1m1-18v2m0 383v2m0 86v1m1-477v2m0 1v2m0 2v1m0 4v1m0 7v1m0 7v2m1-12v2m1 396v1m1-401v2m0 376v2m1-396v2m0 3v3m0 7v1m1-9v1m1 2v2m1-7v2m0 26v1m0 391v2m1 21v2m0 1v2m1-448v2m1 19v2m0 2v1m0 375v1m0 69v1m1-462v1m0 4v1m0 409v2m1-417v1m0 431v1m1-433v1m0 7v2m0 457v2m1-479v2m0 9v2m1-10v2m0 5v1m0 4v1m1-9v1m1 5v2m0 448v1m1-449v1m1-8v2m0 10v1m0 417v2m1-7v2m0 37v2m1-458v2m2-11v6m1 419v1m1-430v2m0 18v2m1-22v2m0 11v2m0 367v1m0 75v2m0 5v1m0 7v1m1-467v1m0 14v1m0 370v2m0 31v1m1-409v4m1-20v2m0 16v2m1-20v2m0 8v1m0 443v2m2-446v1m0 9v1m1-13v2m0 386v1m1-384v2m0 386v1m0 44v2m0 19v2m1-459v1m0 7v2m0 1v2m0 1v2m0 388v1m0 10v2m0 6v2m0 31v1m1-462v1m0 2v2m0 399v1m0 54v2m1-456v1m0 5v2m0 386v2m0 22v2m1-417v2m0 1v4m0 4v2m1-11v1m0 2v2m0 3v1m0 385v1m0 12v2m1-431v2m1 18v3m0 447v1m1-448v2m0 2v1m0 430v2m1-458v2m0 26v1m0 413v1m1-420v2m0 426v2m1-451v1m0 22v1m0 2v1m0 4v1m0 362v2m1-365v1m1-5v2m0 357v1m0 36v2m0 10v1m1-67v2m1 56v1m0 5v2m1-411v2m0 1v2m0 275v2m0 117v2m1 18v1m0 13v2m2-433v1m0 395v1m0 33v1m1-35v1m0 20v1m1-14v1m0 36v2m1-13v1m0 2v2m2-74v2m4-33v2m0 95v1m1 3v2m1-32v1m2-449v3m1 430v1m1 23v2m1-461v2m0 1v3m2-4v1m0 2v1m1 2v2m0 482v1m1-55v2m1-437v2m0 487v1m1-490v2m0 427v1m0 59v1m1-485v2m0 415v2m1-424v2m0 1v2m0 3v2m1-11v1m0 433v2m0 13v3m1-8v2m1-28v2m1-416v2m0 445v1m0 30v1m1-474v2m0 423v2m2-8v2m1-430v1m0 7v1m0 429v1m0 31v2m0 8v2m1-482v1m0 403v1m1-399v3m0 478v1m1-485v1m0 4v1m1-6v1m0 2v2m0 3v2m1-13v3m0 1v2m0 3v2m0 448v2m1-455v2m0 457v2m0 24v2m1-485v1m1-8v2m1 3v2m1-8v1m0 2v1m0 2v3m0 455v1m1-462v1m0 447v1m1-454v2m0 4v2m0 435v2m0 42v2m1-487v3m0 488v2m1-492v2m0 5v1m0 362v2m0 19v2m0 50v2m1-13v1m1-426v1m1-8v2m0 3v3m0 432v2m0 42v2m1-476v2m2 435v1m0 5v2m1-456v1m0 435v2m1-427v2m1-7v3m0 2v2m0 449v2m1-461v1m0 10v2m0 436v2m1-451v1m0 5v2m0 2v1m0 476v1m1-488v1m0 10v2m0 456v2m1-473v2m0 3v2m0 5v1m0 432v2m1-447v2m0 438v2m1-443v3m0 376v2m1-375v2m0 3v2m1 350v1m1-361v1m0 4v1m0 2v2m0 475v2m1-64v2m0 5v1m1-433v3m0 9v1m0 473v1m1-479v2m0 417v3m0 7v1m1-435v2m0 2v3m0 450v1m1-449v1m0 2v1m0 468v2m1-479v1m1-3v2m0 1v2m0 2v1m0 373v2m0 83v2m1-466v1m0 434v1m0 31v2m0 19v2m1-73v1m0 8v2m1-427v2m1-2v2m1-11v1m0 8v2m1-11v1m1 0v2m0 445v1m1-438v2m0 6v2m0 425v2m0 32v2m1-476v2m0 5v3m1-2v2m0 1v2m0 463v1m2-474v2m0 3v2m1-7v4m0 4v2m0 2v1m1-13v2m0 428v2m0 33v1m1-458v2m1-16v1m0 15v3m0 463v2m1-473v2m0 3v2m0 459v2m1-461v1m0 434v1m1-456v2m0 445v1m1-76v1m0 85v2m0 4v2m1-29v1m1-439v1m0 10v2m0 469v1m1-477v2m0 8v1m0 4v3m1 409v1m0 56v1m1-490v2m0 14v2m0 362v1m0 49v2m0 26v2m1-461v1m0 13v2m1-13v1m0 9v1m0 7v1m0 2v2m1 418v2m1-432v5m0 3v2m0 438v2m1-453v3m1-3v2m0 4v2m0 2v3m0 428v2m1-437v2m0 414v1m1-420v3m0 2v2m0 410v2m0 26v2m1-447v2m0 1v2m0 432v1m0 13v2m1-446v1m0 437v2m0 22v2m1-471v2m0 5v1m0 419v2m1-426v2m1-18v2m0 18v1m1-22v1m0 16v4m0 420v2m0 1v2m1-430v1m0 4v1m0 375v2m0 50v2m0 26v1m1-464v2m0 412v2m0 8v1m0 4v1m0 5v2m1-455v2m0 5v1m0 2v2m0 3v2m1-5v1m0 2v2m0 1v2m0 443v2m0 17v2m1-472v1m0 424v1m0 15v2m0 24v2m1-468v2m1-7v2m0 2v1m0 7v1m0 465v1m1-472v2m1 1v2m1 441v2m1-443v1m0 426v1m0 12v1m1-446v2m0 1v3m1-9v1m0 5v2m0 1v2m0 420v2m1-427v2m0 425v2m0 11v2m0 16v2m1-463v2m0 4v2m0 429v1m0 2v1m1-451v2m0 5v1m0 421v1m1-431v1m0 460v1m0 26v2m1-36v2m1-452v2m1 10v1m1-3v2m0 3v2m0 417v1m0 25v1m1-454v2m0 452v2m1-91v1m0 27v1m1-399v2m0 14v2m1-23v2m0 3v2m0 13v1m0 409v2m0 8v2m1-437v2m0 461v1m0 13v2m1-482v1m0 439v1m1-444v1m0 5v2m0 399v1m1-392v1m1-14v6m0 2v3m0 7v1m0 385v1m1-397v3m0 461v2m0 11v2m1-56v2m0 57v2m1-497v2m0 13v1m0 7v1m0 383v2m0 31v1m0 2v2m1-443v1m0 8v2m0 438v2m0 42v2m1-502v2m0 16v3m0 3v2m1-26v2m0 9v2m0 432v1m1-446v5m0 5v1m0 9v3m0 10v1m0 378v2m0 70v1m1-474v2m0 11v2m0 7v1m1-29v2m0 6v2m0 5v1m0 7v1m0 4v1m1-16v2m0 404v1m0 15v1m0 25v2m1-455v2m0 6v2m0 3v2m0 399v1m0 74v1m1-506v1m0 2v2m0 18v1m0 2v3m0 424v1m1-456v2m0 8v2m0 9v2m0 11v4m0 402v2m1-413v2m0 5v3m0 407v2m0 12v1m1-456v5m0 2v1m0 25v1m1-11v1m0 5v2m0 438v2m1-474v1m0 2v2m0 6v2m0 8v2m0 9v4m0 438v3m0 7v1m1-484v2m0 7v1m0 2v1m0 4v1m0 2v2m0 8v1m0 406v2m1-424v2m0 3v2m0 1v2m0 5v3m0 461v2m1-492v5m0 14v2m0 443v2m0 1v2m1-473v4m0 11v2m0 3v2m0 6v3m0 427v2m1-458v2m0 368v1m0 72v2m1-432v2m0 6v2m0 3v2m1-31v1m0 9v3m0 1v2m0 7v1m0 429v1m0 13v2m0 13v2m1-478v4m0 3v5m0 3v2m0 6v2m0 462v2m1-474v2m1-18v1m0 8v2m0 10v1m0 2v2m0 409v1m1-440v2m0 13v2m0 1v2m1-16v1m0 4v1m0 447v1m0 18v2m1-474v1m0 8v2m1-13v3m0 5v3m0 440v2m1-453v2m0 1v4m0 459v2m0 4v2m1-474v2m0 6v2m1-12v2m0 7v1m0 2v1m0 424v2m0 9v2m0 13v2m1-460v2m0 3v2m0 8v2m0 436v2m1-442v2m0 425v2m1-429v2m1-10v2m0 405v2m0 46v1m1-461v2m0 448v2m1-445v1m0 12v1m0 427v2m1-443v1m0 424v2m1-432v2m0 8v1m0 5v2m0 3v2m0 433v2m1-460v2m0 8v2m0 488v2m1-500v3m0 15v1m0 4v1m0 461v2m1-489v2m0 3v3m0 4v1m0 5v3m0 2v3m1-26v2m0 8v2m0 3v2m0 3v1m0 442v2m1-465v2m0 6v4m0 3v2m0 1v3m0 2v2m0 386v1m0 59v2m1-466v1m1-6v2m2 0v1m0 18v2m0 454v2m1-476v2m0 10v3m0 6v2m0 406v1m1-435v2m1 13v2m0 480v2m1-486v2m0 6v2m1-19v1m0 15v1m0 427v2m1-450v2m0 11v2m0 3v2m1-7v2m0 2v1m0 2v1m0 422v2m0 33v1m0 12v1m1-469v2m0 449v2m1-459v1m1 430v2m0 6v2m1-445v2m0 3v3m0 479v2m1-485v1m0 437v1m0 2v2m0 32v2m1-104v1m0 101v2m1 1v2m1-42v1m0 36v2m1-484v2m0 446v2m0 8v1m1-457v1m0 8v2m0 2v1m1-16v3m0 4v3m0 458v1m0 2v1m1-464v3m1-8v2m0 428v2m0 13v2m1-447v2m0 5v1m0 476v2m1-487v3m0 3v2m0 1v2m0 463v1m1-467v1m0 416v3m0 5v2m0 53v2m1-62v2m0 5v1m1-440v2m0 3v2m0 2v1m0 3v4m0 418v2m0 47v3m1-480v2m0 4v2m0 2v1m0 465v1m0 7v1m1-488v1m0 12v1m1-14v1m0 5v3m1-4v1m0 396v2m1-406v3m0 429v1m0 48v1m0 3v2m1-487v2m0 9v2m0 430v2m0 24v2m1-473v5m0 2v3m0 3v2m1-6v1m0 438v2m0 42v2m1-484v2m0 391v1m0 36v4m0 4v2m1-435v3m0 412v2m1-430v2m0 5v1m0 440v2m1-448v1m0 4v1m0 416v1m1-425v2m0 3v2m0 4v2m0 459v2m0 11v2m1-482v2m1-9v2m0 2v1m0 4v3m0 3v2m0 428v2m1-442v2m0 3v3m1-9v1m0 2v3m0 5v2m1-13v1m0 435v2m0 13v2m1-455v2m0 6v7m0 430v1m0 7v2m0 30v2m1-485v1m0 4v4m0 476v2m1-487v1m0 7v1m0 427v2m0 31v1m0 5v2m1-479v3m0 7v1m0 421v1m1-433v2m0 6v2m0 425v2m0 44v1m1-477v2m0 3v3m1-13v2m0 3v2m0 3v1m0 339v2m1-345v3m1 449v2m1-11v1m1-448v4m0 444v2m1-442v2m0 414v1m0 23v2m1 34v2m1-85v2m0 66v2m0 13v2m1-479v1m0 357v2m0 52v2m1-422v1m0 2v2m0 3v1m0 414v2m0 24v2m0 28v1m1-474v2m0 1v2m1-5v2m0 443v2m1 1v2m2-448v1m0 437v3m0 15v2m1-460v2m0 418v2m1 8v4m1-2v2m0 8v1m1-24v1m1 22v1m1 2v2m0 4v2m1-91v1m0 7v2m0 89v2m1-103v2m0 23v1m0 41v2m0 13v1m0 17v1m1-67v2m1 39v2m0 21v2m1-9v4m0 13v1m1-68v2m1 29v2m1 43v2m2-54v2m0 15v1m1-16v2m1-5v1m1 13v2m0 16v2m1-11v1m0 21v2m1-20v2m0 24v2m1-65v2m0 48v2m1-29v1m1-8v2m0 45v2m2-47v2m0 37v2m2-36v1m0 25v1m1 12v1m2-32v2m0 29v1m1-34v2m2-25v2m0 18v2m1 9v2m0 26v2m1-30v2m0 13v2m0 13v1m1-58v1m0 7v3m1 13v2m1-69v2m0 55v2m1-8v2m1 0v1m1-19v1m3-3v2m0 63v2m1-38v2m0 6v2m0 20v1m1-84v1m0 25v1m0 13v2m0 42v2m2-90v2m0 93v1m1-8v2m1-18v2m2-25v2m2-74v2m0 64v1m0 5v2m0 44v1m1-50v2m1-2v2m0 34v1m0 5v2m2-113v2m0 44v2m1 3v2m0 61v2m1-10v2m1-106v2m0 99v2m0 8v1m1-47v2m0 2v1m0 31v2m1 14v2m1-49v2m1 5v1m1-24v1m0 35v1m1-16v2m1 3v2m0 30v2m1-50v1m0 44v2m1-91v1m1 77v1m1-1v1m1 0v2m1-29v1m0 44v2m1-47v1m0 10v2m1 3v2m1-83v1m0 28v2m0 70v1m2-34v2m0 40v2m1-55v1m0 46v3m1-67v2m0 62v1m1-9v1m1-115v1m2 96v2m0 5v2m1-10v1m0 22v1m1-49v2m0 44v2m1-72v2m0 48v2m0 18v2m1 9v2m1-42v1m1-16v2m0 21v1m0 7v2m1-59v2m0 24v2m0 1v2m1 28v1m1-14v1m1-24v1m0 28v3m2-62v2m1 70v2m0 3v2m1-127v1m0 122v2m2-88v2m0 60v2m1 24v2m1-77v2m0 57v1m2-106v2m1 121v1m1-37v1m1-1v3m0 15v1m1-104v2m2 99v2m2-43v2m0 6v2m1-11v1m0 22v1m2-16v1m0 44v2m2-34v2m0 47v1m2-44v4m0 21v1m2-19v2m1-31v1m0 25v1m1-171v2m0 173v1m1-174v3m0 137v2m0 53v2m1-26v2m0 17v2m2 16v2m1-194v3m1-4v1m0 179v2m1-59v2m0 2v1m1 13v2m1-10v2m0 18v1m0 23v2m0 3v2m0 3v3m1-204v2m0 15v1m0 167v1m3 15v1m1-52v2m1 5v2m0 30v2m1 8v2m1-204v2m0 177v2m1-179v1m0 2v2m2-4v2m0 170v1m1 25v1m2-63v1m1-138v1m0 150v2m0 16v2m0 16v2m1-31v2m0 4v2m0 18v2m1-186v3m0 173v1m1 4v1m1-19v1m1-18v2m0 12v1m0 8v2m0 31v1m1-205v2m0 142v1m2-140v2m0 168v1m0 2v1m1-21v2m0 24v2m0 8v2m2-191v2m1 194v1m1-197v2m0 143v2m2-152v2m0 145v1m0 14v1m0 38v1m2-200v1m0 145v2m0 60v2m1-207v2m1-4v2m1-3v3m0 143v2m0 41v1m1-180v1m1 0v2m0 156v2m0 11v2m1-179v1m2-6v1m0 2v2m0 137v1m0 17v1m0 3v4m1-168v1m0 155v2m1-13v1m0 54v2m0 6v2m1-207v2m1-4v2m1-6v3m0 169v2m0 3v2m2-478v2m0 298v3m0 157v2m0 11v2m0 13v1m1-187v1m0 23v2m0 122v2m0 36v1m1-32v1m0 30v1m0 13v2m1-56v2m1-151v1m0 2v1m0 4v1m1-9v1m0 8v2m0 2v1m0 8v2m0 119v2m1-142v1m0 17v1m0 155v2m0 3v2m0 3v2m1-176v1m0 8v2m2 143v2m1-169v1m0 160v2m1 35v2m1-200v3m0 205v2m1-210v1m0 186v2m1-486v2m0 299v2m0 191v1m1-197v2m0 199v1m2-60v2m0 22v2m0 7v3m1-178v2m0 173v1m1-177v1m0 3v2m0 178v1m0 18v2m1-199v2m1 146v2m2-156v1m0 3v2m0 13v2m0 163v1m0 15v2m1-43v2m1-44v2m0 42v2m1-162v2m0 197v2m1-196v2m1-4v2m0 145v2m0 50v2m1-202v1m0 4v3m1-11v1m1-1v1m0 145v2m1-152v2m0 2v3m0 187v2m0 14v2m1-511v3m0 300v1m0 10v2m0 195v2m1-209v2m0 3v2m0 153v2m0 6v2m1-160v2m0 143v2m0 18v1m0 26v2m1-513v1m0 303v2m0 5v3m0 5v2m0 163v1m1-176v3m0 7v2m1-342v1m0 339v2m1-320v2m1-8v1m0 488v1m0 18v2m0 13v1m1-514v1m0 300v2m0 4v2m1-10v2m1 0v2m0 179v1m1-182v2m0 174v2m1-489v1m0 313v2m1 8v2m0 150v1m1-477v1m1 308v2m0 2v1m0 83v2m0 88v2m0 11v2m1-502v1m0 321v2m0 150v2m1-470v2m0 305v1m0 126v1m0 13v2m1-455v2m0 432v1m0 74v1m1-189v2m0 2v1m1-313v2m0 305v1m1-309v1m0 297v2m0 11v2m1 185v2m0 8v2m1-199v3m0 158v2m1-174v1m0 162v1m0 31v2m1-194v1m0 155v2m0 5v1m1-146v1m0 56v1m1-66v1m0 131v1m0 13v2m1-157v2m0 12v1m0 2v1m0 136v1m1 17v1m1-492v2m0 5v1m0 308v2m0 5v1m0 61v1m0 98v2m0 3v2m1-475v2m0 301v4m0 3v2m0 112v2m1-432v3m0 2v1m0 303v2m0 153v2m1-157v2m1-5v2m1 0v1m0 2v2m0 1v2m0 2v1m0 197v2m1-204v2m0 2v1m0 7v1m0 2v2m0 156v2m1 3v3m0 20v1m1-205v2m0 133v2m1-130v1m0 145v2m1-157v2m0 3v2m0 165v1m1-171v2m1 203v2m1-90v2m0 62v2m1-178v2m1 0v1m1-6v3m0 2v1m0 183v1"/>
<path stroke="#a63400" d="M0 119v1m0 38v1m0 26v2m0 420v2m1-463v2m0 16v2m0 21v2m0 14v2m0 16v2m0 378v1m1-470v1m0 38v1m0 12v1m0 377v1m0 13v2m0 11v2m1-471v2m0 13v1m0 13v2m0 3v2m0 8v2m0 5v1m0 21v4m0 5v1m0 352v2m1-450v2m0 42v2m0 19v2m0 16v2m0 1v2m0 375v1m0 20v2m0 6v2m1-491v2m0 11v2m0 34v2m0 2v1m0 2v1m0 5v2m0 3v2m0 13v1m0 367v2m0 3v2m1-460v5m0 2v1m0 44v2m0 5v1m0 9v1m0 3v2m0 31v2m0 5v1m0 352v2m0 24v3m1-485v2m0 9v2m0 13v2m0 6v2m0 16v2m0 19v2m0 5v1m0 5v3m0 9v1m0 355v2m0 20v1m1-436v1m0 38v1m0 13v2m0 3v2m0 2v1m0 342v2m0 47v2m1-499v2m0 11v2m0 10v1m0 36v3m0 4v3m0 2v1m0 7v1m0 20v2m0 353v2m0 26v1m1-467v1m0 20v2m0 1v2m0 37v2m0 11v2m0 344v1m1-394v2m0 5v1m0 4v1m0 3v4m0 8v1m0 13v2m0 13v2m0 303v1m1-413v1m0 33v1m0 5v2m0 28v1m0 28v2m1-96v1m0 12v1m0 13v3m0 15v2m0 19v2m0 15v1m0 23v2m0 363v2m0 22v2m1-507v2m0 23v1m0 7v2m0 13v1m0 8v2m0 2v1m0 2v2m0 45v2m0 11v2m0 317v2m0 25v1m0 10v2m1-465v2m0 13v3m0 47v2m0 8v2m0 353v2m0 37v2m1-498v1m0 44v2m0 11v2m0 8v2m0 3v2m0 6v2m0 8v1m0 356v1m0 15v2m0 6v2m1-463v2m0 16v2m0 31v1m0 3v2m0 18v2m0 1v3m0 17v1m0 15v2m0 368v1m1-454v3m0 12v1m0 17v3m0 24v2m0 19v2m0 368v2m1-417v1m0 385v2m0 9v2m0 3v2m0 8v2m1-470v2m0 11v2m0 25v1m0 5v2m0 26v1m0 5v2m0 1v2m0 20v1m0 4v1m0 336v1m0 20v2m1-488v2m0 7v1m0 2v2m0 44v1m0 2v1m0 2v2m0 13v1m0 8v2m0 23v2m0 353v2m1-447v2m0 33v1m0 34v2m0 29v4m0 4v2m1-103v4m0 14v2m0 39v5m0 33v1m0 380v1m1-490v2m0 1v2m0 21v2m0 16v2m0 1v2m0 3v2m0 19v4m0 6v2m0 19v2m0 384v2m1-476v2m0 8v2m0 10v1m0 8v2m0 18v1m0 9v1m0 20v1m0 9v1m0 3v2m0 287v1m0 72v2m1-427v2m0 44v1m0 12v1m0 297v1m0 25v1m0 22v1m0 20v1m1-488v1m0 39v2m0 47v2m0 376v3m0 4v1m1-475v1m0 2v2m0 3v1m0 20v2m0 11v2m0 3v2m0 16v1m0 30v1m0 320v1m0 44v2m1-430v1m0 15v2m0 27v2m0 10v1m0 22v1m1-109v3m0 51v2m0 29v1m0 22v1m0 7v1m0 237v1m0 92v1m1-427v2m0 15v1m0 36v2m0 6v2m0 13v2m0 13v1m0 336v1m0 13v2m1-474v2m0 58v2m0 2v1m0 41v2m0 19v2m0 326v1m1-448v5m0 8v2m0 11v2m0 15v1m0 2v1m0 2v2m0 22v2m0 10v1m0 20v2m0 8v1m0 362v2m1-479v1m0 22v1m0 23v2m0 1v2m0 21v2m0 31v1m0 2v2m0 356v2m0 3v2m1-455v4m0 24v2m0 3v2m0 57v1m0 2v1m1-117v2m0 93v1m0 20v1m0 369v1m1-461v2m0 23v1m0 36v2m0 18v3m0 5v3m1-99v1m0 10v2m0 16v2m0 55v2m0 11v2m0 290v1m1-410v1m0 430v2m1-404v2m0 68v2m0 11v2m0 1v2m0 284v1m1-394v2m0 6v2m0 9v2m0 5v2m0 11v2m0 60v2m0 1v2m1-18v2m0 11v2m0 3v1m0 338v1m1-438v2m0 11v2m0 49v1m0 2v1m0 27v1m0 7v1m0 300v2m0 39v1m1-435v2m0 42v2m0 5v2m0 6v2m0 26v1m0 352v2m1-430v3m0 31v2m0 6v2m0 8v2m0 11v2m0 3v2m0 1v2m0 293v2m0 84v2m1-461v2m0 5v1m0 31v2m0 14v2m0 11v2m0 5v2m0 360v1m1-402v1m0 18v2m1-91v1m0 28v2m0 13v1m0 30v1m0 8v2m0 10v2m0 9v2m0 6v2m0 2v1m0 264v2m1-375v2m0 19v2m0 2v1m0 57v2m0 8v2m0 6v2m1-80v2m0 3v2m0 29v1m0 4v1m0 5v2m0 5v1m0 4v1m0 8v2m0 5v2m0 3v1m0 326v2m0 23v1m1-446v2m0 9v2m0 34v3m0 7v2m0 14v2m0 13v2m1-97v2m0 2v1m0 25v3m0 37v2m0 12v1m0 5v2m0 324v1m0 4v1m0 25v1m0 18v2m1-450v2m0 54v1m0 17v1m0 2v2m0 3v3m0 332v2m0 3v2m0 34v2m1-491v2m0 72v1m0 8v2m0 7v1m0 4v1m0 3v2m1-88v2m0 58v2m0 13v2m0 14v2m0 358v2m1-383v2m0 5v3m0 6v2m0 15v1m0 300v2m0 39v1m0 7v2m1-427v1m0 39v2m0 10v2m0 9v2m1-103v2m0 80v1m0 5v2m0 2v1m0 8v2m0 6v4m0 326v3m1-403v2m0 59v6m0 342v2m0 29v2m1-438v1m0 43v1m0 2v2m0 4v2m1-91v1m0 20v2m0 79v2m1-88v2m0 14v2m0 54v1m1-53v1m0 2v2m0 24v2m0 3v1m0 18v2m0 7v1m0 2v1m0 326v2m0 32v2m1-466v2m0 3v2m0 6v2m0 5v1m0 20v2m0 30v2m0 2v1m0 5v2m0 347v2m0 30v2m1-446v1m0 9v1m0 39v2m0 21v3m0 354v1m1-454v3m0 7v1m0 31v2m0 31v1m0 352v2m0 46v1m1-477v3m0 25v1m0 7v1m0 7v3m0 424v1m1-433v3m0 30v1m0 13v2m1-47v1m0 2v2m0 337v1m0 28v2m0 49v1m1-446v1m0 22v1m0 2v2m0 415v3m1-462v1m0 25v1m1-32v1m0 15v2m0 26v1m1-34v2m0 13v1m0 2v2m0 402v2m1-413v2m0 5v2m0 5v1m0 7v1m0 403v1m1-451v2m0 3v2m0 37v2m1-31v1m0 8v2m0 10v3m0 10v2m0 407v1m0 4v1m0 25v1m1-470v1m0 13v2m0 394v2m0 10v4m0 20v2m0 6v2m1-450v2m0 11v2m0 6v2m0 401v1m1-440v2m0 3v2m0 6v2m0 456v2m1-468v2m0 16v2m0 13v3m0 349v1m0 26v2m0 8v4m1-429v2m0 1v4m0 13v1m0 2v2m0 9v2m0 388v1m0 7v1m0 9v1m1-446v1m0 424v2m1-395v2m0 11v2m0 373v2m0 45v2m1-471v2m0 39v2m0 389v2m1-432v1m0 10v2m0 13v2m0 17v2m0 376v2m0 2v1m0 43v1m1-459v1m0 4v1m0 12v1m0 12v1m0 372v1m0 10v2m0 16v2m1-450v2m0 16v2m0 1v2m0 7v1m0 3v2m0 2v1m0 7v1m1-37v2m0 21v1m0 9v1m0 391v2m1-437v2m0 5v1m0 31v2m0 388v3m1-416v2m0 3v4m0 14v2m1-31v2m0 19v2m0 5v1m0 2v2m1-44v1m0 460v1m1-446v1m0 14v1m0 424v1m1-417v2m0 427v1m1-467v1m0 5v2m0 18v3m0 2v1m0 5v2m0 2v1m0 432v1m1-454v2m0 5v1m0 8v2m0 391v3m1-427v2m0 11v2m0 438v2m1-432v2m0 449v2m1-479v2m0 26v1m1-32v1m0 33v2m0 392v4m0 21v1m0 15v2m1-470v2m0 31v2m0 386v1m0 7v2m0 4v2m0 15v1m1-430v2m0 391v1m0 2v2m0 44v1m1-34v2m1-409v2m0 4v2m0 383v1m0 14v1m0 2v1m0 7v2m1 17v2m1-464v1m1 10v2m0 15v1m0 391v2m0 42v2m1-466v5m0 423v5m1-419v2m0 402v2m0 31v2m0 22v2m1-459v1m0 450v2m0 1v2m1-481v2m0 11v2m0 16v2m0 404v2m0 22v2m1-451v1m0 20v2m0 407v1m0 38v1m1-475v3m0 420v5m1-400v1m0 398v1m1-412v2m0 405v2m0 24v2m1-28v2m0 21v2m0 14v4m1-456v3m0 1v2m0 416v1m1-423v1m0 17v1m0 396v2m0 6v2m1-434v2m0 3v2m0 2v1m0 7v1m0 9v1m0 420v2m1-435v3m0 4v1m0 2v2m1-17v2m0 1v2m0 407v2m0 3v2m0 10v1m0 13v2m1-445v2m0 425v2m1-416v2m0 396v1m0 18v2m1-437v4m0 462v2m1-451v3m0 5v1m0 432v2m1-116v2m1-342v1m0 412v2m0 23v1m1-446v2m0 24v2m0 394v2m0 24v2m0 18v1m1-461v2m0 1v2m0 463v1m1-472v2m0 8v1m0 2v2m0 1v2m1-15v3m0 4v3m0 409v2m1 0v1m0 8v2m0 16v2m1-445v2m0 10v1m0 407v2m0 13v2m1-439v2m0 406v1m1-407v2m0 13v1m1-18v2m0 5v2m0 5v1m0 386v2m0 11v2m0 37v2m0 8v2m1-469v3m0 11v4m0 399v1m0 21v2m1-440v2m0 6v2m0 3v4m0 402v2m0 45v2m1-465v2m0 7v1m0 5v2m1-17v2m0 10v3m0 406v1m1-417v2m0 407v2m0 5v3m0 37v2m1-464v1m0 14v1m2 393v1m0 33v2m0 11v2m1-36v1m1-425v2m0 348v2m0 90v1m1-431v1m0 412v2m0 13v2m1-447v2m0 427v1m0 4v1m0 39v2m1-466v2m0 387v2m1-402v1m0 465v1m1-466v2m0 13v2m0 340v2m0 89v2m1-448v2m0 384v2m0 31v1m1-420v2m0 1v5m0 5v3m1-6v1m0 453v2m1-469v1m0 447v1m1-446v2m0 457v2m0 6v2m1-36v2m1-435v3m0 3v4m0 400v2m0 49v2m1-463v2m0 391v1m0 20v1m0 12v1m1-423v1m0 431v1m1-14v1m1 12v1m0 10v2m0 19v2m1 1v2m1-477v1m0 8v2m0 456v2m1-469v1m0 2v2m0 3v1m0 427v2m0 6v2m1-49v2m0 50v2m0 8v2m1-460v2m0 6v2m0 393v1m0 43v1m1-449v3m0 464v2m1-461v1m0 5v2m1-18v2m0 3v2m0 413v2m1 18v2m0 35v2m1-3v1m1-475v1m0 15v2m0 431v2m0 23v1m1-469v2m0 3v2m2-10v2m0 1v5m0 2v1m1-16v2m0 444v2m0 28v1m1-45v1m1-433v2m0 14v4m1-12v2m0 3v2m1 410v2m0 3v2m1-424v2m0 1v2m0 2v1m0 411v2m0 42v3m1-471v2m0 11v2m0 411v1m1-423v1m0 8v4m0 402v2m1-411v3m0 458v2m1-469v1m0 8v2m1 0v2m0 394v1m1-408v1m0 7v1m0 426v1m0 3v2m0 24v2m1-471v2m0 3v3m0 448v2m1-448v2m0 3v3m0 437v1m1-451v3m0 5v2m0 3v2m0 396v1m0 2v2m0 37v2m1-460v2m0 389v2m0 34v2m1 13v1m1-443v4m1-4v2m1 412v2m0 34v2m1-444v2m0 419v1m0 13v2m0 26v2m1-456v1m0 443v2m1-458v2m0 5v1m0 362v2m1-377v2m0 5v1m0 347v2m0 96v2m0 14v4m1-465v2m0 391v2m0 13v1m1-402v2m1 378v1m1-397v1m0 2v2m1 469v1m1-475v1m0 7v1m0 4v1m0 380v2m0 73v1m1-34v2m0 24v2m0 8v2m1-95v2m0 47v2m1-427v3m1 3v2m0 3v2m0 399v2m0 5v1m0 41v3m1-37v1m1-430v2m0 432v1m1-430v2m0 5v1m1 419v2m1-435v1m0 4v1m0 411v1m0 46v2m1-460v3m0 2v2m0 407v2m0 27v2m1-458v2m0 16v3m1 442v1m0 2v2m0 5v1m1-474v2m0 454v2m1-458v2m0 6v2m0 463v1m1-469v2m0 8v1m0 408v1m1 10v2m0 10v1m2-6v1m0 5v2m2-440v2m0 436v2m1-448v1m0 445v2m1-430v1m0 448v2m1-469v1m0 4v1m0 450v2m1-450v2m0 1v2m0 445v1m1-453v2m0 409v1m1-417v2m1 20v1m0 411v1m1-430v2m0 425v2m0 11v2m0 13v1m3-439v1m1-24v1m0 22v1m1-8v2m1-5v1m1 2v2m0 410v2m0 42v2m1-464v1m0 8v2m0 5v2m0 431v2m1-460v2m0 13v2m0 10v1m1-29v3m0 7v1m0 15v2m1 395v2m1-427v2m0 28v3m0 425v2m0 13v1m1-459v1m0 7v2m2-12v2m0 1v2m0 425v2m0 19v2m0 2v1m0 13v2m1-471v2m0 6v2m0 441v2m2-32v1m1-422v2m0 3v2m0 409v1m2-412v2m0 392v2m0 21v2m0 8v2m0 29v1m2-472v2m0 5v1m0 12v1m0 404v2m0 16v2m0 6v2m1-16v1m1-435v2m0 2v1m0 411v1m0 9v1m0 39v2m1-461v1m0 409v2m1-420v1m0 419v2m0 5v1m1-414v2m0 2v1m0 421v1m1-440v4m2 0v1m0 3v4m0 11v2m0 443v1m2-462v1m0 2v2m0 405v2m0 24v2m1-427v2m0 5v1m0 334v2m1-357v2m0 3v2m0 1v2m0 350v2m0 72v1m0 15v1m1-448v2m0 458v1m1-462v1m0 403v1m0 14v1m0 7v1m1-417v2m0 428v2m0 19v2m1-464v3m0 372v1m0 54v2m1-435v1m0 8v2m0 7v1m0 2v1m1-14v1m0 4v1m1-8v2m0 13v1m0 406v2m0 22v2m1-445v2m0 370v1m0 75v2m1-468v2m0 445v1m1-423v2m0 4v2m0 414v1m0 5v2m1-430v2m0 1v2m0 394v2m0 35v2m1-456v2m1-9v2m0 446v2m4-446v1m0 427v2m1-65v1m1-342v2m0 1v2m0 389v2m2 33v1m1-428v3m1-5v2m2 409v1m1-18v2m1 37v2m1-11v1m1 7v1m1-29v2m0 1v2m3-6v1m1 5v2m1-458v2m0 465v2m0 16v2m1-81v1m1 78v2m1 11v2m1-64v2m0 2v1m1-439v1m0 2v1m1 0v2m0 339v2m0 125v2m0 4v2m0 11v2m1-489v2m0 404v2m0 26v1m1-11v2m0 63v2m1-88v1m0 12v1m1-21v2m0 5v1m1-405v1m0 486v1m2-482v2m0 469v2m1-4v2m0 3v2m1-477v1m1-8v2m0 5v1m0 435v2m1 28v1m1-19v1m0 31v2m1-486v2m0 433v2m3-437v2m1 440v2m0 9v2m1-46v2m1 41v1m1-453v2m0 438v2m0 5v1m2-452v1m0 10v2m1 459v2m0 14v2m2-486v4m0 446v2m1-447v2m1-3v1m0 469v2m1-469v2m0 421v2m0 59v1m1-487v2m0 476v1m1-477v2m0 382v2m1-394v1m0 338v1m0 114v2m1-451v3m1 425v2m1-7v2m1-427v2m0 1v2m0 423v2m0 49v2m1-484v1m0 9v1m0 445v2m2-35v2m0 59v3m1-482v1m1-8v2m0 438v2m1-434v4m0 1v3m1-14v1m1 5v2m0 428v2m0 18v2m1-452v2m1-2v2m2-2v7m1-8v1m0 403v1m0 18v2m0 16v2m0 13v1m0 26v2m1-490v1m0 2v2m1 5v1m1-11v1m0 5v2m0 352v1m0 57v2m1-2v2m0 13v2m0 55v2m1-484v2m0 1v2m0 404v1m1-415v2m0 425v5m0 53v2m1-480v1m0 451v2m1-456v2m0 428v2m1-437v2m0 412v1m1-413v1m0 437v2m1-14v2m0 15v1m1-452v1m0 490v2m1-86v1m0 25v1m1-425v2m0 432v1m0 26v2m0 24v2m1-485v1m0 474v2m1-482v1m0 7v1m0 474v2m1-15v2m1-5v2m1-460v2m0 401v1m0 12v1m0 9v1m0 10v3m1-438v2m0 438v2m1-460v2m0 479v1m2-479v2m1-3v1m0 17v1m0 465v1m1-490v2m0 17v2m0 438v2m0 19v2m1-479v2m0 10v1m0 5v2m0 423v2m1-64v2m0 50v2m0 26v2m0 11v2m1-464v1m2-14v1m0 18v2m0 5v1m0 450v1m1-456v2m0 355v2m1-365v1m0 2v2m0 379v2m1 19v2m1-402v1m0 4v1m1-1v3m0 379v2m0 23v1m0 18v4m0 14v2m1-456v1m0 426v1m0 33v1m1-462v1m0 4v1m0 440v2m0 24v2m1-464v1m0 430v2m0 6v2m1-8v2m1-7v2m1-440v5m0 423v2m2-446v1m0 18v2m1-20v2m0 425v2m1-417v1m0 8v2m0 427v1m0 17v1m1-466v2m0 13v3m0 378v2m0 68v2m1-472v1m2-5v2m0 8v2m0 5v1m1-14v1m0 20v1m0 452v1m1 21v2m1-60v1m0 33v2m0 17v2m2-476v2m0 380v1m0 87v1m1-477v2m0 465v2m1-467v1m0 448v2m0 21v2m1-54v1m1-79v1m0 131v1m1-31v2m1-450v2m0 3v2m1 422v1m1-439v1m0 3v2m0 8v2m0 423v2m1-433v3m1 446v2m0 10v1m1-18v2m1-438v1m1-9v1m0 8v2m0 427v2m0 39v1m1-484v2m0 7v1m0 447v1m1-451v2m0 6v2m0 440v1m0 26v2m1-477v1m0 367v1m0 61v1m1-436v1m0 5v3m0 370v3m0 92v1m1-479v2m0 3v2m1-7v2m1 11v2m0 386v2m0 26v1m1-438v2m0 6v2m0 2v1m1-14v1m0 10v2m0 1v2m0 463v1m1-461v2m0 415v2m0 49v1m1-479v4m0 384v2m0 11v2m0 6v2m1-417v3m0 23v2m0 410v2m1-427v2m0 1v2m0 1v2m0 2v1m1-21v2m0 14v2m1-23v2m1-5v3m0 8v2m0 10v3m0 380v1m0 72v3m1-477v2m0 6v2m0 8v1m0 5v2m0 420v2m1-455v2m0 3v2m0 3v2m0 21v3m0 464v2m1-502v2m0 11v2m0 8v2m0 3v2m0 343v2m1-366v1m0 12v1m1-18v4m0 4v2m0 7v1m1-13v2m0 8v2m0 425v1m0 4v1m1-451v2m0 6v2m0 3v2m0 466v1m1-484v2m0 2v1m0 453v2m0 39v1m1-493v2m0 9v2m0 2v1m0 10v3m1-11v1m0 2v2m0 418v2m0 2v1m0 4v1m1-459v1m0 2v2m0 8v3m0 10v1m0 5v2m0 450v1m1-471v2m1-15v2m0 21v2m0 5v1m0 416v1m0 25v1m1-457v1m0 12v1m1-13v2m1-18v2m1-4v2m0 432v1m0 8v2m0 3v2m1-432v2m0 10v1m1 422v2m0 47v2m1-67v2m0 22v2m1-458v4m0 11v2m0 430v1m2-444v1m0 8v2m0 450v1m1-456v2m0 1v2m0 417v2m0 48v4m0 6v2m1-494v4m0 6v2m0 483v2m2-490v1m0 408v1m0 33v2m0 8v1m0 20v1m1-478v1m0 437v1m2-436v1m0 4v1m0 417v2m0 3v2m0 8v2m0 14v2m0 13v2m0 16v1m0 5v2m1-500v2m0 17v2m2-18v2m0 487v1m1-488v1m0 18v2m0 415v2m0 34v2m1-476v2m0 19v2m0 420v2m0 42v2m1-72v2m0 24v2m0 10v1m1-464v2m1 8v1m0 5v2m0 425v2m2-427v2m0 1v2m0 1v2m0 412v2m0 54v1m1-492v4m0 3v1m0 2v2m0 6v2m0 404v1m0 23v2m1-451v1m0 8v2m0 3v2m0 362v1m1-363v2m0 413v2m0 15v1m1-449v1m0 15v2m0 1v2m0 423v2m0 23v1m1-472v5m1 21v2m0 430v1m0 13v2m1-471v2m0 474v2m0 17v2m1-495v3m1 419v1m1-412v2m0 6v2m1 430v2m0 6v2m1-448v2m0 3v5m0 469v1m1-478v1m0 324v2m0 98v1m0 30v1m0 20v1m0 4v1m1-490v2m0 1v2m1 0v2m0 1v2m0 432v1m0 15v1m0 7v2m1-468v2m0 5v3m0 432v1m0 2v1m1-443v2m0 445v3m1-443v1m1-6v2m0 3v1m0 2v2m0 446v2m1-452v2m0 386v2m0 71v2m1-463v2m0 437v1m0 39v2m1-482v3m0 425v2m0 3v2m0 23v1m1-469v2m0 474v1m1-112v2m0 61v2m0 15v1m1-21v2m0 60v2m1-489v2m0 6v3m0 2v2m0 456v1m1-467v2m0 8v3m0 463v1m1-479v2m0 2v1m1 3v4m0 412v1m0 10v2m1-440v2m0 1v2m0 446v2m0 16v2m1-471v2m0 9v4m0 417v1m1-423v1m0 2v2m0 423v2m1-432v2m2-2v2m1-3v1m1 414v2m0 16v2m0 48v2m1-481v2m0 383v2m0 1v2m0 62v1m0 7v1m0 2v2m1-476v2m0 6v5m0 412v2m0 23v1m1-449v1m0 7v1m0 463v2m1-478v2m0 411v1m0 51v1m1-461v2m0 5v3m0 472v2m1-472v1m0 453v2m1-468v2m0 477v2m0 5v1m1-490v2m0 3v2m0 4v4m0 422v1m0 10v2m1-447v2m0 423v2m1-430v2m0 1v2m1 441v2m1-441v1m1-6v1m0 8v2m0 429v1m0 7v1m0 2v2m0 34v1m1-490v2m0 1v2m0 3v2m2 399v2m0 31v1m0 38v1m1-480v1m0 8v2m0 407v2m0 10v3m0 44v3m1-482v3m0 4v1m0 399v2m0 33v1m2-436v1m0 425v2m0 50v2m1-480v1m0 2v1m1-9v1m0 4v1m0 482v2m1-492v2m0 5v1m0 451v2m1-461v2m0 466v1m0 15v1m1-482v2m1 2v1m0 438v2m0 7v1m0 12v1m1-462v1m0 430v2m0 8v2m1 8v1m1-31v2m1 20v1m0 21v2m1-88v2m0 83v1m2-11v2m1 19v2m1-51v2m1 37v2m2-26v2m0 13v1m3-45v1m1 15v2m2 21v1m1-13v2m0 10v1m1-34v2m0 18v1m0 7v2m1 17v2m1-26v2m1 31v1m1-29v2m1 8v3m1-13v2m2 0v1m1-52v2m1 68v2m0 13v1m1-8v2m1-83v1m2 25v1m0 54v2m2-46v2m1 6v2m1-18v3m1 4v1m0 34v2m2-46v2m0 16v2m2-24v1m1 28v2m1-23v1m1-27v1m1 44v2m3-5v2m1 13v3m1-68v1m0 46v1m0 25v1m1-39v2m1-68v1m0 77v1m0 12v1m0 31v2m1-2v2m1-121v2m0 65v2m0 23v1m1-45v1m3 30v1m1-11v2m0 35v2m0 5v1m1-81v2m0 65v1m1-115v1m0 44v2m0 31v2m2-7v2m0 16v2m0 3v2m0 22v2m0 8v2m1-41v2m2-54v2m0 71v2m1-26v1m1 30v1m1-65v2m0 62v1m3-40v3m1 39v3m1-55v1m0 2v2m0 44v1m2-42v2m1 1v2m1 32v2m0 5v2m0 8v1m1-58v1m1-52v2m0 68v2m1 11v2m1-2v2m0 5v1m0 17v1m1-45v1m1 0v2m0 23v1m3-71v1m0 62v2m0 10v1m1-63v1m0 62v2m1-68v1m0 54v2m1-69v2m0 36v1m2-75v2m3 86v2m1 21v2m1 1v4m2-106v1m0 57v2m0 54v1m3-29v2m0 9v2m2-91v1m1 71v1m1-1v1m2 10v2m1-36v1m1 41v2m1 13v1m1-22v1m0 2v1m1-24v2m1-44v1m0 26v2m1 2v1m2 17v1m0 20v1m2-1v1m1-19v1m1-177v1m1-3v2m1 96v2m1 86v2m1-185v2m1 148v2m1 11v2m0 39v2m1-54v2m1-154v2m1-3v1m0 144v1m0 38v2m0 6v2m0 8v1m0 2v2m2-191v2m0 84v2m0 90v1m2-45v1m0 36v2m1-191v2m1 0v1m1 173v2m0 32v2m1-212v2m0 125v2m0 24v2m1-152v2m0 158v2m1 39v1m3-200v2m0 145v1m1-35v1m2-119v2m0 91v2m0 63v2m0 13v2m1-170v2m1-4v2m0 166v2m2-16v1m0 18v2m1-173v2m0 200v2m1-109v1m0 67v2m3-170v5m0 139v1m0 36v2m2-178v2m1-4v2m0 137v2m0 24v2m0 22v2m0 2v1m1-197v2m0 140v2m0 11v2m0 13v1m0 12v1m0 7v1m1-19v2m2 4v2m0 2v1m0 8v2m1-194v2m0 207v1m1-210v2m0 169v2m1-171v1m0 145v2m0 16v2m1-166v1m0 2v2m0 86v2m0 112v2m2-207v1m0 178v2m0 6v2m1 6v2m2-196v2m1-3v1m0 5v2m0 29v2m0 68v2m0 62v2m0 32v2m1-197v1m0 135v2m1-143v1m1-8v2m1 142v1m0 31v2m0 26v1m0 4v1m1-211v1m0 2v1m1-1v1m0 162v1m1 41v2m1-57v3m1-155v3m2-3v2m0 137v1m0 13v2m0 47v2m1-202v1m0 162v1m0 2v2m1-168v1m1 5v2m0 2v1m0 145v2m1-147v2m0 5v1m0 4v1m1-27v1m0 7v1m0 10v2m0 158v3m1-182v1m0 2v1m0 183v2m0 13v1m1-200v1m1 196v2m1-199v1m0 160v2m0 6v2m1-174v1m0 145v2m1 58v2m2-42v1m1-84v1m0 88v2m1-171v3m2-8v2m0 3v3m0 176v2m0 6v2m1-36v2m0 21v1m1-177v1m1 12v2m0 149v2m1-150v2m0 156v2m1-176v1m0 9v1m0 192v2m1-202v2m1 120v2m0 55v2m1-187v1m0 5v2m0 96v1m0 54v2m1-72v2m0 44v1m1-138v3m0 131v1m0 77v1m1-70v2m0 60v2m1-201v2m1 3v2m1-316v2m0 466v1m1-166v2m0 105v2m0 90v1m1-200v2m0 11v2m0 198v2m1-81v1m0 44v2m1-56v2m0 68v2m0 2v1m2-510v2m0 308v2m0 148v1m0 33v2m1-497v1m0 320v1m0 77v2m1-393v2m0 299v2m0 11v2m0 60v2m1-65v1m0 202v2m1-525v2m0 308v2m0 11v2m0 119v1m0 16v4m0 8v2m0 22v2m1-500v1m1 316v4m0 182v2m2-44v1m0 22v1m0 10v2m0 19v2m1-515v2m0 505v1m1-189v2m0 2v1m0 163v2m1-171v1m0 4v1m0 155v2m0 32v2m1-197v1m0 2v2m1-15v2m0 4v2m0 204v1m1-203v1m0 193v1m1-513v2m0 306v2m0 4v2m0 3v4m0 150v3m1-463v2m1-2v2m1 299v2m2 140v2m0 19v2m0 5v2m0 24v2m0 4v2m1-205v1m0 4v1m0 155v2m0 24v2m0 14v2m1-204v2m1-3v1m0 9v1m0 10v2m0 53v2m1-394v1m0 2v2m0 317v2m0 129v1m0 59v2m0 1v2m1-199v2m0 194v1m0 3v2m1-515v2m1 471v1m0 30v1m1-503v2m0 451v1m0 27v1m1-169v1m0 79v1m0 56v1m0 2v3m0 34v2m1-183v2m0 129v1m1-132v2m0 153v2m1-148v1m0 7v3m0 150v3m1-164v1m2-3v2m3-7v2m0 138v2m0 10v1m0 21v2m0 24v2m1-63v1m0 41v2m0 6v2m1-196v2m0 3v2m0 174v2m0 14v2m1-60v1m0 5v2m0 13v2"/>
<path stroke="#b81c00" d="M0 156v2m0 22v2m0 7v1m0 5v2m0 8v1m0 320v1m0 53v1m1-471v2m0 39v2m0 5v1m0 12v1m0 2v2m0 4v2m0 378v2m1-346v2m0 373v2m1-457v2m0 8v2m0 10v1m0 8v4m0 6v2m0 348v2m1-383v2m0 16v2m0 397v2m0 6v2m0 7v1m1-412v2m0 5v1m0 409v2m0 19v2m1-497v2m0 63v2m0 5v1m0 15v2m0 348v2m0 11v2m1-445v2m0 31v1m0 2v2m0 13v1m0 15v2m0 3v1m0 18v2m0 5v2m0 345v2m0 40v2m1-500v1m0 49v2m0 2v1m0 10v2m0 3v1m0 4v1m0 5v2m0 1v2m0 28v1m1-70v2m0 3v2m0 433v2m1-455v2m0 11v2m0 5v2m0 16v1m0 382v1m1-409v2m0 11v2m0 3v2m0 397v2m1-456v2m0 30v4m0 6v2m0 13v2m0 44v1m0 324v2m0 10v3m0 37v2m0 15v1m1-501v1m0 46v2m0 16v1m0 26v2m0 359v1m1-448v2m0 14v2m0 11v2m0 21v2m0 2v1m0 20v1m0 30v3m0 365v1m1-431v1m0 4v1m0 10v2m0 40v2m0 2v1m1-99v2m0 24v2m0 3v2m0 8v1m0 17v1m0 8v2m0 28v1m0 375v2m1-450v2m0 24v2m0 368v1m0 31v2m0 13v2m1-484v2m0 3v1m0 30v1m0 5v2m0 31v1m0 9v1m0 28v2m1-95v2m0 19v4m0 3v1m0 23v2m0 8v2m0 11v2m0 340v2m1-443v3m0 2v1m0 15v1m0 13v2m0 3v2m0 49v1m1-57v2m0 31v2m0 8v1m0 13v2m0 355v2m1-448v2m0 52v1m0 388v2m0 19v2m1-450v2m0 21v2m0 5v3m0 394v2m1-445v2m0 16v1m0 7v2m0 11v2m0 52v1m0 2v2m0 345v2m0 22v2m1-406v2m0 13v2m0 370v1m0 28v1m1-461v2m0 7v1m0 2v1m0 9v1m0 8v2m1-23v3m0 14v1m0 2v1m0 7v2m0 428v2m1-479v1m0 26v2m0 13v2m0 400v2m1-438v1m0 23v4m0 8v1m0 2v2m0 45v3m0 344v2m0 8v2m1-466v1m0 28v2m0 4v2m0 16v2m0 64v1m0 346v1m1-445v2m0 33v1m0 39v2m0 23v1m0 289v1m0 64v2m0 16v1m1-490v2m0 32v2m0 8v2m0 1v2m0 41v1m0 20v2m0 307v2m1-311v2m0 353v2m0 18v1m1-477v2m0 27v2m0 60v2m0 345v3m0 12v1m1-423v2m0 71v2m0 361v2m0 8v2m1-448v3m0 2v1m0 26v2m0 39v2m0 326v1m0 10v2m0 26v1m1-464v2m0 21v3m0 5v2m0 60v2m0 340v2m0 6v2m1-450v2m0 8v2m0 14v2m0 63v2m0 7v1m0 212v2m0 122v1m0 39v2m1-401v2m0 2v1m0 13v4m0 345v2m1-383v1m0 31v2m0 327v2m1-406v2m0 2v3m0 404v2m1-408v2m0 6v2m0 60v2m1-38v2m0 26v2m0 11v2m0 309v2m1-422v2m0 42v2m0 21v1m1-34v2m0 37v2m0 355v2m0 55v2m1-491v4m0 65v1m0 396v2m0 5v1m1-482v2m0 106v1m0 9v1m0 287v2m0 40v2m0 8v3m0 34v2m1-480v1m0 10v3m0 10v2m0 5v1m0 5v2m0 53v2m0 2v1m0 383v2m0 1v2m1-495v1m0 41v2m1-12v2m0 42v2m0 23v1m0 15v2m0 311v1m0 38v2m0 14v2m1-23v2m0 24v2m1-473v2m0 26v2m0 22v2m0 8v2m0 6v2m0 18v2m0 361v2m1-458v2m0 16v2m0 44v3m1-3v1m0 20v1m0 9v1m0 2v1m0 351v1m1-456v2m1 63v2m0 3v2m0 5v1m0 17v1m0 2v2m0 325v2m0 36v1m1-475v1m0 79v1m0 5v2m0 1v2m0 23v1m0 323v2m1-440v1m1 22v1m0 59v1m0 383v2m1-355v1m0 338v1m0 18v2m1-458v2m0 84v2m0 350v2m1-448v2m0 89v2m0 348v2m1-355v2m1-98v1m0 20v2m0 14v2m0 50v2m0 10v1m0 365v2m1-468v2m0 90v1m0 375v2m0 21v1m1-448v2m0 37v2m0 376v2m0 18v2m1-435v1m0 28v2m1-82v3m0 445v2m0 10v1m0 5v2m1-465v2m0 3v2m0 430v2m0 53v2m1-454v1m1-10v2m0 430v2m2-466v1m0 38v2m0 6v2m0 407v2m1-439v2m0 433v2m1-425v1m0 20v2m0 351v2m0 24v2m0 15v3m0 8v2m0 21v2m1-481v2m0 26v1m0 15v2m1-5v1m0 5v2m0 2v1m1-19v1m1-13v2m0 29v2m0 388v1m0 2v1m0 5v2m0 2v1m0 7v1m0 8v4m1-438v1m0 419v1m0 4v1m0 15v3m1-475v1m0 18v2m0 6v2m0 5v1m0 386v2m1-409v2m0 438v2m1-439v2m0 21v4m0 1v2m0 388v3m0 42v2m1-90v2m0 31v1m1-418v1m0 26v2m0 438v2m1-476v2m0 34v2m0 433v2m1-458v1m0 28v2m1 1v2m0 388v1m0 20v2m1 4v2m0 2v1m1-44v2m1 23v1m0 17v1m1-456v2m0 21v2m0 417v1m0 18v2m1-435v2m0 408v2m1-430v2m1 13v1m0 409v2m1-67v2m0 35v2m0 23v2m0 16v1m0 5v2m1-37v1m0 20v1m1-451v2m0 1v2m0 466v1m1-45v2m0 14v2m2-445v2m1 16v2m0 433v2m1-437v2m1 5v1m1 416v1m0 26v2m1 1v2m2-2v2m1-23v2m2-435v2m0 3v2m0 394v1m1 17v1m0 5v2m1-440v2m0 438v1m1-27v1m1-5v2m0 18v2m0 5v1m1-21v2m0 34v1m1-71v1m0 10v2m1-404v1m0 12v1m0 404v4m0 14v2m0 34v2m2-34v1m0 31v2m1-466v2m0 438v1m1-435v2m0 8v2m0 318v1m0 135v2m1-463v2m0 371v2m0 52v2m0 5v1m1 7v1m1-451v2m0 414v1m0 52v2m1-463v2m0 420v2m0 31v1m1-81v2m1 50v2m0 19v2m1-459v1m0 411v1m2-409v2m0 453v2m1-450v2m0 404v1m2 44v2m1-446v1m0 378v2m0 63v2m1-463v3m0 431v1m1-423v1m0 412v2m0 20v1m0 18v2m1-463v2m0 414v1m0 26v2m1-435v2m0 425v1m0 7v1m1-26v2m0 36v1m1-461v2m0 427v2m0 3v1m1-428v2m1-12v2m0 422v1m0 7v2m0 30v2m1-19v1m1 20v1m1-459v2m0 412v1m0 12v1m0 18v2m1-21v1m1-436v1m0 413v1m1-11v1m1-395v1m2-1v1m1 422v2m0 5v1m0 8v2m1-62v2m0 62v1m1-32v1m0 22v1m1-24v1m0 10v2m1-38v2m0 31v2m1-18v1m0 49v2m1-461v1m0 419v2m1-429v2m0 445v1m1-21v2m0 5v1m1-440v2m0 6v2m0 433v2m2-37v1m1-404v2m1 449v2m1-13v2m2-437v2m0 420v2m1-430v1m0 403v1m0 7v1m0 25v1m1-443v2m0 380v1m1 28v1m0 18v2m1-420v1m1 427v2m1-26v1m1-417v2m0 326v1m0 121v2m0 21v1m2-14v1m0 4v1m2-449v1m2 399v2m0 10v1m0 9v1m1-45v1m0 25v1m0 41v2m0 9v2m1-62v2m0 6v2m0 15v1m1 28v1m1-462v1m1-6v2m0 431v2m1-419v2m0 373v2m0 34v1m0 12v1m0 10v2m0 1v4m1-458v2m0 418v2m1-419v2m0 415v2m1-31v2m0 40v2m0 36v1m1-469v2m1 453v1m1-456v2m0 432v1m1-435v3m0 383v2m0 26v2m2-408v2m1-18v2m0 8v1m0 460v1m1-470v1m1 401v2m0 21v2m1 0v1m0 26v2m1-438v1m0 399v2m1-406v4m0 312v2m1-321v2m0 423v2m1-427v2m0 441v2m1-440v2m4-10v1m0 4v1m0 455v1m1-70v2m0 62v2m1-461v1m1 391v2m1-394v1m0 2v1m0 380v2m0 39v1m0 18v2m1-13v2m0 26v1m1 5v2m3-38v2m1-430v1m1-14v1m0 9v1m0 7v1m0 419v2m0 11v2m1-56v2m0 37v2m1-440v2m1 373v1m0 61v1m3-420v2m1-13v1m1-5v2m0 10v3m0 411v1m0 17v1m1-18v2m1-414v2m0 373v1m1-394v2m0 16v2m0 412v2m0 16v1m0 28v2m1-476v2m1 3v2m0 4v2m1 455v1m1-471v2m0 2v1m0 5v2m0 5v1m1-21v2m0 19v2m0 411v1m0 41v3m1-55v1m0 13v2m1-424v2m1-13v2m0 19v4m0 397v2m1-426v2m0 15v1m0 386v2m0 57v2m1-455v2m0 15v1m0 403v1m0 29v2m0 10v1m1-57v2m1-412v2m0 13v1m2-24v1m0 10v2m0 6v2m0 3v2m0 326v1m1-325v1m0 391v2m0 16v2m1-432v2m0 11v2m0 3v2m2 451v1m1-464v2m0 410v2m1 21v2m1-430v1m1 456v2m2-476v2m0 10v1m0 404v2m1-409v2m0 3v2m0 384v2m1-403v2m1 5v1m1-3v2m0 435v1m1-433v2m0 6v2m0 2v1m2-10v2m0 5v2m1-20v2m0 6v2m0 1v2m0 401v1m1-402v2m1-9v2m0 435v2m1-447v2m1 5v1m1 9v1m0 8v2m1-3v1m0 370v2m1-390v4m1 0v1m1-11v2m0 459v2m1-457v2m1 15v1m0 445v2m1-465v2m1 422v2m1-416v2m0 412v2m0 14v2m0 23v1m1-475v1m1 25v1m1-6v2m0 363v1m0 23v2m0 1v2m2-396v2m0 10v1m0 308v2m0 120v2m0 2v1m1-466v2m1 458v1m0 4v1m1-58v1m0 59v1m1-52v2m0 47v2m1-2v2m1-12v2m1 8v3m1-63v2m0 32v2m1 31v1m1-84v1m0 28v2m3-9v2m0 44v2m1 8v1m1-99v2m0 50v2m0 10v1m0 13v2m1-13v2m1-9v2m0 31v2m1-31v1m1-8v2m1 1v2m0 28v1m3-483v1m0 433v2m0 7v1m4 2v2m0 1v2m0 16v2m1-28v2m1 35v2m1-29v1m1-39v2m2 31v2m3-448v1m0 3v2m2 485v2m1-2v2m1-487v2m1 448v1m1-456v2m0 392v2m0 70v2m0 27v2m1-31v2m0 9v2m2-472v1m1 2v2m0 467v2m2-479v1m0 5v2m1 464v2m1 1v2m1-469v2m0 480v2m1-28v2m0 19v2m1-85v2m0 50v2m1-455v2m1 419v1m1 36v2m1-54v2m0 66v2m1-469v2m0 381v1m2 74v1m1-459v2m0 430v1m0 13v2m2-451v1m2-9v1m0 8v2m0 464v2m1-466v2m2 415v2m1 35v2m2-459v1m2 458v2m1-12v2m3-16v1m0 23v2m0 19v2m1-484v2m0 404v1m0 18v2m0 29v2m0 16v2m1-468v2m1 458v1m0 3v2m1-6v1m0 12v1m1-45v1m1 23v2m0 14v2m1-52v1m0 14v1m0 3v2m0 34v2m2-482v1m0 437v2m1-442v2m0 8v1m0 388v2m0 16v2m1 37v2m3-96v1m0 103v2m1-22v2m0 23v1m1-29v2m0 11v2m2-31v1m0 35v1m1-11v2m1-7v2m0 39v1m2-480v1m0 367v2m0 16v2m0 87v2m1-490v1m0 481v2m2-67v1m1-19v2m0 53v2m1-459v1m0 375v1m1-363v2m0 8v2m0 420v2m0 4v2m1-441v1m0 412v2m1-414v2m1 0v1m0 442v2m0 21v1m2-44v2m0 15v1m1 4v1m1-440v2m0 437v1m1-440v2m0 396v3m0 20v1m1-36v2m1-393v4m0 467v2m1-64v2m0 11v2m0 2v1m1 17v1m1-57v2m1-409v2m1-4v2m0 5v1m1 9v1m0 430v2m0 5v1m1-448v2m1-8v2m0 1v2m0 6v2m0 433v2m1-34v1m0 21v2m1-36v2m1 52v2m0 1v2m1-456v1m0 447v1m0 7v2m2 22v2m1-68v1m1 70v2m1-111v2m0 97v2m1-21v2m0 21v1m0 8v2m2-24v3m0 3v2m1-474v1m0 483v1m3-474v2m1 438v3m1 21v2m0 8v2m2-474v1m0 463v3m1-461v2m0 419v1m1 0v2m3-432v2m0 373v1m1 100v1m2-34v2m1-20v2m1-422v2m0 438v2m1-56v2m1 68v2m1-21v1m0 7v1m1-470v1m0 28v2m0 402v2m0 22v2m0 18v2m1-474v1m0 406v1m0 80v2m2-121v2m0 93v1m1-6v2m0 16v1m0 10v2m1-464v1m0 412v2m0 18v2m1-470v2m0 10v1m0 18v2m0 440v1m1-456v2m0 417v2m0 39v1m0 4v1m1-480v1m1-8v2m0 13v1m2-11v2m0 13v3m0 13v2m1 423v2m0 10v1m1-462v1m1-5v2m0 2v3m0 449v4m0 13v1m1-470v1m0 10v2m0 420v1m0 51v2m1-496v2m0 503v2m1-503v1m0 491v1m1-37v1m1-456v2m0 445v1m0 15v2m2-463v2m0 4v2m0 430v2m0 34v2m1-9v2m1-476v2m0 15v1m1 416v1m1-422v2m1 428v2m0 2v1m0 20v2m0 4v2m1-52v2m0 57v1m0 21v2m1-8v1m1-483v1m1-11v2m0 449v2m0 10v1m0 26v2m1-473v2m1-18v2m1 1v2m0 412v2m0 14v2m0 15v1m1-449v1m0 468v2m0 9v2m1-487v2m0 8v1m0 476v2m1-97v2m0 70v2m0 11v2m1-473v2m0 440v2m1 30v2m0 8v2m1-482v1m1-1v1m0 7v1m0 455v2m0 17v2m1-109v2m0 31v1m1-402v1m0 429v2m0 47v1m1-42v2m1-460v2m1 402v2m1-393v2m0 5v1m0 377v1m0 75v2m0 23v1m1-496v1m0 10v2m0 441v2m1-447v2m0 3v2m0 394v2m0 42v2m0 18v1m1 5v2m1-487v3m2 436v2m0 26v2m2-447v4m0 470v2m1-476v2m1-13v2m0 8v3m0 349v1m0 87v1m1-86v2m0 63v2m0 45v2m0 2v1m1-27v1m1-451v2m0 438v1m2-443v2m1 2v1m0 427v2m1-430v1m0 5v2m1 456v1m1-474v2m1 13v2m0 415v2m1-425v1m0 443v2m1-453v2m0 418v2m1 5v1m0 2v2m1-432v2m0 426v2m0 10v2m0 37v2m1-476v3m0 3v2m0 433v2m0 7v1m1-454v1m0 442v1m1-443v5m0 419v1m0 5v2m1-428v1m1 2v1m1-8v4m0 435v1m2-441v1m0 4v1m0 447v1m1-458v2m0 5v2m0 431v2m2-433v1m2-8v2m0 3v2m0 451v1m0 4v1m0 13v2m1-481v5m0 440v2m1-435v1m0 383v2m0 47v2m0 1v2m0 26v2m1-473v2m0 345v2m1-345v1m0 424v1m1-428v2m0 439v2m0 31v2m1-474v1m0 450v1m2-3v2m0 21v2m1-49v1m1-35v1m0 85v1m1-482v4m0 425v1m1-430v2m0 433v2m1-432v2m0 427v1m1-16v2m1 24v2m0 18v1m3-31v2m1-3v1m1-3v2m0 50v2m2-486v2m0 376v2m0 88v1m1-30v1m0 36v2m0 4v2m4-44v2m0 32v2m3-31v2m0 13v1m0 12v1m2 7v1m2-123v1m0 98v2m5-56v2m0 50v2m1 11v2m1-18v2m1-16v1m0 5v2m1-33v2m0 14v2m0 15v1m1-39v2m0 23v1m2 4v1m1-11v1m1-13v2m0 8v2m0 45v2m1-7v2m0 8v2m1-38v2m1-41v2m0 44v2m0 29v3m4-36v2m0 23v1m1-29v2m3-7v2m3-28v2m0 21v2m1 19v2m1-18v1m1 2v2m0 21v1m1-27v1m0 31v2m1-37v1m1-1v1m0 41v1m1-45v2m1-20v2m0 32v2m2-23v2m0 18v1m0 29v2m1-5v2m1 1v2m1-34v2m0 26v1m0 7v1m1-81v2m0 16v1m0 7v2m0 1v2m4 37v2m1-23v2m1-72v2m0 58v2m0 7v1m1-29v1m0 54v2m2-39v1m1 0v2m0 2v1m1 39v2m1-127v2m0 83v1m1-19v1m1 7v2m0 40v2m1-41v2m2-2v2m1-5v3m0 10v2m0 24v2m1-56v2m1 16v2m1 11v2m1-10v2m0 9v2m1-80v2m1 39v2m0 6v2m0 1v2m0 5v2m0 39v1m2-36v2m2-24v1m0 33v1m1 9v1m0 21v2m1-91v1m1 67v2m1 19v2m2-129v2m0 80v1m0 7v2m1 13v1m0 5v2m2-56v2m0 29v2m1-28v2m1 0v1m0 61v1m2-73v2m0 68v2m1-46v2m0 5v1m0 18v2m1-144v2m0 142v1m1-22v1m1 25v1m0 5v2m4-3v1m1-34v2m0 11v2m1-21v1m0 28v1m1-123v1m0 95v1m1 7v2m1 27v2m1-59v2m1 6v2m0 20v1m1-16v2m1 3v1m1-21v2m0 1v2m0 42v2m0 7v1m1-86v2m0 24v2m0 4v2m0 21v2m0 26v2m1-39v1m1-63v1m0 75v2m0 27v2m1-104v1m3 74v1m2 31v2m1-55v1m0 13v2m0 10v1m1-37v1m0 25v2m0 9v2m1-41v2m0 24v2m1-173v2m0 116v1m3 57v2m1-36v2m2 50v2m1-44v1m0 52v2m1-189v2m0 156v2m0 6v2m1-186v2m0 140v2m0 3v1m2 53v1m1-54v2m1-148v1m0 175v1m0 10v2m0 5v1m3-27v1m0 39v2m1-50v1m0 7v1m1 26v2m1-196v2m0 186v1m1 0v2m1-192v1m0 167v1m1 38v1m2-210v2m0 199v1m1-199v2m0 189v2m1-34v1m1-163v2m0 142v1m1-142v4m0 151v2m3 34v2m1-194v1m0 152v2m0 27v2m1 16v2m2-202v1m0 181v2m0 5v1m1-48v1m0 28v2m1-175v2m0 3v2m1-4v2m0 153v2m0 13v2m1-15v2m0 40v2m1-101v1m1 66v1m0 17v1m1-47v2m2 8v1m0 7v2m0 39v1m2-54v2m0 2v1m1 15v2m1-168v1m0 172v1m1-11v1m1-163v2m1 124v2m1 45v2m1-179v3m3 3v2m0 168v3m1-479v1m0 303v2m1 20v1m0 179v2m1-18v2m1-191v2m0 179v2m0 24v2m2-209v2m0 163v1m0 43v1m1-519v1m0 313v2m0 1v2m0 2v1m0 2v2m1-17v2m0 1v2m0 8v2m1-15v2m1-3v1m0 202v2m1-204v2m0 182v2m0 6v2m1-192v1m1 88v2m1-93v3m0 175v1m1-179v3m0 180v3m1-184v1m1-4v3m3 164v2m1-168v2m0 166v2m1-23v1m0 20v2m1-170v2m0 125v2m1-129v2m0 150v1m1-153v2m0 173v1m0 23v2m1-119v1m1-80v2m0 132v2m1 66v2m1-207v2m0 171v2m0 4v2m0 26v2m1-209v2m0 114v2m0 48v2m0 24v2m3-191v4m0 164v4m0 3v1m1-171v2m0 155v1m1-462v1m0 303v2m0 99v2m0 83v2m1-194v1m0 162v1m1-24v2m1-145v1m1-309v1m0 315v1m0 165v2m1-488v2m0 455v1m0 31v2m0 14v2m1 11v2m1-202v2m0 176v1m2-182v1m0 172v1m1-16v2m0 47v1m1-50v2m0 34v1m1-190v1m0 197v2m1-34v2m1-25v2m2-62v1m1-91v3m0 175v1m2-179v2m1-311v1m0 5v2m0 309v2m0 195v2m0 3v2m1-207v2m0 1v2m0 152v1m1-15v2m0 28v1m1-11v2m1-28v2m1-141v2m1 116v1m0 79v1m1-37v1m0 17v3m2-500v1m0 460v1m0 40v1m0 2v1m0 17v1m1-75v2m1 13v2m2-147v2m0 148v2m3-152v2m0 141v2m1-147v2m0 5v2m1 176v1m0 5v2m1-44v1m1-3v2m0 58v2m1-204v2m0 134v1m2-140v2m0 192v2m1-49v1m0 26v2m0 10v1m1-187v2"/>
<path stroke="#cb0300" d="M0 206v2m1-47v2m0 13v1m1-26v2m1 0v1m0 424v2m0 19v2m0 8v1m1-456v2m0 31v2m0 368v1m0 10v2m1-403v2m0 5v2m0 24v2m0 387v2m1-443v1m0 4v1m0 15v3m0 18v2m0 3v2m0 358v2m0 8v2m0 48v2m1-495v1m0 18v2m0 39v2m0 14v2m0 384v2m1-441v1m0 424v1m1-345v2m1-70v1m1-34v2m0 11v2m0 16v2m0 50v2m0 373v1m1-420v2m0 14v2m0 365v2m1-380v3m0 2v2m0 420v1m0 13v2m1-459v3m0 409v2m0 26v1m1-456v2m0 29v2m0 325v2m0 91v2m1-425v1m0 12v1m0 31v4m0 376v2m0 16v1m0 5v2m1-438v1m0 385v2m0 26v3m0 16v2m1-451v1m0 3v2m0 37v2m0 349v1m1-409v2m0 3v2m0 15v1m0 21v4m0 363v2m0 53v2m1-474v2m0 37v2m0 9v2m0 36v2m1-18v1m1-89v1m0 12v1m0 8v2m0 404v2m1-437v2m0 52v2m0 39v1m0 308v2m0 27v2m1-402v1m0 375v2m1-375v2m0 24v2m0 47v2m0 263v2m0 108v1m1-402v1m0 390v3m1-363v1m0 331v2m1-355v1m0 15v2m0 368v1m1-488v1m0 36v2m0 13v1m0 35v1m0 17v1m1-63v3m0 10v1m1 7v1m0 329v2m0 44v2m0 3v2m1-399v1m0 64v1m0 386v2m1-500v2m0 446v2m0 37v2m1-400v2m0 16v2m0 8v2m0 350v2m1-23v2m0 26v1m1-462v1m0 15v1m0 18v2m0 391v2m1-445v2m0 24v2m0 48v2m0 393v1m1-369v1m0 352v3m0 2v2m1-440v1m0 2v2m0 407v1m0 46v2m0 8v1m1-467v2m0 70v1m0 367v1m1-355v2m0 347v2m0 30v2m1-441v1m0 411v1m1-438v2m0 8v2m0 65v1m0 2v2m0 3v2m0 317v2m1-412v1m0 23v2m0 24v2m0 401v1m1-376v2m0 9v2m0 5v1m0 344v2m0 6v2m1-24v1m0 33v1m1-467v1m0 31v2m0 59v1m0 364v1m1-389v1m0 15v2m0 11v2m1-41v2m0 11v2m0 27v2m1 336v1m0 7v1m1-443v2m0 18v2m0 408v2m1-430v2m0 88v1m0 328v1m0 8v2m1-407v1m0 57v2m0 342v2m1-18v1m0 18v2m1-424v2m0 44v2m0 374v2m1 0v2m3 29v2m0 8v1m1-443v2m0 386v2m0 34v1m0 4v1m1-14v1m0 17v1m2-376v2m1-67v1m0 67v2m0 340v2m0 26v2m2-25v2m0 14v2m2-73v1m0 33v2m1 22v2m0 21v2m1-453v2m0 422v1m0 23v2m1-54v1m0 9v1m0 15v2m0 1v2m0 26v1m1-488v1m0 455v2m1-23v1m0 17v1m0 28v2m1-468v2m0 453v1m1 21v2m3-54v2m1 45v2m0 3v2m1-104v1m1-379v1m1 41v2m3 389v2m0 3v2m1 0v1m1-18v2m0 26v2m0 22v2m1-466v2m0 466v1m1-469v2m0 428v4m0 16v1m1-452v1m1 425v2m0 11v2m0 7v1m1-42v1m0 12v2m1 8v1m0 25v1m0 2v2m1-41v2m0 6v2m1-46v2m1 45v2m1-13v2m1-396v1m0 368v2m1 36v2m0 27v2m2-56v2m0 20v1m0 28v2m4-12v2m1 18v1m1-34v2m0 31v1m1-32v1m0 13v2m1-42v1m2-5v2m0 15v1m0 43v1m1-50v2m1 34v1m1-31v2m0 16v2m1-26v2m2 11v2m1-61v2m0 57v2m1 1v2m0 24v2m1-85v2m0 36v1m0 7v1m1-70v2m0 64v1m2 15v1m1-19v2m2 19v2m0 6v2m0 8v2m0 6v2m1 0v1m1-52v2m1-3v1m1 31v2m4-21v1m0 2v2m1-40v2m1 47v2m3 2v1m1 21v2m2-54v2m0 10v1m0 2v2m0 22v2m1-31v2m1-417v1m0 404v2m0 5v1m2-44v2m0 24v2m3 5v2m1-2v2m0 5v1m3-428v1m0 417v2m1 7v1m2-6v1m0 15v2m0 13v1m1-50v1m0 5v2m0 5v1m0 17v1m0 21v2m1-31v2m1 31v1m1-31v2m2-419v2m0 432v1m1-27v1m0 20v1m1-24v2m2-36v1m0 67v2m1-57v1m0 51v2m1-30v2m0 45v2m2-454v1m0 401v2m0 53v2m3-39v2m0 29v1m3-21v2m1-448v2m0 382v2m0 33v1m0 13v2m0 24v2m2-106v2m0 81v2m0 27v2m1-158v2m1 119v1m1-14v1m3-418v1m0 427v2m0 21v1m2 13v2m1-36v2m1-7v2m1-15v2m0 49v1m1-87v1m0 54v2m1-59v2m0 42v2m1-28v1m1 35v1m0 36v2m1-129v2m0 83v1m1-8v2m1 3v2m0 1v2m1 20v1m0 16v2m3-6v1m1-60v2m0 21v3m0 10v1m0 17v1m2-102v1m0 103v2m1-17v2m2-26v2m1-31v1m6 41v2m0 22v2m1-34v1m1-418v1m1-11v2m0 462v2m1-23v2m0 21v1m1-19v2m1-444v2m0 451v2m1-458v2m0 1v2m0 404v2m0 5v1m0 18v2m3-437v2m0 454v2m1 6v2m1-464v1m0 444v1m2-451v2m4-2v2m1 358v2m1 24v2m0 34v2m1 14v2m0 10v1m2-58v1m0 25v1m3 8v2m1-438v1m0 440v2m1-8v1m1 44v2m1-18v2m1-463v2m0 435v1m0 23v2m0 1v2m0 10v1m1-474v2m1 428v2m1-10v2m1 49v1m1-475v1m0 17v1m0 422v2m0 16v2m1-456v1m0 13v2m0 340v2m1-357v2m0 10v1m1-14v1m1 424v1m2-14v1m1-415v2m0 462v2m1-456v1m0 401v2m1-411v2m0 436v2m1-425v2m1-9v2m0 386v2m1-393v2m0 3v2m0 3v2m0 412v1m1-436v1m0 421v1m0 15v2m1 29v1m1-451v2m1 394v2m2-408v2m0 2v1m0 359v1m0 98v2m1-21v1m1-451v2m0 428v2m2-430v1m0 3v2m0 443v2m2-438v1m1 354v1m0 26v2m1-388v2m1 399v2m0 49v1m1-37v1m1 9v1m1-24v1m0 25v1m1-448v2m4 23v2m2 402v2m1-398v2m3 404v1m2-81v1m0 97v1m0 5v2m2 0v1m2 2v2m2-12v2m0 10v1m2-52v2m3 58v2m1-83v2m3 37v2m1-36v1m1 53v1m1-49v2m1 49v1m2-97v1m0 103v2m2-43v2m2 24v2m0 10v1m1-50v1m4 31v2m1-85v2m0 62v2m1 0v1m1-440v2m3 432v1m2 43v1m0 2v1m1-29v2m1-78v1m0 31v2m0 62v1m3-483v1m0 492v2m3-13v1m1 8v2m3-99v1m0 36v2m1 29v2m2 5v1m1-34v2m1-432v2m0 426v2m0 18v2m1-18v1m0 44v2m1-51v2m2-6v1m1-425v2m0 448v1m0 30v1m2-487v2m0 436v2m0 21v2m1-10v2m1 19v3m1-472v2m0 343v2m1 103v1m0 23v2m1-64v2m0 45v2m2-47v1m1-47v2m1 76v2m0 10v1m1-79v1m1 52v2m0 44v2m0 6v2m2-2v2m1-57v1m0 15v2m0 34v1m1-34v2m0 6v2m0 8v2m1-12v2m1-448v2m0 399v1m2 12v1m0 54v2m1-18v3m0 20v1m2-70v2m0 63v2m1-2v2m1-45v1m1-433v1m0 421v1m0 44v2m1-482v1m0 448v2m1-18v2m0 47v2m1-486v2m0 431v2m1 15v1m1-451v2m0 16v2m0 462v2m2-466v2m1 466v1m1-55v1m0 25v2m0 3v1m1-439v1m0 453v2m1-10v2m1-33v2m1-426v2m0 440v2m1-7v2m1-57v1m0 96v2m5-57v2m0 44v1m1-27v1m2-3v2m5-15v2m0 47v1m1-50v2m0 4v2m0 21v2m0 6v2m3-85v2m3-386v1m1 461v2m3-24v1m1 36v2m3-491v2m0 435v2m2-422v1m0 443v2m0 8v2m1-108v2m0 93v1m1 13v2m0 2v1m2-13v2m2 21v2m1-52v1m0 25v1m0 5v2m1-10v2m1-59v2m2-414v2m0 433v1m1 57v2m3-10v2m1 5v1m1-498v3m1 25v1m1-16v2m0 389v2m2-406v2m0 454v2m0 26v1m1-487v2m0 417v2m1 71v2m1-487v2m0 451v1m0 31v2m0 2v1m2-497v2m2 468v1m0 26v2m1-57v1m0 40v1m2-479v2m0 365v1m0 67v2m2 55v2m1-70v1m2 38v2m1-4v2m1 10v1m1-34v2m1 8v2m2-445v1m1 0v2m1-5v2m1 404v1m0 59v3m1-45v1m0 44v2m2-62v2m0 42v2m1-447v2m0 422v1m0 33v2m1-52v1m0 44v2m1-85v2m0 91v2m2-67v1m0 5v2m1 8v2m0 37v2m1 31v1m1-492v2m1 386v2m0 18v1m0 4v1m1-5v2m1-422v2m0 21v1m0 422v2m0 13v2m0 1v2m0 5v1m5-21v2m1-448v2m0 449v2m1-13v1m1 49v2m1-62v2m0 11v2m1-7v2m0 26v1m2-456v2m0 433v4m1 14v2m3-450v2m0 332v2m0 99v2m4-432v2m0 459v2m1-41v2m0 14v2m1-21v1m1 44v2m1-471v3m0 448v2m1 24v2m1-45v1m0 29v2m4-461v2m0 427v1m0 31v2m2 0v1m0 8v2m1-487v2m0 1v2m0 417v2m0 40v2m1-114v2m0 133v2m1-47v1m1-430v2m0 431v2m1-435v2m0 412v1m0 17v1m0 33v2m1-28v2m0 34v1m1-53v1m0 4v1m0 39v2m1-44v2m1-434v2m1-3v1m0 360v2m1 68v2m1 11v2m1-453v2m2 8v1m1-4v1m1-6v1m1 465v1m1-24v1m1 25v1m1-26v2m0 15v1m1-44v2m2 20v1m1 41v1m1-47v2m0 6v2m1-81v1m0 69v1m0 33v1m2-464v2m0 415v2m0 42v2m3-41v2m2-21v1m1 25v1m0 46v1m0 4v1m1-76v1m0 31v2m1-23v2m0 11v2m0 15v3m4 24v2m1-78v1m1 30v1m1 7v1m1-1v1m1-4v1m1 38v1m1-39v2m0 34v2m1-12v2m2-13v1m0 28v2m1-15v2m1-124v2m1 117v1m3 10v2m1-42v1m0 2v1m1 7v2m0 3v1m1 2v2m1 5v1m1 2v1m1-13v2m0 8v2m1 13v1m1-1v1m2-127v2m0 67v1m0 57v2m2-50v1m0 51v1m1-78v2m1 67v1m1-55v1m0 53v1m1-44v2m1 28v1m1 12v1m0 5v2m1-47v1m0 3v2m7-44v2m0 65v1m0 12v1m2-35v1m0 2v2m3 8v1m4 5v2m0 1v2m1-6v1m2-57v2m1 13v1m0 49v2m2-55v1m1-57v2m0 65v2m1-5v1m0 22v1m1-26v5m0 8v2m0 36v1m1-67v2m0 25v1m2 36v2m1-48v2m0 5v2m1-38v2m0 66v2m1-26v2m1-41v2m1 19v2m0 16v2m2-8v3m0 39v1m2-60v2m1 32v2m1-33v2m0 20v1m0 7v1m0 7v2m1-35v2m1 15v1m0 31v2m1 5v1m1-48v1m1-101v2m0 84v2m0 15v1m2 17v1m0 2v2m1-28v2m0 9v2m3 28v1m3-18v2m4-8v1m0 17v1m1 7v1m0 5v2m4-42v1m0 31v2m1-117v1m1 98v2m1-9v2m1-73v1m0 54v2m0 1v2m1-6v1m1-19v1m2-1v1m0 18v2m1-12v2m1 50v2m0 2v1m1-19v1m1 5v2m0 6v2m1-207v2m0 140v2m1 9v4m1 0v1m0 38v1m1-37v2m0 30v2m2-98v2m0 72v1m0 13v2m1-11v1m0 33v1m2-62v2m0 31v2m0 3v2m1-66v2m1-122v1m0 185v1m1-186v2m0 139v1m1-143v1m2 142v2m0 1v2m1 26v2m2 13v1m1 0v2m1-194v2m1 153v2m1-157v2m0 177v2m2-62v2m1 39v2m0 11v2m1-170v2m0 172v2m0 21v2m2-39v1m0 41v2m1-43v2m0 41v1m2-34v2m1-173v2m0 203v2m1-70v2m0 47v1m1-192v2m0 182v2m2 21v2m1-44v1m0 7v2m1-53v2m1 28v1m0 56v1m1-207v2m0 166v2m1-173v2m1 148v2m0 47v2m1-56v2m1-145v1m0 2v2m0 151v2m1-7v2m1-155v2m0 156v2m2-157v2m0 181v2m0 17v2m0 2v1m1-210v2m3 5v1m0 175v1m3-176v2m0 137v1m2 23v2m2-168v2m0 158v1m0 10v2m0 5v1m0 5v2m2-47v1m2 34v2m1-181v2m1 1v2m0 168v2m1-170v2m0 190v2m1-104v1m0 79v1m0 12v1m1-179v2m0 161v2m1 22v2m1-497v2m0 456v2m0 45v2m1-207v1m0 144v1m0 30v1m2-22v1m0 20v1m0 25v1m2-32v2m0 19v2m0 13v1m1-62v2m1-145v2m0 140v1m0 20v2m2-170v2m0 202v1m1-48v1m1-156v1m0 167v1m0 13v2m1-183v2m0 200v2m1-89v1m1-102v1m0 93v2m0 89v2m2-20v2m2 3v2m5-43v2m2-150v2m0 168v1m1 31v3m1-68v2m0 40v2m1-173v2m1 106v2m0 78v1m1-503v2m0 498v2m1-23v3m1-5v2m2-171v1m0 167v1m2 26v2m1-8v1m1-44v2m2-36v2m1-106v2m0 179v1m2 7v2m1-514v4m0 444v2m0 70v2m1-210v1m0 176v2m0 5v1m0 10v2m0 11v2m1-43v2m2-160v2m0 199v1m1-22v1m0 12v1m1-14v1m1-194v2m0 199v1m1-49v2m0 31v2m2-491v2m0 438v2m0 11v2m0 26v2m2-15v2m1 17v2m2-178v2m0 5v3m1-316v2m2 503v2m2-197v1m1-6v1m0 71v1m0 91v2m0 28v1m3-187v2m0 187v2m1-189v1m1 140v4m0 5v1m0 3v2"/>
<path stroke="#cf0800" d="M0 149v2m0 459v2m1-445v2m0 406v1m0 5v2m1-404v1m0 28v2m0 332v2m0 9v2m0 3v2m1-394v1m0 357v2m0 26v1m0 9v1m0 5v2m0 13v1m1-381v2m0 280v2m0 80v1m1-456v2m0 71v2m0 381v2m1-409v2m0 30v2m0 367v1m1-396v2m0 10v1m1-32v1m1 0v2m0 12v3m0 27v2m0 3v2m0 365v2m0 13v1m1-405v1m0 10v2m0 26v1m0 342v2m0 26v2m1-403v2m1-24v1m0 8v2m0 412v2m0 16v2m0 3v1m1-493v2m0 30v2m0 409v2m0 16v2m1-395v2m1-23v2m0 19v2m0 3v2m0 10v1m1-81v1m0 77v2m0 382v2m1-378v2m1-90v2m0 431v2m0 18v2m0 18v1m0 13v2m1-29v1m2-11v1m0 15v2m0 5v1m1-427v2m0 404v2m1-445v2m0 29v2m0 400v2m0 21v2m1-450v2m0 8v1m0 9v1m1 5v2m0 11v2m0 376v2m1-342v1m0 342v2m1-399v2m0 404v1m0 5v2m0 1v2m0 6v2m1-44v2m0 13v1m1-363v2m1 358v2m0 16v2m0 18v1m0 7v1m1-477v2m0 1v2m0 399v2m0 27v2m1 15v1m1-435v2m0 409v1m0 36v2m0 16v2m2-70v1m0 40v1m0 29v2m1-454v1m0 362v2m1 40v2m1 2v1m0 33v1m0 10v2m1-476v2m1-30v2m0 11v2m0 442v1m0 23v2m1-465v2m0 453v1m0 15v2m1-380v2m0 350v2m0 3v2m0 1v2m1-25v2m0 54v1m1-492v2m0 440v2m1-448v1m0 451v2m1-5v2m0 36v1m1-36v2m0 34v2m2-386v1m0 347v2m0 23v1m1 2v2m1-396v1m0 354v2m0 16v2m0 4v2m0 28v1m1-386v2m0 6v2m0 370v1m1-405v1m0 352v2m0 26v2m1-377v2m0 18v2m1 343v2m1-386v1m0 2v2m0 329v1m0 80v2m1-72v2m0 34v2m1-12v2m0 32v2m1-91v1m0 48v1m0 4v1m0 4v1m0 7v1m0 33v1m1-19v2m1-390v2m0 352v1m1-353v1m0 375v2m0 26v1m1-29v2m1-383v2m0 384v2m0 11v2m1-390v2m1 360v2m0 19v2m0 5v1m1-397v1m0 347v2m0 3v2m0 16v2m0 8v2m0 3v2m0 4v2m0 11v2m2-54v2m0 3v4m0 39v1m1-42v2m0 3v1m0 28v2m0 9v2m1 2v1m2-48v1m0 31v2m0 9v2m1-39v2m0 32v2m1-458v2m0 422v1m0 25v1m1-42v2m0 9v2m1-16v1m1-3v2m1 5v1m0 21v2m1 8v3m0 18v2m1-450v2m0 383v1m0 2v2m0 10v3m0 19v2m1-60v1m0 26v2m0 28v1m1-426v1m0 406v1m1 4v1m0 10v2m1-25v2m0 16v2m0 1v2m1-8v2m0 3v1m2-6v2m0 17v2m1-73v1m0 59v2m0 24v2m1-445v2m0 397v2m0 44v3m2-34v1m1-32v1m0 14v1m0 28v3m2-65v2m0 17v2m0 2v1m1-11v2m0 61v2m1-21v2m1-432v2m0 397v2m0 31v1m3-27v1m1-18v2m0 1v2m1-10v2m1 8v2m0 31v1m0 15v2m1-53v2m0 13v2m1-64v2m0 44v1m0 38v2m1-33v2m1-4v2m1 15v1m0 2v2m0 34v1m1-52v2m0 2v1m0 13v2m1-7v2m1-2v4m0 8v1m0 21v2m2-60v1m0 2v2m0 8v2m0 29v1m1-6v2m2 3v1m1-14v1m1 28v2m1-38v2m0 11v4m1-38v2m1 3v2m0 27v2m1-28v2m0 2v1m0 41v1m1-61v1m1 25v1m0 2v2m1 3v1m1 9v1m1-21v2m0 1v2m0 29v2m1-93v2m0 63v2m1-31v1m0 14v1m0 3v2m1-42v1m2-65v2m0 84v2m0 3v2m0 2v1m0 18v2m1-51v2m3 72v1m2-52v2m0 40v2m1-73v1m0 26v2m2 5v3m0 41v2m0 9v2m2-36v2m1-432v2m0 397v2m0 52v3m2-40v1m0 12v3m1-30v2m0 16v2m1 3v2m0 26v2m1-22v2m2-15v2m0 28v1m1-13v4m0 8v1m1-24v2m0 32v2m1-476v2m0 418v2m0 49v1m0 2v2m1-72v2m0 27v2m0 21v2m0 19v2m1-26v2m1 14v3m1-27v1m1-24v2m1-54v1m1 59v3m2-18v2m0 7v1m1 8v2m1 10v1m0 2v2m1-12v2m1-16v1m2 2v2m1 0v1m0 8v2m1 26v2m1-31v1m0 7v1m2-29v2m1 6v2m0 3v2m1-12v2m0 26v2m0 8v1m1-99v2m0 8v1m0 25v2m0 11v2m0 8v1m1-13v2m1 13v2m0 16v2m0 34v1m1-53v1m0 10v2m1 14v2m2 18v1m2-32v2m0 35v2m1-471v2m1 379v2m0 36v2m1-31v1m0 44v2m1-82v2m0 54v1m0 18v2m1 3v2m2-98v2m1 37v2m0 13v1m0 17v1m0 23v2m1-425v1m0 399v2m1 18v2m1 21v1m1-44v2m0 55v2m1-59v2m3-21v1m3-395v1m0 422v2m1-15v2m0 34v2m1-15v2m1 13v1m1-94v1m1 44v2m0 28v1m1 4v1m1-16v2m0 13v1m0 34v2m1-59v2m2 54v1m1-18v2m1-42v1m0 56v1m2-464v2m0 417v1m0 2v2m0 19v2m1-12v2m0 15v1m1-11v2m1-30v2m0 8v2m4-66v2m0 103v1m1-1v1m2-45v1m0 38v1m3-470v1m0 368v2m0 99v2m1-52v2m0 6v2m0 36v1m1-75v2m1-47v1m1 79v1m1 46v1m1-40v1m0 4v1m0 25v1m1-50v1m0 4v1m1 36v2m1 5v1m1-11v1m2-60v2m1-12v2m1 70v2m0 1v2m0 6v2m1-454v1m0 381v2m1-388v2m1 456v2m1-458v2m0 350v1m0 100v1m1-42v2m0 1v2m2-16v1m0 5v2m0 18v1m1-11v2m0 35v2m1-459v1m0 453v2m1-450v2m0 362v1m1-383v2m0 412v2m2 3v2m1-399v1m1-3v2m0 441v2m0 4v2m1-471v2m1 438v3m1-435v2m0 409v2m2 44v1m0 3v2m1-454v1m0 316v2m1 93v1m0 12v1m1-1v1m1-430v2m0 2v1m0 440v2m1-458v2m0 19v2m0 448v1m2-1v1m1-467v1m0 10v2m0 443v2m1-10v1m1-76v2m2 14v2m1-401v2m0 467v2m1-116v2m0 18v1m0 85v2m4 11v2m1-456v1m0 421v1m1-409v2m0 425v2m0 3v2m1-57v1m2 15v2m0 3v1m0 18v2m1-23v2m0 29v2m1-33v2m0 45v2m1-16v1m3-58v1m0 17v1m0 17v1m1-67v2m1 57v2m1 35v2m1-10v2m2-18v2m0 13v1m1 4v1m1-60v2m1-9v2m2 28v1m2 13v2m0 5v2m0 1v2m0 8v2m1-25v2m0 16v3m0 13v2m2-52v2m2-48v2m0 8v2m0 19v2m0 26v2m1-59v2m1 89v2m3-70v1m0 36v2m2-461v1m2 430v2m0 7v1m0 23v2m1 19v2m1 3v2m1-61v2m0 13v2m2 0v1m1 15v2m2-38v2m0 41v1m1 13v2m1-44v2m0 47v1m1-62v2m2 44v2m3-15v2m2-13v1m3-31v2m0 15v1m0 12v1m1-47v2m0 3v2m0 53v2m1-42v1m1 51v1m0 10v2m1-122v1m3 62v2m0 45v2m0 11v2m1-81v1m0 13v2m0 57v1m2-3v3m0 2v2m1-51v2m0 29v2m1-54v2m0 27v2m0 28v1m1-123v1m0 51v1m0 21v2m1-433v1m0 435v2m0 7v1m1-435v2m0 464v2m0 8v1m2-55v2m3 14v2m0 16v2m2-24v1m1 10v2m0 9v2m3 5v1m0 2v2m1-28v2m1-83v1m2 111v2m2-53v2m0 55v2m1-474v2m0 435v1m1 30v1m3-32v1m2 13v2m2-29v1m1-13v2m0 41v1m1 12v1m1-62v4m0 19v2m1-438v1m0 430v2m1-25v2m2 28v1m1 39v2m2-15v2m1 5v2m1-51v2m1-12v2m0 26v2m1 16v2m2-31v3m1-432v2m0 414v1m0 54v2m2-114v1m0 69v1m0 39v2m1-21v1m0 20v2m1-7v3m1 7v1m1-52v2m0 20v1m0 25v1m1-80v2m1 7v1m0 33v1m1 9v1m0 23v2m1-64v3m0 61v1m1-55v1m2 18v2m1-16v1m2-21v2m0 14v2m4-19v1m0 12v1m0 47v2m0 5v2m1-36v1m0 2v3m2 2v2m1-44v1m0 5v2m1 37v2m0 27v2m2-5v2m3-82v2m0 77v1m1-32v1m1-438v2m0 441v2m1-91v1m0 104v2m1-62v2m0 10v1m0 26v2m0 2v1m0 10v2m1-23v1m0 44v2m2-33v2m1-443v2m0 395v2m1-430v2m1 498v2m1-7v2m1-42v1m2-73v1m0 56v1m2 14v1m2-16v1m1 27v1m1-54v2m2 41v1m1 38v1m1-498v2m0 420v2m1 42v2m0 24v2m1-82v2m0 10v1m1-402v1m0 448v2m1-59v2m0 47v2m2-21v1m0 2v2m3 21v1m0 20v2m1 0v1m1-37v1m0 38v1m1-94v2m0 26v1m1 62v2m1-150v2m0 83v1m0 13v2m0 5v2m0 3v1m0 44v2m2-60v1m0 38v1m1-32v2m0 37v2m1-25v2m0 11v2m0 6v2m1-36v2m1 27v2m1-484v2m0 445v1m0 8v2m0 7v1m1-45v1m0 44v2m1-7v2m2-15v2m1-95v2m1-334v2m1-8v1m0 420v2m0 12v1m1-72v2m0 65v2m0 2v1m0 34v2m1-44v2m1 9v2m0 7v1m0 16v2m1 11v2m1-11v1m1 10v2m2-34v1m1-3v2m2-22v2m0 20v1m0 3v2m4 10v1m0 15v2m1-28v2m1-30v2m1 7v1m0 7v1m0 28v2m1-12v2m0 11v2m1-60v1m0 31v2m3-13v1m0 5v2m0 15v1m1-16v2m1-2v2m1 22v2m1-472v1m0 2v1m1 388v2m2 21v2m0 60v1m1-4v1m1-45v1m1 10v2m1-17v2m0 31v2m0 4v2m3-52v2m0 24v2m0 35v2m1-55v1m0 30v1m1-6v1m1-32v1m1-421v1m1 411v1m0 52v2m0 7v1m0 3v2m1-479v2m1-5v2m2 423v2m0 40v2m0 16v2m1-28v2m1-49v2m0 50v2m0 1v2m2 3v2m1-46v2m1 49v1m1-9v1m1-62v2m1 28v1m2-8v2m0 42v2m2 1v2m1-5v2m1-13v1m1-19v2m1-2v2m0 16v1m1-29v2m1-7v2m0 6v2m0 11v2m0 5v2m1-114v1m0 100v1m0 29v2m1-13v2m1-28v2m0 37v2m1-113v2m0 70v2m0 3v2m0 26v1m1-8v2m0 5v1m1-45v1m0 17v1m2-19v1m1 12v1m0 17v1m0 2v1m3-29v2m0 10v1m3-29v1m0 56v1m2-3v2m2-51v2m0 28v1m0 7v1m3-39v2m0 3v2m0 10v1m1-11v2m1-53v2m0 41v1m0 48v1m1-81v1m0 74v1m1-44v2m0 36v1m1 15v2m1-4v2m1-145v2m1 93v1m0 21v2m1-28v2m0 8v2m2-8v1m2-13v2m0 21v2m1 5v1m2-32v1m1 5v2m0 18v1m2 5v2m0 3v2m1-106v1m0 92v1m1-29v2m0 32v2m0 19v2m1-60v1m0 18v2m0 34v2m1-28v2m0 3v2m4-31v1m0 5v2m0 13v1m0 9v1m1-41v2m0 65v2m0 3v2m1-83v1m1 30v1m0 15v2m0 16v1m1-48v1m1 21v2m0 2v1m1-40v1m0 31v2m0 1v2m0 33v1m2 8v2m1-41v2m0 34v2m1-36v2m1-7v2m2-25v2m0 6v2m0 52v2m1-51v2m1-12v2m0 12v1m0 13v3m1-1v1m1-48v1m0 59v1m2-34v2m1 50v2m1-46v2m1-8v2m0 16v1m1-19v2m3-105v2m0 114v2m1-54v1m1 35v1m0 34v2m1-19v3m0 29v2m1-15v2m2-34v1m2-83v2m0 86v2m1 0v1m3-29v2m0 13v1m0 23v2m0 22v2m1-3v1m1-37v2m1-26v1m0 17v1m1-39v2m0 58v2m1-26v2m0 39v1m0 3v2m1-24v1m1-27v1m2 8v2m1-49v2m0 14v2m2 18v3m1-42v2m0 35v4m3-10v1m0 25v2m1-92v2m0 98v1m3-24v3m0 21v2m2-13v2m1-61v2m0 57v2m0 6v2m1-30v2m0 3v2m1-33v2m0 37v2m1-57v2m0 29v2m0 11v2m0 40v7m1-46v2m0 23v1m1-18v2m0 41v1m1-123v1m0 80v2m1-8v1m1-15v2m1 18v2m1 26v1m1-11v2m2-12v2m1 26v1m1-57v2m0 42v2m1 2v1m1-39v2m0 10v1m2 7v1m0 2v2m0 24v2m1-31v1m1 4v1m1-44v2m0 23v1m0 41v2m3-57v1m1-1v1m1-3v2m0 50v2m1-56v2m0 18v2m0 9v2m1-75v2m0 60v2m1 3v2m1-30v2m1 8v5m0 50v2m3-50v1m0 10v2m2 9v2m1-20v2m0 18v2m0 4v2m0 7v1m1-37v1m1 25v1m1-27v1m1-24v2m0 50v2m0 5v1m1 5v2m1-124v2m0 45v2m0 67v1m3-200v1m1 152v2m1 1v2m2 28v1m1-186v2m0 157v1m0 31v2m1 0v1m1 4v1m2-202v2m0 142v1m0 15v2m0 37v2m1-28v2m3-175v2m0 194v1m2-192v2m0 39v1m0 145v2m1-195v1m0 145v2m0 1v2m0 59v1m2-210v2m0 171v2m1 26v1m0 2v1m1-205v2m1 3v2m0 203v2m1-213v1m0 205v2m1-13v2m1-101v1m0 62v2m1 6v2m1-169v1m1 148v2m0 41v1m2-192v2m1 15v1m0 85v1m0 41v2m0 49v1m0 5v3m1-508v2m0 304v4m0 151v2m0 19v2m0 16v2m1-29v1m3 38v1m2-13v2m0 6v2m1-195v1m0 163v2m1-31v1m0 15v2m0 1v2m0 11v2m2 23v1m3-48v1m3 47v2m1-42v1m0 43v1m1-78v2m1 37v2m0 13v2m0 6v2m0 5v1m1-49v2m0 3v2m1 5v1m0 7v2m1-33v2m1 58v2m1-88v2m0 35v2m3 37v2m1-59v2m0 67v1m1-78v2m0 57v2m0 22v2m1-20v2m0 2v1m1-29v2m2-67v1m0 30v1m0 62v4m2-70v1m0 72v1m1-58v1m1 62v2m1-39v2m0 13v1m1 15v1m1-65v2m0 37v2m0 21v2m1-209v2m0 138v2m1-60v1m1 97v1m0 26v2m1-42v1m0 7v1m0 33v1m1-55v2m0 36v1m1-190v1m0 72v2m0 123v2m1-54v2m1-18v2m0 26v1m0 7v1m0 17v1m0 26v2m1-210v1m0 142v2m0 62v1m1-29v2m0 24v2m1-41v2m0 11v2m0 24v2m1-70v1m0 44v2m2-57v2m2 68v2m1-12v2m0 19v2m1-205v1m0 158v4m1-12v2m0 44v1m1 2v2m1-30v2m0 23v1m1-61v1m0 7v1m0 25v1m0 28v2m1-118v2m1 77v1m0 4v1m1-54v2m3 44v2m1-7v2m1-52v1m0 31v2m1 24v2m0 28v1"/>
<path stroke="#d11600" d="M0 159v2m0 412v3m1-407v2m0 350v2m0 47v1m1-4v1m0 13v3m1-405v1m0 383v4m0 3v1m0 10v2m1-30v4m0 3v2m0 13v3m0 8v2m1-30v2m0 16v2m0 2v1m0 10v2m0 9v2m0 5v1m1-454v2m0 417v1m0 17v1m1-417v2m0 31v1m0 315v1m0 51v2m1-398v2m0 387v2m0 7v1m1-21v2m0 13v1m1-396v2m0 422v2m1-448v1m0 2v2m0 11v2m0 17v2m0 381v4m0 13v1m1-456v2m0 433v2m1-435v1m0 10v2m0 34v2m0 335v2m0 45v4m0 37v2m1-473v2m0 8v2m0 26v1m0 4v1m0 383v2m0 40v2m1-67v2m0 15v1m0 5v2m0 8v2m0 8v1m1-441v1m0 15v2m0 417v1m0 13v2m0 7v1m1-81v1m0 43v1m1-417v2m0 454v2m1-427v4m0 381v1m0 13v2m1-425v2m0 415v2m0 19v2m0 3v2m1-450v2m0 31v1m0 399v2m0 24v2m1-34v1m1-402v2m0 339v1m0 38v1m0 31v2m1-41v2m0 47v2m1-46v2m0 1v2m0 11v2m0 15v1m0 10v2m1-427v1m0 352v2m1 24v2m0 10v1m1-408v1m0 2v1m0 5v2m0 407v2m0 11v2m0 3v2m1-74v2m0 28v1m0 15v2m1-419v2m0 423v2m1-5v2m1-427v1m0 396v2m0 10v1m0 2v2m0 4v2m0 7v1m0 3v2m0 3v4m1-25v2m0 40v2m0 3v2m1-454v1m0 396v2m0 29v2m0 14v2m0 3v2m1-448v1m0 360v2m0 49v2m0 3v1m1-8v4m0 1v2m1-39v1m0 22v1m0 12v1m1-414v2m0 360v2m0 50v2m1 0v1m0 20v2m1-437v2m0 389v2m0 6v2m0 5v1m0 23v2m1-406v2m0 360v1m0 23v2m0 11v2m1-29v1m0 3v2m1-412v2m0 400v2m0 6v2m1 13v2m0 9v2m1-36v2m0 2v1m0 8v2m0 8v2m1-65v1m0 38v1m0 28v2m1-364v2m0 329v2m0 14v2m0 5v1m0 15v2m1-34v1m0 8v2m0 3v2m1 3v2m2-61v2m0 18v2m0 13v1m0 4v1m0 38v3m1-46v4m0 3v1m0 2v2m0 1v2m0 34v2m1-51v2m0 10v1m0 5v3m0 9v1m0 20v1m1-493v1m0 404v2m0 13v2m0 19v2m0 8v2m0 14v2m0 10v1m1-40v1m0 2v2m0 1v2m0 10v1m0 7v1m0 7v1m1-17v1m0 12v1m1-24v1m0 18v2m0 18v1m1-48v1m1 5v2m0 10v1m0 15v1m1-26v2m0 11v2m0 7v1m1-11v1m0 25v1m1-50v2m0 6v2m0 34v2m1-23v1m1-22v1m0 12v1m1-21v2m0 23v1m0 8v2m1-15v2m0 11v2m0 2v1m1-68v1m0 10v2m0 10v1m0 30v1m1 2v1m0 4v1m0 7v1m1-459v2m0 433v2m1-450v2m0 431v4m0 22v2m0 15v1m1-5v2m0 13v2m0 1v2m1-68v1m0 15v2m0 4v2m0 42v2m1-494v2m0 437v1m0 30v1m0 3v2m1-72v2m0 54v1m1-27v1m0 9v1m0 18v2m1-18v1m0 25v1m1-45v1m0 25v2m0 8v1m1-9v1m1-430v2m0 412v2m0 14v2m0 18v1m2-16v2m0 21v1m1-47v2m0 11v2m0 19v2m0 2v1m0 2v2m1-70v1m0 49v2m1-38v2m0 16v2m0 10v1m0 10v2m0 16v1m0 5v2m1-41v2m0 21v2m1-77v2m0 42v2m0 16v2m0 3v2m0 4v2m1-39v2m0 5v1m0 15v1m0 9v1m1-58v1m1 18v3m0 41v2m0 6v2m1-98v2m0 42v2m1-59v2m0 88v1m0 10v2m1-43v4m0 27v2m0 6v2m1-41v2m0 26v2m1 22v2m1-464v1m0 356v1m0 108v1m2-37v5m0 21v3m1-42v2m0 13v1m0 5v2m0 11v2m0 6v2m1-13v1m1-86v2m0 11v2m1 52v2m0 4v2m0 16v2m0 8v2m1-88v1m0 36v2m0 2v1m0 3v2m0 8v2m0 27v2m0 2v1m1-57v2m0 39v2m0 6v2m1-49v3m0 17v1m0 25v1m1-3v2m1-22v2m2-29v1m0 18v2m0 6v2m0 29v2m1-91v1m0 5v2m0 42v2m0 18v1m1-37v3m0 17v1m1 3v2m0 8v3m0 10v2m1-59v2m1 5v1m0 7v2m0 3v1m1-48v1m0 34v2m0 10v1m0 35v1m1-21v2m0 22v2m1-151v1m0 100v1m0 15v2m0 11v2m1-41v1m0 9v1m0 41v2m0 1v2m1-42v1m0 13v2m0 11v2m2-25v2m0 10v1m0 20v2m0 8v1m1-47v2m0 11v2m0 5v1m1-13v2m1 34v2m1-57v1m0 17v1m0 38v1m1-86v2m0 40v2m0 20v1m0 7v1m0 10v2m1-47v1m0 3v2m0 15v1m0 2v2m0 13v1m1-42v3m1 0v2m2-43v2m0 34v4m0 21v1m0 18v2m1-26v1m0 31v2m1-59v2m1 3v2m0 45v2m2-57v2m0 3v2m0 8v1m0 28v2m1-43v2m0 7v1m0 3v2m0 2v5m0 14v2m0 1v2m1-39v2m0 5v1m1 13v2m1-57v1m1 2v2m0 27v2m0 13v2m0 37v2m1-21v1m1-36v2m0 21v2m1-30v2m0 5v2m0 44v1m1-1v1m1-83v2m0 42v2m0 10v1m1-26v2m0 52v1m1-63v2m1 55v2m1 3v1m0 4v1m1-60v2m1 10v1m0 2v1m0 10v2m0 27v2m1-19v1m0 12v1m0 3v2m1-42v3m1-28v2m0 18v2m0 21v1m0 15v2m1-39v1m0 15v1m0 5v2m1-8v1m1-24v2m1-33v2m0 24v2m0 3v2m0 3v2m0 4v4m1 13v1m0 8v2m2-47v1m0 5v4m0 8v1m0 17v1m1-31v2m0 23v1m0 12v1m1-21v2m0 11v2m0 13v2m0 8v1m1-50v2m1-23v1m0 33v2m1-12v2m1-39v1m2 31v2m1 3v2m0 3v2m0 39v1m1-26v2m0 10v1m1-9v1m1-34v2m0 3v2m0 4v2m0 7v1m1-45v1m0 18v2m0 13v1m1-3v2m0 37v2m1-28v2m1-31v1m0 2v2m0 11v2m1-3v1m1 7v1m0 38v1m1-31v2m1-26v2m0 16v2m0 11v2m0 1v2m0 18v1m1-138v2m0 92v2m1-18v2m0 8v2m0 42v1m1-63v2m0 8v1m0 23v2m1-20v4m0 32v2m0 3v2m1-82v2m1 78v2m1-18v1m1-13v2m0 10v1m0 17v1m2-39v2m0 31v1m0 10v2m1-43v2m0 5v2m1-64v2m0 42v2m0 37v2m2-33v2m1-75v1m0 80v2m0 19v2m0 8v2m1-52v1m1 7v2m0 14v2m0 14v2m0 5v2m1-33v2m0 6v2m0 29v2m1-15v2m1-38v2m0 47v2m1-36v2m0 26v1m1-47v2m0 14v2m0 26v2m0 6v2m1-46v2m0 8v2m0 35v2m1-44v2m0 24v2m0 1v2m2-42v1m1 0v2m0 41v1m1-52v2m0 24v2m1-15v2m0 10v1m0 5v2m1-96v1m0 114v2m1-130v1m1 82v1m0 2v2m0 40v2m1-54v2m0 3v2m0 9v2m0 31v3m1-44v2m0 28v1m1-16v2m0 8v1m1 13v2m1-11v1m0 3v2m0 15v1m1-76v1m0 43v1m0 20v2m0 1v2m0 3v2m1-69v2m0 41v1m0 26v2m1-90v2m0 36v2m0 13v1m0 33v1m1-24v2m1-38v2m0 19v2m0 16v2m0 18v1m2-470v1m0 429v1m0 10v2m1-39v1m1 36v2m0 1v2m4-36v2m0 3v2m0 31v1m0 18v2m1-56v2m0 7v1m2 12v1m1 13v2m1-31v2m0 8v1m0 13v2m0 10v1m1-34v2m1-30v2m0 18v2m0 31v1m0 18v2m1-85v2m0 42v2m0 32v2m1-455v2m0 414v1m1-1v1m0 30v1m0 8v2m1-29v1m1-84v1m0 79v1m1-3v2m0 16v1m1-34v2m0 29v3m1-107v2m0 84v2m0 6v2m0 21v2m1-42v1m0 20v1m0 5v2m3 11v2m2-450v2m1 355v2m1 19v2m0 57v1m1-53v1m1 26v2m1-414v2m0 423v2m0 28v1m1-14v1m2-446v2m0 412v1m1-13v2m1 31v2m0 3v1m0 12v1m1-22v1m1-436v1m0 4v1m0 430v2m0 10v1m3-5v2m0 8v2m1-38v2m0 28v1m1-104v2m0 63v2m0 34v2m0 11v2m1-30v2m1-10v2m2-425v1m0 419v2m0 31v1m0 5v2m2-49v2m0 32v2m1-21v1m0 13v2m0 3v2m1-41v2m1 14v2m0 29v2m1-49v2m1-31v1m0 54v2m0 22v2m1-50v1m3 31v2m0 19v2m1-20v2m2-31v2m0 13v1m0 18v4m1-28v2m0 11v2m0 22v2m1-21v1m0 12v1m1-34v2m0 28v1m1-42v2m0 39v1m0 3v2m1-34v2m0 13v1m0 16v2m3-55v1m1-1v1m0 28v2m1-35v2m2 12v1m0 33v1m1 0v2m1-36v2m0 10v3m0 21v2m1 4v2m1-28v2m1-86v1m0 30v1m0 62v2m1-26v1m0 4v1m0 20v1m0 9v1m0 5v2m1-74v2m0 5v2m0 24v2m0 39v1m1-13v2m0 10v1m1-66v1m1 44v2m1-44v3m0 60v2m1-36v2m1-26v1m0 18v2m1-20v2m0 24v2m1 0v2m0 19v2m1-42v1m0 38v1m1-31v2m0 3v2m0 13v1m1-57v2m0 70v2m1-7v2m1-3v1m1-18v2m1-16v1m1 25v1m0 2v2m3-82v2m0 31v1m0 38v1m0 2v2m1-59v2m1 1v2m1 52v2m1 1v2m1-24v1m1-28v2m0 46v1m1-104v2m0 67v1m0 8v2m0 24v2m0 2v1m1-45v1m0 13v2m0 15v1m1-102v1m0 57v2m0 23v1m0 25v3m0 6v2m1-130v1m0 64v2m1-41v1m0 36v2m1 11v4m0 9v2m0 3v2m0 16v2m1-18v2m1-27v2m1-5v2m0 26v2m1 1v2m1-100v2m0 98v1m0 22v1m1-67v2m0 36v2m0 1v2m0 18v1m1-47v2m0 39v1m0 13v4m2-74v2m0 10v1m0 38v2m1-51v2m0 3v2m1-25v2m0 86v2m1-56v2m1 16v4m0 14v2m0 11v2m1-119v2m0 86v2m0 4v2m1-36v2m0 58v2m1-72v2m1-6v1m1 69v1m1 3v2m1-13v2m2-46v2m0 44v1m1-21v2m0 14v2m0 2v1m1-44v4m0 9v2m0 33v1m1-16v2m1-40v2m1-55v1m1 59v2m0 1v2m0 13v2m0 17v2m0 8v2m2-80v2m0 24v2m0 8v2m0 34v1m0 12v1m2-24v2m1-13v1m0 16v2m1-67v2m0 55v2m0 2v3m0 18v1m1-16v2m0 3v3m1 2v1m1-57v2m0 13v2m0 36v1m2-107v1m0 82v1m2-19v2m1 30v2m1 2v1m1-3v2m1-54v2m1-12v2m1 62v1m0 2v2m1-82v2m0 70v1m1-1v1m0 12v1m1-34v2m1-72v2m0 47v2m1 34v2m1-93v1m0 43v1m0 59v2m0 6v2m1-41v2m2 26v1m1-47v2m1 27v2m1-60v1m2 20v2m1-43v2m0 88v1m1-16v2m0 13v1m1-84v1m0 26v2m0 13v2m0 40v2m1-90v2m0 82v1m0 13v3m1-52v2m1-37v1m0 29v2m0 47v2m1-26v2m2 1v2m2-57v1m0 33v2m0 47v1m1-11v2m1-95v2m0 60v2m0 5v1m0 8v2m0 13v2m0 8v1m1-48v1m0 15v2m1 1v2m0 8v2m0 17v2m0 3v2m3-13v2m0 1v2m1-106v2m0 102v2m2-39v1m0 10v2m0 19v2m1-52v1m0 9v1m1-36v2m0 64v1m1-36v2m2-41v2m0 23v1m2 52v2m0 15v1m2-44v2m0 24v2m1-36v2m1 10v1m0 4v1m1-24v1m0 4v1m0 39v4m1-9v2m0 5v2m1-72v2m0 16v1m1 56v1m1-3v2m1-7v2m1-59v2m0 46v1m0 2v1m1-19v2m1-12v2m0 36v3m1-67v2m0 63v2m1-33v2m1-78v1m0 56v1m0 43v1m1-11v2m2-483v2m0 485v2m1 10v1m1-32v2m0 14v3m0 10v2m1-33v2m2 8v2m1-57v1m0 75v2m1-54v2m0 8v2m0 4v2m0 23v1m0 13v2m1-11v3m1-81v1m0 12v1m0 10v2m1 35v2m0 10v1m1-14v1m0 17v1m1 5v3m3-84v1m0 87v1m1-50v2m0 39v1m1-19v1m0 5v2m1-119v2m0 122v1m1-86v2m0 42v2m0 29v2m1-57v1m1 54v2m1-132v1m0 142v2m1-15v2m1-26v1m0 20v1m0 12v1m1-26v2m2-44v2m0 32v2m1-67v2m1 91v1m0 9v1m1-102v1m1 72v2m1-41v3m0 18v2m0 47v1m1-22v1m2-477v2m0 382v2m0 96v2m0 11v2m1-42v1m0 29v2m1-31v2m0 13v1m1-44v2m0 39v2m0 13v1m1-96v2m0 93v1m1-19v2m1-44v1m0 38v3m1-119v2m1 114v1m0 18v2m0 6v2m1-91v1m0 90v2m0 8v1m1-16v2m1-23v2m0 3v1m0 30v1m1-78v2m0 45v2m2-21v2m0 4v2m0 16v2m0 10v1m1 7v1m0 2v2m2-38v2m0 2v1m1-39v2m0 16v2m0 31v1m1-16v2m0 14v2m0 19v2m1-5v2m1-41v2m1-31v1m0 33v2m2-31v1m0 23v2m0 3v2m0 22v2m1-26v2m0 14v2m0 6v2m1-68v1m0 3v2m0 44v3m0 5v2m0 13v1m2-13v2m1-42v1m0 26v2m0 10v1m1-65v2m0 26v2m0 8v1m0 25v1m2-32v2m1 1v2m0 14v2m1-15v2m0 8v2m0 14v2m1-34v2m0 37v2m1-72v2m0 24v2m1 18v1m1-80v2m0 90v1m0 7v1m1-75v2m0 8v2m1-7v2m0 73v2m1-16v1m1-8v2m2-35v2m0 16v2m1-20v2m1-8v2m1 42v2m0 21v1m1-5v2m1-72v2m0 33v1m1-18v4m1 1v2m0 36v1m1-75v2m0 55v2m3-37v1m0 39v2m1 15v1m1-44v2m1 41v1m0 8v2m1-86v1m0 31v2m3-26v1m0 20v2m1 24v2m2 16v2m1-85v2m0 39v1m0 44v2m2-47v1m0 4v1m1 10v2m1-23v1m0 38v1m0 12v1m1-60v2m0 16v2m2-23v2m0 8v1m0 2v2m0 5v1m1-81v1m0 98v2m0 5v1m0 12v3m1-36v2m0 5v1m0 10v2m0 4v4m0 1v2m1 8v2m1-43v2m0 36v1m0 4v1m1-37v2m0 17v2m1-31v2m0 3v2m1-2v2m1-20v2m0 32v2m1-16v1m1-11v2m1 39v1m1-37v1m0 13v2m0 28v1m1-5v2m1-49v2m0 28v1m1-42v1m1 0v2m0 7v1m0 7v1m0 28v2m2-31v1m0 12v1m1-9v1m1-19v1m0 36v2m0 19v2m1-57v2m0 6v2m0 45v2m1-55v1m0 17v1m1-70v2m0 39v1m1 14v1m1 3v2m0 2v1m1-27v1m0 65v2m2-50v1m1 26v2m1-108v2m1 49v1m0 18v2m0 15v1m1-29v2m0 27v2m0 10v1m0 21v2m1-39v2m0 39v1m1-63v1m0 33v2m2 11v2m0 8v1m0 2v2m1-93v2m0 53v2m0 5v1m1-11v2m1-41v2m0 37v2m0 5v3m0 8v2m0 22v2m2-21v1m0 15v2m0 1v2m1-52v5m0 6v2m0 5v1m0 25v1m0 2v2m2-80v2m1 35v2m0 7v1m1-24v1m1-88v2m0 46v1m0 31v3m1-6v2m0 27v2m0 18v1m0 18v2m2-59v2m0 3v2m0 32v2m0 10v1m1-47v2m1-21v1m0 15v2m0 8v1m1-44v2m0 16v2m0 33v1m0 7v1m1-26v2m0 6v2m0 7v1m0 12v1m1-73v2m1 45v2m0 11v2m0 1v2m0 18v2m1-59v2m0 27v2m1-31v2m0 9v2m0 10v1m1-39v2m0 13v2m0 24v2m0 3v2m2-7v2m0 34v1m1-87v1m0 12v1m0 33v1m0 18v2m0 5v1m1-26v2m2 26v2m1-52v1m1-8v2m0 65v1m1-16v2m0 19v2m1-46v2m0 11v2m1-94v1m0 52v2m0 13v2m1-5v1m0 22v1m0 25v3m1-59v2m0 6v4m0 5v1m1-81v1m0 85v2m0 8v1m0 12v1m1-17v1m0 12v1m1-52v2m1 19v2m0 13v2m0 17v2m0 15v1m1-9v1m0 3v2m2-86v1m1 31v2m1-7v2m0 41v1m1-24v3m0 5v3m0 31v2m1-37v1m1-3v2m1-7v2m1 18v1m0 12v1m1-60v2m0 8v1m0 4v1m0 10v2m1-80v1m0 67v4m0 4v2m1-29v1m0 39v2m1-59v2m0 26v2m0 6v2m1-69v2m1 62v2m0 14v2m1-28v2m0 24v2m0 13v2m1-97v2m0 60v2m0 7v1m1 0v2m0 5v1m1-13v2m0 11v2m1-91v1m0 67v2m0 21v2m0 4v2m1-31v2m0 1v2m0 7v1m0 8v2m1-10v2m0 19v2m0 8v2m1-62v1m1 27v1m1 3v2m0 3v2m2-23v2m0 1v2m0 5v2m0 13v1m0 5v2m1-51v2m0 10v1m0 5v2m0 19v2m0 26v2m0 8v1m1-60v2m0 8v2m2 0v1m1-11v1m1-26v2m0 16v2m0 3v2m0 13v1m1-14v1m0 13v2m1-13v2m0 14v2m0 31v1m1-34v2m0 6v2m0 18v2m0 1v2m1 3v2m1-69v2m0 65v2m1-30v2m1-26v2m0 6v2m1-15v2m0 45v2m0 8v2m1-7v2m0 1v2m0 2v1m1-135v2m0 127v1m1-11v2m1-36v2m0 4v2m0 21v2m1-28v2m0 11v2m0 6v2m1-11v1m1 7v1m0 18v2m1-100v2m0 75v2m1-178v2m1 140v1m1-13v2m0 18v2m1-10v1m0 48v1m1-194v2m0 72v1m0 30v1m0 33v2m0 4v2m0 8v2m0 11v2m0 24v2m1-24v1m0 23v2m2-54v1m0 38v2m1-7v2m0 22v2m1-156v1m0 101v2m0 13v2m0 35v2m1-70v2m1 42v2m0 11v2m1-34v1m0 46v1m1-50v2m1 14v2m0 1v2m0 11v2m1-36v2m0 26v2m1-10v1m1-35v1m1 12v1m0 7v1m1-27v1m0 22v1m0 3v2m0 5v2m0 24v2m1-198v2m0 143v2m0 7v1m0 38v1m0 5v2m1-127v1m0 131v1m1-50v2m0 8v3m1-28v2m1-145v1m0 150v2m0 29v2m1-99v1m0 80v2m0 16v2m1-30v2m0 6v2m0 7v1m0 2v1m0 4v1m0 25v1m1-21v2m2-26v1m0 44v2m1-73v1m0 51v1m0 17v1m1-58v1m2 23v2m1-60v1m0 44v2m0 1v2m0 23v1m0 5v2m1-18v2m1-88v1m1 70v2m1-23v2m0 50v2m1-31v2m0 31v1m2-47v2m0 8v1m0 22v1m0 18v2m1-2v2m1-31v1m1-35v1m0 7v1m0 52v2m0 2v1m1-47v2m0 19v2m1-184v1m0 69v2m0 81v2m0 16v2m0 30v2m1-23v2m1-68v1m0 34v2m0 2v1m2-11v1m0 2v2m1 37v2m5-43v2m0 20v1m1 2v2m0 32v2m1-91v1m0 7v1m0 26v2m1 37v2m1-65v2m0 45v2m0 1v4m0 18v1m1 8v2m1-130v1m0 70v2m0 21v2m2-44v1m1 36v2m0 23v1m1-79v1m0 15v1m0 41v2m0 8v2m1-36v3m0 18v2m0 30v2m0 3v2m1-96v2m0 9v2m0 75v1m1-21v2m0 11v2m1-62v2m1 8v1m0 10v4m1 1v2m1-30v2m0 31v2m1-168v1m0 116v2m0 24v2m0 28v1m1-44v2m0 34v2m0 40v2m1-50v1m0 2v1m0 2v2m1 16v2m0 17v2m1-60v1m0 17v1m0 4v1m1 21v2m0 15v1m2-89v1m0 33v2m0 5v1m0 12v1m1-45v1m0 15v1m1 49v4m1-54v1m0 59v2m1-38v2m1 31v1m2-94v2m0 26v1m1 44v2m1 8v2m0 8v1m1-21v2m1-34v1m4 15v2m1-18v1m0 17v1m0 21v2m1-75v2m0 44v1m0 26v2m0 15v1m1-70v4m0 32v2m0 13v1m0 5v2m0 5v1m1-195v2m0 135v1m0 18v2m0 3v2m1-34v1m0 18v2m2-46v2m0 54v3m0 36v1m1-42v2m0 9v2m0 23v1m1-89v2m0 13v1m0 12v1m1-21v2m0 84v2m1-142v2m0 52v2m0 34v3m0 10v2m1-4v2m0 34v2m1-83v1m0 44v2m0 2v1m0 28v1m1-35v1m1-29v2m1-22v2m0 23v1m1 40v1m1-8v2m0 13v1m0 7v1m1-78v2m0 31v2m0 6v2m0 13v1m1-40v3m0 13v2m0 19v2m1-39v1m2 25v3m0 13v2m1 16v1m1-58v1m0 54v2m1-139v2m0 91v2m0 16v2m1-64v2m0 32v2m0 49v2m1-10v1m1-35v1"/>
<path stroke="#d83600" d="M0 563v2m0 13v2m1-432v1m0 450v2m1-38v4m0 4v2m0 34v2m1-51v2m0 29v2m0 15v1m1-18v2m0 21v2m2-57v1m0 12v1m0 36v2m1-41v2m0 13v1m0 28v2m1-52v1m0 15v2m1-414v1m0 432v2m0 1v2m1-29v1m0 2v2m1-401v1m0 426v1m1-446v2m0 368v1m0 39v2m0 8v2m1-7v2m0 24v2m1 5v1m1-16v2m1-36v5m0 23v3m1-16v1m0 7v1m1-29v2m0 8v2m1 11v2m1 16v1m0 4v1m0 12v1m1-48v1m0 39v2m1-80v2m0 39v1m1-4v1m0 5v2m0 40v2m1-46v2m0 23v1m1-29v2m0 1v2m0 34v2m1-31v2m0 29v1m1-24v2m1-417v1m0 388v2m0 18v1m0 5v2m1-25v5m1-44v2m0 36v1m0 15v2m1-18v1m0 43v1m2-44v2m0 2v1m0 10v2m0 8v1m0 20v1m1-52v2m0 11v2m0 11v2m1-39v2m0 55v2m1-49v1m1 20v2m1 17v2m0 16v2m1-46v2m0 13v2m0 5v1m0 12v1m0 5v2m1-10v2m1-79v2m0 41v1m0 26v2m1 5v2m0 1v3m1-45v2m0 3v1m0 18v2m1-28v2m0 8v2m0 3v2m0 27v2m1 1v2m1-86v1m0 36v2m0 15v1m1-19v1m0 43v1m1-44v2m0 19v2m1-23v2m0 10v1m0 4v1m0 13v2m0 11v2m0 5v1m1-29v2m2-62v1m0 40v3m0 23v1m0 12v1m1-67v2m1 20v1m0 13v2m0 18v1m1 0v2m0 2v3m1-34v1m0 13v2m0 2v1m0 12v1m1-75v2m0 34v2m0 34v2m0 6v2m1-39v1m0 4v1m1-11v2m0 21v1m1-19v1m1-9v1m0 12v1m1-11v2m0 3v1m0 9v1m0 2v1m0 4v1m1-37v1m0 17v1m0 13v2m0 23v1m1-53v1m0 2v2m0 1v2m1-3v1m0 5v2m0 11v2m0 1v2m0 15v1m1-49v2m0 28v1m1-66v1m0 48v1m0 10v2m0 1v2m0 1v2m0 23v1m1-48v1m0 12v5m1-424v2m0 369v2m0 28v1m0 12v1m0 4v1m0 13v2m0 23v1m1-60v2m0 6v2m0 6v2m0 15v1m0 18v2m1-36v2m0 21v1m1-34v2m0 44v1m1-84v1m0 26v2m1 10v2m0 11v2m0 1v2m1-23v5m0 49v1m1-81v2m0 73v3m1-5v2m1-36v2m0 6v2m0 8v2m0 8v1m1-42v2m0 9v2m1-49v2m0 50v2m0 11v2m1-72v2m0 44v2m0 34v1m1-53v1m0 12v1m0 26v2m0 5v1m1-40v1m0 17v1m0 17v1m1-32v1m0 20v1m1-55v2m0 39v1m1-9v1m0 2v2m0 13v1m0 3v2m1-49v2m0 68v2m1-36v2m0 8v1m0 12v1m1 17v1m1-65v2m0 29v2m0 5v1m0 2v2m1-28v2m0 22v2m1-28v2m1 3v2m0 24v2m1-34v3m0 23v1m0 20v1m1-42v2m0 5v1m0 2v3m0 20v1m0 10v2m1-69v2m0 8v2m0 5v1m0 21v2m1 0v2m1-26v1m0 43v1m0 7v1m1-459v2m0 363v2m0 47v1m0 43v3m1-55v1m0 21v2m0 10v1m1-61v1m0 21v2m0 50v2m1-47v2m0 27v2m1-36v2m0 9v2m0 7v1m0 16v2m2-39v2m0 9v2m0 15v1m0 26v2m1-64v2m0 2v3m0 3v2m0 8v2m1-51v2m0 24v2m0 10v1m0 7v1m0 30v1m1-21v2m0 23v1m1-453v2m0 409v2m0 4v4m0 6v2m0 21v2m1-53v2m0 33v1m0 21v2m1-45v1m0 7v1m0 4v1m0 12v1m1-10v4m1-25v2m0 6v2m0 5v2m0 16v1m1-47v2m0 21v2m0 29v2m1-46v3m0 43v1m1-44v2m0 3v2m0 3v2m0 26v1m0 5v2m1-54v2m0 13v1m0 10v3m1-55v2m0 31v1m0 46v1m1-79v1m1 48v1m0 34v2m1-67v2m0 28v1m1-83v2m0 24v2m0 24v3m0 10v2m0 26v2m0 1v2m1-38v2m0 18v2m1-53v2m0 24v4m0 55v2m1-109v1m0 44v2m0 6v2m0 7v1m0 12v3m1-23v2m0 45v2m1-8v1m1-76v1m0 30v3m0 31v2m1-26v1m0 21v2m0 6v2m1-73v1m1 35v3m0 11v2m0 36v1m1-34v2m0 29v2m1-25v2m1-67v2m0 23v1m0 10v3m1-45v1m0 5v2m0 37v2m0 49v1m1-29v2m0 16v2m0 3v1m1-57v2m0 13v2m1-15v2m0 27v2m1-24v1m0 4v3m0 32v2m1-54v2m0 47v3m1-47v2m0 8v2m0 34v1m2-3v2m0 1v2m1-54v2m0 26v2m0 14v2m1-34v1m0 10v2m0 1v2m1-15v2m0 26v2m0 8v1m1-6v1m1-42v3m0 43v1m1-47v2m0 1v2m0 15v1m1-37v1m0 56v1m1-47v2m0 3v3m0 4v1m0 43v1m0 5v2m1-30v2m1 23v1m1-37v2m0 14v2m0 6v2m1-50v1m0 3v2m0 16v2m0 41v1m1-68v2m3-2v2m0 14v2m1-12v2m0 12v1m0 2v1m0 23v2m1-60v1m0 25v1m0 12v1m0 38v1m1-62v2m0 21v2m1-23v2m0 52v1m1-42v2m0 6v2m0 8v2m1-28v2m0 1v4m0 8v1m2 17v1m1-36v2m0 34v2m1-72v2m0 41v1m0 3v2m0 11v2m0 10v1m1-44v2m0 7v1m0 28v2m0 4v2m1-49v2m0 11v2m0 34v2m0 5v1m0 2v1m1-101v2m0 52v2m2 0v2m1-62v1m0 52v2m0 11v2m0 36v1m1-32v2m1-13v1m0 20v1m0 4v1m0 15v1m1-45v2m0 9v2m0 15v1m1-42v1m0 9v1m0 2v2m0 40v2m1-54v3m0 10v2m0 6v2m0 19v2m2-91v1m0 48v1m0 56v1m1-96v2m0 31v1m0 17v1m1 43v1m1-63v1m0 28v2m1-21v3m0 11v2m1-18v2m0 35v2m2-39v2m0 40v2m1-37v1m0 5v2m1-5v1m0 2v3m1 4v1m1-58v1m0 3v2m1 38v1m0 39v2m1-10v2m1-48v2m0 60v2m1-68v1m0 17v1m0 34v2m0 2v1m1-34v3m0 7v3m1-29v1m0 22v1m1-76v1m0 74v1m0 25v1m1-23v2m4 15v1m1-109v2m0 101v1m2-42v2m0 8v2m0 32v2m1-137v2m0 130v1m1-53v1m0 65v2m0 2v1m2-42v2m0 26v1m0 2v2m0 1v2m0 1v2m1-52v2m3 0v3m1 2v1m0 18v2m0 16v2m1-95v2m0 31v1m2 20v2m0 1v2m0 29v2m1-82v2m0 42v2m0 42v2m1-33v2m2 16v2m1-8v1m0 15v2m1-36v1m1-4v1m2-49v2m1 47v2m1-12v2m0 24v2m0 24v2m1-72v2m1 21v2m0 15v1m1-76v1m1 44v2m0 37v2m1-20v2m1-23v2m0 29v2m0 21v2m1-79v2m0 18v2m0 29v2m2 13v1m1-27v1m0 26v2m1 8v2m1-49v1m2 39v2m1-32v1m0 46v1m1-50v2m1 9v2m1-15v2m1 18v1m0 9v1m0 8v2m0 6v2m1-466v2m0 422v1m0 22v1m0 8v2m1-21v1m1-444v1m0 450v2m1-100v2m0 81v2m1-25v2m1 25v1m0 10v2m3-432v2m0 418v2m1-26v1m0 46v2m1-87v2m0 19v2m1-26v2m0 75v3m1-23v2m0 24v2m1-17v4m2-18v1m0 7v2m1-20v2m0 1v2m1-10v2m1-44v1m1-373v2m0 417v2m1-2v3m0 39v2m0 3v2m1-36v2m0 26v1m1-78v2m0 68v2m1-36v2m0 52v1m1-79v1m0 20v1m0 48v1m1 0v2m1-29v1m0 10v2m0 14v3m1-29v2m0 26v1m1-32v2m1 21v1m1-125v2m1 114v1m2-101v2m0 104v2m1-26v1m0 31v2m1-47v1m0 49v2m1-17v2m1 7v1m1 0v2m1-44v2m0 29v1m1-57v2m2 49v2m1 0v1m1-3v2m0 11v2m1-2v2m1-54v1m0 41v2m0 3v2m1-25v2m1-49v2m0 84v2m1-116v2m0 44v2m0 16v2m1 6v2m1-57v1m0 88v2m1-82v2m0 26v2m0 21v2m0 3v1m2-39v2m0 54v1m1-1v1m3-40v1m0 15v2m0 32v2m2-56v2m0 18v2m0 3v1m0 12v1m2-84v1m0 61v1m0 26v2m0 3v2m2-13v1m1-58v1m0 22v1m0 46v1m0 4v1m1-120v1m0 77v2m0 31v1m1-78v2m0 83v1m1-32v1m0 5v2m0 3v2m1-52v1m0 30v1m0 23v2m1-7v2m1-18v3m0 10v2m0 3v1m0 12v1m1-131v1m0 77v1m0 22v1m1-21v2m0 14v2m1-67v2m1 49v1m0 25v1m0 13v2m3-23v2m0 26v1m1-89v2m1 39v1m0 31v2m1-41v2m0 44v1m3-35v1m1 13v2m0 16v2m3-54v3m0 36v2m1-21v1m0 25v1m0 2v1m1-3v2m2 1v2m1-19v1m0 16v4m0 3v2m0 3v1m2-34v2m1-28v2m0 8v2m0 13v1m0 33v1m1-43v1m1 8v2m0 3v2m0 16v2m1-31v1m0 10v2m0 16v2m0 5v1m2-1v3m2-8v1m0 8v2m1-112v1m0 67v2m1 36v1m0 2v1m1-63v2m0 6v2m1 23v3m3 3v2m0 26v1m1-9v1m1-94v1m0 43v1m1 0v2m0 26v2m1-15v2m0 24v2m0 13v1m1-120v1m0 79v1m2-29v2m0 57v1m0 7v1m2-88v2m0 24v2m0 47v2m0 3v2m1-34v1m1-53v1m2 23v2m0 21v1m0 25v1m0 17v1m1-35v1m1-24v1m0 18v2m0 23v1m1-5v2m0 8v2m3-60v1m0 62v2m1 1v2m1-67v2m0 16v3m1 17v1m0 4v1m0 12v1m0 7v1m1-66v1m0 31v2m1-56v2m0 26v2m0 40v2m0 8v2m1-31v2m1-30v2m0 54v1m1-81v1m0 72v2m1-21v1m0 20v1m2-21v2m0 19v2m1-59v2m0 31v2m0 6v2m0 24v3m2-14v1m1-78v2m0 14v2m0 57v2m1-88v1m1 41v2m0 19v2m0 21v2m0 9v2m1-18v2m1-62v3m0 41v2m0 35v2m1-42v1m0 13v2m0 11v2m1 10v1m1-101v2m0 24v2m0 13v2m0 23v1m0 31v2m1-74v2m1-2v2m0 13v2m0 27v2m0 24v2m2-54v2m0 33v1m1 3v2m1-41v2m0 10v1m2 22v1m1-65v2m1 63v2m0 13v1m0 2v2m2-83v1m0 69v1m1-84v1m0 61v1m1 5v2m0 11v2m2-34v1m1 10v2m1 29v1m1-35v1m1 5v2m0 10v1m1-24v1m0 31v2m0 3v2m1-28v2m0 5v1m1 25v1m1-21v2m0 16v2m1-88v1m0 40v1m0 8v2m1-26v1m0 7v2m0 31v3m0 10v1m1-60v2m0 32v2m1 1v2m0 5v2m0 3v1m0 5v2m1-91v1m0 64v2m0 13v1m1-94v1m0 8v2m0 91v2m0 10v1m2-79v1m1 7v1m0 20v2m0 29v1m5-29v2m1-49v2m0 47v1m0 17v1m0 8v2m1-11v1m1-39v2m0 37v2m1-26v2m0 39v1m1-47v2m0 18v1m0 3v2m0 16v2m1-60v1m0 52v2m1-68v1m0 33v2m0 45v2m1-83v1m2 7v1m0 15v2m1-4v2m0 60v2m1-20v2m0 15v1m1-146v1m1 90v2m1 44v1m1-83v2m2 83v1m2-55v2m0 8v2m0 11v2m1-31v1m0 18v2m0 29v2m0 3v2m1-56v2m1 10v1m1 38v1m1-26v2m1-33v2m0 50v2m1-67v2m0 33v1m0 16v2m1-47v1m0 23v2m0 11v2m0 26v2m1-43v2m1-34v1m0 12v1m0 5v2m1-20v2m0 3v2m2-34v1m0 49v2m0 23v1m0 8v2m1-11v1m0 34v2m1-44v2m0 37v2m1-17v2m2-24v1m0 8v2m1-24v1m0 20v1m1-48v1m0 34v2m2-116v2m0 60v2m0 72v1m1-26v2m1 23v1m1-18v2m0 31v1m1-58v1m0 20v2m0 16v2m1-7v3m1-21v2m0 19v2m1-18v2m0 16v2m1-12v2m2-54v2m0 32v2m1 13v2m3-35v2m2 3v2m0 5v1m0 9v1m1-6v1m0 43v1m3-19v1m2-21v2m0 6v2m1-13v2m0 8v1m0 20v1m1-34v4m0 32v2m1-144v2m0 145v3m2-68v1m0 4v1m0 22v1m1 8v2m2-69v2m0 42v2m1-81v1m0 30v1m0 21v2m1-5v2m0 5v1m1 46v2m0 8v1m0 7v1m2-48v1m0 59v1m1-123v1m0 80v2m0 14v2m1-29v1m0 12v1m0 26v2m1-41v2m0 3v2m1 6v2m0 34v2m1-46v2m0 26v2m0 14v2m1 3v2m1-51v2m0 32v2m1-65v2m1 34v1m0 28v2m0 6v2m1-29v1m1-29v1m0 4v1m1 4v1m0 10v2m0 1v2m0 32v2m0 2v1m1-52v2m0 11v2m0 8v2m1-75v1m0 95v1m2-131v1m0 59v1m0 12v1m0 27v1m1-85v2m0 72v1m1-11v2m2-7v2m0 3v2m1 34v1m1 4v1m2-114v2m0 70v2m0 3v2m0 21v1m0 18v2m1-54v2m0 10v1m0 33v1m1-39v2m1 8v2m0 40v2m1-90v2m0 28v1m1-13v2m0 21v2m1-20v2m2-3v1m0 23v2m1-4v2m0 3v2m0 36v1m1-55v2m0 32v2m1-31v2m0 14v2m0 3v2m2-61v2m0 38v1m0 20v1m0 23v2m1-74v2m0 26v2m0 45v2m2-52v2m0 27v2m1-34v1m0 2v2m1 24v2m0 16v1m1-61v1m0 5v2m0 36v1m1-6v1m1-37v1m0 20v2m0 18v1m2-21v2m2-28v2m0 18v1m0 12v1m2 15v1m0 7v2m0 8v1m1-5v2m1-75v2m0 34v2m0 40v2m1-5v2m1-49v2m0 14v2m1-21v1m0 5v2m0 8v2m2-12v2m0 21v2m1-35v2m0 15v1m0 17v1m2-106v2m0 37v2m0 20v1m0 7v1m1-5v2m0 26v2m1-26v1m0 9v1m0 25v1m1-37v1m0 43v1m1-40v1m1 0v2m0 29v2m0 10v1m1-24v1m0 22v1m1-18v2m1-65v1m0 56v1m1-8v2m0 29v2m1-47v1m0 5v2m0 5v1m0 15v2m1-38v2m0 47v2m2-116v2m0 61v2m0 13v2m0 23v1m0 7v1m0 12v1m1-9v1m1-16v2m1-40v2m0 38v1m0 5v2m1-52v1m0 13v2m0 16v2m0 14v2m1-34v2m1-5v3m0 32v2m1-32v1m0 29v2m0 5v2m1-90v2m0 14v2m0 41v1m1 10v2m0 27v2m1-77v2m0 25v1m0 31v2m0 9v2m1-63v1m0 26v2m0 2v1m0 21v2m0 5v1m0 5v2m1-41v2m1-25v2m2-62v2m0 70v2m0 1v3m0 33v2m1-48v2m0 7v1m1-18v2m1 39v2m1-18v1m1-5v2m1-47v1m0 35v1m0 38v1m0 8v2m1-39v2m0 6v2m0 16v2m1-54v2m0 18v1m0 12v1m0 12v1m0 18v2m1-72v2m0 18v1m0 2v2m0 16v1m0 9v1m1-32v1m1 31v2m1-44v1m0 61v1m1-91v2m0 36v1m0 8v4m0 1v2m1-2v2m0 2v1m0 16v2m0 3v2m0 3v2m1-20v2m1-38v2m0 10v3m0 12v1m2 0v2m1-36v2m0 53v2m1-52v1m0 7v2m0 42v2m0 4v2m1-31v2m1-18v2m2-72v1m0 113v1m1-45v2m0 14v2m1-28v2m0 8v2m0 48v2m1-55v1m0 2v2m0 9v2m1-5v2m0 26v1m0 7v1m1-57v2m0 21v4m0 32v2m1-62v1m0 15v2m0 8v2m1-57v1m0 16v2m0 11v2m0 12v1m0 13v2m1-15v2m0 1v2m0 36v1m1-127v2m0 82v1m1-32v1m0 21v2m0 20v1m0 5v2m1-7v2m1-8v1m0 39v2m1-39v2m1-53v2m0 24v2m1-5v2m0 10v1m0 17v1m0 18v2m1-46v3m0 9v1m0 2v1m1-24v2m0 37v2m3-18v1m1-11v2m0 21v1m0 17v1m0 8v2m1-107v1m0 43v1m0 7v1m0 36v2m1-46v2m0 24v4m1-41v1m0 38v2m2-12v2m0 3v2m0 5v1m2-52v2m0 32v2m2 28v3m0 6v2m1-41v2m0 10v1m0 2v2m1-22v2m0 10v1m0 9v1m0 18v2m1-28v2m0 3v2m0 19v2m1-36v2m0 39v1m1-52v2m1 58v2m1-78v1m0 15v2m0 21v2m1-28v3m0 26v2m0 23v1m1 7v1m2-68v2m0 18v1m0 10v2m1-25v2m1 18v1m0 30v1m1-68v1m1 59v2m1-48v2m1 0v2m1 10v3m0 5v1m1-29v2m0 4v2m1-21v2m0 37v3m1 8v2m0 15v1m3 13v2m1-70v2m0 18v1m0 26v2m0 6v2m1-68v1m1 25v1m0 13v2m1-18v2m1-93v1m0 139v1m1-83v2m0 75v2m2 4v2m1-60v1m0 2v3m0 17v1m0 17v1m0 18v2m1-39v1m0 2v2m1 29v1m1-45v2m0 3v1m0 44v2m1-72v2m0 55v2m0 6v2m1-129v2m0 75v2m2-4v2m0 54v1m1-55v2m0 40v2m1-34v1m0 44v2m1-13v2m0 8v1m1-63v1m0 59v2m1-59v2m0 40v2m0 10v1m0 5v2m1-140v2m0 136v2m2-10v2m1-57v1m0 43v1m0 15v2m2-4v2m4-23v2m0 6v2m1 3v2m2-49v2m0 13v1m1-65v3m0 41v2m0 37v2m0 16v2m1-31v2m1 35v2m1-16v1m1-9v1m0 2v1m1-34v2m0 42v2m1-54v2m0 19v2m0 31v1m1-57v2m0 54v1m2-125v2m0 104v2m0 14v2m2-21v1m1-39v2m0 15v1m0 38v3m2-2v3m1-61v1m0 12v1m1-44v2m0 26v2m1 27v2m1-65v1m0 48v1m0 47v2m1-37v1m1-45v1m0 12v1m0 62v2m1-69v2m1 15v1m0 23v2m1-8v1m0 30v1m1-57v2m1-7v2m0 33v1m0 29v2m2-67v2m0 57v2m1-57v1m1-80v2m0 20v1m0 59v1m0 10v2m0 3v2m0 5v1m0 2v2m1-38v2m0 24v2m1-12v2m1-11v1m1 8v2m1-2v2m0 11v2m0 10v1m1-91v2m0 115v2m0 3v2m1-96v2m0 52v1m1-26v2m0 63v2m1-36v2m1-10v2m1 34v1m1-66v1m0 64v1m1-58v1m0 46v2m1-64v2m0 21v2m2 31v1m2-41v2m0 36v2m1-26v1m0 2v1m0 25v1m1-50v2m1 8v1m0 25v1m1-26v2m1-15v2m1-2v2m0 3v2m0 6v2m1-41v2m0 32v2m1-11v1m0 4v1m0 38v1m0 7v1m0 7v2m1-39v1m0 12v1m0 5v2m0 5v1m1-44v3m0 15v2m0 36v1m0 7v1m1-31v2m3 7v1m2-6v1m1-26v2m0 45v2m0 3v2m2-65v1m0 17v1m1 13v2m1-31v2m0 42v2m2-54v2m0 35v2m0 15v1m0 10v3m1-42v2m0 31v1m0 7v1m2-68v2m0 8v1m0 15v2m0 19v2m1-70v1m0 49v4m0 32v2m1-46v2m0 32v2m0 2v1m1-49v2m0 36v1m1-55v2m0 58v2m2-153v1m0 95v2m0 55v2m1-20v2m0 6v2m0 6v2m1-68v1m0 18v2m1 58v2m1-114v2m0 39v1m1-1v1m0 12v1m0 13v2m1-31v2m0 9v2m0 51v1m1-133v1m0 114v2m1-42v1m1-19v1m0 17v1"/>
<path stroke="#de5a00" d="M0 581v2m0 16v2m1-75v1m0 31v2m0 3v2m0 23v1m0 4v1m1-26v2m0 44v1m2-11v2m2-39v3m0 32v2m1-77v2m0 57v2m1-21v3m1-13v1m1 26v2m0 16v2m1-73v1m0 31v2m1 50v2m1-52v2m0 3v1m1 7v2m0 1v2m0 14v2m0 16v2m3-88v2m0 32v2m1 10v1m1-14v3m2-98v2m0 89v2m0 16v2m1-16v1m0 5v2m0 29v2m0 13v1m2-39v2m0 28v1m2-84v1m0 52v2m1-13v2m1-4v2m0 5v1m0 2v2m1 6v2m1-30v2m0 8v2m1-8v1m0 23v2m0 6v2m0 13v2m1-36v1m1-11v2m1 13v1m1-6v1m1-6v3m0 12v1m1-5v2m1-21v1m0 10v2m0 13v1m1-14v1m1-8v2m1-33v2m0 10v1m0 7v1m0 23v2m1-16v1m0 21v2m1-5v2m0 3v2m1-31v1m0 4v1m0 41v2m0 6v2m1-46v2m0 10v1m1-10v2m2-2v2m0 15v1m1-8v2m0 5v1m0 4v1m0 8v2m1-34v1m1 17v1m0 10v2m1-13v1m2 4v1m1 5v2m1-46v2m0 10v3m0 1v2m1-8v2m0 11v2m1 4v2m1-34v1m0 28v2m0 11v2m2-23v2m0 9v2m1-2v2m1-21v2m0 11v2m0 27v2m1-42v1m0 13v2m1-5v2m0 26v1m1-78v2m0 83v1m1-8v2m1-44v2m0 24v2m0 14v3m1-24v2m1-21v1m0 10v2m1-9v2m1-20v2m0 34v2m0 3v2m0 11v2m0 5v1m1-73v2m1-417v1m0 435v2m0 41v1m2-40v1m1-10v2m0 16v2m0 11v2m1-116v2m0 88v2m0 1v2m1-15v2m0 18v1m1 36v2m1-54v2m0 21v1m3-29v2m0 19v2m0 26v2m1-46v2m0 13v1m0 4v1m0 16v2m1-70v2m0 29v2m1 11v2m1 11v2m1-13v1m1-49v2m0 28v1m1-8v2m1 60v2m1-57v1m0 41v2m1-95v2m0 81v2m0 21v2m2-100v2m1 47v2m0 10v1m0 26v2m1-28v2m0 5v1m1 7v2m0 19v2m1-56v2m1-33v2m0 39v2m0 11v2m0 8v3m2-37v1m0 26v2m0 20v1m0 7v1m2-31v2m1-3v1m1-16v2m0 18v1m1-11v2m1-51v2m0 29v2m1 44v1m1-45v1m1-3v2m0 21v1m0 31v2m2-42v3m0 6v4m1 21v1m2-37v2m0 5v1m1-29v1m1 12v2m0 32v2m1-75v1m0 57v4m1-28v2m0 3v2m0 17v2m0 10v1m1-44v2m0 15v1m1 23v2m2-12v2m1-59v2m1 33v1m0 18v2m0 6v2m0 5v1m0 13v2m1-13v2m1-113v2m0 73v2m1-12v2m1-42v1m0 38v1m1-42v2m0 50v2m0 34v2m1 11v2m1-47v1m1-6v1m2-420v2m0 412v3m3-33v2m1 33v1m1 8v2m1-62v2m3 13v1m1 0v2m0 33v3m2-8v1m0 9v1m0 3v2m0 20v1m1 21v2m1-90v2m0 29v2m0 5v2m2-17v2m0 42v2m1-36v2m2-2v2m1 1v2m0 28v1m0 12v1m1-84v1m1 25v1m1 2v1m0 10v4m1 16v1m1-32v1m0 49v2m0 3v2m1-56v2m1 12v1m1 23v2m1-36v1m0 17v1m1-80v2m2 64v1m0 5v2m0 39v1m1-6v2m2-28v2m1-13v1m1 15v1m0 26v2m1-13v2m1-41v3m0 52v2m1-13v2m1-20v2m1-57v1m1 30v1m2-8v2m0 16v2m0 32v2m1-51v2m0 3v2m0 19v2m1-8v2m0 9v2m0 5v1m0 5v2m1-37v1m1-11v3m0 41v1m3-34v2m0 23v1m1-47v2m0 19v2m0 34v2m1-22v2m1-31v2m0 18v1m1-39v2m0 55v2m2-56v2m0 20v1m1 46v1m1-50v2m1 50v2m1-7v2m1-28v2m1-15v2m0 26v1m0 7v2m1 1v2m0 3v2m2-15v2m3-30v2m1-36v2m1-20v2m1 50v4m0 24v2m1-8v1m2-68v1m0 79v1m1-19v1m0 26v2m3-54v2m2 13v2m0 16v1m3-35v1m0 15v2m2-25v2m0 26v1m0 25v1m1-37v2m4-4v2m1-428v1m1 458v2m1-113v2m0 67v1m1 21v2m1 15v1m0 10v2m1-30v2m0 21v2m1-26v1m1-86v2m0 16v2m0 34v1m0 41v2m3-104v1m3 65v2m1-422v2m0 423v2m0 36v1m1-19v1m1-426v1m0 334v2m0 91v2m0 16v2m1-5v1m1-120v1m2 87v1m0 25v1m3-438v2m1 379v2m4 21v2m1 41v1m1-125v1m0 88v2m2 3v2m0 11v2m0 24v2m3-5v2m0 1v2m1-127v2m1 102v2m2 10v1m1-448v2m2 454v2m1-70v2m1 48v2m2-76v1m0 78v2m1-67v2m0 57v1m1-39v2m4 18v2m2-18v1m0 28v2m0 21v1m1-122v2m1 83v2m1-56v2m0 73v2m1 11v2m1-31v1m0 31v2m1-64v2m2 3v2m0 46v1m1-1v1m2-88v2m0 34v2m1 57v1m1-26v2m0 11v2m1 0v2m1-17v2m0 8v2m2-2v2m1-2v2m1-8v1m0 20v1m1-57v2m3 39v2m0 11v2m2-49v2m0 6v2m1 21v1m1 9v1m1-44v2m0 21v2m2-49v1m0 66v1m2-18v2m0 11v2m1-8v1m0 4v1m0 2v2m0 3v1m1-107v2m1 73v2m1 22v2m2-41v2m0 29v2m1-43v2m0 38v1m1-42v1m0 33v2m0 19v2m1-31v2m6-22v2m0 42v2m1-7v2m1 10v1m0 4v1m2-14v1m1 4v1m1 7v1m2-60v2m0 11v2m2-31v1m0 7v2m0 42v2m0 8v1m1-135v2m0 88v1m0 49v2m1-13v1m0 7v2m2-56v2m0 23v1m1-31v2m0 37v2m2-55v1m1 23v2m1-18v1m4 20v2m0 14v2m1-21v1m0 20v2m1-30v2m0 41v1m0 8v2m1-11v1m0 13v2m0 1v4m1-43v2m0 2v1m0 17v1m1-31v2m0 50v2m1-34v1m3 4v1m1 10v2m1-49v1m0 28v2m0 29v2m1-129v2m1 94v2m2-2v2m2-26v1m0 5v2m0 42v2m3-132v2m1 37v2m1-28v2m1-352v1m0 409v2m1-16v1m0 10v2m0 19v2m0 24v2m1-51v2m0 67v1m1-24v2m1-33v2m1 1v2m1 21v2m0 19v2m1-56v2m2 20v1m1-440v2m0 394v2m2-47v1m0 93v2m2 26v1m2-34v2m3 37v2m1-125v1m0 69v1m0 44v2m3-15v2m0 8v2m2-116v2m1 117v1m2-29v2m0 14v2m1-46v2m0 26v2m1-7v2m1 16v2m0 6v2m0 2v1m1-16v2m1-20v2m1-39v1m1-1v1m0 33v1m0 33v2m3-43v2m0 26v2m1-10v1m2 9v1m3-11v1m2-19v2m0 30v2m0 7v1m1-24v1m2-55v2m0 44v1m1-76v1m1 66v1m0 41v1m2-40v1m3 20v2m0 3v1m2-94v2m0 34v1m1-6v2m2-41v1m0 30v1m0 87v1m4-53v1m0 51v1m1-78v2m0 21v2m1 35v2m2-5v2m1-100v2m0 29v2m0 29v2m0 39v2m1-33v2m0 21v2m0 6v2m0 3v2m2-28v2m0 17v2m1-18v2m1-65v1m0 85v2m3-39v1m0 20v1m3-8v2m0 14v2m1-62v2m2 50v2m1-20v2m1 26v2m2-57v1m0 59v2m2-66v2m0 18v2m0 26v1m1-3v2m1 8v1m1-60v2m0 24v2m1-3v1m0 4v1m0 44v2m1-8v1m2-65v2m0 37v2m0 14v2m3-2v2m2-3v1m1-22v1m1 23v2m1-26v1m0 31v2m1-10v2m1-49v1m2 14v1m1 0v2m1-39v1m1 39v2m0 24v2m0 10v1m1-39v2m1-65v1m1 48v1m1 15v2m0 32v2m1-39v1m1-11v2m0 32v3m1-39v2m1 11v2m0 41v1m1-63v1m0 49v2m1-54v2m1-51v2m0 77v3m0 16v2m0 9v2m1-6v1m1-40v1m0 31v2m3-101v1m1-14v1m0 114v2m1-11v1m0 7v1m0 5v2m1-39v1m0 10v2m0 18v1m1-39v2m0 34v2m0 6v2m1-28v2m0 10v1m1-19v1m0 31v2m2-15v2m6-96v1m0 38v1m0 28v2m0 8v2m0 1v2m1 10v1m0 5v2m1-23v2m1-36v1m0 25v1m1-21v2m0 37v2m0 6v2m1 8v2m1-42v1m1-24v1m0 51v1m2-57v2m0 67v1m1-52v2m0 34v2m4-26v1m0 30v1m1-39v2m0 29v2m1-34v1m0 5v2m1-2v2m0 1v2m1 34v2m1 3v3m1-44v2m0 2v1m2-5v2m0 10v1m0 5v2m1-80v2m0 84v2m2-2v2m3-83v2m2 29v2m1 48v2m1-62v2m1 16v2m0 19v2m4-7v2m1-10v2m0 8v2m0 1v2m2 32v2m1-55v1m0 49v2m0 1v2m1-32v1m0 13v2m1-96v1m0 105v1m1-40v1m1-19v1m3-31v2m0 39v2m0 22v2m0 23v1m1-30v1m1-21v2m1 3v2m2 34v1m0 12v1m1-60v2m1 44v1m1-27v3m2-13v2m0 8v1m0 4v1m0 13v2m0 8v2m1-64v2m0 70v1m1-63v1m0 27v1m1-6v3m1-46v2m0 31v2m2-9v2m1 44v2m1-48v2m1 28v1m1 8v2m1-63v1m1 23v2m1 0v1m0 15v2m1-61v2m1 0v2m0 14v2m0 37v2m1-51v2m0 23v1m0 10v2m0 42v2m0 1v2m1-41v2m0 18v2m1-72v2m1 58v2m2-127v1m0 66v1m0 77v1m2-65v2m0 32v2m0 3v2m1-10v2m1 37v2m1-39v1m0 7v2m2-12v2m1-31v1m0 44v2m0 20v1m1-24v1m0 10v2m1-31v2m0 29v1m4 10v2m1-41v2m2 8v2m1-69v2m0 91v2m1-4v2m0 5v1m1-130v2m1 73v2m0 13v1m1-1v1m0 43v1m1-34v3m0 20v2m1-150v1m0 105v1m1-34v2m0 5v1m0 16v2m1-5v2m0 18v1m0 13v2m1-8v2m0 21v1m3-68v2m0 55v2m0 4v2m1-76v1m0 49v2m2-28v2m0 6v2m0 11v2m0 36v1m2-13v2m0 13v1m1-32v2m2-23v1m1-6v1m1 31v2m0 11v2m1-26v2m0 29v2m3-30v4m0 17v2m2-44v2m0 3v2m1 29v2m1-33v2m0 3v2m0 8v1m1-1v1m1-6v1m0 2v2m0 39v1m3-62v2m1 0v2m1 57v1m1-138v2m0 101v1m1-83v2m0 114v1m1-57v2m0 2v1m0 51v1m1-6v1m1-52v2m0 5v2m0 8v1m1-89v1m1 121v1m1-17v1m1-44v2m0 19v4m0 39v1m1-66v1m0 34v2m0 26v2m2-30v2m0 20v1m1-37v1m1 36v2m2-39v1m2-19v1m0 31v2m0 20v1m1-11v1m0 15v2m1-21v1m0 5v2m1-26v1m0 28v2m1-88v1m2 38v1m0 20v2m1-93v1m0 74v1m0 7v1m0 5v2m0 26v2m4-53v2m0 23v2m2-7v2m3-83v1m0 23v2m0 89v2m3-51v2m1 10v1m1-6v2m0 48v2m2-50v1m1-8v2m0 39v1m1-50v3m0 47v4m1-54v1m1-89v2m0 99v2m0 34v1m2 13v2m1-207v2m2 163v1m1-8v2m2-70v1m1 101v2m1-44v2m0 3v2m0 26v1m2-19v1m1 7v1m3-26v2m4-7v2m0 20v1m0 10v2m3-31v1m1 7v2m0 8v1m2 8v2m0 11v2m2-72v2m0 13v2m0 3v2m2-62v1m1 114v2m2-59v2m0 11v2m0 21v2m1 18v1m0 4v1m1 5v2m1-8v1m2-83v2m0 84v2m1-65v2m0 16v2m1 16v1m0 25v1m1-58v1m2 2v2m3-13v1m1 15v2m0 40v2m0 6v2m0 2v1m1-75v2m0 29v2m3-39v2m0 14v2m0 36v1m1 26v2m1-55v1m0 28v2m1 13v1m0 7v1m1-8v2m1-41v2m1 31v1m2-19v1m1-34v2m0 8v2m1 13v1m0 17v1m1-31v2m0 49v1m1-68v2m2-15v2m1-46v2m1 53v2m0 67v1m2-9v1m2-27v1m1-13v2m0 26v1m1-63v2m0 42v2m1-27v2m1 51v1m0 3v4m3-31v1m3-22v1m0 15v2m1-27v2m0 41v1m2 10v2m1-57v1m0 48v1m1-39v2m0 29v2m1-78v1m0 85v2m1-4v2m1-44v2m0 34v1m0 9v1m1 3v2m2-50v1m0 4v1m1 7v1m2-19v1m0 17v1m0 26v2m0 5v1m1-48v1m1-150v2m0 132v2m1-17v2m1 76v2m1-47v2m1 45v2m1-30v2m0 2v1m0 26v2m1-42v1m0 7v1m0 4v1m0 17v1m1-39v2m2-36v2m1 17v2m1 10v2m0 13v1m0 2v1m1-52v2m0 41v1"/>
<path stroke="#e47700" d="M0 606v1m1-11v1m0 12v1m1-53v1m0 15v2m1 5v1m1-3v2m1-439v2m0 420v2m1 26v2m0 17v2m1-50v1m0 4v1m0 12v1m0 18v2m1-4v2m1-28v2m2-8v2m0 42v1m0 2v2m1-38v2m2 5v1m1 18v2m1-36v2m1 18v1m1-26v2m0 39v2m2-13v1m1-19v1m1 4v1m1-5v2m1-11v1m0 41v1m1-30v1m1 7v1m1-18v2m2 42v2m3-31v2m0 19v2m2-44v2m0 11v2m0 1v2m1 1v2m1-2v2m0 21v2m3-8v1m0 8v2m1-3v1m2-50v2m0 44v1m1 2v1m1-39v2m1-13v2m0 39v1m1-29v2m1 21v1m1-102v1m1 77v2m4 5v1m0 23v2m3-25v2m1-70v1m2 13v2m1 33v1m0 36v2m1-15v2m0 24v2m1-41v2m1-15v2m0 5v1m0 36v3m1-19v1m1-24v2m1 8v1m1-13v2m0 3v3m0 41v2m2-59v2m0 26v1m1 2v2m0 14v2m1-34v1m0 4v1m0 23v2m1-34v1m1-3v2m1 4v2m0 29v4m1-26v1m0 10v2m1 13v1m1-109v2m0 112v2m1-52v1m1-49v2m0 77v1m3 15v1m0 4v1m1-44v2m1-15v2m0 42v2m2-67v2m0 10v1m2 13v2m0 6v2m0 2v1m0 36v2m1-46v2m0 21v2m1-23v1m1-3v2m1 16v2m4 19v2m2-46v2m0 10v1m2-1v1m0 4v1m1 16v2m1-50v1m0 30v1m0 2v1m0 20v2m1-59v2m0 66v2m1-28v2m1 18v1m1-55v2m1 8v2m0 9v2m0 15v1m2 13v2m1-7v2m2-13v2m1 4v2m1-11v1m1-32v1m1-13v2m0 67v1m3-58v1m0 25v1m1-53v1m0 65v2m0 2v1m0 10v2m1-52v1m1 30v1m2 5v2m3 11v2m1-10v2m2-23v1m1-34v2m0 34v2m1-62v1m0 23v2m0 54v1m1-40v1m1 20v1m0 10v2m2-31v1m2 4v1m1 13v2m0 13v2m1 8v1m1-55v2m0 37v2m2-15v2m2-35v2m1 5v2m2 44v1m1-24v1m1-19v2m0 21v1m1-13v2m3-20v2m3 42v2m1-37v1m1 3v2m0 8v2m0 23v1m1-29v2m1-2v2m0 29v1m1-6v2m3-53v2m0 13v2m2-5v2m0 11v2m0 19v2m2-41v2m0 18v1m0 33v1m2-53v1m1 20v1m0 18v2m0 6v2m1-50v1m1 21v2m2-57v2m0 21v1m1-42v2m1 49v1m1 26v2m5 6v2m0 5v2m1-35v2m4-15v2m0 13v2m1-23v1m3 18v2m0 41v1m1-60v2m2 11v2m2-15v2m2-20v2m3 18v1m0 44v2m2-80v2m0 32v2m4 55v2m1-28v2m1-18v2m0 24v2m2 11v3m1-22v1m3-36v2m5 44v2m2-30v2m1-10v2m1 8v2m0 30v2m2-85v2m0 72v1m2-91v2m1 93v1m1-78v2m4 65v1m4 18v2m2-15v2m1 3v2m4-12v2m1 11v2m4-114v2m0 96v1m1-449v1m0 463v2m1-80v2m1 78v1m2-16v2m4-7v3m4-1v1m1 2v2m1-2v2m0 8v1m0 2v2m2-38v2m2 6v2m2 11v2m5-80v2m1 13v2m0 35v2m8 23v1m3-3v2m1-41v2m6 50v2m2-85v2m0 34v2m3-4v2m1 44v2m0 6v2m1-8v1m2-32v1m0 23v2m1-4v2m3-24v1m1 23v2m2 3v2m2-90v2m1 81v2m7 0v1m3-63v1m0 38v2m1 14v2m2-3v1m1 21v2m4-49v2m1 36v1m6-24v1m0 15v2m1 1v2m4-145v2m1 122v1m1-66v1m2 82v1m2-34v2m1-85v2m0 68v2m0 19v2m0 3v2m0 5v1m0 10v2m2-7v2m0 13v1m1-65v2m0 36v1m1-9v1m0 39v2m1-29v1m2-36v2m0 54v1m1-30v1m0 31v2m1-132v1m0 90v2m0 22v2m0 5v2m2-33v2m0 27v2m2-20v2m1-2v2m2-49v2m0 71v2m2-39v2m5-28v2m0 50v2m1-80v2m0 92v2m1-64v2m1-24v1m2 70v2m4 8v2m1-67v2m1-15v2m4 63v2m6-33v2m0 27v2m0 7v1m1-55v1m3-30v1m0 47v2m0 2v1m1-47v2m0 68v2m3-109v1m1 30v1m4 78v2m3-83v2m2 53v2m2-49v2m0 47v2m0 13v1m0 8v2m1-51v2m0 25v1m6 25v1m0 2v1m3-8v2m1-72v2m1-47v1m0 114v2m0 5v1m1-71v1m4 15v2m4 49v3m1-38v2m2 29v2m3-474v2m1 386v1m1 65v2m2-46v2m0 11v2m4-36v2m0 62v1m0 18v2m1-33v2m1-33v2m3 55v2m1-482v2m2 467v2m1-90v2m4 53v2m3-34v2m0 6v2m0 70v1m1 2v2m2-13v1m0 8v2m6-3v1m2-45v1m3-53v1m3 87v1m2 2v1m3-32v2m0 42v1m1-14v1m1-37v2m3-13v1m0 65v2m1-29v1m1-40v1m0 38v1m1-52v2m4 57v1m2-32v2m4 1v2m2-8v1m0 28v2m0 8v1m1-5v2m2-44v2m0 45v2m2-47v1m2 30v1m0 17v1m1-47v2m0 37v2m1-21v1m2-44v2m0 37v2m11-7v2m4-13v2m1-51v2m1-2v2m1 84v2m1-5v2m4 10v1m1-8v2m1-17v2m1-24v1m0 2v2m1 45v2m1-26v1m1-101v2m1 103v1m1-26v2m0 29v2m1-10v2m0 19v2m1-54v2m2 44v1m2-68v1m0 54v2m1 11v2m2-7v2m1-16v1m1 12v1m1-63v1m1 75v2m1-47v1m2 35v1m2-36v2m0 34v2m1-18v2m3-67v1m0 46v2m1 6v2m0 19v2m1-34v1m3 43v1m3-27v1m2 0v2m0 8v2m1-52v1m0 36v2m0 24v2m2-10v2m2-59v2m1-12v2m0 21v2m0 40v2m1 0v2m2-48v2m1 37v2m2-24v1m0 26v2m3-13v2m1-20v3m2-24v1m1 59v2m2-7v2m3-41v2m0 5v1m2-8v2m0 32v2m1-72v2m1 70v2m1 0v1m0 3v2m1 3v2m1-15v2m1-34v1m0 30v1m2 0v2m4-26v2m0 9v2m1-39v1m1-53v1m1 93v2m1-28v2m0 8v2m1-5v1m1 8v2m0 13v2m0 1v2m2-31v2m0 6v2m1 5v1m2-32v1m0 38v1m2-78v2m0 81v2m2-8v1m2-60v2m0 49v1m1-44v2m0 41v1m0 12v1m2-29v2m1-66v2m3 41v1m0 27v1m4 12v1m4-11v1m1 10v2m5 19v2m1-2v2m1-65v1m3 59v2m1-26v1m0 2v2m0 8v1m1-52v2m2 47v2m2-38v2m0 45v2m2-62v2m0 15v1m1 28v1m0 15v2m1-65v1m0 20v1m1 33v2m1 8v1m3-35v1m2-16v2m1 42v1m2 2v2m0 1v2m1-26v2m1 13v1m1-31v2m0 26v2m1-46v2m0 50v2m2-13v1m2-53v1m0 39v2m0 11v2m5-51v2m1 3v2m0 26v2m5 11v2m4 8v1m4-53v1m3 57v2m2-3v1m3-5v2m1-32v1m0 7v1m0 10v2m5-98v2m0 78v1m2-8v2m0 11v2m1-18v2m0 26v1m1-3v2m3-5v1m0 13v2m2-50v1m0 7v1m0 33v2m1 0v1m2-23v2m2-13v2m2 39v1m2-18v2m0 10v1m1-14v1m5-83v2m1 31v2m2 1v2m0 57v1m1-3v2m2-121v2m0 55v2m1 6v2m3 49v2m0 6v2m2-13v1m2-29v2m1 9v2m0 21v2m2-18v2m1-70v1m2 59v1m2 0v2m5-42v1m0 46v2m3-5v1m1 17v1m0 8v2m1-20v2m0 5v2m1-28v2m3-20v2m4 27v2m0 11v2m1 0v2m1-72v2m0 19v2m1-26v1m0 39v2m0 18v2m0 14v2m2-33v2m3-41v2m1 65v2m1-77v2m0 34v2m2 37v2m0 3v1m3-78v2m0 62v1m1-63v2"/>
<path stroke="#ea9400" d="M4 581v2m2-3v1m2-16v2m1 21v1m0 15v2m3-13v1m2 8v2m1 10v1m2-11v2m3-4v2m2-3v1m1-47v2m1 16v2m3 34v1m1-27v1m1-4v1m1-10v2m0 10v1m1-21v2m6-10v2m3 37v2m4-21v1m1 15v2m1-12v2m2-23v2m0 3v2m1-7v2m0 39v1m0 7v1m1-6v2m2-26v1m1-24v1m0 2v2m1 40v2m1 5v1m4-47v2m0 37v2m2-2v2m1-26v2m0 9v2m4-13v2m0 11v2m4-4v2m5-8v1m0 22v1m0 2v1m2-27v1m2 7v2m2-12v2m1 10v1m1 3v2m2 16v2m1-77v2m1 60v2m2-23v2m2-30v2m0 8v2m0 21v2m0 24v2m1-44v1m0 23v2m1-15v2m1-7v2m5-18v2m0 31v1m2-34v2m4 19v2m1-34v1m0 46v1m0 5v2m1 3v2m3-33v2m1-18v2m3 40v2m4-18v2m1-2v2m4 22v2m4-21v2m2-35v2m0 31v2m1 3v1m1-29v2m1 26v1m1-37v2m2 26v1m1-55v2m1-10v1m4 87v1m1-3v2m1-59v2m1 3v2m2 50v2m1-49v2m0 45v2m4-17v2m1-41v2m3 13v2m2 26v1m0 13v2m2-15v2m4-3v1m4 4v1m1-21v2m4-18v1m2 43v1m1-27v1m0 15v2m1 1v2m4-7v2m3-15v2m0 11v2m0 8v2m2-54v2m1 18v1m3 20v1m4-29v2m1-28v2m0 35v2m1-13v2m1-18v1m1 36v2m1-7v2m5 15v1m1-453v2m3 370v1m1 88v2m6-10v2m0 3v2m3-103v2m3 81v2m6 6v2m2-42v1m6 39v2m5 8v2m9-8v1m2-23v2m7 16v2m1-111v2m4 70v2m6 21v1m1 25v1m2-52v2m1 32v2m2-16v1m1-24v2m6 31v1m0 5v2m2 8v1m3-21v2m4 0v2m1 0v1m1-19v1m0 8v2m16 28v1m1-45v1m5 13v2m1-24v1m2 39v2m5-57v2m0 19v2m3 23v1m1-13v2m1 21v2m1-53v2m4 49v2m3-2v2m0 3v1m2-63v2m0 50v2m1-74v2m0 47v2m0 3v2m2 11v2m1 1v2m5-50v1m2 28v2m0 34v1m5-53v1m0 30v1m4-29v2m3 26v1m0 8v2m1-36v2m1 32v2m2 0v2m3-30v2m2 29v2m2-12v2m1 2v1m9-60v2m0 44v1m1 12v1m2 4v1m4-27v1m2-19v1m0 52v2m1-99v1m5 91v2m5-93v2m4 81v2m4 2v1m3-39v2m1-17v2m0 52v2m1-25v2m4-36v2m4 52v2m1 4v2m2-106v2m6 21v2m0 65v1m2-14v1m5-22v1m2 34v2m2-81v1m1 12v1m1 23v2m0 47v2m1-2v2m5-4v2m2-78v1m5 83v2m7-3v1m2-3v2m3 5v1m3-66v1m0 65v2m1-10v2m6-49v2m2-46v2m3 86v2m1-20v2m1 8v1m0 4v1m1-39v2m0 16v2m3-54v2m0 39v1m2-27v1m0 4v1m2 17v1m3 31v2m6 8v1m1-13v2m0 15v1m4-73v2m0 45v2m1-20v2m10 29v2m1-47v1m0 2v3m1 2v2m5 35v2m2-39v2m1 0v1m0 36v2m1-44v1m2-10v2m0 51v1m1-3v2m6-48v2m1 36v1m6-26v2m0 3v2m0 36v1m3-13v2m2 11v2m6-55v1m2 38v1m1-1v1m2-40v1m1 39v2m1-3v1m14 13v2m1-20v4m2 3v2m13-4v2m1-2v2m2-2v4m1-51v2m1 10v3m1 31v1m1 7v1m2-43v1m0 47v2m1-13v2m1-2v2m3-2v2m6-41v2m0 39v1m3-31v2m1-23v2m6 58v2m2-18v2m0 5v1m1-122v2m2 88v1m4 39v2m1-60v1m0 9v1m3 38v1m1-37v1m0 9v3m2 31v1m1-3v2m1-75v1m0 53v1m1 0v2m1-44v1m1 41v2m9-121v2m3 72v1m2 65v2m1-13v2m0 8v1m2-24v2m2 3v1m1 17v1m1-133v1m3 70v2m1 46v1m1-49v2m1 2v1m4 0v2m3 5v2m2 35v2m0 2v1m1 7v1m4-14v1m3-40v1m1 38v1m2-42v2m1 45v2m3 5v1m1-47v2m1 39v1m1-8v2m2-46v2m2 2v1m2 8v2m1-24v1m2 21v2m1 18v2m0 17v2m2-16v1m1 7v2m1-38v2m1-13v1m2-3v2m0 44v1m3 13v2m1-60v1m5 33v2m1-18v1m13 13v2m5-16v1m0 31v2m1-3v1m1-125v1m4 119v2m2-51v2m3-6v1m1 54v2m3-23v1m3 18v2m1-75v2m3 45v2m2 6v2m1-15v2m1-13v2m1 9v2m5-37v1m1 15v1m0 10v2m0 15v1m0 28v1m3-50v2m1 22v2m1-5v2m2-15v2m0 19v2m2-18v2m3 29v2m1-53v2m1-15v2m1 33v1m1-26v2m2 19v2m0 20v1m0 18v2m1-39v1m2 25v1m1-6v1m0 9v1m1-6v1m4-3v2m0 1v2m1-11v1"/>
<path stroke="#f0b000" d="M0 550v2m5 23v1m1-16v2m1 8v1m1 4v1m3 23v2m4 5v1m1-21v2m1-21v1m0 33v3m5 0v2m6-41v2m5 6v2m0 9v2m1 11v2m3 11v2m2-16v1m4-22v1m0 8v2m1-18v2m5 6v2m0 21v2m2-44v1m4 2v2m1 50v2m3-17v2m2-19v1m1 29v2m2-44v2m6 5v1m1 34v2m6-10v2m1-44v2m2 22v2m1-13v2m7 1v2m1 32v2m1-52v2m1 11v2m5-2v2m0 11v2m0 13v1m2 0v2m2-7v2m1-10v2m1 6v2m0 7v1m2-8v2m1-15v2m1 13v1m1 2v2m7-43v2m0 18v1m5-16v2m1 24v2m0 10v1m1-10v2m1 0v2m2 3v2m1-12v2m1-15v2m0 16v2m1-51v2m3 58v2m2-59v2m0 59v1m1-19v1m6-19v2m0 27v2m1-26v1m4 4v1m0 12v1m1-37v2m3 14v2m4 6v2m0 13v2m1-43v2m6-7v2m4 31v3m5-11v1m2 25v1m4-37v2m1 26v1m16-19v1m0 22v1m1-3v2m13-90v2m4 53v2m1 23v1m1-16v2m5 1v2m1 13v2m2-41v2m7 26v1m0 15v2m1-28v2m9 17v2m3 10v1m1-34v2m3 34v2m1-49v2m0 48v2m1-13v2m0 6v2m2-8v1m2-29v2m3 11v2m2 6v2m9-450v2m0 448v1m1-66v1m3 64v1m4 4v1m2-6v1m7-66v1m2 28v2m1 48v2m2-3v1m4-37v2m9-12v2m0 36v1m9-58v1m4 57v2m5-5v2m1-20v2m2-57v1m0 30v1m1 17v1m10 16v2m0 10v1m2-14v1m3-477v2m2 428v2m1 44v1m1-37v2m8-13v1m2 28v2m3 22v2m5-23v2m4-36v2m0 52v1m2 2v2m1-82v2m0 71v2m3 13v2m2-28v2m5 16v2m2-48v2m10 52v2m3-78v1m5 41v2m3 22v2m2-2v2m1-70v2m0 3v1m5 69v1m1-81v2m0 57v1m6-68v2m0 57v1m3 15v1m4-1v1m2-71v1m1 74v1m10-44v2m0 23v1m0 15v2m3 5v1m6-34v2m0 8v1m8-11v2m7-2v2m0 9v2m0 24v2m3-41v2m3 37v2m1 3v2m1-7v2m6-10v4m7-23v1m5-13v2m4 26v2m1-8v1m3 10v2m2-67v1m1 51v2m2 8v1m1 0v2m1-26v2m2 27v5m1-47v2m1 13v1m2-5v2m4-11v1m5 31v2m5-49v1m1 30v1m10 13v2m1-19v1m3 10v2m3-7v2m2 13v1m5-24v2m1 9v2m4 11v2m4-70v2m5 53v2m0 16v2m4 6v2m1-11v1m2-73v2m2 68v2m2 9v2m4-18v2m1-28v2m7-8v1m2 7v1m0 26v2m3-16v1m1-19v1m3 0v2m1 0v2m3-7v2m7-8v1m2 39v2m7-44v2m1 21v1m2 20v2m2-4v2m2-24v1m0 18v2m4-2v2m3 5v1m1-3v2m3-22v2m5 16v2m2 0v2m5-28v2m4-17v2m1 8v2m6-25v2m7 54v1m1-117v2m0 39v1m0 69v1m2-9v1m0 7v1m6-50v1m4 7v2m0 42v2m4-51v2m5 6v2m2 31v1m2-40v1m0 30v1m0 21v2m2-5v2m5-57v1m6 49v2m8-18v2m0 11v2m1 14v2m9-26v2m4-41v1m0 62v2m1-3v1m1-6v1m3-16v2m2-10v2m2 24v2m7-49v2m0 16v1m4 5v2m1-21v1m3 23v2m4-44v1m3 44v2m1 2v1m1 8v2m4-45v1m3-18v2m1 58v2m2-15v2m0 2v1m3-19v1m4-44v2m1 46v1m6-9v1m3-34v2m0 52v1m1-35v1m4 44v2m3-31v1m3 17v1m3 5v2m1-8v1m0 10v2m2-65v1m0 57v2m3-13v1m1-8v2m7-20v2m1 34v2"/>
<path stroke="#f5cb00" d="M0 609v1m3-35v1m2-9v1m1 29v2m6-32v1m4-42v1m5 74v1m7-9v1m8 8v2m1-29v1m0 18v2m9 6v2m4-54v2m0 49v1m1-34v2m3-10v2m3 26v1m1 13v2m2 6v2m1-31v2m0 10v1m3-11v1m1 18v2m6 3v2m1-29v1m0 12v1m4 5v2m4 8v1m3 5v2m3-11v3m4-56v2m2 60v2m1-54v2m0 42v2m1-5v2m0 1v2m2-12v2m0 10v1m2 2v2m1-39v1m1-3v2m0 32v2m2-7v2m6-3v1m7 0v2m2-5v2m4-44v1m2 41v2m1-43v2m6 44v2m6-51v2m3 42v2m6-23v2m2 4v2m2 24v2m2-3v1m2-11v2m3-43v2m15 8v2m1-3v1m3 42v2m1-13v2m2 6v2m1 3v2m7-4v2m12-13v2m4-34v1m5 31v2m6 9v2m4-39v2m1 29v2m11-51v2m6 47v2m12-4v2m4-62v2m2 37v2m3-425v1m0 445v2m2-36v1m4 39v2m4-472v1m2 452v1m4 12v1m4-32v1m8 30v1m4-21v2m4 3v2m8-33v2m13 0v1m1 13v2m0 13v2m2 17v2m2-2v2m2-19v1m6 5v2m3-36v2m2 16v1m4-32v1m2 0v2m1-31v2m6 49v1m1 2v2m2 27v2m5-28v2m10 3v2m4 3v2m0 1v2m5-36v2m5 42v2m1 6v2m5-7v2m3-46v2m1 16v2m0 19v2m0 6v2m3-10v2m5-5v2m2 1v2m5-20v2m5 18v2m2-31v1m4-11v2m10 27v2m1-46v2m14 37v2m5-7v2m1 18v2m7 8v1m4-18v2m3 16v2m3-49v2m3-5v2m3 32v2m1-26v1m2-5v2m0 20v1m2-36v2m1 42v2m10-46v2m2 46v1m4-111v2m3 104v2m1-11v1m6-31v2m5-5v2m3 5v1m1-28v2m1 72v1m1-11v2m8-10v1m1-39v2m0 28v1m0 13v2m0 3v2m14-23v2m2 16v2m0 4v2m5-47v2m5 1v2m0 32v2m1 8v2m1-67v2m1-56v2m1 115v2m1-21v2m1 17v2m2-15v2m8-8v2m5-10v1m1-31v2m1 49v2m8-2v2m4-5v1m6-18v2m4-6v1m3-29v1m4 25v2m5 21v1m6 10v2m3-61v2m3 49v2m0 3v1m11-71v1m2 30v1m1 31v2m4-37v1m0 29v2m3 13v2m4-8v1m4-37v1m1-18v2m0 51v1m1-40v1m1 13v2m2-2v2m1 16v2m0 6v2m3 0v1m4-9v1m0 8v2m3-31v2m12 13v1m3 13v2m3-5v2m4-26v1m0 18v2m3-55v1m3 39v2m1 10v1m2-14v1m0 4v1m1 20v1m1-40v1m1 13v2m1-29v1m4 36v2m2 11v2m1-10v2m1-2v2m3-41v2m0 39v1m6-67v2m1 55v2m0 5v2m5-49v1m3 52v4m3-31v1m8-17v1m4 44v2m1-26v1m0 7v1m4 4v1m1-52v2m3 44v1m3 4v1m2-3v2m5-23v2m0 26v1m2-36v2m11 34v2m4 5v1m1-34v2m3-28v2m2 44v1m0 8v2m5-55v1m3 52v2m2-5v2m2-62v2m1 11v2m2 29v2m3-2v2m1 9v2m3-60v1m2 57v2m0 10v1m2-66v1"/>
<path stroke="#fae500" d="M5 570v1m2 20v2m2-12v2m3 18v1m7-6v1m9-22v1m1 18v2m1-21v1m0 36v3m4-16v2m3 3v2m4-26v1m7 23v2m2-44v1m2 38v1m1-11v2m0 1v2m12 14v2m8-54v2m3 16v2m6 34v2m3-26v1m5-11v2m0 3v1m1 23v2m3-28v2m4 18v1m11-34v2m0 32v2m4 0v2m7-7v2m7-49v1m6 49v2m3-20v2m1 11v2m12-36v2m1 39v2m1-22v2m1 29v2m13-11v1m2-3v2m1-53v2m1 51v1m7-36v2m0 23v1m6 7v2m3-23v1m8 22v1m1-49v2m4 41v1m8-27v1m35-3v2m0 29v2m3-26v1m4-23v2m0 47v2m1-3v1m4-3v2m1-4v2m15-10v2m7 5v1m2-40v1m11 13v2m8 23v1m4-42v2m0 8v1m1 23v2m2-5v2m10 4v2m1-13v2m14 9v2m0 11v2m8-50v1m2 39v2m1-42v1m1 39v2m4 2v1m3-11v1m3-39v2m2 44v2m1-2v2m2-48v2m9 50v2m6-11v1m1-26v2m7 15v1m9-37v1m12 43v1m4-3v2m3 3v2m8-41v2m1 35v2m12 0v2m2-12v2m1 5v1m1-35v1m3-15v2m0 55v2m10-45v1m9 34v2m6-33v2m5 20v1m2 3v2m3-10v2m3-13v2m3-30v2m3 57v1m3-21v2m2 8v2m6-61v2m2 64v1m5 0v2m2-8v1m4-3v2m3-5v1m20-29v2m5 37v2m3-7v2m6-23v2m0 26v1m1-19v2m5 0v1m1 16v2m1-24v1m1 8v2m1-37v1m7 18v2m1-25v2m0 23v1m2 22v1m6-8v2m4-20v2m3 19v2m4-52v1m0 56v1m3-8v2m2-11v1m0 7v1m8 4v1m2 3v2m3-34v2m2 21v1m4-32v1m1 7v2m0 21v1m6 13v2m15-16v1m8-44v2m8 49v1m3-22v1m1 25v1m10-31v2m3 21v2m1-42v1m10 23v2m0 21v1m4 0v2m1-52v2m5 35v2m2-33v2m0 33v1m9-27v1m0 21v2m2-15v2m2 8v2m11 5v1m1-50v1m3 38v1m1-40v1m5 28v2m4 18v1m0 2v1m1-6v2m3 0v1m1-10v2m1 5v3m5-1v1m8-26v2m7-54v2m3 75v1m3-11v1m5-8v2m0 8v2m3 0v1m4-6v1m3-37v2m5 44v1m2-1v1m1-44v2m2 44v1m1-4v1m1-19v1m1 15v2m1-49v1m3 13v2m5 23v1m0 4v1m2-32v1m8 10v2m7 6v2m2 24v2m2-44v2"/>
<path stroke="#ffff00" d="M0 601v1m0 2v2m0 6v2m1-65v1m0 36v2m0 18v1m1-5v4m1-5v1m0 8v2m1-54v2m0 54v1m1-27v1m0 12v1m1-16v2m1-13v1m0 21v2m0 5v2m2-36v1m0 26v2m1-34v2m0 1v2m0 11v2m0 23v3m1-7v2m0 3v2m1-20v2m1-10v2m0 14v2m1 0v3m0 2v3m2-49v2m0 21v2m0 13v1m0 5v2m1-42v1m0 13v2m0 31v1m1-9v1m1-34v2m0 24v2m0 3v2m0 8v1m1-26v2m0 2v3m0 15v1m1-29v2m1 17v2m0 10v1m1-27v1m1-4v1m0 13v2m1 5v3m1-37v1m0 15v1m0 28v2m1-34v1m0 20v3m1-2v2m1-42v1m0 38v3m1 0v3m1-112v1m0 69v2m0 8v1m1-47v2m0 62v1m1 8v2m2-2v2m1-5v2m1 0v1m1 2v2m1-17v2m0 11v2m1-24v1m1 12v1m1 8v2m1-28v2m2 29v2m1-34v1m0 38v1m1-13v2m1-2v2m1-47v1m0 4v1m0 15v2m0 24v2m1-28v3m0 3v2m0 10v3m0 3v2m0 5v1m1-16v2m0 8v2m1-31v1m0 20v1m0 7v2m1-74v2m0 75v1m1-3v2m2-12v2m0 3v2m0 6v2m1-2v2m1-52v2m0 42v2m1-20v2m0 11v2m1-43v2m0 7v1m0 34v2m1-13v2m0 8v1m1-35v1m1 3v2m0 39v2m1-20v2m1-70v1m0 72v2m1-2v2m0 11v2m0 1v2m1-15v2m1-23v2m0 10v3m0 10v1m0 3v2m2 0v2m1-49v2m0 37v2m1-38v2m1 10v1m1 18v2m2-39v1m1 31v2m0 5v1m0 2v3m1-14v1m0 8v2m1 8v2m2-23v2m0 9v2m0 2v1m1-80v2m0 39v2m0 29v2m1-43v2m0 3v2m0 39v2m1-46v2m0 35v2m1-3v1m0 17v1m1-14v1m2-9v1m0 5v2m0 3v3m2-21v2m0 1v2m0 21v2m1-474v1m0 455v1m1 4v1m0 8v2m3-54v4m0 9v2m1 16v2m0 13v3m1-45v1m3 15v2m1 3v1m0 2v2m0 8v1m0 4v1m1-9v1m0 18v2m1-13v3m1-39v2m0 17v2m0 8v2m1 0v1m0 13v2m0 2v1m1-44v2m2 23v1m1-9v1m1-62v2m0 70v2m0 8v1m1-52v2m0 3v2m0 36v1m0 2v2m1-35v2m1 29v2m0 10v1m1-14v1m1-9v1m0 13v2m1-29v1m0 2v1m1 22v1m1-18v2m0 13v3m1-27v1m0 25v1m1-47v2m0 31v1m1-21v2m0 24v2m1-5v1m0 4v1m1-16v2m1 22v2m1-60v3m0 42v2m0 5v2m1-44v1m0 34v2m1 5v2m2-30v2m0 37v2m1-24v1m0 20v1m1-3v2m1-30v2m1-13v2m0 19v2m0 11v2m1-5v2m1-30v2m0 6v2m0 18v2m2-5v1m1-26v4m0 21v1m0 4v1m1-32v1m0 36v2m1-21v1m0 8v2m1-46v2m1 29v2m1-34v1m0 22v1m1 16v2m2-23v2m1 16v2m0 1v2m0 5v2m1-23v1m0 26v2m1-47v2m3 3v1m0 41v2m1-47v1m1 23v2m0 22v2m1-16v3m0 3v2m1-44v2m1 43v2m1-34v2m0 21v1m1-27v1m0 34v2m1-39v2m2-10v2m1 35v2m0 2v1m1-14v1m0 3v2m1-5v2m0 11v2m1-44v2m0 26v1m1-37v1m1 38v3m0 10v1m2-39v2m1 37v2m1-6v1m0 2v1m1-53v1m0 15v2m1-8v1m1-6v1m2 38v1m2-42v2m0 35v2m0 5v2m1-15v2m0 3v1m1-26v2m0 11v2m1-10v2m2 23v1m2 4v1m1-54v4m0 45v2m1 0v2m1-15v2m0 22v2m1-10v2m1-13v1m0 5v2m0 5v1m5-16v2m0 8v2m2-49v1m1 35v1m1 10v2m1-23v1m0 18v2m1 0v2m1-7v2m0 14v2m1-15v2m1-16v1m0 17v1m0 3v2m1-52v2m1 19v2m1 26v1m0 4v1m3-31v2m0 15v1m0 13v2m2-54v2m0 44v1m3-8v2m1-13v2m1-17v2m0 11v2m0 10v1m2-21v2m1 19v4m2-44v1m0 36v2m1-34v1m0 33v1m1 0v2m1-37v1m0 39v2m1-26v1m1 5v2m1-33v2m0 44v2m1 0v1m1-29v2m1 21v1m0 2v3m1-36v2m0 31v2m1-460v2m0 461v1m2-469v2m0 438v2m0 23v1m1-27v1m0 12v1m4-11v1m1 17v1m1-34v2m3 31v1m1-60v2m0 60v2m0 1v2m1-41v2m1 34v2m2-22v2m1 24v2m1-18v2m0 10v3m1 0v1m3-9v1m0 4v1m1-8v2m0 13v1m1-14v3m3-23v2m0 1v2m0 18v3m1-5v2m0 2v1m0 2v1m2-35v1m1 8v2m2-62v2m0 78v2m1-5v1m1-1v1m4 4v1m0 8v2m1-36v2m0 18v1m1 4v1m1-10v2m1 2v1m1 0v2m2 2v1m1-47v2m1 39v1m0 12v1m1-18v2m1 5v2m0 6v2m1-13v1m1-13v2m0 18v1m4-9v1m1-19v1m0 4v1m0 15v2m1-5v1m2-62v2m0 41v1m1-34v2m0 31v1m0 18v2m0 2v1m1-14v1m2-29v2m1-44v1m0 54v2m0 32v2m1-23v2m0 1v2m3 5v1m3-35v1m0 16v2m2 18v2m1-7v2m0 1v5m1-6v3m1-34v1m1-35v1m0 77v1m3-9v1m1 3v2m2-42v1m1-4v1m2 13v2m0 19v2m0 2v1m1-40v1m1 34v2m1-31v2m0 27v2m1-31v2m0 35v2m1-34v2m1-457v2m2 430v2m0 45v4m2-49v1m0 25v1m1 15v2m1-8v1m1-34v2m1 9v2m0 34v2m1-44v2m0 14v2m0 1v2m0 18v2m1-44v1m1 31v2m0 8v2m3-483v2m0 437v1m0 33v1m0 4v1m0 7v1m3-26v2m0 16v2m1-46v2m3 41v1m1-19v1m1 17v1m1 2v2m1-26v1m1-37v1m1 54v2m0 3v2m2-124v1m0 119v2m0 5v1m1-26v2m2-11v1m0 28v2m2-49v1m0 43v1m2-37v2m1-9v2m0 28v1m1-37v1m0 62v2m1-39v2m1 29v1m1-27v1m0 20v3m3-24v1m0 18v2m2-44v2m0 40v2m1-3v1m2-68v2m0 63v2m0 1v2m1-54v2m0 10v1m0 38v1m3-50v1m0 44v2m1-39v2m0 13v1m0 26v2m2 5v1m1-34v2m1 2v1m0 23v2m1-48v2m0 41v1m1 0v2m0 11v2m3-484v2m1 466v1m3-1v1m2-55v2m0 55v2m2-30v2m0 36v1m2-14v1m1-21v2m0 18v1m1-22v1m0 16v4m2-48v2m0 7v1m0 52v2m2-55v1m1 46v1m1-35v1m2-24v1m0 49v2m4-36v2m0 32v2m0 11v2m1-65v1m0 17v1m0 23v2m1 14v2m1-31v2m0 19v4m1-7v3m1-27v1m0 2v2m0 1v2m1 1v2m1-21v2m0 35v2m0 8v2m1-52v1m0 41v2m1-4v2m1-31v3m0 20v1m1-4v1m2 18v2m1-21v1m0 21v2m1-49v2m0 23v1m2-24v1m1 30v1m1 0v4m1-36v1m1 2v2m1 27v2m3-42v1m0 38v1m0 13v2m1-2v2m5-15v2m1-15v2m2-16v1m1-3v2m1 19v2m0 5v1m0 12v1m2-22v1m0 20v1m3-50v2m0 32v2m1-38v2m1-16v1m0 2v1m2-40v1m1 83v2m4-15v2m1 18v2m3-4v2m0 2v1m1-120v1m0 85v2m0 16v2m0 8v1m1-1v1m0 5v2m1-52v1m1 48v1m1-18v2m2-5v2m1-30v2m1 44v2m1-15v2m0 4v2m1-21v2m1-20v2m0 39v1m0 8v2m3-44v2m0 8v2m1 22v2m1-39v2m1 11v2m2 27v2m1-23v2m0 24v2m1-44v1m0 17v1m1 2v2m0 8v1m2 0v2m0 2v1m1-5v2m1 5v1m1-16v2m1-23v2m0 16v2m0 6v2m0 3v2m1 8v1m1-39v2m0 24v2m1-111v2m0 107v2m0 8v2m1-38v2m0 28v1m1-24v1m0 18v2m0 11v2m2-11v1m1-32v1m0 31v2m2-5v2m1-13v1m0 21v2m1-2v2m1-57v2m0 26v1m0 12v3m1-13v2m0 8v1m2 2v2m1-7v3m1-47v2m0 50v3m2-37v2m0 39v1m1-44v2m2-11v1m0 39v2m1-51v2m0 51v1m1-50v1m0 5v2m0 39v2m0 9v2m1-37v1m0 23v2m1-49v1m0 7v2m0 45v2m1-10v2m1-41v2m0 37v2m2-41v2m0 34v1m1-5v2m1-3v1m0 18v2m1-36v2m1-5v2m0 11v2m0 14v2m0 6v2m1-41v2m3 24v2m2-15v2m1 8v2m1-2v2m0 3v2m1-145v1m0 103v2m1 34v1m2-1v1m0 7v1m1-35v1m0 26v2m0 5v1m1-34v2m0 5v1m2-31v2m0 46v1m1-50v1m1 51v2m1-36v1m0 22v1m0 18v2m1-20v2m1 5v1m2-37v2m0 26v1m0 7v1m1-18v2m0 15v1m1 2v2m1-7v2m0 1v2m1-57v2m0 60v1m0 2v2m1-17v2m1-2v2m1-3v1m0 7v2m0 6v2m2-51v2m1 39v2m0 1v2m1-56v2m0 44v2m1-15v2m0 6v2m3-25v2m0 28v1m2-18v2m1 18v2m1-22v2m1-29v1m0 56v1m2-5v2m1-55v1m0 35v1m0 16v2m1-111v2m1 67v1m1-50v2m0 76v2m1 0v1m3-8v2m0 6v2m0 2v1m2-37v1m0 13v2m0 16v2m0 3v3m1-27v1m0 7v2m1-64v2m0 27v2m0 41v1m4-32v1m0 38v1m0 4v1m1-11v3m1-16v2m1 3v1m1-11v2m1-10v2m0 19v2m1 1v2m0 6v2m1-18v2m2-2v2m0 8v2m1-26v1m0 18v2m1-17v2m0 15v1m1-1v1m1-16v2m0 14v2m1-3v1m2-37v2m0 14v2m0 10v1m0 10v2m1-46v2m0 11v2m0 9v2m0 13v2m0 1v2m2-3v1m1-60v2m0 42v2m0 14v2m1-37v1m0 36v2m1-7v2m0 1v2m1 6v2m1-59v2m0 34v2m0 3v2m1-18v2m0 9v2m1 21v2m1-12v2m0 2v1m0 3v2m1-18v2m2 5v1m1 5v2m1-16v1m1 10v2m1-39v1m0 3v2m0 15v1m1-31v2m0 42v2m1-37v1m3 38v1m1-42v2m0 3v1m0 10v2m1 13v1m0 4v1m0 4v1m2-42v2m0 13v1m1-31v2m0 31v1m0 18v2m0 3v2m1-10v2m1-23v2m1-41v1m1 54v2m0 8v2m2-12v2m0 14v2m1-59v2m0 31v2m0 21v1m1-9v1m1-3v2m0 6v2m1-33v2m0 18v1m2 5v2m0 6v2m0 2v1m3-57v2m1 29v2m2 24v2m1-54v2m0 45v2m1-52v2m0 32v2m2-36v2m0 39v1m1-5v2m1-10v2m0 11v2m1-44v2m1 6v2m0 5v3m0 26v2m1-28v2m0 1v2m2-31v1m0 18v2m3 33v1m0 3v2m1-42v1m0 43v1m2-117v2m2 96v1m0 5v2m0 10v1m2-14v1m2-6v1m1 4v1m1-8v2m1-2v2m1-26v1m0 22v1m0 8v2m1-18v2m0 3v2m0 6v2m0 11v2m2-38v2m0 24v2m0 2v1m2-6v1m1-16v2m0 18v1m1 3v2m2-6v1m0 2v1m2-65v2m1 36v1m0 9v1m2-73v2m0 86v1m1-4v1m1-1v1m0 7v3m2-29v1m0 12v1m0 5v2m2-62v2m1 55v2m1-4v2m0 3v2m1-28v2m0 21v2m2-28v2m1 26v1m1-3v3m1 8v2m1-34v1m0 2v2m0 13v1m0 12v1m2-37v2m0 13v1m0 7v1m1-47v2m1 42v2m2-67v2m0 48v2m0 13v2m1-25v2m1-7v2m0 26v2m0 8v1m1-79v1m1 56v3m0 15v1m1-19v1m1 12v1m1-40v1m0 2v2m0 34v1m0 5v2m1-8v1m1-47v2m0 21v2m0 27v3m1-40v1m0 31v4m2-49v1m0 44v4m1-18v1m0 13v2m1-54v2m0 6v2m0 39v2m1-17v2m0 3v2m1-36v2m0 44v1m0 2v2m0 4v2m2-55v1m0 39v2m0 10v1m1-11v2m0 1v2m2-143v1m1 93v2m1 19v2m0 19v2m2-8v2m1-44v1m0 15v2m0 39v1m0 7v1m2-39v2m0 11v2m3-8v1m1 17v1m1-21v2m1 19v2m2-23v2m1 0v1m1 10v2m1-38v2m0 8v2m0 42v2m0 1v2m1-13v2m1-4v2m0 8v2m1-54v2m0 29v2m1-4v2m0 11v2m2 5v1m0 5v2m3-36v2m0 13v1m1-34v2m0 11v2m0 24v4m1-10v1m0 4v1m1-27v1m0 5v2m0 18v1m0 5v2m1-18v2m1-25v2m0 45v2m1-13v2m1-4v2m1-3v3m1-20v2m0 18v2m0 4v2m1-68v1m1 67v2m1-12v2m1 6v2m2-10v2m1-39v2m0 22v2m2-13v2m0 26v3m1-21v1m1-6v1m0 4v1m1-9v1m1 12v3m0 6v2m2-46v2m0 39v3m0 8v2m1-41v2m0 7v1m1-5v2m0 15v1m1-60v2m0 26v1m2-6v1m0 41v2m1-43v2m0 13v2m0 1v2m0 15v1m0 7v1m1-14v1m1-13v2m0 21v2m1-38v2m0 45v2m1-29v1m0 2v2m1 22v2m1-45v1m0 5v2m0 35v4m1-17v2m0 2v1m1 5v2m1 3v3m1-9v1m1-3v2"/>
</g>
<g transform="translate(105.5,55)" fill="none" stroke-width="1" shape-rendering="crispEdges" opacity="0.72">
<path stroke="#008f09" d="M368 397v2"/>
<path stroke="#048d00" d="M611 197v1m143 5v2"/>
<path stroke="#218300" d="M23 216v2m245-60v1m70 264v2m44-98v2m92-62v1m25-123v1m46-86v2m162 120v2m0 63v2"/>
<path stroke="#3e7a00" d="M21 60v2m18 57v1m15 34v2m15 266v1m42-168v2m33-205v1m29 88v2m78 296v2m76-322v1m11 51v1m19-96v2m26-34v1m12 223v2m14-62v2m105 226v2m8-3v1m27-407v2m112 104v1m17 207v2m25-238v2m5 89v2m53 197v2m1 26v1m17-161v2"/>
<path stroke="#5d7000" d="M14 177v2m25-64v2m74 75v1m37-104v2m24 156v2m40-78v1m29 228v2m74-220v2m28-30v2m1 129v1m36-163v2m9-21v1m26 243v2m21-72v2m4 3v2m31-127v1m20 26v2m21 106v1m50-34v2m4 104v2m61-228v1m20-104v2m11 13v1m59 268v1m15-168v2m6 130v2m23 55v2m2-86v1m1 166v2m22-124v2m5-179v1"/>
<path stroke="#7c6600" d="M13 330v2m46-109v1m24-31v2m22-55v1m39 12v1m16 264v2m21-375v2m6 383v1m10 2v2m35-256v1m32-140v2m9 207v1m6-42v2m1-131v2m2 284v1m69-363v1m14 395v1m52-213v2m15 99v2m14 3v1m10-246v2m27 271v1m16-6v1m1 61v1m23-371v1m7 193v1m8-189v2m15 272v2m4-134v2m22-79v2m15 28v1m24 225v2m65-311v1m23 254v2m20 156v2m5-283v1m13-31v2m6-39v1m7 27v1m3 235v1"/>
<path stroke="#914d00" d="M0 299v2m46-251v2m4 65v2m62-115v2m17 52v2m3 21v2m40 314v2m5-118v2m16-10v2m1-150v2m31-82v2m64 41v1m5 88v2m26 251v1m22-280v2m0 231v2m20-15v2m12-123v2m10 179v2m2 2v1m79-246v2m41 117v2m35 0v1m21 12v1m2 41v2m21-188v2m11 16v2m1 39v2m23-39v1m14-155v2m2 49v2m1 223v1m41-237v1m5-11v1m7 100v1m27 261v2m8-416v2m7 50v2m1 62v2m59-92v2"/>
<path stroke="#a63400" d="M73 435v1m148-282v2m1 11v2m57 171v2m12 13v1m3-257v2m32-101v1m15 100v1m36 131v1m3 72v1m1 22v1m4-254v2m25 96v2m52-90v2m13 13v1m26 290v2m92 47v2m19-279v2m25 39v1m8 175v1m27-311v2m8 176v1m24-237v1m16 425v2m2-11v1m6-205v2m22-153v1m12 16v2m10 267v2m20-311v1m5 287v2"/>
<path stroke="#b81c00" d="M117 164v2m2-38v2m1 265v2m29-231v1m112-19v1m47 199v2m18-106v2m51-237v2m5 88v2m20 6v2m52 246v1m155 4v1m86-159v1m18 113v1m10-65v2m24 83v1m37-101v2"/>
<path stroke="#cb0300" d="M136 153v1m156 176v2m29 85v1m17-322v1m17 233v2m61 76v2m68-78v2m28-225v1m237 64v2m40-82v2"/>
<path stroke="#cf0800" d="M201 422v1m166-334v2m179 50v2m13 174v2m224-155v2"/>
<path stroke="#d11600" d="M415 254v1m119 134v2"/>
<path stroke="#d83600" d="M2 153v1"/>
</g>
<path d="M104.5 53.5H913.5V680.5H104.5Z" fill="none" stroke="#000" stroke-width="1"/>
<path d="M146.5 680.5v-2.5M146.5 53.5v2.5M191.5 680.5v-2.5M191.5 53.5v2.5M236.5 680.5v-2.5M236.5 53.5v2.5M280.5 680.5v-2.5M280.5 53.5v2.5M325.5 680.5v-2.5M325.5 53.5v2.5M370.5 680.5v-5.5M370.5 53.5v5.5M415.5 680.5v-2.5M415.5 53.5v2.5M460.5 680.5v-2.5M460.5 53.5v2.5M504.5 680.5v-2.5M504.5 53.5v2.5M549.5 680.5v-2.5M549.5 53.5v2.5M594.5 680.5v-2.5M594.5 53.5v2.5M639.5 680.5v-5.5M639.5 53.5v5.5M684.5 680.5v-2.5M684.5 53.5v2.5M729.5 680.5v-2.5M729.5 53.5v2.5M773.5 680.5v-2.5M773.5 53.5v2.5M818.5 680.5v-2.5M818.5 53.5v2.5M863.5 680.5v-2.5M863.5 53.5v2.5M908.5 680.5v-5.5M908.5 53.5v5.5M104.5 680.5h6.5M913.5 680.5h-6.5M104.5 653.5h3.5M913.5 653.5h-3.5M104.5 627.5h3.5M913.5 627.5h-3.5M104.5 601.5h3.5M913.5 601.5h-3.5M104.5 575.5h6.5M913.5 575.5h-6.5M104.5 549.5h3.5M913.5 549.5h-3.5M104.5 523.5h3.5M913.5 523.5h-3.5M104.5 497.5h3.5M913.5 497.5h-3.5M104.5 471.5h6.5M913.5 471.5h-6.5M104.5 444.5h3.5M913.5 444.5h-3.5M104.5 418.5h3.5M913.5 418.5h-3.5M104.5 392.5h3.5M913.5 392.5h-3.5M104.5 366.5h6.5M913.5 366.5h-6.5M104.5 340.5h3.5M913.5 340.5h-3.5M104.5 314.5h3.5M913.5 314.5h-3.5M104.5 288.5h3.5M913.5 288.5h-3.5M104.5 262.5h6.5M913.5 262.5h-6.5M104.5 235.5h3.5M913.5 235.5h-3.5M104.5 209.5h3.5M913.5 209.5h-3.5M104.5 183.5h3.5M913.5 183.5h-3.5M104.5 157.5h6.5M913.5 157.5h-6.5M104.5 131.5h3.5M913.5 131.5h-3.5M104.5 105.5h3.5M913.5 105.5h-3.5M104.5 79.5h3.5M913.5 79.5h-3.5M104.5 53.5h6.5M913.5 53.5h-6.5" fill="none" stroke="#000" stroke-width="1"/>
<defs><linearGradient id="cb" x1="0" y1="1" x2="0" y2="0">
<stop offset="0.0%" stop-color="rgb(0,0,0)"/>
<stop offset="10.0%" stop-color="rgb(5,0,62)"/>
<stop offset="15.0%" stop-color="rgb(8,12,88)"/>
<stop offset="20.0%" stop-color="rgb(0,55,100)"/>
<stop offset="25.0%" stop-color="rgb(0,108,100)"/>
<stop offset="30.0%" stop-color="rgb(0,146,100)"/>
<stop offset="35.0%" stop-color="rgb(0,150,62)"/>
<stop offset="43.8%" stop-color="rgb(0,142,0)"/>
<stop offset="47.0%" stop-color="rgb(62,122,0)"/>
<stop offset="50.0%" stop-color="rgb(124,102,0)"/>
<stop offset="53.0%" stop-color="rgb(166,52,0)"/>
<stop offset="56.2%" stop-color="rgb(205,0,0)"/>
<stop offset="63.0%" stop-color="rgb(213,40,0)"/>
<stop offset="70.0%" stop-color="rgb(222,90,0)"/>
<stop offset="80.0%" stop-color="rgb(234,148,0)"/>
<stop offset="90.0%" stop-color="rgb(245,203,0)"/>
<stop offset="100.0%" stop-color="rgb(255,255,0)"/>
</linearGradient></defs>
<rect x="923.5" y="128.5" width="25" height="477" fill="url(#cb)" stroke="#222" stroke-width="1"/>
<path d="M948.5 581.5h-1.5M948.5 557.5h-2.5M948.5 533.5h-1.5M948.5 509.5h-2.5M948.5 486.5h-1.5M948.5 462.5h-2.5M948.5 438.5h-1.5M948.5 414.5h-2.5M948.5 390.5h-1.5M948.5 366.5h-2.5M948.5 342.5h-1.5M948.5 318.5h-2.5M948.5 294.5h-1.5M948.5 270.5h-2.5M948.5 247.5h-1.5M948.5 223.5h-2.5M948.5 199.5h-1.5M948.5 175.5h-2.5M948.5 151.5h-1.5" fill="none" stroke="#000" stroke-width="1"/>
<g style="font-family:'Liberation Sans',sans-serif;font-size:20px;fill:#000" opacity="0.999">
<text x="255" y="39.5" xml:space="preserve">Skewness   04:01 12.08.2020 - 07:01 12.08.2020 Muenchen</text>
<text x="99.7" y="680.2" text-anchor="end">0</text>
<text x="99.7" y="582.2" text-anchor="end">2</text>
<text x="99.7" y="478.2" text-anchor="end">4</text>
<text x="99.7" y="373.2" text-anchor="end">6</text>
<text x="99.7" y="269.2" text-anchor="end">8</text>
<text x="99.7" y="164.2" text-anchor="end">10</text>
<text x="99.7" y="65.2" text-anchor="end">12</text>
<text x="370" y="705" text-anchor="middle">05:00</text>
<text x="640" y="705" text-anchor="middle">06:00</text>
<text x="909.5" y="705" text-anchor="middle">07:00</text>
<text x="509.5" y="726.5" text-anchor="middle">Time UTC</text>
<text transform="translate(62.2,365) rotate(-90)" text-anchor="middle">Height km</text>
<text transform="translate(989,373.5) rotate(-90)" text-anchor="middle">SKWg</text>
<text x="953.2" y="182.6">4</text>
<text x="953.2" y="277.6">2</text>
<text x="953.2" y="373.6">0</text>
<text x="953.2" y="469.6">-2</text>
<text x="953.2" y="564.6">-4</text>
</g>
</svg>
</body></html>
